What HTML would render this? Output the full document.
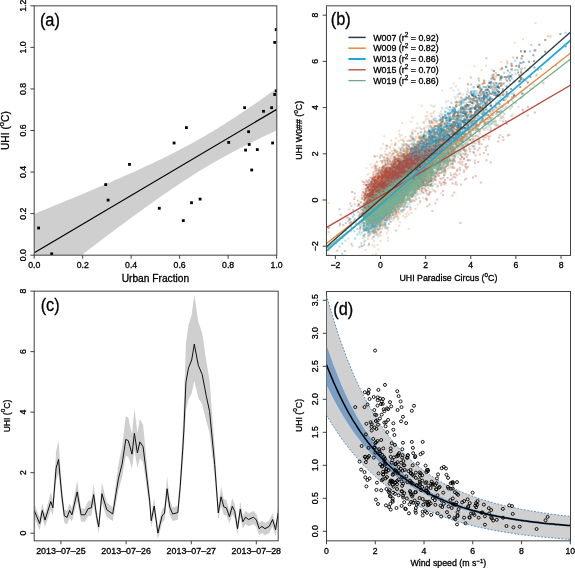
<!DOCTYPE html><html><head><meta charset="utf-8"><style>html,body{margin:0;padding:0;background:#fff;}svg{display:block;will-change:transform;} svg text{stroke:#000;stroke-width:0.3px;}</style></head><body>
<svg width="575" height="568" viewBox="0 0 575 568" font-family='"Liberation Sans", sans-serif' fill="#000">
<rect width="575" height="568" fill="#fff"/>
<defs><clipPath id="ca"><rect x="34.2" y="5.83" width="242.6" height="249.34"/></clipPath><clipPath id="cb"><rect x="326.45" y="5.83" width="244.05" height="249.62"/></clipPath><clipPath id="cc"><rect x="34.2" y="291.17" width="243.97" height="249.66"/></clipPath><clipPath id="cd"><rect x="326.5" y="291.5" width="243.5" height="249.33"/></clipPath></defs>
<g clip-path="url(#ca)"><polygon points="34.3,213.9 38.3,212.2 42.4,210.6 46.4,208.9 50.5,207.3 54.5,205.6 58.5,204.0 62.6,202.3 66.6,200.6 70.7,199.0 74.7,197.3 78.7,195.6 82.8,193.9 86.8,192.2 90.9,190.5 94.9,188.8 98.9,187.1 103.0,185.4 107.0,183.6 111.1,181.9 115.1,180.1 119.1,178.4 123.2,176.6 127.2,174.8 131.3,173.0 135.3,171.2 139.3,169.3 143.4,167.5 147.4,165.6 151.5,163.7 155.5,161.8 159.5,159.9 163.6,157.9 167.6,155.9 171.7,153.9 175.7,151.8 179.7,149.7 183.8,147.6 187.8,145.5 191.9,143.3 195.9,141.0 199.9,138.7 204.0,136.4 208.0,134.1 212.1,131.7 216.1,129.2 220.1,126.7 224.2,124.2 228.2,121.6 232.3,119.0 236.3,116.4 240.3,113.7 244.4,111.0 248.4,108.3 252.5,105.5 256.5,102.7 260.5,99.9 264.6,97.0 268.6,94.1 272.7,91.3 276.7,88.3 276.7,130.4 272.7,132.3 268.6,134.2 264.6,136.1 260.5,138.0 256.5,140.0 252.5,141.9 248.4,144.0 244.4,146.0 240.3,148.1 236.3,150.2 232.3,152.3 228.2,154.5 224.2,156.7 220.1,158.9 216.1,161.2 212.1,163.5 208.0,165.9 204.0,168.3 199.9,170.8 195.9,173.3 191.9,175.8 187.8,178.4 183.8,181.0 179.7,183.7 175.7,186.4 171.7,189.1 167.6,191.9 163.6,194.6 159.5,197.5 155.5,200.3 151.5,203.2 147.4,206.0 143.4,208.9 139.3,211.9 135.3,214.8 131.3,217.8 127.2,220.7 123.2,223.7 119.1,226.7 115.1,229.7 111.1,232.8 107.0,235.8 103.0,238.8 98.9,241.9 94.9,244.9 90.9,248.0 86.8,251.1 82.8,254.2 78.7,257.2 74.7,260.3 70.7,263.4 66.6,266.5 62.6,269.6 58.5,272.8 54.5,275.9 50.5,279.0 46.4,282.1 42.4,285.2 38.3,288.4 34.3,291.5" fill="#cfcfcf"/>
<line x1="34.3" y1="252.7" x2="276.8" y2="109.3" stroke="#000" stroke-width="1.2"/>
<rect x="37.20" y="226.60" width="2.8" height="2.8" fill="#000"/>
<rect x="50.30" y="252.40" width="2.8" height="2.8" fill="#000"/>
<rect x="104.30" y="183.20" width="2.8" height="2.8" fill="#000"/>
<rect x="106.70" y="198.70" width="2.8" height="2.8" fill="#000"/>
<rect x="128.10" y="163.00" width="2.8" height="2.8" fill="#000"/>
<rect x="157.90" y="206.90" width="2.8" height="2.8" fill="#000"/>
<rect x="172.70" y="141.60" width="2.8" height="2.8" fill="#000"/>
<rect x="181.90" y="219.20" width="2.8" height="2.8" fill="#000"/>
<rect x="185.00" y="126.20" width="2.8" height="2.8" fill="#000"/>
<rect x="190.10" y="201.30" width="2.8" height="2.8" fill="#000"/>
<rect x="198.70" y="197.70" width="2.8" height="2.8" fill="#000"/>
<rect x="227.30" y="141.00" width="2.8" height="2.8" fill="#000"/>
<rect x="243.20" y="106.30" width="2.8" height="2.8" fill="#000"/>
<rect x="244.20" y="148.70" width="2.8" height="2.8" fill="#000"/>
<rect x="247.20" y="130.30" width="2.8" height="2.8" fill="#000"/>
<rect x="247.80" y="143.10" width="2.8" height="2.8" fill="#000"/>
<rect x="250.30" y="168.60" width="2.8" height="2.8" fill="#000"/>
<rect x="255.90" y="148.20" width="2.8" height="2.8" fill="#000"/>
<rect x="262.10" y="109.90" width="2.8" height="2.8" fill="#000"/>
<rect x="270.20" y="106.30" width="2.8" height="2.8" fill="#000"/>
<rect x="271.20" y="141.60" width="2.8" height="2.8" fill="#000"/>
<rect x="273.30" y="93.10" width="2.8" height="2.8" fill="#000"/>
<rect x="274.80" y="89.50" width="2.8" height="2.8" fill="#000"/>
<rect x="273.30" y="41.00" width="2.8" height="2.8" fill="#000"/>
<rect x="274.80" y="28.20" width="2.8" height="2.8" fill="#000"/>
</g>
<rect x="34.2" y="5.83" width="242.60" height="249.34" fill="none" stroke="#404040" stroke-width="1.0"/>
<line x1="34.20" y1="255.17" x2="34.20" y2="258.66999999999996" stroke="#404040" stroke-width="1"/>
<text x="34.20" y="268.2" font-size="8.7" text-anchor="middle">0.0</text>
<line x1="82.68" y1="255.17" x2="82.68" y2="258.66999999999996" stroke="#404040" stroke-width="1"/>
<text x="82.68" y="268.2" font-size="8.7" text-anchor="middle">0.2</text>
<line x1="131.16" y1="255.17" x2="131.16" y2="258.66999999999996" stroke="#404040" stroke-width="1"/>
<text x="131.16" y="268.2" font-size="8.7" text-anchor="middle">0.4</text>
<line x1="179.64" y1="255.17" x2="179.64" y2="258.66999999999996" stroke="#404040" stroke-width="1"/>
<text x="179.64" y="268.2" font-size="8.7" text-anchor="middle">0.6</text>
<line x1="228.12" y1="255.17" x2="228.12" y2="258.66999999999996" stroke="#404040" stroke-width="1"/>
<text x="228.12" y="268.2" font-size="8.7" text-anchor="middle">0.8</text>
<line x1="276.60" y1="255.17" x2="276.60" y2="258.66999999999996" stroke="#404040" stroke-width="1"/>
<text x="276.60" y="268.2" font-size="8.7" text-anchor="middle">1.0</text>
<line x1="30.400000000000002" y1="255.17" x2="34.2" y2="255.17" stroke="#404040" stroke-width="1"/>
<text transform="translate(26.2,255.17) rotate(-90)" font-size="8.7" text-anchor="middle">0.0</text>
<line x1="30.400000000000002" y1="213.61" x2="34.2" y2="213.61" stroke="#404040" stroke-width="1"/>
<text transform="translate(26.2,213.61) rotate(-90)" font-size="8.7" text-anchor="middle">0.2</text>
<line x1="30.400000000000002" y1="172.05" x2="34.2" y2="172.05" stroke="#404040" stroke-width="1"/>
<text transform="translate(26.2,172.05) rotate(-90)" font-size="8.7" text-anchor="middle">0.4</text>
<line x1="30.400000000000002" y1="130.49" x2="34.2" y2="130.49" stroke="#404040" stroke-width="1"/>
<text transform="translate(26.2,130.49) rotate(-90)" font-size="8.7" text-anchor="middle">0.6</text>
<line x1="30.400000000000002" y1="88.93" x2="34.2" y2="88.93" stroke="#404040" stroke-width="1"/>
<text transform="translate(26.2,88.93) rotate(-90)" font-size="8.7" text-anchor="middle">0.8</text>
<line x1="30.400000000000002" y1="47.37" x2="34.2" y2="47.37" stroke="#404040" stroke-width="1"/>
<text transform="translate(26.2,47.37) rotate(-90)" font-size="8.7" text-anchor="middle">1.0</text>
<line x1="30.400000000000002" y1="5.81" x2="34.2" y2="5.81" stroke="#404040" stroke-width="1"/>
<text transform="translate(26.2,5.81) rotate(-90)" font-size="8.7" text-anchor="middle">1.2</text>
<text x="155.4" y="282.4" font-size="10.2" text-anchor="middle">Urban Fraction</text>
<text transform="translate(9.3,130.6) rotate(-90)" font-size="10.2" text-anchor="middle">UHI (<tspan font-size="7.65" dy="-5.10">o</tspan><tspan dy="5.10">C)</tspan></text>
<text x="39.9" y="26.2" font-size="18" textLength="20" lengthAdjust="spacingAndGlyphs">(a)</text>
<g clip-path="url(#cb)">
<path d="M398.1 197.0h0M390.8 178.6h0M387.9 205.3h0M370.0 203.1h0M403.4 164.2h0M389.2 178.6h0M380.0 207.0h0M375.1 207.9h0M398.8 187.8h0M394.9 199.3h0M376.8 214.3h0M393.0 184.4h0M380.5 191.3h0M380.7 195.3h0M404.2 181.5h0M391.3 183.3h0M403.9 162.6h0M401.4 183.5h0M395.1 181.0h0M404.8 186.1h0M400.8 150.7h0M385.9 174.9h0M372.6 205.5h0M368.3 219.5h0M376.2 208.2h0M407.3 183.1h0M409.0 145.8h0M376.9 197.0h0M378.7 181.9h0M367.5 213.2h0M377.3 185.7h0M367.1 215.0h0M383.9 167.7h0M381.8 195.7h0M401.6 178.7h0M413.9 172.4h0M401.2 186.9h0M408.2 162.8h0M385.7 200.1h0M399.4 169.2h0M387.2 174.4h0M392.0 177.7h0M389.7 169.8h0M376.2 196.0h0M406.5 159.3h0M403.4 195.3h0M383.0 216.9h0M410.5 190.9h0M393.2 203.0h0M394.0 203.9h0M382.6 184.8h0M402.0 176.9h0M391.1 204.5h0M369.6 201.5h0M386.6 197.6h0M373.0 193.2h0M396.0 197.4h0M387.2 219.3h0M389.3 181.6h0M375.9 215.4h0M410.2 167.3h0M377.1 188.3h0M399.8 166.7h0M411.1 179.3h0M391.9 192.4h0M366.7 196.0h0M381.9 175.3h0M415.6 189.4h0M391.2 180.3h0M419.4 137.4h0M390.0 172.4h0M392.3 186.6h0M408.4 154.6h0M377.7 220.6h0M376.4 229.6h0M411.8 165.7h0M397.4 201.1h0M404.6 185.0h0M406.4 191.2h0M397.2 185.4h0M385.7 183.9h0M385.0 179.5h0M406.9 167.2h0M399.6 182.8h0M400.3 185.2h0M397.4 181.8h0M403.4 182.4h0M406.4 166.4h0M386.9 194.1h0M406.6 178.7h0M386.1 189.4h0M391.3 184.6h0M364.6 217.4h0M393.4 188.3h0M376.1 215.9h0M393.9 168.0h0M374.4 221.0h0M402.8 190.3h0M375.6 193.2h0M366.0 214.0h0M415.0 191.3h0M401.2 168.1h0M387.9 227.7h0M408.0 155.2h0M379.5 219.4h0M402.0 159.5h0M364.3 210.1h0M394.4 186.1h0M382.2 204.7h0M388.8 175.9h0M389.6 181.8h0M394.3 199.8h0M402.7 182.5h0M388.3 180.5h0M386.7 197.4h0M389.9 202.2h0M402.8 184.1h0M412.6 157.5h0M376.3 207.3h0M412.8 176.2h0M413.3 193.1h0M385.9 203.2h0M385.7 205.2h0M403.7 165.3h0M396.1 185.5h0M399.7 159.2h0M387.1 228.4h0M385.9 186.8h0M376.5 232.2h0M435.0 120.5h0M393.2 197.0h0M386.0 189.1h0M387.5 171.6h0M373.5 205.7h0M374.3 194.2h0M393.1 185.5h0M400.3 200.8h0M382.4 188.4h0M377.5 199.7h0M391.8 189.8h0M391.2 187.8h0M402.1 185.7h0M382.0 184.8h0M383.8 175.8h0M385.3 191.7h0M382.6 207.0h0M410.0 186.0h0M411.8 177.7h0M374.4 200.2h0M399.2 178.6h0M379.5 201.0h0M408.7 179.4h0M394.4 177.4h0M397.4 176.6h0M395.3 193.4h0M407.4 159.5h0M387.0 189.4h0M397.3 170.8h0M377.3 181.8h0M389.9 190.6h0M384.0 207.4h0M406.5 170.8h0M381.1 185.0h0M398.4 185.1h0M377.3 189.4h0M404.9 172.2h0M398.1 165.3h0M412.0 159.5h0M382.7 207.7h0M389.8 175.3h0M384.1 188.5h0M386.4 220.0h0M393.9 200.2h0M411.0 186.0h0M380.2 204.9h0M398.5 187.7h0M388.4 203.2h0M368.7 193.4h0M414.3 183.0h0M411.8 170.5h0M399.1 170.1h0M387.9 200.3h0M395.2 185.7h0M411.1 173.6h0M375.6 200.9h0M391.5 180.8h0M390.1 186.9h0M402.5 175.5h0M394.6 191.3h0M395.1 178.4h0M390.2 192.4h0M426.5 181.2h0M374.8 199.6h0M391.7 173.9h0M407.7 161.7h0M374.5 213.7h0M388.6 214.3h0M413.5 175.2h0M412.2 175.5h0M386.7 185.5h0M380.5 209.0h0M397.7 171.1h0M382.7 218.4h0M366.8 217.5h0M392.6 180.6h0M403.7 206.8h0M399.0 184.4h0M413.7 178.1h0M389.9 190.9h0M379.5 207.7h0M390.0 195.7h0M392.1 190.4h0M413.9 189.1h0M369.4 214.8h0M392.1 201.5h0M406.8 170.6h0M372.2 206.3h0M401.3 173.5h0M389.9 184.5h0M380.1 216.7h0M378.5 192.6h0M384.2 205.9h0M394.3 200.7h0M386.9 188.2h0M379.5 222.2h0M389.9 197.3h0M397.2 194.2h0M396.6 165.1h0M403.2 173.8h0M405.9 162.9h0M393.0 192.1h0M377.5 216.5h0M377.0 198.7h0M401.6 204.0h0M396.5 186.4h0M392.2 197.4h0M403.5 172.5h0M400.2 185.4h0M375.6 218.2h0M407.2 150.7h0M386.8 193.6h0M380.2 181.7h0M381.1 197.5h0M405.9 144.0h0M411.2 201.3h0M392.1 189.7h0M389.7 203.0h0M413.4 177.4h0M375.1 207.1h0M405.8 189.2h0M407.9 174.3h0M370.2 186.7h0M412.2 143.4h0M411.7 175.0h0M423.6 182.1h0M382.6 175.5h0M375.2 181.3h0M413.9 157.9h0M372.8 226.3h0M383.1 196.2h0M373.9 197.3h0M392.6 196.0h0M384.5 203.4h0M391.8 185.4h0M395.6 191.1h0M367.9 216.8h0M376.1 198.0h0M402.6 201.2h0M390.6 182.6h0M391.5 182.8h0M395.5 191.4h0M375.2 195.6h0M388.7 197.1h0M383.3 183.6h0M402.4 188.3h0M365.6 229.9h0M392.7 192.1h0M381.3 183.0h0M405.5 178.4h0M382.0 188.2h0M408.7 175.7h0M390.3 182.8h0M372.6 230.9h0M384.3 179.5h0M399.7 190.9h0M385.8 205.5h0M384.2 211.9h0M416.3 187.9h0M382.5 192.2h0M388.6 171.3h0M392.0 175.0h0M396.0 201.7h0M397.3 172.6h0M390.5 187.6h0M411.5 196.3h0M367.5 203.7h0M388.8 178.8h0M367.5 230.1h0M399.5 168.2h0M419.4 186.0h0M393.8 162.6h0M406.0 176.8h0M361.4 243.4h0M402.7 172.2h0M395.5 189.4h0M395.7 184.4h0M375.8 202.4h0M399.2 179.0h0M383.6 202.7h0M398.8 160.5h0M399.9 171.3h0M379.5 194.5h0M403.9 160.4h0M388.6 192.9h0M401.3 172.5h0M379.5 207.1h0M388.5 209.3h0M395.7 162.4h0M389.5 183.8h0M373.8 220.2h0M400.5 174.0h0M382.9 195.6h0M380.2 186.6h0M393.4 206.5h0M405.4 172.8h0M385.8 205.1h0M381.1 200.0h0M371.1 202.1h0M403.9 162.3h0M370.8 206.4h0M397.4 168.6h0M392.0 188.6h0M409.9 181.4h0M386.0 214.2h0M400.1 180.8h0M384.9 165.2h0M386.0 186.5h0M403.4 176.0h0M413.1 168.0h0M363.7 228.1h0M376.7 225.7h0M396.9 204.2h0M394.9 171.0h0M386.9 171.9h0M388.7 194.1h0M404.0 145.1h0M378.4 214.0h0M399.4 197.9h0M414.3 185.7h0M400.0 182.5h0M401.4 160.7h0M406.0 162.2h0M388.3 178.7h0M370.1 213.1h0M410.9 171.3h0M392.0 198.0h0M405.0 187.7h0M382.4 188.1h0M378.5 176.9h0M389.0 181.1h0M395.4 158.5h0M388.9 181.9h0M408.9 189.7h0M399.8 193.0h0M409.6 154.2h0M377.7 195.4h0M375.6 200.4h0M405.8 203.1h0M379.8 225.5h0M394.8 190.2h0M399.8 169.3h0M374.8 185.7h0M383.4 210.3h0M368.1 194.0h0M410.2 173.0h0M374.9 215.4h0M393.9 164.5h0M399.5 159.6h0M369.0 212.1h0M376.5 195.4h0M380.0 195.8h0M385.7 181.8h0M373.2 207.6h0M405.8 176.4h0M375.9 208.7h0M404.5 158.6h0M387.4 200.3h0M399.7 177.3h0M386.0 173.6h0M408.8 157.9h0M403.9 174.9h0M388.7 189.3h0M379.8 212.4h0M381.1 209.0h0M389.0 180.4h0M389.5 178.0h0M387.2 201.7h0M404.4 156.8h0M410.8 165.4h0M391.3 178.5h0M391.0 196.5h0M413.6 164.1h0M401.0 177.3h0M408.6 173.7h0M382.4 162.4h0M461.2 97.6h0M401.9 187.9h0M382.2 193.9h0M409.9 169.3h0M406.5 164.1h0M383.5 186.7h0M385.1 196.4h0M397.3 186.1h0M369.3 212.6h0M385.0 181.9h0M375.3 198.0h0M376.4 188.7h0M367.8 215.5h0M383.2 177.8h0M406.4 160.7h0M399.9 161.2h0M388.5 204.1h0M394.3 196.9h0M399.3 178.1h0M403.6 141.0h0M380.3 210.6h0M395.0 187.8h0M367.5 202.3h0M387.3 203.2h0M380.2 196.5h0M389.6 191.0h0M402.2 161.4h0M381.6 194.1h0M393.7 184.7h0M389.1 176.7h0M392.5 183.9h0M389.2 176.3h0M376.4 198.9h0M397.0 180.2h0M407.1 167.8h0M396.9 187.0h0M382.9 170.2h0M369.4 214.4h0M410.4 207.2h0M391.9 198.2h0M380.4 219.4h0M382.6 204.0h0M387.9 197.6h0M387.6 168.8h0M368.4 209.3h0M395.2 145.0h0M372.2 216.6h0M380.7 155.5h0M401.2 178.8h0M407.7 178.3h0M371.1 211.3h0M391.8 209.8h0M371.4 193.9h0M408.8 180.4h0M392.3 207.9h0M375.2 188.2h0M398.2 179.2h0M379.9 196.7h0M378.0 187.3h0M406.0 165.5h0M399.7 184.4h0M388.8 184.0h0M381.7 214.6h0M403.4 210.3h0M396.9 203.6h0M382.0 212.4h0M383.6 209.1h0M379.9 199.1h0M405.1 166.9h0M385.8 178.9h0M392.0 180.0h0M409.9 184.0h0M390.8 177.4h0M411.5 177.1h0M406.6 171.6h0M395.0 195.0h0M378.0 201.1h0M404.6 175.6h0M403.9 168.0h0M366.9 215.7h0M388.4 204.7h0M402.7 166.6h0M398.0 185.6h0M410.7 177.2h0M394.3 186.0h0M399.2 176.8h0M404.1 188.3h0M395.1 206.3h0M374.4 215.8h0M395.7 195.9h0M382.3 188.5h0M370.7 219.8h0M374.0 217.6h0M379.2 199.8h0M403.7 175.6h0M403.4 197.6h0M381.2 205.6h0M382.7 184.6h0M373.4 206.3h0M393.9 196.4h0M389.4 183.0h0M392.5 175.8h0M376.1 209.4h0M408.5 158.5h0M394.6 187.5h0M379.3 207.9h0M375.4 206.5h0M376.1 189.2h0M378.7 190.3h0M369.4 224.7h0M374.1 216.6h0M366.6 225.9h0M395.8 207.3h0M406.0 156.0h0M401.7 163.5h0M404.2 172.9h0M378.9 185.3h0M429.3 121.0h0M391.4 178.0h0M378.6 193.0h0M393.0 179.5h0M396.4 201.4h0M376.0 190.6h0M383.9 188.2h0M402.6 171.4h0M401.7 197.4h0M372.2 197.2h0M368.4 200.1h0M409.2 171.4h0M379.7 189.1h0M406.5 181.5h0M380.2 207.0h0M386.5 191.1h0M408.8 149.6h0M375.4 208.4h0M388.2 185.7h0M397.6 192.0h0M396.5 186.5h0M384.4 184.4h0M388.2 205.7h0M381.1 193.0h0M387.6 209.6h0M387.7 185.7h0M368.7 205.4h0M399.7 180.8h0M391.6 177.5h0M392.3 162.6h0M392.1 181.1h0M384.3 179.9h0M423.2 185.0h0M365.1 213.3h0M400.1 178.2h0M396.9 181.7h0M382.0 174.9h0M399.3 178.7h0M406.8 179.2h0M378.2 175.6h0M375.4 214.9h0M395.7 187.5h0M402.7 156.9h0M396.0 193.8h0M383.4 193.1h0M389.5 176.2h0M380.3 218.5h0M400.0 167.4h0M380.9 232.1h0M392.9 199.4h0M388.2 190.5h0M386.4 186.8h0M406.9 163.0h0M382.4 201.0h0M392.0 178.3h0M382.0 191.6h0M405.0 178.2h0M393.0 200.6h0M370.9 186.3h0M376.1 219.5h0M411.5 179.9h0M385.6 175.9h0M376.4 211.3h0M390.0 179.9h0M406.0 172.4h0M371.4 211.0h0M387.8 190.7h0M379.1 208.3h0M391.5 167.6h0M407.6 171.7h0M391.1 189.8h0M392.7 181.2h0M366.9 198.8h0M381.3 187.0h0M410.8 149.0h0M384.3 191.3h0M408.8 186.1h0M387.1 170.1h0M377.7 212.4h0M411.9 178.2h0M413.2 167.5h0M388.7 203.1h0M373.1 190.2h0M382.6 200.8h0M375.9 216.0h0M382.5 207.7h0M382.3 202.5h0M395.1 161.7h0M392.5 191.7h0M387.2 175.6h0M399.1 203.2h0M392.9 185.9h0M386.3 206.7h0M382.5 186.1h0M400.7 171.7h0M403.4 165.1h0M409.9 170.6h0M390.9 172.2h0M383.7 194.6h0M398.2 191.6h0M386.9 189.4h0M386.1 197.7h0M393.2 165.3h0M383.3 189.8h0M389.2 188.9h0M411.1 188.2h0M384.7 203.3h0M375.7 208.8h0M396.0 194.7h0M396.3 159.8h0M374.7 231.4h0M393.5 182.2h0M384.7 201.8h0M367.8 199.7h0M413.3 148.7h0M382.3 208.7h0M363.1 212.8h0M395.7 181.0h0M408.3 180.2h0M380.3 202.8h0M397.0 198.8h0M392.3 205.1h0M370.9 223.1h0M394.6 205.5h0M402.0 190.3h0M377.8 193.7h0M389.9 198.7h0M398.4 185.3h0M413.8 161.6h0M408.8 164.9h0M388.6 177.9h0M389.3 200.2h0M396.9 183.8h0M397.0 177.2h0M414.2 157.4h0M381.1 207.7h0M403.9 183.4h0M393.6 201.5h0M390.4 175.6h0M403.0 191.2h0M377.6 196.7h0M391.4 187.5h0M388.6 202.1h0M378.7 193.2h0M369.0 194.5h0M375.0 207.2h0M398.4 166.8h0M409.6 155.5h0M388.3 171.1h0M412.3 156.6h0M380.1 225.2h0M372.3 178.5h0M392.9 179.0h0M383.7 198.0h0M406.8 171.0h0M390.5 185.6h0M395.1 178.1h0M377.9 200.8h0M384.5 188.9h0M397.4 176.1h0M390.2 172.9h0M383.7 204.1h0M394.7 189.8h0M373.5 201.7h0M412.8 154.7h0M385.6 198.3h0M405.2 162.3h0M387.9 187.5h0M365.9 216.6h0M399.7 174.7h0M386.2 200.9h0M397.4 189.5h0M397.7 170.3h0M380.6 171.5h0M398.2 178.9h0M387.9 202.2h0M401.1 170.8h0M380.3 206.3h0M398.0 192.7h0M381.0 217.6h0M412.3 133.0h0M396.0 181.6h0M396.2 172.9h0M379.4 202.1h0M375.8 226.5h0M386.5 190.2h0M378.2 176.6h0M395.4 166.8h0M389.7 197.6h0M384.4 181.4h0M394.8 173.4h0M372.6 199.2h0M406.8 177.0h0M392.4 194.7h0M388.8 167.7h0M389.6 186.3h0M403.8 181.5h0M384.0 210.3h0M372.8 200.1h0M395.2 190.7h0M392.7 177.3h0M382.4 172.2h0M388.1 210.6h0M401.2 167.9h0M371.1 209.1h0M384.0 210.2h0M380.3 185.0h0M387.6 159.0h0M375.5 196.6h0M403.5 162.9h0M388.0 177.0h0M380.0 204.7h0M384.9 193.6h0M371.5 214.5h0M388.5 159.3h0M400.8 184.9h0M367.3 206.6h0M381.5 191.9h0M393.6 168.0h0M402.4 177.3h0M370.9 207.1h0M383.7 171.4h0M385.8 188.9h0M380.8 195.3h0M378.0 173.4h0M395.5 197.6h0M376.1 183.6h0M395.0 186.6h0M377.3 191.9h0M412.6 162.8h0M377.6 196.9h0M392.7 212.4h0M410.4 167.4h0M374.0 200.1h0M385.1 189.6h0M383.3 182.4h0M383.1 197.4h0M414.0 170.8h0M385.4 189.1h0M363.8 236.0h0M377.2 185.3h0M400.6 177.9h0M374.7 206.5h0M392.6 174.0h0M387.6 161.3h0M392.7 188.4h0M411.6 160.9h0M375.5 215.0h0M405.0 178.6h0M399.3 164.6h0M391.2 191.6h0M400.4 173.8h0M380.6 205.9h0M396.4 194.0h0M396.4 199.3h0M399.0 200.9h0M367.8 215.6h0M413.2 188.5h0M394.5 162.8h0M395.0 177.8h0M372.1 186.7h0M382.6 171.7h0M384.8 188.3h0M399.1 168.3h0M412.4 144.9h0M373.4 202.1h0M383.7 192.5h0M371.0 214.8h0M376.1 207.9h0M398.5 177.0h0M363.3 182.1h0M401.4 171.5h0M393.8 183.3h0M402.0 164.6h0M389.3 211.6h0M409.2 177.3h0M392.7 183.9h0M386.0 197.6h0M387.0 187.7h0M389.1 184.7h0M403.7 195.7h0M372.3 220.4h0M371.5 207.5h0M376.9 194.7h0M407.0 167.8h0M385.3 170.1h0M364.8 203.9h0M388.5 179.6h0M411.7 172.3h0M393.9 182.3h0M381.4 171.7h0M374.5 177.5h0M384.2 191.5h0M395.4 199.6h0M390.3 191.2h0M400.4 181.6h0M397.0 185.5h0M399.9 185.0h0M374.3 190.1h0M372.6 210.3h0M375.9 196.8h0M395.1 165.0h0M370.8 221.7h0M397.7 182.8h0M387.1 173.2h0M373.3 200.0h0M365.7 191.3h0M413.8 171.0h0M372.4 202.1h0M374.6 221.4h0M385.6 224.8h0M379.6 211.2h0M407.0 172.5h0M374.1 208.0h0M397.7 190.4h0M393.4 186.2h0M361.7 217.0h0M392.9 194.2h0M385.4 188.5h0M382.7 204.6h0M373.5 211.7h0M389.9 215.0h0M379.8 201.5h0M395.3 188.6h0M374.4 209.7h0M393.6 178.6h0M378.0 194.8h0M390.0 161.3h0M370.6 207.5h0M378.1 219.3h0M400.5 183.1h0M394.0 161.1h0M391.4 174.4h0M378.5 229.2h0M379.5 180.4h0M399.7 195.3h0M395.3 200.3h0M391.7 184.7h0M386.0 187.0h0M381.6 188.0h0M395.9 187.9h0M408.5 159.1h0M369.9 216.0h0M380.2 193.6h0M401.1 192.0h0M375.8 208.7h0M375.1 189.0h0M388.3 205.2h0M401.2 174.6h0M390.2 173.7h0M378.5 199.7h0M388.0 190.8h0M384.1 189.4h0M380.4 199.3h0M388.6 183.4h0M404.8 181.0h0M383.3 185.3h0M413.7 159.2h0M425.1 131.6h0M395.8 172.0h0M384.3 214.4h0M378.2 201.5h0M387.3 173.8h0M366.3 188.2h0M382.5 166.9h0M408.0 166.1h0M405.1 187.1h0M379.7 180.3h0M363.8 225.0h0M369.6 215.0h0M394.6 195.4h0M392.7 202.6h0M408.9 198.3h0M376.4 209.9h0M406.6 167.3h0M412.3 148.4h0M381.5 204.1h0M402.1 187.7h0M395.6 175.2h0M393.7 169.9h0M375.0 207.4h0M385.6 195.8h0M371.4 206.4h0M394.7 195.1h0M411.1 152.0h0M410.1 176.5h0M397.6 189.5h0M399.4 170.9h0M408.0 176.3h0M398.4 196.6h0M378.9 214.6h0M374.2 188.8h0M380.8 194.8h0M375.6 182.5h0M384.7 187.4h0M385.4 195.2h0M389.3 180.0h0M382.7 215.8h0M365.9 209.8h0M406.8 206.4h0M376.7 217.7h0M386.0 196.1h0M374.3 214.1h0M375.3 206.9h0M374.9 210.6h0M375.2 205.7h0M373.8 186.0h0M375.2 217.3h0M395.7 185.6h0M400.5 175.7h0M368.8 213.8h0M395.3 180.3h0M391.5 180.6h0M412.0 161.2h0M404.5 192.3h0M389.8 181.1h0M412.6 184.9h0M375.0 196.7h0M388.3 214.3h0M411.2 180.1h0M411.1 167.2h0M393.2 186.7h0M374.5 194.3h0M400.3 166.8h0M420.3 201.3h0M381.8 155.3h0M408.9 172.4h0M416.2 199.6h0M396.6 182.0h0M405.4 169.0h0M390.8 174.6h0M380.2 177.0h0M388.5 218.3h0M410.9 159.7h0M376.6 189.2h0M392.5 208.1h0M413.6 163.4h0M404.4 167.0h0M390.9 198.1h0M439.6 115.9h0M413.1 153.6h0M392.3 204.6h0M413.8 162.6h0M450.2 160.2h0M393.6 171.0h0M413.9 162.5h0M459.1 150.6h0M397.9 192.1h0M414.1 167.1h0M406.2 194.0h0M391.5 170.5h0M412.4 186.0h0M388.2 173.3h0M430.8 126.7h0M402.5 200.7h0M407.9 164.1h0M415.0 193.1h0M407.1 183.5h0M393.0 171.7h0M406.1 165.6h0M408.5 177.1h0M490.4 130.1h0M405.1 181.6h0M403.7 184.6h0M452.2 163.3h0M411.6 168.3h0M479.0 80.4h0M410.0 173.1h0M406.5 183.6h0M441.5 118.0h0M412.3 172.2h0M406.3 170.6h0M376.1 196.8h0M389.5 180.8h0M386.4 187.5h0M392.3 193.3h0M450.0 107.0h0M388.8 177.3h0M410.1 190.0h0M407.1 173.4h0M412.0 166.0h0M405.9 169.6h0M395.5 183.9h0M391.3 199.7h0M389.3 198.5h0M409.1 169.5h0M398.5 178.2h0M410.1 175.2h0M406.7 199.7h0M400.6 169.3h0M407.7 173.7h0M445.8 166.7h0M470.2 139.9h0M410.5 167.6h0M396.4 168.5h0M402.0 177.6h0M445.3 111.9h0M456.7 101.8h0M427.0 184.5h0M424.4 181.4h0M523.5 93.7h0M445.5 165.9h0M369.1 195.0h0M377.0 216.2h0M401.7 161.1h0M396.4 196.8h0M339.6 209.3h0M363.9 215.7h0M349.2 219.4h0M367.5 207.2h0M400.8 174.5h0M400.3 193.8h0M363.1 228.4h0M396.6 187.2h0M367.5 200.4h0M396.7 183.0h0M392.5 190.2h0M403.1 158.5h0M383.6 192.1h0M339.9 225.2h0M387.1 203.4h0M396.5 191.4h0M386.0 195.3h0M357.4 228.9h0M388.7 178.0h0M371.7 206.8h0M373.4 198.9h0M394.5 182.5h0M381.8 197.0h0M359.5 224.4h0M358.2 212.0h0M361.6 246.0h0M359.5 247.3h0M399.6 177.4h0M392.2 182.9h0M376.3 186.4h0M394.9 169.8h0M389.1 219.5h0M379.5 200.5h0M369.8 219.0h0M391.9 171.6h0M394.2 176.9h0M406.0 191.6h0M352.1 192.0h0M412.0 150.3h0M357.5 229.1h0M378.4 209.0h0M389.3 172.2h0M382.4 199.4h0M369.6 231.1h0M380.6 172.9h0M389.6 204.8h0M374.7 231.7h0M379.5 196.1h0M515.7 102.8h0M411.4 171.9h0M403.9 177.1h0M473.6 87.5h0M510.3 108.6h0M411.5 173.6h0M485.5 128.4h0M521.0 97.9h0M462.6 149.6h0M486.3 58.3h0M470.8 77.6h0M430.8 175.7h0" stroke="#2b3a42" stroke-opacity="0.27" stroke-width="2.0" stroke-linecap="square" fill="none"/>
<path d="M369.2 183.6h0M379.6 202.9h0M402.5 190.2h0M376.9 197.8h0M379.4 190.5h0M393.8 180.9h0M400.8 178.9h0M401.2 194.4h0M395.8 199.8h0M386.1 171.2h0M373.1 180.5h0M387.2 188.4h0M393.5 201.5h0M381.1 204.1h0M390.6 190.9h0M383.6 166.7h0M389.3 198.3h0M387.1 205.7h0M418.1 188.4h0M405.8 174.7h0M370.1 203.6h0M409.1 146.9h0M387.2 180.0h0M389.3 179.9h0M372.9 198.4h0M398.9 185.4h0M388.3 195.8h0M390.5 185.1h0M404.6 191.7h0M380.9 205.1h0M374.0 181.0h0M397.4 194.5h0M395.4 172.4h0M376.9 196.7h0M385.2 199.1h0M382.4 199.1h0M389.8 196.2h0M380.8 172.6h0M392.7 185.8h0M399.4 188.5h0M383.9 183.8h0M407.2 174.9h0M412.3 172.0h0M385.0 190.5h0M389.5 215.1h0M381.8 181.5h0M380.9 194.8h0M376.6 192.3h0M367.0 194.2h0M362.8 215.6h0M386.4 170.9h0M382.9 192.7h0M389.2 200.5h0M399.4 188.1h0M378.4 213.8h0M395.3 176.0h0M380.1 192.8h0M379.2 218.6h0M411.6 175.0h0M387.4 185.5h0M384.7 186.5h0M379.6 195.4h0M382.2 169.4h0M386.4 187.5h0M377.2 185.4h0M413.2 161.0h0M389.2 182.2h0M380.9 191.7h0M400.9 176.3h0M396.5 188.8h0M404.2 169.5h0M387.3 188.3h0M387.3 180.3h0M376.5 183.2h0M385.6 191.1h0M408.6 158.0h0M397.2 183.2h0M393.2 181.9h0M402.1 181.7h0M384.3 157.2h0M386.1 197.1h0M378.2 203.7h0M396.5 172.7h0M386.4 148.6h0M364.2 223.1h0M376.1 191.0h0M405.9 184.4h0M396.9 183.2h0M383.5 196.7h0M375.8 212.5h0M375.1 209.5h0M397.0 203.2h0M401.9 167.4h0M410.0 175.3h0M396.1 193.2h0M366.8 212.5h0M368.8 207.9h0M390.1 205.5h0M374.5 190.8h0M409.6 185.4h0M377.3 196.8h0M374.9 218.9h0M391.7 200.4h0M392.9 169.4h0M400.5 167.1h0M401.3 177.5h0M397.1 181.9h0M377.2 214.6h0M412.6 171.7h0M408.2 169.8h0M412.6 152.8h0M390.4 188.3h0M390.4 197.8h0M376.3 180.3h0M396.7 164.6h0M370.3 197.5h0M374.1 193.2h0M406.2 158.4h0M382.8 188.1h0M377.4 201.1h0M391.3 179.8h0M393.9 180.0h0M369.5 206.7h0M403.5 170.5h0M376.7 216.9h0M383.5 192.0h0M367.1 204.5h0M369.7 205.4h0M385.3 186.9h0M405.9 180.4h0M392.6 183.1h0M382.3 211.7h0M411.9 138.7h0M371.1 221.3h0M402.1 210.5h0M373.2 218.6h0M388.3 198.2h0M406.5 178.1h0M383.2 171.2h0M380.3 212.0h0M391.2 193.0h0M390.0 187.0h0M376.4 188.9h0M379.0 209.1h0M380.5 176.8h0M367.4 217.3h0M390.5 192.0h0M378.8 205.7h0M397.4 166.5h0M408.2 172.0h0M385.7 190.1h0M399.1 186.3h0M369.8 204.6h0M376.7 169.5h0M379.6 167.8h0M400.0 166.1h0M386.1 179.6h0M395.8 213.7h0M389.6 169.4h0M402.4 172.2h0M389.8 168.9h0M384.5 191.9h0M378.5 211.9h0M379.8 187.5h0M392.9 191.9h0M389.5 189.6h0M388.0 185.5h0M395.2 150.4h0M399.0 164.6h0M374.0 204.5h0M403.1 178.4h0M372.8 204.9h0M403.0 157.3h0M382.9 191.2h0M372.5 208.8h0M382.6 218.8h0M408.6 176.4h0M373.5 222.9h0M394.6 181.4h0M377.6 203.7h0M368.1 183.9h0M398.8 183.6h0M393.2 188.2h0M394.5 189.2h0M406.5 156.2h0M378.9 181.9h0M393.9 178.5h0M380.5 184.4h0M370.1 201.9h0M380.8 214.1h0M368.0 187.4h0M381.1 182.1h0M424.1 128.4h0M385.7 182.4h0M397.5 177.4h0M370.0 209.7h0M377.7 209.7h0M375.8 180.9h0M409.1 164.4h0M393.6 168.5h0M380.5 184.3h0M384.0 208.8h0M391.8 198.7h0M373.3 196.2h0M387.6 183.1h0M402.3 170.7h0M397.2 197.6h0M380.3 169.9h0M391.7 181.2h0M392.3 191.5h0M388.5 185.4h0M400.0 187.8h0M411.3 175.9h0M369.8 234.6h0M387.0 218.0h0M397.9 177.1h0M387.6 182.7h0M372.0 212.5h0M401.3 185.0h0M376.1 184.4h0M387.2 192.1h0M385.7 191.6h0M388.8 195.5h0M388.7 208.7h0M405.1 201.5h0M375.4 199.0h0M372.1 195.4h0M405.5 162.1h0M374.9 209.9h0M385.6 222.5h0M411.5 183.1h0M376.7 184.3h0M393.7 197.9h0M376.0 194.2h0M383.9 199.4h0M406.1 172.0h0M374.5 232.7h0M390.7 193.2h0M380.3 206.7h0M398.2 201.8h0M375.9 185.1h0M393.2 171.7h0M398.7 175.9h0M383.9 215.9h0M377.0 212.2h0M376.8 191.1h0M384.5 213.2h0M396.4 182.1h0M394.4 174.8h0M407.0 188.1h0M382.3 191.5h0M370.4 208.4h0M383.0 174.6h0M381.4 189.7h0M387.3 184.9h0M393.1 183.3h0M391.9 178.0h0M395.3 174.0h0M380.6 185.2h0M397.1 175.6h0M396.8 191.1h0M362.7 213.5h0M373.9 203.9h0M380.7 207.5h0M373.0 199.8h0M390.7 200.0h0M377.9 198.2h0M400.4 148.7h0M406.3 178.3h0M376.1 215.7h0M374.9 189.4h0M406.7 180.1h0M376.5 196.5h0M386.1 199.2h0M384.9 211.6h0M398.1 168.1h0M364.2 244.7h0M377.8 189.6h0M376.6 180.8h0M401.1 196.9h0M377.9 202.4h0M413.6 176.6h0M394.7 184.2h0M372.4 231.3h0M395.7 211.0h0M400.0 184.5h0M388.7 190.6h0M380.1 207.9h0M381.5 196.8h0M379.2 211.3h0M395.6 186.8h0M389.3 191.2h0M366.3 214.8h0M399.0 175.0h0M386.3 190.1h0M372.3 209.2h0M379.4 197.2h0M378.4 212.8h0M374.2 194.1h0M380.5 192.3h0M397.0 163.9h0M401.4 187.9h0M378.5 200.0h0M375.9 212.9h0M397.5 165.1h0M380.7 186.0h0M390.2 208.3h0M374.1 194.5h0M405.2 174.0h0M399.3 171.8h0M385.1 172.9h0M395.6 171.1h0M383.4 206.0h0M401.2 174.5h0M379.9 210.0h0M403.1 202.0h0M389.3 187.7h0M371.4 203.4h0M378.0 173.2h0M385.1 171.6h0M391.6 186.7h0M384.0 177.5h0M381.0 209.2h0M382.1 195.1h0M389.4 186.0h0M377.2 216.1h0M379.8 183.7h0M399.7 173.9h0M377.9 215.8h0M413.6 157.0h0M390.5 175.6h0M412.0 158.1h0M400.5 193.4h0M391.0 184.8h0M381.9 193.4h0M388.8 177.2h0M395.3 163.0h0M369.9 200.1h0M379.5 192.8h0M383.6 199.8h0M378.2 222.2h0M390.2 211.3h0M413.9 146.2h0M389.0 185.9h0M404.5 194.5h0M406.0 182.4h0M377.6 196.7h0M381.7 183.4h0M397.5 179.2h0M397.7 169.5h0M413.7 153.3h0M386.2 178.4h0M384.3 175.2h0M408.1 170.2h0M406.2 162.6h0M387.0 196.3h0M397.6 176.8h0M387.7 199.8h0M389.8 179.3h0M401.3 178.6h0M393.1 188.1h0M390.2 188.5h0M374.9 223.7h0M395.1 197.1h0M397.3 188.4h0M381.7 200.1h0M388.4 188.7h0M404.1 184.2h0M399.5 181.8h0M372.7 198.7h0M404.8 186.2h0M380.8 193.7h0M414.1 178.6h0M379.9 226.2h0M403.6 169.5h0M397.2 199.8h0M401.1 195.5h0M390.3 198.4h0M388.4 191.2h0M374.3 200.6h0M402.2 167.6h0M402.2 160.5h0M387.5 182.7h0M392.5 197.7h0M407.5 171.4h0M393.6 178.9h0M394.5 173.3h0M399.8 206.8h0M382.2 180.0h0M390.9 172.7h0M386.5 171.3h0M377.0 210.0h0M389.0 203.0h0M382.1 210.7h0M394.6 198.0h0M389.8 195.7h0M370.9 213.5h0M403.2 189.1h0M395.7 158.4h0M399.7 188.6h0M389.6 181.8h0M401.1 184.1h0M390.6 180.1h0M378.3 187.7h0M374.2 180.8h0M406.4 175.9h0M378.4 197.7h0M374.4 190.8h0M374.7 197.8h0M379.7 204.6h0M390.4 196.5h0M374.9 183.4h0M376.2 205.2h0M403.9 179.3h0M372.4 192.6h0M400.1 172.0h0M387.6 196.0h0M409.3 157.5h0M399.3 195.0h0M400.6 175.9h0M386.4 186.7h0M406.5 159.8h0M368.5 226.8h0M372.3 205.9h0M398.1 188.5h0M388.4 199.8h0M413.8 155.1h0M371.9 195.1h0M376.1 194.1h0M399.3 187.3h0M382.4 183.5h0M407.0 151.7h0M397.8 153.9h0M395.0 177.3h0M406.2 181.3h0M419.8 136.8h0M395.3 159.0h0M378.4 229.4h0M366.5 192.1h0M384.4 205.4h0M413.8 171.5h0M360.2 213.8h0M387.1 171.1h0M392.1 211.8h0M398.3 182.8h0M405.6 158.2h0M383.8 211.9h0M409.4 199.9h0M400.2 194.9h0M409.8 153.4h0M386.4 212.3h0M368.7 212.3h0M388.5 187.5h0M379.1 214.6h0M385.7 178.5h0M407.1 188.9h0M378.8 209.4h0M398.3 186.8h0M389.0 171.9h0M380.8 182.5h0M386.9 145.9h0M386.1 165.1h0M393.9 179.8h0M401.2 179.0h0M404.7 154.4h0M398.1 186.3h0M403.5 161.9h0M379.3 185.3h0M410.4 160.8h0M410.0 164.1h0M365.3 208.3h0M386.4 190.3h0M405.4 163.6h0M399.9 194.3h0M390.5 167.4h0M392.3 187.4h0M395.4 189.4h0M406.6 170.0h0M391.0 171.8h0M373.3 197.3h0M376.0 205.0h0M393.4 188.6h0M402.5 181.1h0M389.3 170.1h0M391.7 208.7h0M394.9 179.5h0M380.1 198.0h0M410.0 161.4h0M401.6 187.9h0M399.0 172.6h0M391.8 193.3h0M388.2 185.5h0M387.1 176.8h0M402.6 176.7h0M394.7 185.9h0M380.0 223.4h0M385.1 186.0h0M401.3 179.1h0M406.1 156.4h0M403.4 177.5h0M389.4 197.3h0M392.9 184.5h0M372.8 225.9h0M393.3 169.9h0M374.2 200.2h0M378.7 170.8h0M397.5 185.9h0M396.4 183.1h0M382.0 177.0h0M388.6 187.1h0M363.7 208.2h0M389.8 194.4h0M386.5 212.7h0M396.0 176.4h0M396.6 187.9h0M381.3 212.5h0M411.8 168.5h0M393.7 191.5h0M370.2 193.5h0M397.3 195.2h0M393.6 183.9h0M388.4 209.4h0M377.6 191.9h0M410.3 163.4h0M395.2 167.8h0M380.1 203.9h0M376.5 181.0h0M400.9 185.4h0M371.3 218.1h0M383.5 177.8h0M401.7 182.6h0M395.6 169.3h0M384.1 205.4h0M373.6 237.1h0M379.0 202.7h0M374.7 185.5h0M395.5 175.6h0M381.0 208.7h0M373.1 203.8h0M381.9 181.6h0M406.4 163.0h0M400.9 165.2h0M360.6 227.2h0M377.7 182.4h0M390.3 197.1h0M410.9 156.6h0M406.0 154.6h0M373.0 222.3h0M383.1 197.4h0M399.2 193.7h0M401.1 168.0h0M392.6 214.9h0M364.0 217.8h0M396.8 203.6h0M386.6 186.8h0M388.3 182.4h0M390.0 212.8h0M408.8 162.4h0M378.7 198.0h0M388.3 196.1h0M401.2 190.6h0M371.8 195.6h0M387.4 186.1h0M392.9 196.3h0M374.2 208.7h0M397.1 201.7h0M381.4 196.8h0M409.2 177.0h0M401.5 190.9h0M405.5 186.7h0M402.2 184.1h0M388.4 178.1h0M375.2 211.2h0M373.2 201.6h0M380.2 196.6h0M369.5 211.6h0M399.9 185.8h0M367.9 182.1h0M388.9 199.2h0M383.4 197.8h0M386.2 206.2h0M378.4 189.9h0M397.6 164.2h0M389.6 198.8h0M395.1 186.4h0M374.9 215.2h0M396.5 197.2h0M404.5 172.0h0M395.1 178.2h0M400.7 203.4h0M384.4 222.4h0M384.8 183.4h0M381.3 196.6h0M379.6 198.3h0M380.0 214.5h0M373.1 202.0h0M371.8 191.5h0M367.6 200.1h0M396.7 188.1h0M386.9 179.4h0M388.7 181.6h0M372.5 214.8h0M377.4 181.2h0M379.8 189.4h0M381.2 225.1h0M407.2 167.5h0M412.6 147.0h0M385.8 172.7h0M387.7 197.6h0M389.4 184.4h0M381.6 207.8h0M388.7 178.5h0M407.8 177.5h0M383.7 206.4h0M400.6 194.1h0M391.1 188.9h0M401.4 175.9h0M376.0 189.3h0M389.7 187.6h0M378.7 200.0h0M386.1 175.6h0M384.0 197.0h0M366.1 184.8h0M374.7 215.5h0M378.1 191.8h0M400.0 167.9h0M370.1 211.5h0M383.2 194.8h0M406.8 155.7h0M385.7 202.4h0M381.4 189.8h0M414.3 154.2h0M390.8 185.4h0M402.4 147.5h0M391.5 202.4h0M402.1 165.0h0M397.2 168.7h0M397.4 189.6h0M407.1 174.0h0M403.0 150.4h0M380.5 201.4h0M395.5 195.2h0M381.1 206.6h0M394.2 171.3h0M402.2 189.3h0M387.8 188.9h0M412.7 154.3h0M395.8 216.4h0M371.9 215.6h0M389.0 204.9h0M375.5 213.5h0M384.6 192.8h0M398.3 186.4h0M387.0 184.9h0M379.5 206.8h0M380.3 191.0h0M412.7 157.0h0M378.0 203.0h0M390.1 191.0h0M379.7 197.0h0M391.1 182.3h0M368.6 213.9h0M363.7 192.4h0M398.7 186.6h0M377.1 199.2h0M404.4 178.7h0M406.9 176.6h0M388.1 183.8h0M385.7 195.4h0M383.2 182.7h0M403.2 165.1h0M379.4 189.1h0M379.9 203.0h0M409.4 157.3h0M386.4 202.4h0M401.1 191.5h0M366.1 216.9h0M379.0 201.9h0M393.8 193.9h0M396.2 212.5h0M377.5 205.1h0M396.7 178.0h0M388.0 209.3h0M391.0 210.0h0M385.2 187.7h0M407.9 168.3h0M390.8 191.4h0M384.3 181.7h0M388.3 215.4h0M410.7 159.7h0M404.8 177.9h0M413.1 183.2h0M394.0 192.0h0M388.0 177.8h0M403.6 185.3h0M398.9 201.2h0M411.1 178.2h0M413.8 171.1h0M380.7 202.8h0M390.9 189.7h0M390.8 168.7h0M369.8 201.9h0M375.5 208.2h0M395.1 184.4h0M378.0 212.1h0M373.4 190.4h0M372.2 217.9h0M385.5 194.0h0M374.3 208.0h0M404.3 175.1h0M384.6 201.9h0M386.9 182.2h0M394.4 184.0h0M369.9 199.4h0M393.5 188.0h0M396.6 182.7h0M406.4 164.6h0M384.6 197.3h0M398.3 180.4h0M394.2 195.0h0M378.5 200.6h0M411.6 159.7h0M404.9 205.4h0M378.0 201.6h0M405.2 188.8h0M384.5 186.5h0M393.6 195.5h0M404.6 165.7h0M384.1 211.7h0M389.9 175.8h0M396.2 230.5h0M381.6 194.7h0M402.8 185.3h0M384.6 171.7h0M379.7 196.7h0M386.3 185.4h0M372.2 210.2h0M415.2 189.1h0M402.6 200.6h0M369.2 220.5h0M383.8 184.8h0M376.2 218.2h0M377.3 210.8h0M383.5 183.9h0M393.8 192.5h0M368.8 214.9h0M395.6 177.6h0M386.3 207.6h0M396.6 181.5h0M393.5 209.3h0M403.4 194.9h0M384.6 184.0h0M390.2 187.9h0M393.7 164.7h0M395.0 183.8h0M389.8 205.9h0M380.2 212.1h0M377.7 209.6h0M390.8 193.8h0M408.7 167.4h0M372.0 213.3h0M421.3 129.2h0M371.7 211.0h0M375.8 195.3h0M368.5 199.4h0M385.8 190.9h0M395.7 190.4h0M400.1 191.9h0M385.5 200.3h0M382.2 192.2h0M388.3 198.1h0M399.8 163.9h0M413.3 176.7h0M384.0 176.2h0M379.4 202.8h0M397.1 195.1h0M390.4 196.3h0M372.1 211.6h0M372.9 221.3h0M395.7 185.0h0M397.5 161.0h0M408.7 185.0h0M392.4 198.0h0M402.0 168.5h0M404.3 171.2h0M369.1 243.8h0M410.8 167.4h0M396.7 198.8h0M382.7 184.8h0M386.6 206.7h0M387.3 200.8h0M410.2 178.0h0M389.8 167.8h0M381.8 194.6h0M385.8 197.9h0M391.9 191.7h0M378.9 177.0h0M401.0 192.6h0M387.8 182.1h0M383.6 186.6h0M401.2 175.9h0M372.3 201.3h0M390.9 206.0h0M372.3 198.6h0M404.5 188.1h0M413.9 144.4h0M388.8 198.7h0M397.9 194.5h0M382.1 181.7h0M381.9 195.9h0M381.5 195.3h0M381.1 198.9h0M397.8 208.7h0M383.3 202.1h0M400.1 165.0h0M387.7 175.0h0M373.2 208.7h0M374.3 184.7h0M405.1 158.0h0M398.9 176.2h0M457.1 102.2h0M377.7 197.2h0M381.1 199.3h0M385.7 169.4h0M406.1 160.2h0M384.0 205.9h0M375.2 182.8h0M382.4 178.9h0M388.8 189.4h0M380.4 185.3h0M393.2 197.9h0M369.3 215.8h0M376.2 202.0h0M398.0 206.6h0M382.3 195.2h0M375.7 194.6h0M380.1 203.7h0M395.5 190.0h0M367.7 202.4h0M376.9 182.0h0M379.4 188.1h0M396.4 174.2h0M401.8 192.4h0M406.5 194.3h0M380.6 199.8h0M380.1 196.6h0M407.1 172.7h0M375.3 207.4h0M393.2 182.4h0M378.0 188.9h0M378.4 205.6h0M392.0 200.0h0M387.8 195.6h0M363.8 226.0h0M394.3 195.5h0M383.1 206.1h0M396.9 182.3h0M407.2 151.4h0M403.9 150.9h0M389.1 174.2h0M398.0 191.3h0M408.8 179.7h0M375.9 201.8h0M388.0 207.0h0M388.5 178.4h0M391.4 200.3h0M400.5 183.5h0M381.7 187.5h0M402.6 172.5h0M398.3 180.1h0M378.1 193.1h0M388.3 203.0h0M402.1 173.9h0M383.8 181.9h0M389.8 188.2h0M382.1 189.3h0M399.0 185.6h0M400.0 182.1h0M384.9 203.6h0M391.7 206.2h0M408.5 169.9h0M372.2 208.1h0M390.9 177.5h0M384.3 209.5h0M373.3 209.4h0M383.5 182.3h0M371.1 203.7h0M381.9 208.7h0M397.1 181.4h0M402.0 183.1h0M376.8 200.3h0M388.5 182.0h0M404.9 174.4h0M387.1 215.9h0M375.8 189.2h0M372.6 178.4h0M384.6 193.6h0M387.9 176.3h0M390.9 183.7h0M404.4 176.0h0M387.7 197.0h0M385.7 190.2h0M373.0 202.7h0M396.0 183.4h0M372.4 207.0h0M384.4 189.4h0M386.3 203.0h0M400.4 188.4h0M397.3 179.1h0M399.1 183.7h0M402.7 177.0h0M383.1 189.5h0M398.6 200.8h0M394.1 179.5h0M389.7 172.3h0M387.7 211.0h0M367.7 221.1h0M379.8 217.1h0M381.9 202.7h0M397.3 194.7h0M403.5 180.7h0M409.7 192.4h0M387.6 171.6h0M384.5 208.8h0M413.6 155.2h0M394.7 180.9h0M394.1 199.6h0M386.0 211.0h0M401.2 174.3h0M401.2 169.7h0M379.5 221.4h0M405.8 175.6h0M374.5 219.3h0M375.7 200.7h0M395.0 185.3h0M373.6 232.2h0M376.5 196.8h0M386.5 182.4h0M376.3 183.0h0M379.2 203.7h0M370.6 208.2h0M390.6 198.2h0M377.1 201.8h0M401.6 162.8h0M411.0 180.5h0M400.8 203.5h0M370.7 216.3h0M376.8 202.9h0M367.6 199.5h0M402.0 171.2h0M377.1 189.5h0M371.3 222.0h0M384.7 185.4h0M382.5 205.4h0M403.2 193.7h0M408.2 165.0h0M413.5 174.5h0M401.4 176.2h0M406.6 178.9h0M411.8 177.0h0M459.4 94.0h0M404.1 196.6h0M406.2 148.5h0M407.5 176.7h0M413.5 179.8h0M429.6 192.6h0M380.0 181.8h0M435.6 176.8h0M380.4 192.4h0M475.2 143.4h0M398.4 191.7h0M388.7 193.1h0M412.0 197.1h0M398.7 169.3h0M403.4 165.6h0M444.6 114.5h0M408.6 164.1h0M387.1 168.4h0M421.1 131.9h0M451.3 102.8h0M412.4 185.9h0M466.9 94.4h0M403.8 149.5h0M403.6 192.5h0M385.2 184.2h0M453.8 159.5h0M419.9 137.4h0M455.5 102.2h0M409.9 162.2h0M412.8 167.7h0M403.6 193.2h0M405.1 165.7h0M468.2 84.6h0M408.8 177.7h0M407.3 173.7h0M410.8 171.2h0M431.5 121.4h0M362.0 213.2h0M402.5 167.0h0M401.6 172.4h0M406.6 156.2h0M407.7 188.1h0M412.3 180.5h0M397.1 192.3h0M389.0 224.0h0M412.2 147.8h0M411.9 180.2h0M425.0 180.2h0M381.0 208.0h0M394.3 208.6h0M397.4 174.0h0M396.7 184.8h0M414.1 182.7h0M437.5 168.7h0M461.1 155.3h0M400.2 192.1h0M400.5 187.7h0M403.0 190.5h0M400.2 187.9h0M447.3 159.5h0M500.9 111.6h0M433.5 119.2h0M491.8 123.7h0M413.0 153.0h0M403.2 184.0h0M378.4 215.1h0M375.4 209.2h0M329.9 262.6h0M412.2 147.8h0M384.0 193.0h0M386.7 210.1h0M409.6 179.5h0M376.4 199.0h0M357.7 206.0h0M354.5 221.4h0M368.2 203.8h0M387.4 203.2h0M385.8 198.7h0M342.4 238.1h0M396.5 189.4h0M388.5 190.1h0M404.0 176.4h0M383.3 202.6h0M378.9 192.2h0M379.4 195.4h0M412.2 139.3h0M397.3 189.2h0M375.0 227.3h0M405.6 184.6h0M376.4 203.9h0M406.2 178.7h0M364.0 205.2h0M377.9 193.7h0M398.3 183.7h0M407.5 161.9h0M394.8 186.1h0M350.7 226.3h0M351.2 221.9h0M373.3 203.2h0M328.6 250.0h0M382.8 209.3h0M404.9 197.9h0M383.4 183.6h0M383.8 210.7h0M344.8 251.0h0M370.0 192.2h0M401.4 183.7h0M386.8 207.5h0M385.5 189.4h0M386.1 206.1h0M389.9 193.3h0M413.4 160.8h0M394.2 203.5h0M361.6 206.1h0M402.8 180.8h0M385.4 210.1h0M483.8 139.6h0M401.5 185.3h0M479.1 143.9h0M471.2 84.5h0M499.8 112.2h0M432.0 185.9h0M412.7 165.0h0M454.6 155.7h0M490.7 119.7h0M512.1 106.6h0M418.0 133.5h0M534.8 112.6h0" stroke="#2b3a42" stroke-opacity="0.27" stroke-width="2.0" stroke-linecap="square" fill="none"/>
<path d="M425.4 172.6h0M418.2 160.8h0M421.5 181.7h0M427.6 156.1h0M418.2 167.1h0M429.5 133.5h0M416.1 153.7h0M434.2 157.2h0M414.9 147.6h0M440.8 128.7h0M468.3 127.6h0M432.2 136.0h0M430.0 155.4h0M425.6 165.8h0M418.5 175.6h0M421.8 164.7h0M414.7 168.1h0M437.9 150.5h0M418.1 152.4h0M446.3 145.3h0M416.5 172.0h0M425.7 172.3h0M427.7 150.0h0M421.3 143.7h0M416.1 174.5h0M423.8 159.7h0M430.9 157.9h0M443.8 139.0h0M439.3 139.0h0M419.7 178.3h0M417.3 171.6h0M432.2 138.4h0M426.2 160.4h0M419.2 150.3h0M423.4 150.5h0M423.6 154.4h0M418.9 179.7h0M435.5 153.4h0M455.9 141.9h0M416.0 171.3h0M444.1 153.3h0M440.1 133.9h0M416.8 155.5h0M417.3 164.7h0M421.5 159.9h0M415.3 168.4h0M414.6 168.7h0M437.4 164.0h0M416.6 166.8h0M416.3 178.3h0M422.0 157.0h0M415.7 171.0h0M419.3 182.4h0M417.2 157.0h0M415.7 182.4h0M425.8 148.3h0M416.3 169.7h0M422.3 148.7h0M420.1 161.7h0M420.0 153.0h0M422.1 155.9h0M440.9 132.9h0M421.2 163.5h0M437.0 161.8h0M425.3 158.1h0M439.6 129.9h0M463.6 109.3h0M453.2 133.9h0M438.7 127.9h0M484.0 115.3h0M460.4 112.2h0M447.7 139.4h0M429.6 163.6h0M457.9 128.6h0M449.3 153.7h0M454.9 124.0h0M430.5 154.0h0M446.2 134.5h0M447.2 146.7h0M474.5 115.2h0M431.4 162.5h0M438.5 143.5h0M438.3 148.9h0M419.8 152.5h0M416.1 151.1h0M424.6 139.2h0M447.4 137.0h0M456.1 106.5h0M439.4 135.3h0M450.3 148.6h0M479.6 92.7h0M486.1 103.4h0M447.8 139.0h0M479.2 98.3h0M455.2 123.3h0M444.4 136.5h0M463.2 121.3h0M443.1 139.2h0M437.8 149.3h0M453.1 138.0h0M490.0 99.0h0M457.1 133.1h0M423.2 143.3h0M423.3 168.8h0M443.0 135.1h0M458.2 115.9h0M429.2 149.8h0M442.7 150.0h0M449.4 136.2h0M416.0 155.2h0M490.4 82.9h0M426.8 139.4h0M476.9 110.3h0M447.9 152.4h0M428.6 138.8h0M429.5 147.0h0M438.9 128.4h0M457.9 119.0h0M439.0 146.9h0M482.6 117.8h0M472.0 102.8h0M449.7 146.5h0M452.3 130.5h0M426.2 156.6h0M447.3 135.2h0M451.9 138.0h0M443.0 135.5h0M460.4 109.8h0M434.9 133.5h0M426.4 168.3h0M453.0 116.0h0M432.8 136.8h0M472.0 95.0h0M473.2 107.7h0M458.6 127.9h0M447.7 126.1h0M463.7 111.7h0M434.8 146.4h0M451.9 124.6h0M418.0 166.7h0M449.8 137.8h0M446.5 139.3h0M470.3 112.3h0M433.7 141.5h0M433.2 140.8h0M414.9 156.0h0M440.7 146.4h0M432.6 136.5h0M473.7 99.2h0M479.5 95.7h0M425.8 158.5h0M438.2 147.7h0M447.6 117.7h0M455.0 124.6h0M434.2 158.0h0M445.0 133.1h0M421.6 170.4h0M459.8 115.7h0M420.8 168.3h0M474.8 108.9h0M429.0 161.4h0M435.3 141.0h0M415.6 149.5h0M499.2 83.6h0M457.5 134.3h0M438.1 143.6h0M440.8 132.4h0M451.8 140.1h0M422.9 170.4h0M439.2 134.7h0M458.5 127.9h0M435.9 141.5h0M428.4 173.7h0M444.4 130.0h0M418.0 185.9h0M429.4 144.2h0M437.7 146.5h0M439.8 145.1h0M461.0 135.5h0M449.0 129.1h0M472.3 116.4h0M458.7 120.8h0M458.0 125.3h0M490.6 102.5h0M436.0 146.1h0M421.1 174.9h0M441.7 162.3h0M476.5 111.2h0M459.5 126.8h0M475.9 120.9h0M488.3 99.8h0M485.1 123.5h0M486.5 102.2h0M482.9 105.6h0M450.1 125.6h0M481.6 90.4h0M479.6 107.4h0M493.9 70.9h0M514.1 94.7h0M500.9 86.0h0M522.4 56.0h0M475.8 106.4h0M470.8 102.2h0M486.4 97.9h0M436.8 144.5h0M483.7 112.0h0M489.8 93.6h0M461.4 129.0h0M415.3 181.0h0M421.7 157.4h0M432.3 143.0h0M419.9 152.4h0M464.4 112.9h0M527.8 82.4h0M464.6 112.7h0M417.6 176.3h0M512.3 97.4h0M454.8 134.3h0M495.4 87.7h0M454.9 132.5h0M498.8 75.0h0M560.4 34.1h0M452.6 150.6h0M497.5 86.7h0M496.8 95.1h0M461.2 123.7h0M422.5 165.5h0M519.1 67.3h0M477.3 118.6h0M527.7 70.3h0M456.1 134.0h0M478.3 106.0h0M517.0 57.8h0M437.5 152.9h0M501.9 106.4h0M487.6 89.8h0M420.2 160.0h0M524.7 51.6h0M450.3 120.2h0M423.6 137.8h0M465.5 127.7h0M465.0 106.4h0M454.3 124.4h0M435.0 137.4h0M479.0 109.6h0M444.2 132.7h0M474.4 107.5h0M439.6 150.4h0M454.9 113.1h0M484.3 95.1h0M539.4 44.7h0M494.3 95.0h0M470.3 112.1h0M477.5 109.8h0M506.9 93.9h0M565.6 46.6h0M506.6 76.9h0M508.1 102.5h0M451.1 153.9h0M442.3 156.9h0M498.9 87.8h0M519.8 80.9h0M501.1 76.5h0M441.3 123.4h0M440.5 138.9h0M506.0 77.5h0M464.4 121.8h0M495.0 94.6h0M505.0 77.0h0" stroke="#2b3a42" stroke-opacity="0.45" stroke-width="2.0" stroke-linecap="square" fill="none"/>
<path d="M443.7 145.6h0M419.7 142.9h0M437.8 140.9h0M422.2 157.2h0M431.0 153.6h0M435.9 144.3h0M421.2 179.5h0M422.0 174.8h0M437.1 126.0h0M428.6 166.1h0M419.0 160.3h0M462.3 136.9h0M420.5 170.1h0M416.5 178.2h0M418.4 165.8h0M419.3 168.4h0M430.8 138.7h0M431.4 139.9h0M419.3 164.7h0M425.4 146.5h0M419.5 167.9h0M415.3 176.5h0M428.7 143.4h0M423.0 158.7h0M440.8 139.1h0M416.4 179.2h0M428.3 161.4h0M447.0 128.8h0M440.1 152.9h0M446.8 131.9h0M464.8 121.6h0M419.5 173.0h0M422.3 162.6h0M443.1 157.5h0M417.6 177.4h0M416.0 151.3h0M422.2 172.0h0M415.8 173.4h0M437.8 134.4h0M416.6 174.5h0M420.6 155.6h0M414.6 166.8h0M422.2 147.7h0M416.9 164.6h0M429.4 160.0h0M415.7 159.0h0M434.5 153.8h0M429.4 131.4h0M435.6 137.2h0M426.8 160.1h0M435.2 141.3h0M447.2 154.1h0M418.8 178.4h0M421.5 159.5h0M416.0 163.2h0M431.2 133.3h0M433.5 149.9h0M454.0 126.0h0M420.4 163.0h0M443.4 145.0h0M436.5 154.3h0M439.8 139.7h0M430.2 154.0h0M437.6 163.3h0M443.8 142.0h0M421.6 150.6h0M433.5 150.6h0M452.1 152.8h0M420.0 142.6h0M465.0 119.8h0M429.6 137.0h0M453.7 127.5h0M432.2 161.1h0M475.8 96.5h0M463.4 112.8h0M442.5 153.5h0M456.8 135.7h0M455.7 136.7h0M460.9 126.1h0M428.4 149.4h0M433.1 153.0h0M456.1 111.9h0M426.6 146.8h0M505.9 66.7h0M422.9 170.3h0M423.0 167.7h0M434.2 136.7h0M424.2 175.9h0M460.2 132.8h0M419.4 173.3h0M445.5 149.3h0M456.8 120.9h0M454.1 132.6h0M433.0 148.6h0M449.0 141.1h0M487.5 94.7h0M430.2 163.6h0M421.8 163.5h0M423.8 146.9h0M450.0 129.8h0M425.7 140.2h0M435.6 157.1h0M500.9 78.0h0M435.9 144.3h0M485.9 92.7h0M431.2 162.2h0M423.0 159.7h0M461.2 127.1h0M448.9 140.9h0M436.5 139.2h0M450.2 120.2h0M439.3 150.2h0M465.0 135.6h0M483.8 96.7h0M426.2 145.1h0M444.8 123.8h0M439.2 141.4h0M456.8 123.0h0M484.9 96.4h0M478.2 106.9h0M459.0 132.1h0M456.5 138.4h0M431.1 139.5h0M422.2 140.9h0M481.4 94.7h0M433.4 137.1h0M438.6 138.1h0M425.9 149.3h0M441.3 125.4h0M417.8 156.1h0M423.6 136.4h0M482.1 107.9h0M421.0 149.1h0M421.5 151.1h0M458.2 126.0h0M507.3 96.6h0M449.3 121.1h0M449.2 139.0h0M436.4 131.9h0M440.8 149.4h0M415.8 147.1h0M416.2 156.6h0M444.9 140.1h0M422.1 146.6h0M439.4 124.3h0M418.7 147.2h0M435.8 149.5h0M467.8 98.1h0M418.0 158.5h0M451.0 144.7h0M457.9 126.7h0M445.9 126.2h0M425.0 164.4h0M439.2 141.6h0M434.8 153.7h0M434.6 164.4h0M426.8 157.9h0M449.9 128.8h0M471.0 91.8h0M419.4 166.6h0M447.0 123.3h0M470.6 116.7h0M422.1 153.8h0M440.8 147.9h0M448.4 139.7h0M414.6 170.7h0M424.8 171.1h0M465.5 123.3h0M434.7 142.3h0M464.0 134.6h0M476.7 110.8h0M458.1 131.3h0M457.9 128.3h0M455.5 133.3h0M446.3 126.0h0M453.4 122.2h0M454.2 115.6h0M447.9 148.7h0M414.5 153.6h0M431.4 131.5h0M520.8 79.4h0M465.5 113.8h0M481.1 100.8h0M466.4 97.4h0M452.3 131.6h0M511.1 89.1h0M427.4 156.6h0M487.2 96.4h0M444.3 160.9h0M462.5 120.8h0M485.0 113.5h0M462.7 108.0h0M498.6 95.5h0M493.1 92.8h0M419.3 167.3h0M482.2 119.3h0M470.8 107.9h0M424.4 151.1h0M465.4 134.0h0M492.7 91.4h0M420.8 166.6h0M480.4 91.4h0M498.0 94.4h0M433.5 161.2h0M490.8 105.2h0M489.1 91.5h0M463.8 137.1h0M477.1 101.9h0M435.0 132.0h0M430.5 159.5h0M422.7 153.0h0M425.3 145.0h0M416.8 155.1h0M496.3 96.0h0M484.1 99.1h0M533.4 55.2h0M457.0 140.0h0M481.8 121.1h0M468.6 106.6h0M435.9 144.7h0M473.4 95.8h0M462.3 128.2h0M421.3 167.9h0M469.3 120.8h0M476.0 97.4h0M489.1 83.0h0M455.8 125.8h0M502.4 77.3h0M461.2 138.6h0M483.5 91.9h0M513.9 96.0h0M455.9 135.6h0M451.4 150.7h0M456.5 119.1h0M494.4 85.3h0M484.5 93.4h0M431.9 136.6h0M498.4 86.9h0M463.9 131.8h0M520.4 77.2h0M485.8 104.6h0M424.1 168.3h0M478.1 86.9h0M519.3 75.3h0M479.9 87.8h0M457.9 145.9h0M475.6 101.0h0M474.1 115.2h0M415.2 169.5h0M479.1 111.7h0M463.3 121.9h0M472.0 114.9h0M475.5 108.4h0M475.7 106.7h0M481.0 107.8h0M475.3 112.5h0M453.1 150.7h0M471.7 99.3h0M455.2 122.3h0M475.4 100.7h0M449.7 135.9h0M466.0 115.3h0M421.8 164.2h0M440.3 132.7h0M498.9 92.0h0M521.9 93.4h0M501.2 78.1h0M460.1 130.4h0M464.1 127.6h0" stroke="#2b3a42" stroke-opacity="0.45" stroke-width="2.0" stroke-linecap="square" fill="none"/>
<path d="M421.9 161.8h0M419.9 167.7h0M417.0 158.3h0M432.7 153.6h0M422.4 164.8h0M431.9 138.8h0M418.7 176.4h0M470.3 117.0h0M414.4 149.9h0M421.5 173.8h0M417.0 160.6h0M419.6 157.4h0M421.6 149.6h0M431.9 141.8h0M421.3 148.8h0M429.2 150.9h0M415.6 152.0h0M429.7 157.5h0M444.7 143.8h0M414.8 172.0h0M429.5 143.7h0M426.0 167.2h0M443.7 148.3h0M439.4 154.3h0M453.1 127.6h0M464.2 125.1h0M429.1 161.1h0M420.2 162.6h0M433.6 155.4h0M431.8 138.0h0M439.9 150.8h0M416.5 146.3h0M437.7 140.6h0M420.5 155.4h0M414.5 151.8h0M430.6 147.6h0M415.3 163.7h0M457.8 129.6h0M424.2 155.4h0M438.6 140.4h0M421.4 149.7h0M427.2 143.7h0M426.3 156.5h0M423.2 156.6h0M419.1 166.2h0M417.1 181.5h0M415.4 165.7h0M455.0 142.8h0M423.5 136.6h0M433.5 166.6h0M430.4 154.9h0M426.7 151.0h0M426.6 155.7h0M421.6 156.4h0M418.7 161.6h0M450.2 144.2h0M424.7 143.7h0M416.2 154.4h0M422.8 158.4h0M429.2 160.9h0M428.9 167.4h0M418.3 163.5h0M440.5 119.9h0M450.0 147.7h0M458.8 124.1h0M442.6 119.2h0M440.0 152.1h0M427.8 149.2h0M441.7 140.2h0M442.5 139.0h0M433.8 130.5h0M429.0 146.4h0M416.6 163.4h0M442.3 147.8h0M472.6 102.9h0M422.6 170.2h0M441.6 144.9h0M450.7 130.0h0M472.4 95.6h0M433.7 165.6h0M431.1 141.0h0M476.2 105.3h0M470.8 109.1h0M414.8 170.7h0M416.4 152.8h0M469.7 129.4h0M429.0 130.6h0M442.4 130.0h0M416.0 170.6h0M467.9 120.7h0M438.9 157.4h0M484.9 103.3h0M434.0 145.4h0M497.5 75.0h0M454.6 122.7h0M470.2 111.4h0M436.9 145.8h0M440.6 147.3h0M448.3 134.6h0M458.6 116.8h0M440.5 149.2h0M430.7 146.7h0M441.0 128.7h0M442.3 140.9h0M469.0 96.2h0M425.4 154.0h0M479.9 107.2h0M456.3 144.1h0M442.6 143.9h0M429.4 143.0h0M474.8 97.1h0M454.3 140.9h0M461.1 132.7h0M465.0 123.3h0M445.0 155.9h0M423.2 146.3h0M479.4 98.9h0M447.5 147.8h0M452.1 130.1h0M447.3 126.6h0M431.4 148.8h0M445.4 154.2h0M434.7 148.3h0M433.8 161.9h0M426.3 165.4h0M431.3 168.7h0M463.4 128.0h0M468.5 126.3h0M431.7 137.4h0M474.9 108.4h0M454.4 141.7h0M415.8 147.4h0M426.1 162.1h0M423.7 146.7h0M415.8 170.8h0M454.2 138.5h0M463.1 141.7h0M424.0 156.1h0M459.0 127.0h0M480.3 122.7h0M415.6 157.5h0M430.8 166.4h0M452.7 131.0h0M446.8 120.6h0M466.0 113.7h0M484.4 83.1h0M460.2 120.2h0M422.5 169.9h0M453.4 117.6h0M455.8 137.5h0M443.3 158.3h0M426.2 151.5h0M468.2 125.3h0M447.6 151.2h0M445.3 115.6h0M418.8 145.2h0M450.8 140.8h0M420.7 140.5h0M443.9 147.7h0M438.9 139.2h0M421.4 168.0h0M439.8 139.4h0M450.2 120.2h0M426.0 151.1h0M490.1 117.5h0M439.3 136.0h0M417.5 163.5h0M448.4 140.0h0M430.7 140.0h0M493.1 77.7h0M442.4 121.6h0M446.6 134.0h0M440.9 123.4h0M438.5 145.9h0M440.5 126.1h0M478.5 125.4h0M473.2 100.4h0M464.4 100.0h0M430.6 158.4h0M459.5 134.8h0M545.3 40.1h0M520.3 87.1h0M496.9 89.4h0M497.6 91.0h0M441.9 147.3h0M470.2 120.2h0M493.5 78.8h0M516.4 66.1h0M497.4 112.0h0M423.8 171.6h0M461.3 141.5h0M471.9 122.1h0M457.7 134.4h0M479.6 100.6h0M454.2 148.5h0M529.1 61.8h0M418.3 144.7h0M513.9 81.7h0M440.6 133.2h0M478.5 110.7h0M442.7 149.9h0M502.7 94.9h0M477.8 86.9h0M451.0 119.0h0M510.6 76.5h0M495.7 107.3h0M482.9 109.6h0M433.7 149.9h0M428.8 157.2h0M435.5 149.6h0M415.5 173.1h0M427.4 155.7h0M464.5 114.0h0M482.0 98.0h0M467.1 104.9h0M511.6 65.7h0M487.9 89.6h0M509.0 78.6h0M459.3 127.8h0M459.5 134.3h0M474.5 123.6h0M457.0 116.0h0M461.4 132.5h0M423.5 178.5h0M507.2 86.8h0M448.6 142.8h0M482.7 107.7h0M521.0 51.3h0M463.4 115.9h0M442.9 117.1h0M471.6 124.6h0M441.8 147.4h0M474.1 96.3h0M483.6 100.1h0M460.9 107.9h0M496.2 83.0h0M503.7 83.6h0M457.7 112.6h0M434.4 149.4h0M521.0 78.4h0M446.0 118.1h0M490.0 100.4h0M470.5 135.0h0M488.9 87.0h0M478.3 95.2h0M464.3 120.1h0M486.3 114.7h0M490.0 111.3h0M459.1 134.7h0M451.3 130.0h0M471.2 93.7h0M430.3 141.5h0M534.4 67.4h0M502.1 68.3h0M472.8 129.8h0M467.1 117.0h0M461.2 141.1h0M521.2 72.5h0M465.2 115.6h0M466.2 106.7h0M473.0 94.2h0M519.1 81.6h0M511.8 69.6h0M471.5 121.3h0M495.4 92.5h0M451.1 125.6h0M491.7 93.9h0M490.4 97.4h0" stroke="#2b3a42" stroke-opacity="0.45" stroke-width="2.0" stroke-linecap="square" fill="none"/>
<path d="M415.7 159.7h0M424.2 155.0h0M420.6 163.0h0M446.3 131.7h0M423.4 148.6h0M421.5 138.0h0M417.7 164.3h0M424.9 162.1h0M426.6 163.3h0M417.0 158.6h0M424.6 158.9h0M415.0 156.2h0M440.6 145.7h0M415.0 165.9h0M423.8 169.7h0M487.2 92.8h0M418.5 171.2h0M417.3 174.9h0M419.3 167.7h0M414.4 174.7h0M417.1 160.3h0M423.1 172.5h0M436.1 140.2h0M425.8 170.8h0M418.5 175.6h0M434.6 133.7h0M426.9 150.3h0M434.9 160.4h0M427.3 158.1h0M435.0 161.9h0M466.4 119.9h0M429.4 131.8h0M419.4 173.4h0M434.3 141.4h0M418.0 142.4h0M445.9 117.9h0M418.2 165.2h0M420.5 161.0h0M419.5 167.6h0M427.4 154.2h0M437.3 148.6h0M441.4 133.8h0M449.0 135.1h0M423.1 164.5h0M423.3 161.4h0M419.3 177.2h0M431.8 156.2h0M440.5 144.4h0M432.0 163.8h0M421.6 178.7h0M421.3 148.4h0M423.7 160.3h0M419.7 166.1h0M416.9 162.1h0M415.5 152.0h0M421.2 163.3h0M426.9 161.7h0M415.4 185.7h0M454.1 137.9h0M425.9 154.5h0M422.2 155.0h0M414.5 163.6h0M444.4 157.5h0M449.0 114.2h0M448.3 113.8h0M435.3 126.1h0M417.8 164.7h0M449.5 119.1h0M416.9 148.2h0M452.8 109.9h0M454.7 124.7h0M422.1 179.8h0M435.0 164.9h0M439.5 162.3h0M425.2 166.8h0M462.6 108.2h0M419.2 153.4h0M430.5 164.4h0M444.7 134.0h0M434.2 155.9h0M434.0 156.2h0M425.1 146.9h0M446.5 144.5h0M420.2 157.4h0M440.4 150.7h0M455.0 110.8h0M438.1 129.5h0M442.1 144.6h0M461.0 101.7h0M435.8 144.9h0M422.7 147.3h0M423.6 144.4h0M439.3 145.9h0M435.3 134.9h0M429.8 160.3h0M420.8 171.2h0M444.2 152.7h0M463.4 121.7h0M454.3 134.2h0M475.1 113.8h0M465.9 99.2h0M445.1 136.1h0M432.8 153.9h0M432.4 131.3h0M427.4 169.4h0M457.7 113.4h0M438.6 147.2h0M427.3 143.8h0M475.1 112.3h0M437.4 152.0h0M433.6 148.2h0M428.4 141.1h0M421.9 152.8h0M419.5 162.9h0M425.0 148.0h0M443.2 138.0h0M444.5 136.8h0M455.3 151.8h0M457.8 114.7h0M430.4 144.8h0M460.8 128.1h0M443.7 140.2h0M424.3 142.2h0M447.5 139.3h0M469.7 109.2h0M444.6 149.3h0M432.6 155.1h0M461.3 112.1h0M446.5 131.0h0M467.0 118.1h0M431.1 144.6h0M425.8 151.6h0M431.8 150.1h0M443.9 138.2h0M490.8 106.1h0M440.4 134.9h0M421.9 153.5h0M442.8 121.6h0M489.1 86.8h0M419.2 167.0h0M436.9 153.8h0M448.3 154.3h0M441.9 130.7h0M431.6 155.5h0M438.3 145.9h0M452.9 126.5h0M436.2 150.2h0M481.2 89.4h0M454.3 134.0h0M422.2 162.4h0M466.5 108.4h0M458.7 125.6h0M447.4 134.5h0M446.8 157.8h0M468.4 105.1h0M442.8 157.0h0M433.2 140.7h0M432.0 172.9h0M471.0 116.0h0M466.6 105.3h0M455.0 109.5h0M443.8 138.1h0M466.0 124.1h0M423.8 135.2h0M420.2 169.0h0M434.4 146.4h0M465.3 128.9h0M467.3 112.2h0M419.8 162.0h0M438.7 145.2h0M424.1 167.8h0M444.0 147.6h0M471.0 111.5h0M433.7 152.3h0M453.3 133.6h0M429.2 136.8h0M447.3 140.7h0M444.1 139.2h0M426.3 158.3h0M502.7 89.3h0M498.4 95.6h0M494.7 79.6h0M508.1 101.7h0M428.9 163.6h0M478.2 104.6h0M524.9 51.5h0M510.7 76.5h0M535.3 50.2h0M484.0 97.9h0M450.5 125.9h0M436.9 132.7h0M487.8 95.3h0M485.3 96.4h0M483.9 96.0h0M435.6 156.0h0M462.5 113.0h0M507.7 70.5h0M443.1 142.9h0M438.5 141.3h0M467.8 129.6h0M468.8 120.3h0M482.6 102.0h0M431.6 151.5h0M482.7 93.2h0M510.1 80.6h0M478.6 86.1h0M520.3 63.0h0M494.7 93.3h0M414.8 159.9h0M418.0 162.4h0M416.4 144.6h0M431.7 153.9h0M465.2 130.2h0M462.6 142.0h0M492.1 99.0h0M534.6 50.5h0M477.8 129.0h0M506.6 92.0h0M534.0 61.3h0M452.3 146.7h0M488.5 115.0h0M480.7 109.4h0M545.1 51.8h0M523.3 79.6h0M466.3 112.2h0M519.1 65.6h0M499.4 104.1h0M482.3 114.2h0M458.2 126.4h0M456.4 130.2h0M438.2 147.0h0M518.2 72.5h0M486.2 109.6h0M468.8 131.8h0M480.2 107.3h0M500.6 83.6h0M467.6 105.5h0M511.5 63.7h0M497.6 86.9h0M530.5 77.1h0M498.9 92.1h0M452.2 127.7h0M459.5 102.4h0M493.4 74.8h0M507.2 80.7h0M458.1 134.2h0M462.7 133.1h0M503.5 100.0h0M500.6 78.6h0M521.5 58.4h0M484.3 121.5h0M523.6 61.9h0M488.3 100.3h0M486.1 90.0h0M417.8 171.9h0M476.2 124.7h0M455.3 116.8h0M438.1 158.3h0M483.8 101.6h0M457.8 130.0h0M431.9 146.0h0M453.9 113.8h0M484.7 105.6h0M479.6 107.9h0M491.2 82.3h0M465.2 128.2h0M468.1 124.8h0M491.4 78.5h0" stroke="#2b3a42" stroke-opacity="0.45" stroke-width="2.0" stroke-linecap="square" fill="none"/>
<path d="M382.5 167.0h0M386.2 216.1h0M384.8 158.7h0M365.6 261.4h0M401.7 152.8h0M418.1 187.4h0M436.2 120.7h0M414.0 140.0h0M397.3 154.7h0M373.0 254.9h0M387.4 164.6h0M373.6 227.7h0M394.0 159.2h0M376.7 176.4h0M410.7 141.1h0M396.7 207.1h0M389.8 164.5h0M387.9 167.3h0M379.6 175.2h0M381.2 148.4h0M394.7 157.8h0M402.3 122.9h0M390.4 163.9h0M388.2 161.6h0M383.1 225.6h0M375.2 174.0h0M427.3 112.1h0M391.6 218.5h0M395.2 144.0h0M385.1 154.2h0M382.3 226.3h0M371.5 180.4h0M382.0 219.7h0M373.2 172.6h0M382.1 228.9h0M393.3 211.8h0M390.9 156.8h0M393.9 150.6h0M393.8 159.2h0M411.1 134.9h0M403.3 147.9h0M478.9 131.8h0M419.9 202.8h0M376.5 174.0h0M375.0 174.8h0M379.3 174.1h0M419.7 127.5h0M400.9 205.1h0M395.2 207.3h0M374.6 246.5h0M375.0 229.8h0M381.7 225.8h0M387.9 214.1h0M397.8 156.0h0M385.1 151.4h0M372.6 178.0h0M390.6 162.4h0M394.1 217.8h0M383.0 224.1h0M391.9 154.3h0M374.8 169.1h0M428.7 176.8h0M383.2 170.8h0M394.1 209.2h0M399.8 222.2h0M394.4 150.7h0M412.1 200.5h0M426.6 190.3h0M398.0 216.7h0M402.1 143.9h0M393.9 162.0h0M385.4 219.8h0M384.0 221.3h0M390.6 162.1h0M398.5 147.5h0M401.7 153.5h0M450.2 165.8h0M385.0 216.8h0M383.8 159.8h0M377.2 156.2h0M367.4 233.7h0M392.1 213.0h0M388.2 230.7h0M371.9 167.3h0M388.9 160.2h0M389.1 160.6h0M384.9 168.1h0M436.9 169.8h0M386.4 164.1h0M379.3 225.5h0M380.8 225.8h0M405.1 217.4h0M398.8 208.4h0M420.3 186.8h0M421.6 187.3h0M397.1 152.1h0M376.5 178.1h0M378.6 230.4h0M398.7 212.6h0M364.9 237.5h0M412.2 201.9h0M385.5 217.6h0M375.1 175.9h0M403.2 151.1h0M417.8 204.6h0M375.4 166.6h0M380.5 240.9h0M399.7 206.8h0M393.6 153.3h0M392.4 220.6h0M390.3 146.6h0M372.4 238.8h0M382.1 219.4h0M369.0 235.8h0M412.2 141.0h0M397.2 215.3h0M387.8 163.6h0M389.0 166.3h0M396.2 214.1h0M381.9 162.7h0M387.1 219.9h0M407.0 144.5h0M400.7 139.9h0M440.1 178.4h0M379.3 175.7h0M400.7 149.7h0M385.7 227.7h0M397.8 156.1h0M401.2 201.8h0M407.2 147.9h0M431.7 180.4h0M427.5 125.8h0M382.0 227.7h0M402.9 204.1h0M386.1 227.2h0M411.9 196.1h0M387.8 240.7h0M389.4 146.8h0M385.0 225.3h0M368.3 245.3h0M375.7 232.2h0M410.0 144.6h0M362.2 181.1h0M375.1 229.5h0M397.3 152.0h0M408.9 214.6h0M388.7 213.3h0M408.0 148.3h0M404.5 200.2h0M412.6 117.5h0M428.3 118.8h0M411.9 131.8h0M383.0 226.3h0M384.9 169.4h0M434.3 111.2h0M400.3 156.0h0M393.4 161.2h0M440.6 168.3h0M399.8 155.9h0M408.5 140.8h0M372.9 238.5h0M399.9 213.7h0M418.4 136.3h0M373.9 241.1h0M413.3 196.6h0M425.8 127.3h0M391.4 158.1h0M375.2 170.7h0M378.2 249.6h0M409.8 197.4h0M383.2 165.5h0M374.5 229.9h0M411.1 137.1h0M373.6 166.5h0M413.5 196.3h0M394.2 214.6h0M391.4 212.9h0M383.2 157.2h0M414.4 141.8h0M399.8 136.6h0M399.0 207.6h0M390.2 215.6h0M381.6 161.0h0M377.4 234.0h0M394.0 148.6h0M413.0 130.5h0M397.8 219.2h0M417.6 192.2h0M385.0 217.1h0M379.2 256.4h0M398.0 211.0h0M442.4 171.6h0M450.7 108.0h0M408.7 228.7h0M447.8 169.1h0M441.0 111.6h0M451.1 88.0h0M395.4 213.2h0M433.5 125.8h0M441.2 193.0h0M453.7 83.5h0M446.2 101.5h0M449.3 158.4h0M416.1 191.4h0M393.2 161.6h0M460.3 159.4h0M433.5 113.0h0M403.3 215.9h0M485.9 65.7h0M466.1 151.4h0M425.5 116.6h0M479.9 142.2h0M427.0 181.2h0M408.0 148.7h0M418.4 186.9h0M450.2 160.9h0M452.7 108.0h0M425.1 181.2h0M437.3 168.6h0M424.7 130.3h0M440.2 114.2h0M431.3 116.1h0M459.5 173.9h0M450.1 163.6h0M405.4 136.9h0M453.1 163.0h0M434.7 105.7h0M448.4 100.7h0M486.0 137.5h0M454.3 160.0h0M414.1 191.4h0M474.5 66.2h0M420.5 133.0h0M459.3 100.4h0M495.8 124.9h0M463.7 154.1h0M445.7 162.4h0M459.5 78.6h0M409.2 196.9h0M456.3 104.7h0M431.2 175.4h0M457.1 151.2h0M384.2 167.4h0M444.7 166.6h0M435.7 123.2h0M415.6 130.6h0M464.8 151.0h0M512.7 114.8h0M490.3 136.1h0M503.9 118.5h0M535.4 23.2h0M473.9 87.0h0M483.6 130.2h0M514.6 42.7h0M481.6 69.9h0M479.1 78.0h0M459.0 153.1h0M454.0 155.7h0M328.6 203.0h0M377.0 227.9h0M394.8 209.4h0M455.1 184.1h0M387.6 156.8h0M335.6 277.5h0M376.4 177.0h0M411.0 201.4h0M405.2 199.9h0M390.4 161.5h0M380.8 236.1h0" stroke="#e8883a" stroke-opacity="0.29" stroke-width="2.0" stroke-linecap="square" fill="none"/>
<path d="M376.5 234.2h0M428.5 127.4h0M404.7 200.1h0M376.7 228.3h0M377.3 245.1h0M416.0 138.3h0M375.9 253.9h0M383.3 168.5h0M378.0 168.9h0M380.3 172.6h0M407.9 203.8h0M415.8 197.5h0M407.3 141.1h0M374.6 165.3h0M430.4 175.9h0M399.3 130.6h0M373.4 231.2h0M384.7 219.9h0M391.5 162.3h0M429.2 176.2h0M415.5 209.0h0M375.5 172.2h0M378.0 224.5h0M413.4 139.1h0M400.8 206.9h0M388.3 163.0h0M406.8 200.5h0M396.7 155.2h0M367.9 235.7h0M382.8 171.9h0M363.4 189.2h0M435.6 178.3h0M385.8 167.7h0M405.6 151.4h0M395.1 156.8h0M395.7 156.6h0M373.9 172.0h0M378.2 224.1h0M385.6 218.2h0M387.3 165.1h0M419.6 136.3h0M398.8 154.4h0M386.9 160.1h0M398.7 141.3h0M394.8 152.5h0M376.6 171.4h0M396.9 216.4h0M377.5 172.7h0M375.2 230.3h0M416.8 128.1h0M385.8 169.3h0M398.9 209.5h0M401.5 203.8h0M419.2 137.5h0M407.7 212.2h0M381.4 169.2h0M387.5 217.8h0M386.0 166.1h0M391.7 151.0h0M407.8 146.2h0M397.2 206.1h0M402.4 139.3h0M408.1 198.3h0M414.9 198.3h0M395.7 143.0h0M429.6 125.9h0M388.3 154.7h0M385.6 166.0h0M377.8 176.3h0M367.6 174.5h0M398.9 152.3h0M404.5 150.2h0M380.6 161.0h0M399.9 152.3h0M394.4 157.1h0M385.9 165.8h0M392.5 155.9h0M393.5 156.5h0M365.5 249.9h0M386.3 145.0h0M374.4 231.6h0M386.7 233.2h0M396.9 209.5h0M366.3 168.2h0M398.6 206.0h0M411.2 121.8h0M374.4 226.5h0M374.8 163.9h0M369.6 233.8h0M398.1 213.0h0M407.6 147.1h0M365.3 241.3h0M389.3 217.4h0M401.3 154.4h0M411.6 213.1h0M398.9 156.0h0M382.9 224.8h0M384.6 225.7h0M404.1 200.5h0M388.6 217.8h0M394.9 151.4h0M379.7 224.7h0M391.6 144.2h0M399.0 152.5h0M405.9 214.0h0M422.8 197.8h0M425.5 120.4h0M406.7 216.2h0M383.0 172.1h0M392.5 161.6h0M446.3 163.4h0M399.2 134.1h0M384.2 136.2h0M393.2 214.6h0M378.7 235.1h0M396.9 211.6h0M392.7 213.2h0M395.0 151.1h0M417.1 190.8h0M396.4 207.2h0M417.4 127.9h0M382.1 170.6h0M388.3 155.3h0M405.0 149.4h0M388.7 217.3h0M432.1 188.8h0M374.2 155.7h0M390.9 163.4h0M396.7 158.5h0M405.7 199.9h0M406.9 202.0h0M375.3 167.2h0M369.0 245.0h0M374.4 175.0h0M408.1 204.7h0M391.1 164.5h0M420.3 190.7h0M421.5 105.8h0M401.6 135.0h0M378.0 227.1h0M367.0 181.7h0M368.3 174.1h0M389.1 217.8h0M411.3 137.3h0M384.3 217.5h0M378.9 171.5h0M396.1 138.5h0M402.3 154.5h0M368.0 239.0h0M377.7 165.6h0M379.2 174.9h0M383.9 219.4h0M396.4 213.5h0M370.6 164.6h0M374.0 177.0h0M433.6 123.5h0M428.6 190.1h0M386.5 217.4h0M384.7 227.2h0M391.8 217.8h0M415.9 136.7h0M382.3 222.2h0M373.3 227.5h0M368.2 232.8h0M420.7 191.4h0M374.0 233.3h0M390.6 155.2h0M381.7 222.5h0M405.6 146.4h0M370.1 183.7h0M410.5 196.0h0M401.9 204.9h0M407.8 146.7h0M370.6 177.7h0M399.3 225.7h0M380.3 168.0h0M384.4 223.7h0M389.4 158.3h0M390.2 148.6h0M383.1 143.9h0M404.3 209.2h0M411.6 193.3h0M397.2 150.8h0M371.5 232.7h0M391.1 140.4h0M405.3 204.2h0M415.5 191.5h0M377.2 226.7h0M398.7 153.5h0M394.2 217.2h0M424.0 187.9h0M398.2 204.8h0M458.1 96.8h0M410.1 198.6h0M388.0 237.8h0M454.7 96.8h0M418.5 137.9h0M420.6 183.9h0M400.6 152.8h0M438.9 167.2h0M402.9 139.7h0M426.0 179.9h0M463.1 145.0h0M394.6 214.0h0M381.6 172.0h0M392.5 212.6h0M456.7 103.6h0M441.0 168.9h0M461.6 156.9h0M429.8 122.5h0M447.4 161.0h0M474.4 146.5h0M441.9 115.5h0M409.9 140.4h0M400.2 210.3h0M438.6 119.8h0M433.0 122.6h0M449.1 167.8h0M431.2 105.6h0M433.8 120.4h0M462.5 94.6h0M462.8 94.4h0M439.0 173.2h0M432.6 123.0h0M458.2 90.0h0M427.0 116.3h0M456.4 102.5h0M441.7 107.5h0M437.6 121.3h0M478.0 142.0h0M431.9 121.8h0M413.0 196.0h0M456.0 86.3h0M467.6 88.6h0M460.9 154.2h0M468.0 90.4h0M441.9 172.3h0M460.0 161.6h0M467.9 90.1h0M467.6 84.0h0M461.0 97.9h0M415.6 190.3h0M442.2 90.5h0M405.8 199.2h0M460.5 148.4h0M387.1 216.5h0M479.2 130.7h0M478.1 78.7h0M431.9 116.4h0M452.0 160.5h0M407.7 145.9h0M501.3 61.9h0M487.3 136.0h0M457.4 96.8h0M430.8 113.5h0M433.0 173.0h0M492.2 119.9h0M423.8 123.1h0M328.6 271.3h0M428.7 128.7h0M426.2 119.3h0M354.8 196.9h0M405.5 151.4h0M402.2 206.1h0M386.7 165.3h0M396.2 209.4h0M394.8 208.7h0M415.2 131.6h0M386.2 216.0h0" stroke="#e8883a" stroke-opacity="0.29" stroke-width="2.0" stroke-linecap="square" fill="none"/>
<path d="M362.1 198.7h0M388.8 192.9h0M390.0 170.7h0M388.5 183.0h0M379.9 210.4h0M388.4 183.5h0M378.6 202.1h0M398.9 185.0h0M365.5 203.1h0M367.5 221.6h0M389.1 183.8h0M405.7 164.9h0M414.2 170.4h0M374.8 185.8h0M373.1 202.1h0M397.1 194.9h0M367.6 210.7h0M377.9 187.9h0M393.1 185.9h0M383.8 181.7h0M387.6 189.2h0M381.8 193.5h0M408.4 168.5h0M403.6 155.1h0M392.0 179.0h0M384.9 212.7h0M385.1 197.6h0M402.1 181.6h0M392.0 174.4h0M381.3 193.1h0M390.3 177.3h0M409.2 174.8h0M415.4 166.6h0M402.6 189.8h0M441.2 141.8h0M409.6 156.2h0M395.1 168.4h0M368.1 210.0h0M410.5 174.0h0M393.6 191.5h0M393.8 169.3h0M371.7 215.5h0M403.9 196.8h0M384.3 185.3h0M379.3 200.1h0M407.5 156.7h0M380.6 186.7h0M389.1 185.8h0M376.4 216.6h0M392.7 196.2h0M413.0 173.7h0M401.2 158.1h0M384.3 184.2h0M380.1 179.2h0M375.8 210.4h0M375.4 221.2h0M398.5 182.0h0M424.2 163.9h0M414.9 159.7h0M403.7 155.4h0M378.6 178.0h0M397.0 168.7h0M404.3 174.8h0M370.9 217.3h0M378.9 184.8h0M421.3 168.2h0M405.6 154.9h0M405.9 176.8h0M406.8 163.1h0M423.0 172.5h0M396.7 181.2h0M388.6 203.6h0M394.1 182.5h0M400.6 182.5h0M394.0 185.4h0M395.1 192.4h0M412.5 179.7h0M406.2 187.5h0M383.5 211.3h0M425.9 142.4h0M367.9 201.5h0M405.9 170.4h0M380.2 193.1h0M391.3 168.4h0M400.3 177.5h0M392.1 191.1h0M378.5 180.6h0M392.5 186.2h0M430.9 140.7h0M402.3 190.4h0M415.6 156.7h0M403.5 175.2h0M379.4 197.4h0M365.3 201.2h0M405.8 159.6h0M424.5 161.3h0M451.6 146.1h0M421.4 152.7h0M412.4 178.5h0M373.3 200.8h0M424.0 143.0h0M375.4 221.9h0M412.7 183.0h0M380.0 199.3h0M385.7 204.6h0M388.1 195.0h0M383.2 185.4h0M379.0 211.6h0M428.7 169.4h0M399.2 190.2h0M380.7 207.6h0M375.3 218.2h0M410.5 176.5h0M383.3 199.5h0M374.4 212.3h0M403.6 176.8h0M370.3 185.3h0M372.1 207.9h0M398.5 183.0h0M404.2 166.8h0M389.3 182.7h0M386.1 206.4h0M434.0 134.6h0M393.9 197.5h0M395.4 174.9h0M381.1 194.2h0M386.4 208.6h0M438.1 124.6h0M387.8 171.3h0M415.5 150.2h0M376.5 218.3h0M396.2 179.1h0M369.8 215.3h0M379.6 179.0h0M426.1 149.1h0M434.7 160.7h0M390.1 178.8h0M385.1 173.6h0M399.3 176.8h0M398.3 182.3h0M419.2 150.2h0M398.7 183.7h0M383.0 199.8h0M379.8 195.1h0M392.9 178.1h0M394.9 170.8h0M392.9 196.6h0M394.0 173.6h0M411.1 183.7h0M396.8 168.9h0M403.1 170.1h0M365.7 203.7h0M389.0 181.3h0M369.6 193.0h0M390.6 176.4h0M379.9 207.9h0M381.2 182.9h0M384.9 175.8h0M415.3 147.5h0M392.3 169.5h0M403.5 161.2h0M395.2 185.6h0M365.7 216.4h0M399.7 176.5h0M424.6 154.1h0M391.3 175.9h0M392.2 179.4h0M378.9 190.3h0M376.9 192.5h0M379.4 181.3h0M394.4 205.1h0M383.0 205.3h0M393.2 193.6h0M368.5 206.3h0M402.3 171.8h0M403.7 171.8h0M407.8 156.1h0M376.3 196.8h0M385.8 209.5h0M382.0 209.1h0M386.9 195.5h0M390.0 193.4h0M425.8 171.3h0M368.2 222.9h0M418.4 171.5h0M370.0 220.2h0M381.5 204.3h0M383.6 190.2h0M380.6 196.9h0M417.3 144.9h0M400.4 188.4h0M378.1 192.6h0M391.4 177.6h0M386.5 214.6h0M396.8 162.8h0M409.1 185.4h0M399.7 160.4h0M387.3 202.6h0M379.4 215.3h0M390.2 207.8h0M376.5 206.2h0M391.6 187.2h0M413.2 188.7h0M386.6 192.2h0M412.4 158.4h0M379.0 190.2h0M401.1 201.4h0M404.9 186.0h0M396.8 171.7h0M386.0 183.7h0M411.4 157.6h0M394.5 182.3h0M381.4 184.4h0M399.3 161.5h0M382.7 217.7h0M399.0 173.1h0M377.3 197.9h0M441.6 149.4h0M396.9 171.4h0M408.5 162.8h0M405.9 162.9h0M401.0 177.7h0M373.4 195.2h0M387.0 214.3h0M385.3 185.2h0M370.8 200.6h0M427.1 132.3h0M410.8 182.6h0M384.2 182.6h0M416.7 177.3h0M395.4 201.2h0M380.3 179.2h0M446.9 133.6h0M401.6 191.5h0M397.0 159.4h0M368.7 195.1h0M396.4 169.1h0M386.4 172.0h0M375.1 181.5h0M401.9 182.8h0M402.7 188.9h0M384.2 207.0h0M403.8 187.1h0M387.1 191.9h0M375.0 189.7h0M422.2 168.6h0M387.4 198.8h0M413.5 177.8h0M406.4 151.2h0M404.5 171.7h0M383.6 208.1h0M376.4 205.9h0M384.7 187.5h0M402.2 165.1h0M380.4 187.9h0M403.2 172.5h0M377.4 191.5h0M387.0 183.5h0M417.8 170.5h0M393.3 184.3h0M383.7 183.9h0M388.9 179.1h0M388.2 186.3h0M413.1 169.1h0M400.7 164.8h0M374.3 185.0h0M368.8 215.2h0M380.5 176.8h0M429.2 141.8h0M421.3 162.1h0M416.0 166.6h0M382.1 179.2h0M368.4 214.8h0M413.0 186.4h0M383.8 181.3h0M406.9 167.5h0M370.9 228.2h0M382.1 204.9h0M409.1 172.2h0M385.4 206.8h0M400.7 159.9h0M389.5 171.4h0M376.4 220.3h0M383.2 190.2h0M372.3 193.6h0M377.3 205.6h0M387.1 184.0h0M383.3 179.6h0M385.0 181.6h0M378.0 196.3h0M420.9 141.3h0M385.6 201.8h0M374.3 217.4h0M374.1 225.2h0M412.4 175.3h0M381.9 207.9h0M413.9 189.9h0M390.9 180.6h0M413.8 173.6h0M455.6 129.6h0M397.6 199.3h0M383.9 175.4h0M392.4 197.3h0M382.6 181.6h0M395.0 183.1h0M380.8 177.9h0M385.1 193.7h0M394.7 169.4h0M405.8 162.0h0M424.2 156.8h0M393.9 184.3h0M393.5 180.1h0M374.5 188.8h0M379.2 200.8h0M400.8 200.2h0M394.7 179.6h0M369.8 207.2h0M405.8 177.5h0M400.8 165.4h0M381.6 189.6h0M381.6 184.2h0M371.4 215.6h0M372.6 201.5h0M398.9 163.9h0M384.8 197.8h0M384.1 196.5h0M387.7 174.8h0M408.2 179.4h0M383.9 211.4h0M379.7 213.9h0M420.9 146.6h0M386.1 211.8h0M390.9 178.8h0M408.8 192.2h0M382.7 180.5h0M441.6 133.5h0M384.3 188.6h0M415.1 165.3h0M414.0 183.5h0M373.7 198.1h0M388.3 185.0h0M389.2 199.2h0M379.2 215.6h0M400.8 168.9h0M383.6 182.7h0M425.4 147.8h0M409.4 167.5h0M366.1 222.2h0M369.0 207.7h0M381.6 190.6h0M371.3 213.8h0M412.4 166.0h0M430.5 140.6h0M382.0 194.5h0M416.6 172.9h0M385.9 175.0h0M387.5 212.1h0M378.9 201.4h0M424.7 156.3h0M414.4 159.1h0M381.4 177.2h0M408.5 179.6h0M397.5 178.1h0M402.8 186.1h0M379.9 184.6h0M430.4 172.8h0M405.5 156.9h0M395.8 163.6h0M389.0 212.9h0M394.5 200.2h0M388.5 211.2h0M434.5 157.5h0M387.2 192.0h0M423.7 154.0h0M382.3 206.3h0M367.6 213.2h0M387.4 168.8h0M383.5 206.2h0M373.1 195.8h0M385.3 197.2h0M423.9 162.3h0M393.4 188.5h0M380.8 205.0h0M375.1 204.4h0M413.3 151.1h0M379.5 178.7h0M372.0 223.6h0M399.2 169.4h0M386.8 199.7h0M419.9 146.5h0M390.3 186.5h0M382.9 214.1h0M379.9 212.8h0M398.6 189.3h0M383.1 186.5h0M397.7 165.5h0M376.3 194.0h0M403.7 180.0h0M398.2 165.4h0M421.4 179.8h0M401.7 172.2h0M377.2 195.3h0M403.7 167.6h0M419.2 148.3h0M403.0 172.1h0M456.9 127.1h0M377.2 185.5h0M409.5 154.9h0M378.8 212.2h0M373.9 206.8h0M380.1 211.9h0M409.1 174.2h0M385.3 188.6h0M394.4 187.9h0M385.8 189.4h0M377.3 205.4h0M417.5 172.8h0M385.8 203.3h0M385.3 174.4h0M402.6 157.5h0M387.3 208.8h0M381.2 178.2h0M365.9 213.6h0M387.0 185.4h0M394.9 161.5h0M399.3 177.6h0M441.3 122.2h0M375.8 196.5h0M397.7 172.7h0M402.0 169.7h0M422.7 161.7h0M397.5 191.4h0M384.8 215.3h0M419.0 178.4h0M366.1 194.6h0M365.9 218.8h0M430.4 142.0h0M377.5 185.9h0M410.2 182.4h0M385.0 203.3h0M385.0 196.5h0M395.6 186.8h0M441.1 123.7h0M398.5 179.6h0M393.6 180.5h0M416.2 164.8h0M454.7 124.8h0M394.3 195.0h0M421.3 172.9h0M453.8 129.3h0M426.6 173.6h0M449.9 129.2h0M377.9 185.0h0M467.4 125.9h0M435.9 142.8h0M405.7 185.6h0M469.7 118.0h0M434.1 127.0h0M440.5 120.5h0M449.1 124.0h0M418.8 182.5h0M426.9 167.1h0M422.2 151.6h0M469.2 133.3h0M469.0 99.2h0M413.2 160.5h0M415.8 175.6h0M413.7 171.0h0M470.4 119.3h0M417.1 141.5h0M443.4 132.7h0M445.8 124.2h0M478.0 115.9h0M442.1 151.0h0M453.0 118.9h0M444.4 130.4h0M482.4 106.7h0M414.2 181.9h0M448.4 148.1h0M457.0 118.4h0M411.7 189.5h0M426.0 141.1h0M441.1 153.9h0M451.3 127.2h0M421.6 137.6h0M482.2 84.2h0M447.0 149.8h0M449.1 117.6h0M441.8 140.7h0M474.0 100.8h0M477.3 101.8h0M400.6 193.8h0M472.1 105.8h0M443.4 143.2h0M440.8 136.5h0M451.0 128.4h0M490.7 84.6h0M407.5 164.1h0M442.9 147.7h0M450.6 134.6h0M436.6 164.8h0M443.0 159.4h0M393.5 187.8h0M438.9 153.3h0M384.7 202.0h0M464.5 121.2h0M453.0 123.7h0M466.0 139.5h0M469.4 109.0h0M447.0 148.9h0M460.3 120.1h0M477.5 103.7h0M458.2 129.2h0M403.5 189.2h0M502.0 85.1h0M472.9 124.5h0M438.3 145.9h0M412.0 181.5h0M391.4 194.5h0M413.8 170.2h0M444.3 127.1h0M487.8 109.5h0M469.2 118.0h0M429.6 158.2h0M434.6 156.9h0M416.2 158.5h0M446.6 148.6h0M441.6 147.1h0M447.2 138.4h0M428.7 143.5h0M461.5 100.3h0M465.0 105.5h0M439.4 160.5h0M441.2 151.2h0M461.9 111.7h0M416.7 187.4h0M460.3 137.6h0M466.4 103.2h0M411.7 171.9h0M391.6 185.0h0M449.7 131.3h0M411.3 165.5h0M430.6 148.8h0M453.2 147.4h0M472.2 120.0h0M394.2 167.1h0M436.5 156.5h0M411.7 160.7h0M400.0 160.7h0M410.0 166.9h0M422.4 140.4h0M439.2 127.1h0M400.6 198.8h0M444.9 124.5h0M453.8 122.3h0M453.2 150.9h0M433.5 146.2h0M424.5 141.8h0M396.3 172.0h0M423.7 151.7h0M415.5 159.6h0M446.1 130.7h0M503.0 91.2h0M429.5 158.7h0M400.3 169.0h0M445.9 146.3h0M394.7 194.7h0M464.5 110.3h0M460.7 121.8h0M495.0 90.0h0M513.3 57.6h0M484.2 120.3h0M442.1 139.8h0M524.7 68.0h0M448.3 148.5h0M442.4 158.9h0M505.0 100.3h0M463.9 112.2h0M435.4 158.3h0M474.0 99.1h0M480.1 93.2h0M507.3 61.6h0M450.3 146.2h0M469.8 122.7h0M521.7 74.1h0M499.6 100.7h0M493.7 87.5h0M471.9 98.9h0M501.5 83.3h0M488.9 95.6h0M512.2 66.1h0M478.7 87.8h0M390.5 171.3h0M387.6 200.1h0M365.2 217.1h0M374.5 184.7h0M367.3 216.4h0M343.2 225.0h0M351.4 223.4h0M410.2 169.9h0M418.0 171.2h0M425.5 171.6h0M411.0 163.8h0M349.4 209.6h0M400.1 173.3h0M361.0 202.8h0M374.7 188.7h0M366.2 221.7h0M402.1 169.5h0M367.0 224.1h0M365.8 216.7h0M405.0 159.1h0M380.5 196.0h0M406.0 176.0h0M363.0 210.0h0M360.3 229.7h0" stroke="#e8883a" stroke-opacity="0.48" stroke-width="2.0" stroke-linecap="square" fill="none"/>
<path d="M389.6 192.4h0M409.0 159.9h0M398.2 197.6h0M394.2 193.5h0M430.0 165.1h0M397.9 183.4h0M394.3 190.4h0M390.5 182.4h0M403.5 196.9h0M403.2 198.9h0M380.6 193.9h0M368.1 218.4h0M389.9 207.1h0M425.7 137.5h0M383.2 197.4h0M380.7 192.9h0M382.9 205.5h0M373.2 212.2h0M383.8 181.2h0M403.8 173.4h0M406.8 161.8h0M382.8 185.7h0M413.1 169.8h0M425.1 147.8h0M389.4 199.2h0M402.0 178.8h0M383.6 203.8h0M375.8 207.2h0M387.3 211.7h0M395.1 168.2h0M370.1 217.0h0M381.2 220.0h0M374.8 189.7h0M375.2 187.3h0M381.2 183.1h0M367.3 227.9h0M384.5 193.8h0M376.6 223.5h0M412.0 156.1h0M373.4 201.2h0M388.6 200.3h0M400.3 174.8h0M375.3 197.3h0M385.0 180.8h0M443.7 131.1h0M373.0 191.7h0M406.9 168.2h0M404.7 170.1h0M384.1 213.6h0M415.1 157.1h0M427.6 159.3h0M379.3 220.4h0M377.7 186.3h0M401.5 178.9h0M403.0 166.9h0M410.3 175.3h0M415.9 158.1h0M393.1 199.5h0M422.1 159.7h0M375.7 197.1h0M392.8 203.0h0M386.2 191.0h0M374.9 194.4h0M409.1 170.3h0M378.0 196.7h0M391.3 178.7h0M423.1 153.9h0M394.1 176.0h0M371.9 200.1h0M449.3 137.4h0M384.4 192.5h0M385.7 188.2h0M396.7 180.7h0M371.0 210.7h0M389.3 172.4h0M371.8 215.2h0M382.6 187.2h0M371.5 228.6h0M394.0 186.6h0M376.9 206.9h0M370.8 214.0h0M408.7 179.7h0M388.0 169.4h0M423.5 138.6h0M388.5 182.6h0M368.1 202.0h0M397.9 170.5h0M402.3 184.9h0M432.1 148.7h0M401.6 194.4h0M376.7 192.2h0M370.9 227.8h0M407.0 183.1h0M377.1 193.1h0M382.2 210.3h0M386.3 203.3h0M381.8 190.0h0M376.2 215.5h0M388.1 201.6h0M384.0 186.1h0M407.6 161.5h0M379.5 181.2h0M379.1 215.5h0M384.2 194.5h0M370.5 209.1h0M384.1 215.9h0M375.8 206.0h0M396.0 164.1h0M380.7 195.5h0M362.6 214.8h0M397.1 194.5h0M409.4 171.9h0M394.6 167.0h0M406.4 171.9h0M378.3 203.2h0M369.4 199.8h0M386.4 193.2h0M419.8 138.5h0M397.0 189.8h0M392.9 188.0h0M403.5 166.8h0M382.5 176.1h0M409.1 166.2h0M416.0 182.5h0M395.0 177.0h0M373.2 216.8h0M396.3 183.8h0M397.7 167.6h0M401.7 184.2h0M382.9 199.5h0M391.6 186.0h0M396.6 195.9h0M389.6 177.1h0M386.2 195.1h0M367.7 205.1h0M422.3 156.7h0M384.7 196.9h0M396.5 185.5h0M379.0 195.4h0M374.4 221.9h0M402.4 172.3h0M400.0 160.1h0M377.3 204.0h0M395.3 189.6h0M380.0 189.7h0M411.6 153.5h0M403.1 177.3h0M378.5 200.3h0M412.2 170.0h0M398.5 184.1h0M410.9 181.6h0M364.0 225.2h0M382.5 176.3h0M395.3 163.9h0M377.1 205.2h0M392.7 184.0h0M403.8 178.0h0M407.4 159.5h0M412.2 181.3h0M382.2 181.1h0M397.3 160.0h0M405.1 172.9h0M381.3 208.4h0M419.3 168.6h0M388.7 189.5h0M385.9 202.4h0M373.8 203.3h0M393.0 206.6h0M386.7 183.1h0M366.1 192.1h0M405.7 175.2h0M427.9 161.8h0M393.1 198.4h0M409.7 186.7h0M386.7 183.8h0M406.6 151.3h0M427.1 153.1h0M424.7 152.8h0M372.0 220.8h0M394.8 175.5h0M399.1 178.5h0M375.6 212.4h0M395.2 188.3h0M390.8 189.6h0M400.2 166.3h0M394.8 201.1h0M384.3 186.9h0M371.2 215.7h0M394.6 172.6h0M413.7 173.7h0M377.1 190.4h0M389.5 194.5h0M374.9 201.0h0M418.9 165.8h0M419.4 151.4h0M372.6 188.0h0M382.0 174.0h0M383.6 199.5h0M376.8 192.0h0M389.4 177.0h0M424.6 176.1h0M376.0 184.7h0M408.5 155.6h0M370.8 212.2h0M394.1 198.6h0M379.4 193.3h0M424.1 148.5h0M398.7 180.3h0M366.3 210.0h0M393.1 189.0h0M404.5 178.2h0M391.1 197.3h0M394.9 193.8h0M402.1 178.7h0M384.7 204.5h0M389.8 180.2h0M395.5 163.1h0M391.8 180.6h0M394.6 189.1h0M372.3 202.9h0M376.1 185.6h0M386.0 198.4h0M411.5 161.1h0M383.6 195.1h0M413.7 153.9h0M386.1 175.8h0M375.7 180.1h0M372.9 192.1h0M409.1 177.9h0M394.5 178.5h0M420.5 155.5h0M376.7 215.1h0M378.9 202.2h0M386.2 172.9h0M390.4 178.2h0M398.1 158.4h0M365.9 205.2h0M399.1 174.0h0M424.8 158.1h0M385.6 195.7h0M409.1 185.4h0M400.2 185.2h0M372.2 201.2h0M379.0 202.8h0M384.3 202.1h0M388.8 207.7h0M406.2 160.4h0M376.4 205.0h0M405.6 178.3h0M433.0 146.5h0M401.6 192.2h0M388.9 185.0h0M423.8 157.0h0M381.8 181.0h0M386.5 191.6h0M368.6 194.4h0M376.1 205.9h0M406.9 181.2h0M390.6 188.6h0M394.2 194.1h0M417.2 148.5h0M371.1 184.1h0M428.4 149.6h0M401.6 176.0h0M397.6 166.5h0M391.3 200.4h0M393.4 176.9h0M401.2 179.3h0M385.8 186.5h0M412.8 169.2h0M432.2 150.9h0M416.1 150.6h0M414.4 182.9h0M432.7 157.9h0M425.0 143.4h0M393.9 203.6h0M399.0 183.7h0M438.4 165.8h0M384.9 174.9h0M396.4 178.7h0M374.6 191.9h0M400.7 183.0h0M415.7 182.4h0M398.6 192.4h0M384.5 181.9h0M394.0 188.3h0M397.0 192.2h0M388.1 191.5h0M396.2 173.9h0M398.8 167.0h0M399.4 189.5h0M378.7 219.3h0M407.3 167.9h0M391.8 190.9h0M400.5 179.4h0M409.6 156.9h0M392.6 169.3h0M404.2 179.9h0M394.7 203.3h0M441.8 146.3h0M374.9 195.6h0M426.2 166.8h0M397.2 175.2h0M398.8 182.2h0M382.0 202.4h0M393.5 183.3h0M414.0 144.8h0M393.0 173.0h0M421.6 164.3h0M404.9 170.3h0M428.1 165.9h0M384.0 192.3h0M376.7 199.8h0M403.3 177.3h0M381.8 209.5h0M366.2 208.0h0M397.5 198.9h0M395.8 172.4h0M401.9 174.0h0M391.6 201.3h0M394.9 199.3h0M383.6 205.9h0M439.2 134.1h0M383.5 196.9h0M394.4 202.1h0M388.7 196.7h0M389.1 168.2h0M387.1 189.6h0M378.2 212.0h0M392.1 187.6h0M376.3 203.7h0M383.5 212.7h0M405.9 169.8h0M381.5 212.6h0M392.7 179.2h0M410.2 185.2h0M381.6 198.6h0M405.5 163.8h0M406.8 167.6h0M414.3 175.7h0M381.3 181.0h0M391.4 168.8h0M368.2 205.3h0M390.4 187.0h0M403.2 196.7h0M393.1 179.3h0M395.6 175.7h0M384.7 207.6h0M406.1 173.1h0M391.0 205.6h0M404.9 168.2h0M384.8 195.7h0M409.6 162.3h0M385.6 191.3h0M404.6 190.0h0M407.7 187.6h0M367.9 201.4h0M425.4 135.3h0M385.3 189.5h0M411.3 180.0h0M378.5 196.3h0M377.7 210.9h0M402.1 182.8h0M384.9 192.9h0M392.4 196.2h0M398.2 176.8h0M420.3 156.0h0M392.7 200.2h0M400.3 172.6h0M388.1 211.0h0M400.0 181.7h0M382.4 173.8h0M390.5 174.2h0M377.2 184.8h0M400.0 165.5h0M433.2 158.8h0M418.7 166.5h0M372.5 205.8h0M380.6 185.5h0M394.7 172.2h0M378.4 190.4h0M389.8 212.2h0M375.1 218.3h0M379.9 193.4h0M449.9 116.3h0M415.4 177.4h0M393.1 183.8h0M364.0 196.1h0M387.2 186.3h0M408.0 179.8h0M418.8 140.8h0M375.8 188.6h0M388.0 187.9h0M389.4 174.1h0M382.2 196.5h0M398.3 168.8h0M383.4 194.1h0M385.0 203.8h0M385.5 209.8h0M393.6 193.0h0M417.2 169.9h0M381.4 210.1h0M390.2 191.1h0M372.7 209.0h0M378.3 182.3h0M374.0 188.9h0M400.4 181.2h0M371.8 203.4h0M391.9 208.5h0M395.0 174.0h0M397.4 177.7h0M418.1 153.6h0M408.2 180.4h0M374.2 222.7h0M385.3 213.6h0M389.8 192.1h0M410.6 153.4h0M367.4 190.5h0M388.4 190.5h0M425.2 141.0h0M406.3 187.2h0M433.5 147.6h0M383.2 194.5h0M370.0 227.7h0M376.7 223.3h0M385.9 189.8h0M379.4 208.4h0M408.1 154.3h0M392.4 172.4h0M400.1 187.4h0M395.5 186.0h0M423.5 175.8h0M384.5 186.9h0M389.9 190.9h0M383.7 215.4h0M380.5 210.7h0M386.8 212.7h0M374.9 192.2h0M398.4 189.2h0M392.4 196.0h0M373.8 201.3h0M376.9 187.1h0M387.8 205.0h0M430.8 161.2h0M405.8 170.6h0M445.7 133.2h0M433.2 132.7h0M459.5 116.2h0M431.4 152.4h0M454.2 132.7h0M446.5 132.2h0M444.6 124.4h0M447.6 142.2h0M457.4 129.8h0M434.7 146.5h0M394.6 169.7h0M403.7 195.8h0M480.5 109.4h0M427.9 141.3h0M500.5 77.7h0M422.9 161.0h0M424.3 146.9h0M435.2 141.2h0M440.5 133.7h0M412.2 186.0h0M435.8 134.1h0M403.3 180.7h0M485.3 116.7h0M509.0 75.4h0M421.1 147.6h0M452.4 126.1h0M477.3 122.2h0M445.6 140.2h0M426.3 142.3h0M473.3 121.1h0M456.8 106.1h0M441.6 130.4h0M475.2 101.8h0M396.2 179.8h0M422.2 144.9h0M401.7 156.0h0M493.6 108.6h0M435.6 128.3h0M481.8 98.0h0M446.2 138.1h0M425.5 160.0h0M482.4 108.7h0M401.8 193.3h0M447.4 132.2h0M477.4 107.2h0M452.5 137.7h0M468.4 115.3h0M425.5 148.9h0M458.8 126.4h0M438.6 146.9h0M456.3 116.5h0M397.4 186.7h0M459.3 130.6h0M464.5 111.5h0M408.0 164.7h0M436.7 132.3h0M453.4 131.5h0M468.7 138.2h0M455.7 143.4h0M453.1 112.5h0M449.6 128.2h0M466.3 125.6h0M391.2 191.0h0M442.7 137.2h0M453.5 122.1h0M458.9 128.9h0M491.9 110.5h0M483.9 80.2h0M450.1 143.4h0M447.8 122.6h0M453.4 121.8h0M440.0 157.4h0M407.4 170.6h0M459.2 125.5h0M478.3 104.3h0M429.2 157.1h0M424.9 137.6h0M431.5 139.3h0M459.1 113.1h0M433.9 151.6h0M456.1 123.0h0M468.9 121.2h0M424.0 151.0h0M388.7 199.2h0M461.0 103.9h0M422.5 162.8h0M469.5 109.4h0M449.0 130.1h0M405.7 176.7h0M444.1 142.7h0M475.6 130.2h0M432.3 150.7h0M478.4 110.6h0M433.1 154.9h0M391.4 204.2h0M432.0 157.9h0M433.0 145.0h0M399.0 159.1h0M420.5 149.8h0M405.0 190.6h0M460.8 110.6h0M404.5 173.1h0M439.7 131.2h0M433.9 142.0h0M406.5 174.0h0M438.3 127.8h0M439.5 153.2h0M453.2 115.3h0M414.9 156.1h0M434.5 152.0h0M467.6 119.6h0M473.9 118.4h0M443.0 151.9h0M483.8 82.5h0M445.1 145.7h0M452.1 148.3h0M449.9 118.5h0M473.1 100.5h0M474.8 113.4h0M451.0 137.3h0M443.4 151.0h0M437.2 139.3h0M474.9 120.7h0M453.4 116.6h0M456.6 105.5h0M470.8 112.6h0M430.7 148.5h0M507.8 76.4h0M467.0 97.7h0M522.0 56.0h0M548.0 36.3h0M480.9 91.5h0M448.4 138.0h0M450.5 155.3h0M452.0 130.2h0M486.6 86.4h0M428.9 147.6h0M431.9 170.3h0M464.5 133.8h0M493.7 76.5h0M482.5 110.5h0M501.7 69.1h0M443.3 153.7h0M477.0 99.9h0M511.3 69.2h0M496.1 102.7h0M367.8 212.5h0M379.4 198.0h0M328.6 231.8h0M370.3 194.3h0M381.3 189.5h0M357.8 200.8h0M373.0 204.9h0M400.3 169.9h0M400.7 174.0h0M396.6 166.2h0M415.1 149.1h0M406.2 164.7h0M426.4 177.0h0M352.9 222.7h0M373.5 187.5h0M366.3 204.0h0M377.3 195.6h0M361.9 232.5h0M410.5 157.2h0M373.6 193.4h0M394.7 175.2h0M433.4 147.7h0M383.0 191.7h0M399.2 199.5h0M387.7 175.6h0" stroke="#e8883a" stroke-opacity="0.48" stroke-width="2.0" stroke-linecap="square" fill="none"/>
<path d="M407.7 181.6h0M380.4 214.3h0M396.7 202.0h0M403.7 197.3h0M408.3 153.8h0M395.5 185.1h0M377.4 185.1h0M375.5 191.0h0M406.8 187.1h0M403.3 164.5h0M395.4 161.4h0M390.8 200.6h0M389.9 198.3h0M388.7 179.3h0M385.0 173.8h0M375.8 188.8h0M407.0 177.0h0M394.9 167.6h0M388.4 207.0h0M383.3 182.3h0M384.7 208.6h0M399.0 162.2h0M400.0 199.6h0M383.6 190.3h0M404.8 178.6h0M364.1 230.6h0M393.2 198.1h0M399.9 175.8h0M413.8 171.6h0M381.5 192.8h0M399.6 172.9h0M375.2 200.1h0M409.8 160.2h0M384.4 182.7h0M370.8 191.0h0M381.6 186.3h0M384.9 182.6h0M409.9 165.5h0M417.0 145.3h0M415.9 182.2h0M424.3 139.4h0M385.1 180.5h0M399.6 173.8h0M408.0 149.7h0M402.6 180.6h0M411.7 167.1h0M411.8 158.7h0M395.5 191.1h0M374.0 186.7h0M415.4 159.3h0M393.3 180.8h0M390.5 196.3h0M414.3 160.5h0M374.4 184.9h0M381.7 174.2h0M387.5 183.0h0M371.0 192.0h0M385.0 177.4h0M385.4 189.6h0M400.2 163.6h0M394.1 184.6h0M378.0 201.2h0M369.7 190.0h0M375.1 211.4h0M393.6 205.2h0M384.9 191.4h0M389.2 186.4h0M412.1 176.7h0M376.4 202.0h0M380.7 197.8h0M397.5 168.7h0M392.6 166.4h0M391.9 187.6h0M368.2 201.7h0M394.6 187.4h0M383.5 182.0h0M385.2 197.2h0M384.9 213.4h0M375.4 225.2h0M381.7 191.1h0M383.8 206.8h0M378.9 197.4h0M380.5 184.0h0M397.1 180.8h0M372.3 226.0h0M384.6 196.5h0M384.9 179.3h0M410.5 156.1h0M388.1 193.9h0M394.9 175.2h0M383.8 195.6h0M428.2 158.9h0M403.6 157.7h0M397.4 182.1h0M388.2 176.4h0M381.6 215.9h0M415.6 182.8h0M419.1 155.3h0M391.2 202.1h0M419.7 174.3h0M402.6 169.2h0M393.6 186.3h0M365.5 188.9h0M364.6 211.5h0M368.6 190.2h0M396.7 194.1h0M391.5 198.6h0M399.9 181.8h0M374.5 206.8h0M436.5 148.2h0M394.3 173.5h0M411.7 171.9h0M399.5 183.0h0M404.5 196.0h0M374.1 183.1h0M389.5 170.8h0M399.1 200.5h0M377.4 219.6h0M423.9 167.1h0M380.4 202.9h0M368.4 215.4h0M391.2 197.5h0M389.9 191.9h0M390.4 172.4h0M407.0 181.9h0M420.8 181.9h0M385.2 171.4h0M428.0 152.5h0M381.8 188.1h0M404.3 163.7h0M406.8 153.4h0M377.3 201.4h0M415.0 150.8h0M378.7 190.9h0M376.0 183.9h0M392.1 166.2h0M401.6 178.2h0M408.6 154.4h0M412.0 169.7h0M409.8 162.3h0M396.4 166.1h0M377.1 179.1h0M386.3 207.3h0M375.8 184.8h0M400.0 164.8h0M366.2 227.4h0M418.7 171.4h0M377.0 189.3h0M396.2 163.0h0M402.7 187.1h0M406.5 152.7h0M409.4 169.9h0M377.3 198.0h0M408.4 187.2h0M367.1 212.1h0M386.6 188.1h0M394.4 190.3h0M444.5 134.7h0M397.0 169.4h0M374.7 183.3h0M383.9 172.8h0M450.9 113.2h0M395.5 162.1h0M375.2 194.6h0M389.8 186.2h0M395.8 187.6h0M426.2 148.9h0M393.9 169.5h0M374.7 190.8h0M386.7 209.4h0M375.4 208.2h0M374.9 200.7h0M379.4 190.9h0M426.7 160.5h0M391.9 169.6h0M383.5 205.6h0M408.5 160.6h0M386.3 196.3h0M388.5 178.2h0M409.9 157.3h0M381.7 195.8h0M395.9 177.1h0M406.1 179.9h0M391.0 185.3h0M404.8 181.1h0M388.3 184.2h0M399.1 182.9h0M402.8 182.2h0M391.3 205.7h0M389.3 191.4h0M411.1 162.4h0M400.0 174.3h0M400.1 187.9h0M392.6 184.3h0M399.2 196.7h0M418.8 156.9h0M390.6 176.4h0M393.3 190.4h0M400.4 159.5h0M374.9 188.7h0M390.7 204.0h0M387.1 206.9h0M389.5 198.9h0M367.7 214.0h0M380.2 202.6h0M408.6 157.6h0M374.9 194.6h0M379.5 202.2h0M372.5 183.4h0M414.6 165.2h0M409.5 167.1h0M368.2 223.9h0M409.2 173.9h0M377.3 223.3h0M376.4 186.0h0M429.0 170.4h0M382.4 188.0h0M374.9 198.8h0M407.2 186.6h0M386.1 184.7h0M375.9 205.5h0M391.7 173.8h0M390.4 202.1h0M399.0 182.7h0M391.5 171.8h0M424.0 169.9h0M402.4 170.5h0M394.3 184.0h0M387.0 182.6h0M387.9 203.3h0M395.9 176.2h0M372.4 198.8h0M386.8 178.8h0M381.0 186.3h0M401.8 168.6h0M413.4 170.8h0M374.4 194.8h0M395.7 169.1h0M375.9 191.4h0M393.7 188.0h0M368.6 215.4h0M379.8 201.4h0M415.9 166.7h0M401.6 170.3h0M385.9 200.1h0M380.6 183.8h0M421.5 171.3h0M387.3 184.9h0M395.5 178.1h0M367.3 207.7h0M380.8 185.1h0M402.5 178.3h0M369.8 206.3h0M408.5 187.2h0M401.3 164.1h0M412.4 177.0h0M382.6 200.6h0M402.9 164.2h0M384.5 188.1h0M387.8 195.9h0M388.5 198.7h0M382.2 210.8h0M377.6 193.7h0M384.5 210.1h0M373.6 222.4h0M375.4 194.9h0M382.4 211.8h0M400.1 196.0h0M388.4 197.8h0M396.2 175.9h0M386.4 177.8h0M398.3 175.3h0M397.9 174.5h0M402.7 188.7h0M378.4 202.1h0M443.8 135.8h0M444.2 117.7h0M367.5 194.3h0M375.7 201.6h0M388.3 184.3h0M368.9 214.0h0M372.3 215.2h0M383.4 188.2h0M401.0 166.0h0M378.3 207.6h0M394.1 175.3h0M380.7 176.0h0M377.0 192.2h0M394.2 201.6h0M404.8 186.2h0M378.1 198.0h0M377.7 179.5h0M386.1 199.0h0M382.5 190.9h0M375.2 198.7h0M398.0 201.4h0M384.3 172.7h0M396.2 183.4h0M405.4 165.7h0M380.3 195.3h0M412.8 167.4h0M402.7 186.7h0M399.8 184.7h0M360.7 201.9h0M369.8 215.7h0M396.3 201.3h0M400.8 163.7h0M384.7 210.3h0M385.0 178.7h0M396.9 168.6h0M385.8 172.0h0M376.3 209.2h0M389.5 183.4h0M384.8 205.9h0M385.3 185.6h0M379.0 180.0h0M369.5 212.9h0M371.1 221.4h0M421.4 151.6h0M375.9 187.6h0M383.2 202.2h0M385.3 210.5h0M386.0 169.6h0M378.5 211.6h0M438.1 141.2h0M401.6 176.7h0M366.7 230.1h0M408.9 190.7h0M398.2 200.8h0M400.0 185.6h0M406.9 194.8h0M388.9 206.2h0M379.2 182.7h0M396.0 186.4h0M369.9 212.4h0M384.8 181.3h0M427.0 165.5h0M382.5 215.5h0M409.8 170.3h0M401.5 188.1h0M413.1 166.5h0M400.1 179.8h0M400.6 179.3h0M374.0 191.9h0M394.6 193.6h0M389.9 171.2h0M414.9 174.5h0M391.7 171.9h0M433.2 143.9h0M400.6 195.4h0M373.7 211.0h0M398.2 189.2h0M401.9 192.7h0M392.4 166.9h0M375.6 205.7h0M388.6 203.8h0M376.7 198.3h0M396.4 183.8h0M429.0 151.6h0M390.4 171.7h0M385.0 203.0h0M376.8 207.4h0M395.0 194.7h0M416.4 179.1h0M383.1 205.4h0M363.8 199.9h0M382.4 203.3h0M390.5 208.5h0M376.2 204.8h0M366.5 207.2h0M395.6 179.5h0M377.3 192.6h0M403.6 172.3h0M386.5 177.3h0M385.5 210.2h0M390.8 198.1h0M378.5 220.9h0M371.2 206.1h0M377.1 180.8h0M377.9 202.4h0M394.5 183.2h0M376.1 187.0h0M387.5 197.5h0M384.3 206.6h0M393.6 191.1h0M401.6 177.6h0M382.7 194.3h0M405.5 190.1h0M398.7 174.8h0M387.7 202.1h0M374.4 199.6h0M392.2 184.9h0M404.4 180.8h0M388.6 197.9h0M383.1 175.7h0M370.4 200.6h0M400.7 170.0h0M387.1 200.6h0M393.0 197.4h0M389.7 178.3h0M411.5 162.5h0M379.7 218.3h0M419.6 157.7h0M384.3 204.3h0M410.2 152.7h0M388.5 200.2h0M382.7 177.6h0M376.1 223.1h0M424.8 178.0h0M391.8 184.4h0M397.4 194.3h0M395.8 185.8h0M367.9 198.4h0M445.7 133.7h0M414.1 185.0h0M408.2 190.5h0M384.9 178.2h0M377.0 195.1h0M379.5 194.5h0M396.8 186.0h0M368.1 208.7h0M382.0 177.2h0M397.0 169.2h0M380.0 176.3h0M379.1 183.3h0M432.8 129.2h0M414.5 182.6h0M407.5 181.1h0M371.1 210.0h0M417.7 149.6h0M384.8 189.9h0M433.6 137.6h0M388.6 173.5h0M383.6 192.9h0M391.1 181.0h0M387.0 191.2h0M434.3 156.9h0M416.2 156.5h0M388.6 196.6h0M392.4 179.6h0M390.7 168.5h0M436.2 151.2h0M374.6 217.5h0M375.6 204.3h0M393.0 189.8h0M454.1 139.5h0M438.5 127.7h0M447.6 131.4h0M391.4 190.3h0M443.9 151.0h0M468.3 116.5h0M403.7 191.2h0M411.6 170.7h0M482.9 83.5h0M435.9 156.3h0M430.4 139.8h0M445.2 157.5h0M454.5 125.5h0M444.9 151.5h0M471.1 115.5h0M411.1 168.2h0M429.2 169.1h0M465.8 117.3h0M428.2 156.3h0M438.8 125.5h0M471.5 135.5h0M444.5 149.5h0M421.7 164.5h0M426.6 157.9h0M479.7 85.6h0M459.2 128.5h0M442.6 125.8h0M436.8 144.0h0M492.8 86.5h0M394.4 207.2h0M422.0 167.4h0M439.6 135.0h0M454.6 135.4h0M462.4 116.3h0M438.2 125.9h0M463.2 138.5h0M418.1 154.0h0M480.4 88.7h0M436.8 141.9h0M475.5 127.2h0M454.0 127.7h0M439.1 147.9h0M408.2 191.6h0M463.1 109.9h0M438.9 144.2h0M465.7 109.6h0M445.1 117.8h0M491.1 113.5h0M488.8 111.7h0M431.4 144.0h0M456.2 132.1h0M413.3 163.7h0M480.4 89.5h0M456.6 117.3h0M465.9 124.9h0M399.8 194.1h0M427.0 154.8h0M446.7 141.6h0M451.6 128.4h0M432.6 144.5h0M439.3 142.2h0M434.3 127.4h0M398.7 164.5h0M495.9 76.7h0M455.2 110.3h0M416.8 159.9h0M404.5 175.4h0M427.5 170.0h0M380.1 217.0h0M455.9 146.8h0M449.9 128.1h0M426.8 164.8h0M373.7 188.2h0M392.3 179.5h0M437.7 132.8h0M476.6 109.9h0M441.9 138.3h0M425.7 154.0h0M430.1 173.4h0M439.3 152.7h0M414.9 161.6h0M440.9 160.7h0M444.8 122.7h0M470.7 125.4h0M404.6 161.1h0M453.3 152.6h0M446.4 138.4h0M412.0 168.9h0M446.0 143.5h0M440.5 123.9h0M432.2 165.6h0M456.9 128.4h0M399.2 201.5h0M416.0 162.0h0M434.2 146.0h0M470.6 113.6h0M459.5 143.8h0M446.0 154.0h0M428.9 135.1h0M413.1 174.7h0M405.5 163.1h0M424.5 149.4h0M461.0 135.3h0M440.6 137.2h0M441.5 140.2h0M461.0 118.1h0M470.7 99.4h0M415.1 178.1h0M443.7 145.6h0M420.3 149.3h0M415.3 181.1h0M466.6 115.2h0M448.9 126.9h0M452.6 112.2h0M430.4 136.7h0M428.1 154.5h0M418.8 151.9h0M472.2 123.9h0M411.1 173.3h0M414.7 147.8h0M423.9 157.3h0M474.8 122.2h0M453.1 111.4h0M501.2 77.6h0M459.3 129.9h0M477.3 126.3h0M422.0 175.2h0M463.0 139.2h0M440.2 148.6h0M444.6 123.4h0M485.8 99.7h0M439.3 138.4h0M503.0 95.2h0M459.0 104.9h0M455.3 122.4h0M439.9 164.6h0M515.3 73.7h0M470.0 120.6h0M503.0 93.0h0M521.0 70.8h0M459.0 142.8h0M431.2 166.3h0M446.1 132.6h0M536.1 75.5h0M486.1 119.3h0M481.4 100.6h0M394.0 193.0h0M417.2 148.6h0M393.2 179.1h0M367.2 214.3h0M382.4 198.8h0M365.5 216.0h0M463.8 123.9h0M376.7 212.7h0M412.6 161.4h0M337.1 250.8h0M377.0 197.4h0M373.2 213.8h0M365.5 193.9h0M411.9 180.8h0M398.5 179.9h0M372.9 225.0h0M385.9 173.2h0M454.4 132.9h0M348.5 217.4h0M422.7 175.2h0M382.3 182.3h0M388.3 199.5h0M368.6 188.7h0M379.8 204.1h0" stroke="#e8883a" stroke-opacity="0.48" stroke-width="2.0" stroke-linecap="square" fill="none"/>
<path d="M407.2 169.9h0M392.6 186.5h0M391.9 177.1h0M387.2 197.4h0M410.5 169.1h0M395.5 182.6h0M377.8 187.6h0M381.6 192.1h0M413.7 159.6h0M372.2 193.7h0M403.4 184.7h0M371.0 191.9h0M371.0 208.0h0M380.9 192.9h0M421.1 174.6h0M387.6 192.2h0M402.1 187.8h0M384.5 186.9h0M386.7 184.1h0M376.0 211.8h0M390.8 186.1h0M382.1 175.5h0M380.8 183.1h0M403.4 172.7h0M384.2 186.1h0M365.9 192.2h0M381.6 211.1h0M371.3 187.7h0M387.9 191.7h0M398.5 176.5h0M411.6 168.0h0M419.3 160.1h0M390.8 195.0h0M383.0 207.2h0M431.2 160.7h0M375.2 203.8h0M374.8 211.4h0M413.2 167.6h0M395.8 198.0h0M377.6 209.8h0M376.3 179.4h0M399.1 193.4h0M382.3 186.9h0M379.8 194.0h0M419.2 163.0h0M397.9 191.5h0M392.1 183.2h0M437.8 153.4h0M399.3 172.1h0M392.7 206.3h0M373.1 221.6h0M377.5 193.0h0M380.6 188.4h0M414.6 163.3h0M404.1 171.7h0M397.2 164.9h0M409.5 162.8h0M371.3 189.7h0M392.4 177.1h0M375.3 186.3h0M391.0 181.7h0M412.3 151.5h0M373.7 189.0h0M405.0 184.8h0M376.7 189.2h0M377.6 199.3h0M400.0 161.0h0M401.1 177.5h0M378.6 186.4h0M394.2 194.1h0M381.3 191.0h0M378.4 192.7h0M387.6 212.1h0M393.4 180.5h0M371.0 202.0h0M451.2 131.2h0M385.7 203.3h0M402.1 155.8h0M387.5 191.3h0M392.3 171.6h0M394.2 198.0h0M377.1 197.0h0M390.7 185.5h0M383.6 197.4h0M381.3 201.4h0M394.5 188.0h0M393.2 176.5h0M390.2 178.4h0M384.9 170.7h0M388.4 211.3h0M383.5 200.0h0M374.9 205.4h0M390.4 196.5h0M383.2 199.3h0M379.0 192.0h0M433.2 145.3h0M387.4 171.7h0M383.7 185.5h0M404.6 162.9h0M388.9 187.1h0M385.3 200.0h0M404.9 153.5h0M371.4 216.0h0M421.6 177.9h0M383.0 207.3h0M403.1 174.2h0M381.1 212.4h0M388.7 194.2h0M386.8 203.4h0M387.9 213.0h0M380.1 193.2h0M390.8 181.5h0M374.5 198.1h0M386.2 175.8h0M379.0 182.4h0M377.2 178.2h0M398.6 201.7h0M388.9 188.2h0M383.7 207.7h0M407.3 176.1h0M394.4 196.5h0M371.7 195.0h0M380.9 190.8h0M379.2 214.2h0M388.5 187.6h0M393.9 182.4h0M434.3 160.1h0M396.3 182.9h0M394.6 166.3h0M394.7 194.2h0M409.4 177.5h0M383.8 212.6h0M408.4 173.3h0M380.5 199.7h0M407.3 152.8h0M381.7 217.6h0M420.7 166.3h0M410.9 160.8h0M387.7 198.6h0M403.6 153.7h0M430.6 133.8h0M389.1 195.0h0M377.4 196.1h0M394.0 193.5h0M399.8 188.2h0M391.9 201.5h0M382.1 198.9h0M389.2 204.8h0M386.1 179.1h0M374.8 193.1h0M418.4 156.7h0M374.1 210.8h0M388.6 195.4h0M376.5 197.8h0M394.0 206.4h0M410.2 161.2h0M385.9 171.0h0M429.8 145.0h0M388.9 210.1h0M394.0 191.0h0M379.4 199.7h0M393.2 200.4h0M436.7 151.6h0M381.5 176.2h0M378.1 188.2h0M392.8 176.0h0M404.6 167.6h0M379.4 208.3h0M419.3 171.5h0M391.9 191.5h0M380.7 183.3h0M375.0 210.5h0M411.1 160.4h0M393.5 195.4h0M426.7 166.8h0M385.5 179.9h0M403.8 192.1h0M369.1 210.6h0M386.6 170.2h0M423.5 148.5h0M381.7 199.7h0M407.7 151.6h0M372.6 218.7h0M437.6 137.7h0M371.1 197.7h0M397.9 170.1h0M397.4 186.5h0M397.9 189.9h0M364.0 204.4h0M388.3 193.4h0M396.4 178.4h0M378.2 199.8h0M414.5 173.2h0M383.5 198.3h0M379.7 218.7h0M396.5 190.8h0M414.9 158.7h0M416.0 156.1h0M414.6 182.8h0M388.8 180.8h0M388.9 200.5h0M400.2 172.2h0M416.8 172.5h0M417.3 148.4h0M387.8 191.3h0M399.6 185.7h0M376.7 199.2h0M375.2 215.5h0M403.5 172.9h0M402.3 194.8h0M365.2 195.5h0M405.7 159.9h0M395.7 189.6h0M412.9 158.1h0M378.4 213.3h0M384.8 182.8h0M389.5 181.4h0M391.7 190.0h0M390.0 206.1h0M415.0 148.3h0M366.9 215.3h0M400.8 177.5h0M382.0 198.6h0M385.4 181.5h0M401.1 177.5h0M372.3 204.7h0M403.9 157.4h0M405.4 175.8h0M375.3 210.1h0M368.4 198.4h0M383.2 176.9h0M372.3 224.2h0M376.2 194.9h0M392.3 187.4h0M418.6 170.2h0M383.8 214.1h0M392.3 184.7h0M387.6 175.3h0M418.7 168.9h0M401.5 177.3h0M397.6 198.7h0M403.0 177.7h0M390.7 168.7h0M377.7 213.1h0M364.6 212.2h0M400.3 166.6h0M371.4 214.6h0M414.5 164.8h0M417.4 168.2h0M418.5 155.3h0M392.7 191.0h0M385.4 172.4h0M390.6 172.4h0M390.9 208.3h0M409.1 174.2h0M401.3 192.6h0M428.9 152.0h0M392.6 203.3h0M387.1 199.7h0M419.7 165.6h0M376.8 186.6h0M373.0 209.5h0M396.5 187.2h0M385.0 191.0h0M386.2 212.6h0M397.0 192.9h0M403.2 179.3h0M395.1 186.8h0M406.5 181.9h0M403.6 177.5h0M388.0 210.0h0M387.0 202.2h0M392.3 186.8h0M400.4 165.0h0M386.5 176.5h0M395.4 193.8h0M426.0 139.7h0M459.7 117.3h0M396.6 180.4h0M366.9 198.4h0M401.5 188.9h0M379.3 176.7h0M399.9 199.9h0M391.3 208.3h0M387.0 179.9h0M368.8 195.6h0M387.6 204.9h0M376.3 210.3h0M404.5 160.3h0M426.4 147.2h0M403.0 183.8h0M401.2 176.8h0M370.5 210.8h0M403.6 167.6h0M406.2 172.2h0M385.7 205.6h0M376.0 207.9h0M389.7 193.1h0M384.8 172.5h0M422.3 165.1h0M398.5 190.6h0M376.8 209.7h0M394.1 204.6h0M403.0 179.8h0M403.2 178.8h0M413.7 174.5h0M396.8 174.6h0M413.6 176.0h0M384.6 180.2h0M385.9 172.5h0M436.3 144.5h0M443.2 148.5h0M387.5 183.9h0M398.2 186.8h0M385.3 188.7h0M400.0 171.3h0M459.9 132.1h0M415.6 175.7h0M374.4 213.8h0M431.7 149.8h0M432.5 139.7h0M393.5 170.2h0M396.1 171.2h0M404.6 162.9h0M379.7 211.1h0M373.7 204.4h0M433.5 134.8h0M400.2 172.7h0M404.7 173.4h0M409.2 173.1h0M373.0 210.6h0M382.8 213.3h0M377.3 221.2h0M379.0 199.8h0M379.3 205.0h0M411.9 156.8h0M413.5 167.4h0M387.9 175.7h0M403.4 185.7h0M406.8 186.6h0M378.3 194.4h0M379.6 186.2h0M372.9 199.2h0M389.3 191.1h0M426.9 156.4h0M386.5 193.2h0M384.2 191.2h0M397.1 204.7h0M376.5 193.0h0M382.3 202.7h0M384.7 173.7h0M365.1 217.8h0M384.2 196.6h0M415.1 153.6h0M389.1 188.9h0M389.3 174.6h0M367.5 202.7h0M377.5 208.1h0M372.9 206.7h0M415.3 164.3h0M382.0 213.0h0M401.2 200.1h0M373.9 200.8h0M399.9 162.5h0M379.6 183.2h0M418.4 182.1h0M392.6 200.3h0M369.1 229.7h0M405.3 160.3h0M392.1 188.7h0M383.2 204.3h0M388.8 205.1h0M393.2 194.7h0M388.0 192.4h0M411.9 159.3h0M411.3 161.0h0M432.0 136.7h0M384.4 192.0h0M406.0 183.3h0M377.1 214.4h0M383.1 199.2h0M389.5 196.7h0M440.4 130.1h0M387.5 194.6h0M396.0 178.7h0M391.5 206.4h0M372.0 209.3h0M416.2 145.8h0M398.4 199.8h0M403.3 165.3h0M395.3 173.1h0M433.0 171.3h0M451.3 148.8h0M401.4 194.2h0M391.4 200.2h0M368.3 195.3h0M423.2 159.9h0M410.4 159.4h0M387.9 191.5h0M419.3 178.7h0M391.0 192.7h0M370.5 210.4h0M391.2 167.9h0M425.5 141.1h0M406.4 151.8h0M380.5 203.6h0M367.3 198.2h0M400.1 199.4h0M400.4 183.3h0M399.4 180.5h0M402.6 179.9h0M398.6 178.3h0M402.7 176.8h0M363.1 213.1h0M413.4 168.6h0M375.9 217.8h0M402.0 195.3h0M384.6 199.7h0M384.7 196.8h0M369.3 217.9h0M379.7 208.5h0M396.2 198.7h0M373.8 193.0h0M437.8 136.5h0M403.6 178.4h0M409.8 189.9h0M389.9 187.4h0M405.1 178.0h0M370.9 194.0h0M397.7 186.6h0M382.8 201.4h0M375.9 192.8h0M367.1 205.2h0M407.8 155.7h0M375.4 204.2h0M390.6 177.7h0M407.7 160.2h0M387.5 184.1h0M380.8 184.9h0M379.5 182.1h0M377.8 216.9h0M390.4 180.1h0M396.5 166.8h0M370.3 213.9h0M376.4 206.6h0M445.9 135.4h0M441.1 133.9h0M423.8 146.8h0M411.3 157.3h0M454.1 149.9h0M428.6 172.3h0M450.8 129.6h0M480.2 104.0h0M412.9 167.3h0M398.6 191.7h0M431.1 136.1h0M461.7 106.7h0M447.3 132.1h0M440.4 133.4h0M432.2 127.5h0M416.5 145.0h0M479.9 112.9h0M439.0 141.7h0M459.2 143.7h0M476.5 112.6h0M440.9 124.1h0M453.3 143.5h0M424.8 149.4h0M464.1 138.3h0M400.5 157.0h0M460.5 140.7h0M427.7 152.7h0M403.3 192.2h0M474.8 118.8h0M479.1 97.7h0M434.8 157.2h0M427.9 149.3h0M445.9 119.6h0M443.6 154.2h0M443.6 145.9h0M442.5 142.5h0M444.0 144.2h0M400.4 157.9h0M411.8 187.0h0M423.1 164.7h0M430.7 165.6h0M479.8 112.9h0M429.2 134.5h0M450.3 148.8h0M407.4 156.1h0M431.3 167.0h0M453.1 151.2h0M439.9 148.0h0M434.9 133.4h0M501.4 84.3h0M410.2 167.8h0M428.0 138.9h0M479.8 106.5h0M445.2 134.2h0M444.0 133.8h0M441.9 125.2h0M427.1 151.2h0M411.4 179.8h0M430.9 156.5h0M423.0 165.1h0M410.1 158.9h0M446.0 141.2h0M441.4 135.5h0M460.7 120.6h0M473.4 128.9h0M420.7 138.9h0M435.2 142.0h0M399.4 190.4h0M479.6 112.2h0M446.6 128.4h0M446.7 131.4h0M454.4 123.4h0M494.1 82.9h0M462.3 132.8h0M419.2 164.2h0M441.0 150.4h0M456.7 123.1h0M396.6 172.7h0M412.0 168.1h0M446.5 137.0h0M456.3 105.6h0M411.1 179.1h0M386.2 194.2h0M444.5 130.0h0M456.0 144.8h0M408.6 181.9h0M461.8 140.0h0M424.1 168.7h0M466.9 120.6h0M488.5 119.3h0M405.0 174.9h0M421.2 139.0h0M411.4 174.4h0M492.2 88.8h0M428.9 139.5h0M449.2 132.0h0M500.5 69.5h0M415.6 161.3h0M386.1 191.6h0M443.2 155.2h0M429.1 159.9h0M492.0 75.5h0M463.8 106.8h0M453.6 131.4h0M424.9 163.5h0M451.1 134.1h0M402.9 182.3h0M418.1 142.4h0M440.2 155.6h0M423.8 178.9h0M417.6 148.6h0M466.4 135.6h0M460.7 137.8h0M485.9 105.2h0M486.1 105.3h0M446.3 135.2h0M410.0 185.5h0M391.7 172.7h0M453.4 116.6h0M409.6 179.0h0M424.8 150.7h0M469.0 132.3h0M474.7 125.5h0M492.8 76.7h0M468.6 113.9h0M458.4 113.4h0M454.4 124.1h0M550.5 36.6h0M469.4 119.9h0M487.0 95.2h0M495.8 73.1h0M436.0 149.0h0M462.1 107.0h0M488.0 85.5h0M487.6 101.2h0M464.4 106.3h0M498.2 108.9h0M458.1 137.7h0M456.9 121.8h0M509.7 84.3h0M457.9 112.6h0M538.3 70.1h0M522.2 78.0h0M507.3 63.5h0M438.0 147.6h0M470.6 132.3h0M370.4 221.0h0M420.0 147.8h0M328.6 227.9h0M387.1 212.6h0M368.2 223.5h0M378.5 209.1h0M393.4 166.2h0M402.8 187.9h0M376.6 201.3h0M351.5 244.0h0M385.9 179.4h0M365.4 198.0h0M388.5 180.7h0M346.7 217.5h0M429.8 158.7h0M410.0 162.2h0M408.4 177.4h0M375.4 202.6h0M376.6 200.3h0M330.5 247.6h0M399.4 170.1h0M376.2 196.6h0M359.8 221.4h0M384.5 186.0h0" stroke="#e8883a" stroke-opacity="0.48" stroke-width="2.0" stroke-linecap="square" fill="none"/>
<path d="M386.8 173.6h0M385.4 171.9h0M386.9 173.7h0M396.0 162.5h0M434.8 117.6h0M412.8 134.1h0M390.3 219.2h0M376.4 173.7h0M399.5 200.5h0M380.6 183.7h0M393.8 208.8h0M387.9 168.7h0M390.7 159.4h0M417.6 185.6h0M398.1 201.8h0M375.8 184.8h0M388.4 212.2h0M406.1 195.4h0M387.0 221.0h0M374.5 186.5h0M402.9 205.3h0M398.7 203.5h0M407.4 193.8h0M386.3 221.5h0M373.8 228.7h0M379.9 227.2h0M376.7 186.0h0M395.2 150.3h0M391.6 208.7h0M399.3 156.4h0M402.7 212.3h0M394.9 164.8h0M430.6 125.2h0M411.9 192.0h0M407.9 144.9h0M385.9 177.5h0M414.1 143.2h0M403.9 142.9h0M389.2 216.8h0M405.9 207.3h0M392.3 212.0h0M409.8 136.3h0M378.6 178.7h0M382.3 178.9h0M395.4 156.2h0M398.7 162.8h0M404.7 198.9h0M386.4 174.3h0M376.1 185.0h0M373.2 190.0h0M411.9 144.0h0M371.4 186.0h0M376.2 235.0h0M393.9 215.5h0M401.6 198.7h0M388.0 169.2h0M388.6 173.6h0M387.0 171.2h0M401.8 156.1h0M410.5 148.3h0M395.0 157.0h0M412.3 188.4h0M364.7 240.6h0M385.4 215.8h0M369.2 180.0h0M401.5 199.4h0M383.6 174.5h0M410.3 201.8h0M402.7 197.1h0M409.7 151.4h0M370.7 233.5h0M422.8 174.9h0M370.0 193.3h0M413.7 144.7h0M391.1 164.7h0M378.2 236.4h0M401.2 211.0h0M374.9 231.8h0M368.1 195.0h0M377.1 226.5h0M386.6 216.8h0M369.3 191.7h0M394.2 210.3h0M386.7 217.0h0M435.3 161.3h0M454.2 151.0h0M391.8 167.8h0M418.6 178.9h0M412.6 194.7h0M384.4 219.5h0M390.0 221.7h0M398.7 211.5h0M408.2 193.8h0M401.4 159.7h0M396.2 204.1h0M374.9 227.8h0M378.5 223.5h0M368.9 193.9h0M385.5 228.3h0M391.5 166.5h0M404.1 153.8h0M381.6 223.7h0M406.4 198.6h0M401.1 161.0h0M393.3 167.7h0M390.9 210.1h0M391.9 208.3h0M422.9 179.4h0M385.1 173.3h0M362.6 246.3h0M401.9 205.7h0M383.9 218.1h0M371.9 232.5h0M372.8 233.1h0M374.3 182.7h0M385.1 223.2h0M404.2 155.4h0M373.5 189.8h0M370.9 182.0h0M407.0 147.6h0M453.4 90.6h0M477.3 84.7h0M473.6 129.0h0M431.4 178.7h0M458.8 139.3h0M414.5 140.7h0M456.7 146.1h0M367.8 191.7h0M455.5 98.7h0M447.2 107.4h0M391.1 216.3h0M425.6 132.7h0M424.7 172.2h0M449.6 107.0h0M444.9 111.3h0M442.5 108.8h0M378.5 182.5h0M450.8 148.2h0M395.0 208.8h0M438.0 160.4h0M409.8 204.2h0M413.1 187.0h0M469.1 92.8h0M433.3 106.5h0M500.9 110.7h0M480.0 123.6h0M423.5 122.1h0M467.3 92.1h0M428.9 179.8h0M492.0 69.4h0M364.2 241.8h0M390.0 168.8h0M386.4 174.8h0M376.2 183.7h0M386.9 220.0h0" stroke="#1fa8de" stroke-opacity="0.25" stroke-width="2.0" stroke-linecap="square" fill="none"/>
<path d="M377.5 181.4h0M385.4 226.1h0M374.6 228.0h0M397.4 161.7h0M414.7 139.5h0M381.2 182.2h0M394.2 212.0h0M381.0 178.6h0M390.5 171.8h0M390.4 167.1h0M383.4 217.9h0M379.4 184.6h0M406.1 193.3h0M404.4 194.5h0M380.3 228.9h0M386.6 169.4h0M368.2 236.3h0M380.4 183.0h0M413.3 194.5h0M401.5 155.7h0M406.7 152.9h0M403.4 154.1h0M385.1 163.3h0M380.9 222.5h0M395.7 205.6h0M421.2 176.0h0M383.3 225.6h0M408.2 199.9h0M435.5 162.2h0M369.7 192.5h0M422.5 178.8h0M400.9 148.9h0M374.8 186.0h0M399.0 159.1h0M435.8 164.7h0M394.9 208.5h0M400.7 200.7h0M404.3 156.6h0M436.6 160.0h0M412.8 188.5h0M407.4 194.9h0M391.4 170.7h0M381.4 178.9h0M374.1 235.7h0M396.1 164.0h0M385.3 224.8h0M393.0 206.9h0M389.2 214.0h0M386.0 215.3h0M417.4 123.5h0M398.5 218.5h0M424.6 131.8h0M387.2 215.2h0M378.4 224.2h0M436.1 118.7h0M401.2 200.3h0M404.3 151.2h0M413.8 138.8h0M382.0 174.9h0M421.2 135.9h0M413.4 186.1h0M427.0 171.7h0M398.3 162.6h0M387.0 213.7h0M403.5 207.5h0M377.5 186.6h0M420.1 194.1h0M409.6 140.2h0M400.2 161.8h0M430.6 120.6h0M372.6 245.3h0M370.4 189.4h0M376.9 182.2h0M377.5 225.9h0M381.8 221.8h0M389.3 214.1h0M371.0 182.2h0M402.6 202.4h0M417.5 186.8h0M386.5 167.5h0M399.1 159.3h0M391.0 171.5h0M369.5 184.7h0M398.6 201.6h0M411.1 148.9h0M391.2 171.7h0M390.3 162.1h0M381.4 220.6h0M394.4 205.8h0M384.5 224.9h0M393.9 165.4h0M412.5 136.4h0M385.7 176.5h0M392.5 154.6h0M393.7 166.9h0M373.2 230.5h0M391.3 212.3h0M381.6 221.5h0M385.8 176.8h0M382.6 225.3h0M376.9 185.0h0M415.7 144.0h0M437.6 164.0h0M407.8 207.0h0M389.6 214.1h0M398.4 156.6h0M395.7 162.6h0M398.9 203.7h0M363.8 199.5h0M383.3 180.3h0M397.5 204.0h0M390.8 170.3h0M407.0 196.5h0M394.0 167.8h0M374.2 229.4h0M390.9 170.3h0M385.4 220.1h0M363.0 238.2h0M416.6 182.5h0M430.3 125.7h0M446.6 150.3h0M443.4 153.1h0M441.9 114.1h0M460.8 139.6h0M450.3 149.6h0M457.5 94.8h0M428.0 131.2h0M410.4 147.7h0M411.8 187.3h0M442.6 156.0h0M453.9 144.2h0M413.4 139.8h0M445.7 156.5h0M453.9 145.8h0M448.5 157.1h0M421.2 135.6h0M448.1 109.1h0M458.4 148.8h0M469.2 134.2h0M463.4 137.6h0M396.7 205.2h0M377.6 175.8h0M503.2 108.4h0M460.1 93.0h0M452.9 147.2h0M441.3 168.4h0M465.5 135.2h0M523.1 39.2h0M445.5 108.2h0M373.9 188.0h0M405.3 194.3h0M367.2 195.6h0M378.3 186.2h0M382.8 173.7h0" stroke="#1fa8de" stroke-opacity="0.25" stroke-width="2.0" stroke-linecap="square" fill="none"/>
<path d="M378.2 203.9h0M383.6 194.1h0M399.6 174.5h0M396.3 183.8h0M402.6 177.8h0M399.4 191.4h0M402.2 176.6h0M378.0 196.1h0M392.3 189.4h0M393.3 183.9h0M394.0 178.7h0M378.9 195.3h0M375.7 225.6h0M401.8 185.6h0M407.7 165.0h0M406.3 174.5h0M402.1 173.5h0M369.4 196.7h0M367.0 209.7h0M400.4 183.8h0M375.3 219.6h0M409.4 173.8h0M387.0 202.4h0M378.7 203.7h0M413.0 160.9h0M423.2 138.8h0M372.0 209.6h0M379.2 196.4h0M423.5 164.4h0M407.6 166.5h0M381.2 203.1h0M424.0 146.9h0M436.9 139.7h0M378.2 196.7h0M378.2 206.8h0M375.0 220.6h0M384.3 190.4h0M381.8 192.7h0M436.3 142.7h0M369.3 201.4h0M392.8 197.3h0M395.3 190.5h0M376.6 200.4h0M465.0 109.2h0M419.0 172.4h0M373.9 212.3h0M375.8 206.0h0M387.3 180.1h0M437.7 141.4h0M387.8 202.6h0M375.4 204.9h0M391.5 192.6h0M397.8 186.4h0M393.8 176.3h0M369.5 225.8h0M418.8 150.6h0M370.3 223.3h0M381.3 203.2h0M401.6 190.1h0M392.6 197.7h0M378.1 216.9h0M410.3 169.2h0M388.8 198.4h0M400.1 166.9h0M415.4 166.2h0M401.2 171.6h0M370.4 202.8h0M393.0 188.8h0M395.6 187.0h0M384.4 187.1h0M409.9 187.0h0M420.9 153.1h0M413.2 164.6h0M380.0 200.2h0M401.0 171.9h0M399.7 164.4h0M399.6 187.3h0M383.7 180.8h0M381.6 211.5h0M420.7 151.0h0M420.8 168.7h0M421.8 143.3h0M387.8 203.8h0M416.2 153.2h0M403.7 191.5h0M398.6 184.6h0M377.5 208.4h0M371.6 200.1h0M379.3 193.9h0M388.8 187.4h0M392.6 204.9h0M369.6 231.7h0M375.7 214.6h0M391.7 185.8h0M398.9 182.0h0M414.8 167.5h0M391.2 194.2h0M380.6 218.2h0M393.5 171.9h0M426.7 144.9h0M392.9 176.6h0M405.5 185.5h0M393.5 199.3h0M402.1 172.1h0M379.4 208.9h0M388.0 192.4h0M412.8 181.8h0M408.4 161.1h0M375.8 219.4h0M374.9 216.3h0M419.2 164.8h0M412.1 162.9h0M364.4 214.0h0M409.6 179.1h0M379.7 206.4h0M424.3 155.1h0M377.3 223.8h0M402.0 173.1h0M371.1 218.4h0M370.8 226.0h0M395.1 193.8h0M386.5 188.8h0M409.5 164.3h0M383.1 201.1h0M375.1 211.0h0M390.2 182.0h0M388.4 194.2h0M404.7 163.4h0M391.0 185.5h0M391.4 182.5h0M377.3 208.4h0M398.0 183.7h0M372.2 207.7h0M428.4 150.6h0M414.2 154.7h0M407.1 182.9h0M411.2 175.1h0M396.3 172.9h0M407.6 187.9h0M406.6 159.7h0M407.7 161.2h0M412.3 150.7h0M401.9 183.9h0M392.1 176.2h0M386.4 181.9h0M391.1 175.9h0M396.1 175.4h0M392.7 183.7h0M401.5 172.9h0M376.5 190.3h0M394.2 178.5h0M422.0 171.4h0M415.5 160.6h0M398.4 194.8h0M364.2 225.8h0M365.9 220.4h0M378.9 209.0h0M418.2 171.5h0M403.3 169.7h0M412.5 156.3h0M418.1 160.3h0M389.0 193.4h0M401.0 195.6h0M413.8 166.2h0M391.2 192.6h0M396.4 178.2h0M406.5 181.0h0M396.9 185.6h0M402.4 179.9h0M372.3 200.7h0M377.6 206.4h0M401.9 183.6h0M392.8 179.5h0M394.1 181.8h0M417.2 159.3h0M386.3 187.7h0M373.6 214.9h0M421.2 160.8h0M400.9 177.7h0M411.2 164.1h0M380.3 207.7h0M372.2 218.5h0M392.8 191.7h0M374.4 214.1h0M401.8 176.2h0M382.1 208.6h0M389.4 195.0h0M455.4 126.2h0M397.1 191.1h0M370.3 208.9h0M377.6 201.2h0M433.5 143.2h0M385.5 204.0h0M378.4 190.5h0M396.9 187.4h0M377.8 200.1h0M381.2 204.1h0M380.1 203.2h0M390.1 192.2h0M405.8 182.3h0M397.0 173.7h0M392.0 183.9h0M403.0 176.9h0M385.4 191.8h0M436.8 121.7h0M387.1 208.8h0M426.3 149.5h0M403.9 175.0h0M366.0 206.6h0M416.1 156.0h0M370.0 215.8h0M382.7 208.6h0M384.6 209.9h0M388.6 199.8h0M399.3 164.3h0M403.5 190.6h0M416.8 156.8h0M384.0 214.3h0M438.3 140.7h0M369.5 215.2h0M376.4 218.4h0M374.4 206.0h0M405.8 181.6h0M408.5 177.7h0M456.4 123.0h0M380.3 197.1h0M380.2 201.2h0M419.4 157.8h0M389.2 210.5h0M402.1 178.3h0M399.0 177.4h0M388.0 185.8h0M388.5 197.2h0M397.2 171.8h0M398.1 194.9h0M425.8 148.1h0M383.2 205.7h0M405.1 166.3h0M381.3 206.5h0M398.2 179.3h0M407.5 189.9h0M416.7 156.1h0M406.9 170.9h0M380.1 205.0h0M365.2 215.0h0M381.5 216.0h0M421.9 140.7h0M389.6 200.7h0M390.9 203.9h0M374.6 204.2h0M404.5 178.1h0M389.6 186.2h0M405.6 180.2h0M410.0 157.6h0M382.8 213.7h0M387.2 208.7h0M395.9 194.6h0M378.8 186.6h0M391.1 196.8h0M410.3 184.9h0M385.6 190.5h0M401.1 177.2h0M372.4 220.9h0M375.6 201.9h0M399.8 183.2h0M382.9 197.6h0M363.8 230.8h0M391.6 201.0h0M400.4 191.4h0M377.3 199.8h0M372.0 208.5h0M372.0 219.4h0M398.6 176.5h0M364.9 234.3h0M412.3 171.4h0M388.3 179.7h0M396.6 182.4h0M413.6 155.1h0M368.3 202.9h0M411.1 171.4h0M384.9 208.0h0M367.4 207.4h0M401.9 189.5h0M394.4 180.5h0M382.8 187.8h0M384.3 203.7h0M400.6 173.0h0M403.2 166.5h0M388.6 187.4h0M393.9 178.7h0M389.8 183.0h0M429.7 158.5h0M427.6 149.9h0M384.7 201.8h0M397.1 186.9h0M379.8 208.3h0M410.0 176.0h0M389.6 181.5h0M382.4 185.2h0M380.2 213.0h0M381.6 207.0h0M365.2 224.1h0M405.4 178.0h0M385.9 214.5h0M397.8 166.6h0M381.1 209.1h0M376.6 214.8h0M390.6 196.6h0M395.8 190.6h0M404.5 192.9h0M402.6 177.8h0M400.1 172.5h0M401.6 176.0h0M368.5 199.2h0M418.2 150.6h0M395.2 191.1h0M412.0 160.4h0M419.9 172.9h0M394.1 181.1h0M391.5 189.4h0M363.6 212.5h0M406.0 171.3h0M394.6 188.1h0M401.4 174.8h0M426.1 146.7h0M395.5 184.5h0M408.2 162.1h0M397.1 180.0h0M388.8 187.7h0M417.8 167.7h0M391.5 193.0h0M397.8 167.5h0M396.7 177.8h0M417.7 170.0h0M385.7 208.5h0M378.5 207.2h0M389.6 207.7h0M391.5 175.1h0M387.1 205.5h0M398.2 195.2h0M430.3 143.5h0M400.0 185.0h0M379.9 208.7h0M394.1 183.1h0M388.0 197.3h0M419.5 162.4h0M389.4 200.2h0M396.6 174.0h0M378.4 195.8h0M384.0 197.3h0M391.1 185.1h0M384.2 194.7h0M400.0 168.3h0M375.9 208.2h0M404.8 181.6h0M369.9 220.5h0M411.7 175.6h0M398.1 174.0h0M415.7 152.9h0M380.4 204.8h0M373.2 217.6h0M383.8 190.8h0M393.2 184.5h0M377.6 211.8h0M421.6 147.1h0M386.9 203.1h0M381.0 205.0h0M383.6 193.1h0M396.7 201.1h0M380.3 219.2h0M413.5 182.4h0M402.5 185.5h0M401.5 175.0h0M387.9 211.5h0M409.6 179.1h0M393.5 202.3h0M380.7 191.6h0M424.5 150.3h0M397.4 175.5h0M383.6 186.4h0M394.4 181.5h0M408.7 169.1h0M393.0 176.1h0M369.1 214.2h0M377.9 212.4h0M372.5 200.0h0M412.9 159.8h0M407.9 169.0h0M411.9 173.5h0M411.5 169.4h0M369.2 219.1h0M381.0 193.7h0M375.6 195.0h0M428.0 158.6h0M387.4 192.4h0M431.0 162.1h0M384.7 185.8h0M385.3 194.3h0M408.6 163.0h0M383.2 199.9h0M411.0 150.9h0M406.4 189.2h0M377.5 219.7h0M374.4 206.1h0M386.9 192.9h0M377.8 215.9h0M373.6 197.7h0M399.5 171.9h0M384.0 190.4h0M373.8 205.8h0M386.2 194.3h0M389.1 184.9h0M409.7 175.4h0M372.7 209.1h0M393.9 200.0h0M390.8 206.2h0M414.5 164.9h0M407.8 185.0h0M376.7 204.7h0M401.0 161.3h0M416.5 147.3h0M397.5 175.3h0M408.3 169.1h0M380.7 189.1h0M381.4 218.1h0M377.9 207.5h0M388.6 197.0h0M430.0 135.2h0M372.4 202.4h0M378.6 210.9h0M402.1 175.9h0M389.8 189.1h0M387.8 196.2h0M374.8 197.2h0M398.9 194.8h0M397.5 185.9h0M404.4 171.8h0M402.1 186.1h0M386.8 207.2h0M382.0 187.0h0M377.3 201.0h0M373.8 200.5h0M373.3 203.0h0M370.4 202.3h0M366.2 216.9h0M429.3 149.8h0M394.4 168.6h0M390.2 194.0h0M411.8 155.7h0M385.2 189.7h0M391.8 174.7h0M385.2 192.6h0M397.6 170.8h0M398.6 177.8h0M376.3 218.4h0M386.6 190.0h0M422.8 168.9h0M379.2 196.3h0M392.2 199.4h0M431.9 154.7h0M391.1 182.7h0M384.6 202.8h0M372.4 213.1h0M393.9 192.6h0M397.1 186.9h0M394.3 184.3h0M396.1 184.7h0M414.1 163.8h0M387.2 194.8h0M398.7 165.0h0M414.8 166.9h0M410.9 180.8h0M385.9 201.5h0M424.8 147.5h0M406.5 164.6h0M395.2 176.7h0M364.3 217.0h0M394.8 183.4h0M385.6 194.8h0M386.7 209.7h0M390.5 174.6h0M436.5 139.5h0M403.0 169.4h0M452.9 135.7h0M474.7 91.0h0M450.5 140.4h0M398.7 177.2h0M419.5 151.9h0M446.9 136.5h0M451.9 124.5h0M395.8 191.8h0M427.6 140.0h0M416.1 149.9h0M464.3 108.0h0M470.3 97.9h0M458.6 137.9h0M469.0 97.2h0M433.3 132.6h0M395.1 199.7h0M443.1 138.2h0M446.6 125.0h0M467.6 114.8h0M454.0 138.4h0M446.4 117.5h0M500.3 76.6h0M444.7 139.1h0M436.9 148.8h0M365.7 230.8h0M447.7 128.2h0M439.9 126.2h0M436.7 133.1h0M435.9 156.9h0M449.1 141.4h0M452.4 141.7h0M454.4 107.9h0M431.4 135.7h0M426.0 141.6h0M429.9 155.5h0M414.0 171.2h0M460.8 120.5h0M426.0 149.0h0M542.1 56.7h0M448.8 136.8h0M473.5 98.3h0M452.6 130.7h0M363.4 226.5h0M486.0 97.1h0M484.7 102.3h0M447.2 114.4h0M428.8 166.3h0M423.5 138.6h0M478.0 111.8h0M452.1 137.2h0M464.7 118.1h0M450.1 117.8h0M461.5 122.3h0M439.2 141.0h0M411.2 172.6h0M424.6 158.9h0M476.7 92.9h0M465.4 113.2h0M467.2 122.8h0M435.6 156.6h0M441.0 128.4h0M446.7 125.4h0M457.1 118.4h0M480.9 111.5h0M446.8 125.1h0M418.3 158.1h0M436.7 129.9h0M454.0 122.7h0M440.3 131.5h0M427.9 144.4h0M419.6 165.5h0M421.3 171.7h0M423.6 156.4h0M440.4 136.0h0M458.4 123.2h0M448.6 134.5h0M461.0 128.6h0M454.8 114.0h0M409.1 170.4h0M432.8 148.1h0M435.9 141.5h0M419.9 142.2h0M450.1 120.3h0M440.2 138.9h0M440.1 126.6h0M478.0 103.8h0M441.5 136.0h0M416.9 172.8h0M457.8 134.7h0M399.8 182.1h0M454.4 119.4h0M398.8 179.5h0M457.0 119.1h0M441.8 135.3h0M460.7 124.4h0M449.7 123.0h0M440.6 118.6h0M429.5 149.0h0M442.9 147.5h0M490.0 87.7h0M440.4 138.1h0M480.5 97.6h0M450.6 128.9h0M434.7 138.3h0M413.0 154.2h0M467.8 123.6h0M444.1 136.7h0M444.9 139.0h0M432.2 139.0h0M397.5 193.6h0M486.4 112.8h0M451.8 134.0h0M409.7 171.4h0M470.2 110.3h0M428.5 138.3h0M429.3 164.2h0M392.9 176.6h0M457.7 115.5h0M390.5 206.7h0M462.5 107.0h0M406.5 162.5h0M483.7 86.7h0M453.2 124.8h0M424.3 144.1h0M398.5 192.6h0M454.3 115.2h0M432.4 153.8h0M455.7 124.3h0M450.1 127.1h0M409.6 164.8h0M440.1 132.2h0M449.9 113.9h0M431.0 132.3h0M441.0 131.9h0M412.3 167.5h0M480.1 104.1h0M497.5 93.2h0M465.4 120.5h0M470.2 97.9h0M497.2 86.1h0M461.6 113.6h0M493.4 89.5h0M484.4 94.4h0M449.4 129.1h0M422.4 149.3h0M444.1 129.4h0M512.0 78.4h0M471.9 108.8h0M493.6 91.8h0M441.5 128.1h0M531.3 45.1h0M490.0 88.0h0M484.4 102.0h0M477.0 111.8h0M500.4 95.5h0M477.8 115.0h0M478.1 115.2h0M489.9 97.4h0M472.4 93.5h0M424.4 151.9h0M485.5 86.9h0M446.1 121.6h0M465.2 98.8h0M416.8 160.1h0M377.3 214.0h0M405.0 188.9h0M386.3 209.8h0M375.3 208.1h0M358.7 215.7h0M418.7 172.1h0M434.3 158.9h0M408.3 187.6h0M360.2 215.9h0M419.2 149.3h0M354.3 231.2h0M397.4 174.4h0M418.0 172.6h0M385.5 179.7h0M375.2 219.7h0M380.2 207.8h0M407.9 167.1h0M373.2 215.8h0M425.2 155.8h0M398.6 184.4h0M399.2 176.6h0M446.5 142.2h0M373.1 198.0h0M369.2 219.0h0M404.3 169.5h0M386.8 200.6h0" stroke="#1fa8de" stroke-opacity="0.42" stroke-width="2.0" stroke-linecap="square" fill="none"/>
<path d="M381.4 199.3h0M396.7 185.0h0M379.8 187.2h0M370.0 207.8h0M383.6 189.8h0M389.7 189.4h0M396.1 201.6h0M403.1 188.7h0M393.8 183.1h0M378.3 201.8h0M383.4 216.2h0M396.7 178.7h0M382.6 187.7h0M366.8 218.8h0M378.2 210.7h0M367.6 200.1h0M386.8 205.8h0M385.7 188.0h0M385.2 210.0h0M388.7 191.7h0M378.6 205.2h0M394.3 187.1h0M392.4 179.1h0M376.8 212.6h0M381.6 184.2h0M391.8 182.4h0M433.3 157.3h0M383.5 186.2h0M376.0 207.3h0M412.9 163.9h0M390.9 192.6h0M389.2 199.5h0M435.2 149.9h0M424.9 170.0h0M407.6 164.8h0M387.1 183.9h0M387.8 179.8h0M391.2 204.3h0M424.2 154.3h0M370.7 210.2h0M396.1 183.3h0M407.8 189.3h0M385.4 192.3h0M394.1 189.3h0M414.6 174.5h0M379.5 194.4h0M366.2 229.7h0M396.0 183.5h0M416.9 174.9h0M374.8 220.8h0M369.5 228.6h0M404.0 186.8h0M392.8 176.6h0M398.3 172.7h0M390.7 180.8h0M385.0 200.9h0M405.6 188.2h0M447.6 131.7h0M383.6 197.9h0M434.5 156.0h0M376.6 217.4h0M365.5 219.8h0M409.3 164.9h0M390.2 188.7h0M387.6 212.0h0M400.6 177.7h0M401.0 188.9h0M394.7 182.2h0M383.9 193.7h0M382.9 189.8h0M375.3 207.5h0M380.3 203.7h0M401.4 192.8h0M368.1 208.7h0M369.5 209.4h0M380.6 209.5h0M412.4 148.8h0M401.1 172.1h0M375.4 215.4h0M415.5 160.8h0M407.7 178.5h0M379.0 196.8h0M386.9 206.4h0M398.2 194.3h0M393.2 188.3h0M438.2 143.1h0M369.4 207.4h0M367.0 208.9h0M390.0 208.9h0M417.8 157.1h0M444.3 127.6h0M363.4 203.8h0M388.5 202.7h0M395.2 199.7h0M419.6 161.2h0M383.8 201.7h0M375.3 211.7h0M403.9 176.0h0M409.3 167.9h0M426.9 163.2h0M395.7 175.7h0M376.7 217.6h0M410.9 156.5h0M390.8 184.6h0M395.4 196.3h0M410.3 174.7h0M396.3 176.9h0M373.1 213.4h0M411.0 170.3h0M392.2 189.6h0M370.2 214.3h0M400.3 164.7h0M382.9 211.1h0M382.0 205.1h0M391.5 191.7h0M421.2 163.8h0M382.1 195.5h0M398.7 191.9h0M394.8 181.6h0M386.3 212.2h0M396.3 179.5h0M385.8 188.9h0M398.8 172.1h0M415.5 173.6h0M387.8 202.5h0M390.3 195.7h0M387.1 198.6h0M398.2 191.8h0M384.6 208.1h0M385.8 207.5h0M429.7 153.7h0M395.8 193.7h0M395.1 196.3h0M382.3 187.4h0M425.1 168.0h0M397.4 183.8h0M404.1 189.3h0M380.7 200.0h0M376.9 201.0h0M378.4 189.4h0M380.6 203.4h0M379.2 198.8h0M372.8 197.4h0M372.1 220.8h0M395.2 182.8h0M389.2 177.3h0M381.9 193.5h0M396.9 187.0h0M385.8 188.6h0M414.6 169.2h0M372.2 202.6h0M399.0 189.7h0M413.0 167.5h0M386.3 179.7h0M415.6 171.9h0M383.9 195.4h0M415.2 152.6h0M393.5 202.8h0M371.9 224.6h0M383.9 200.5h0M380.5 206.3h0M407.2 172.3h0M379.9 189.1h0M439.0 135.0h0M385.8 192.2h0M383.4 187.5h0M384.2 194.5h0M380.4 188.4h0M383.9 195.5h0M396.7 183.9h0M405.2 182.5h0M400.9 171.9h0M417.6 173.2h0M395.9 169.1h0M376.0 207.5h0M373.8 223.2h0M382.9 193.3h0M381.1 202.9h0M371.3 218.2h0M418.5 156.3h0M405.9 177.3h0M378.6 219.4h0M399.3 173.4h0M386.0 194.1h0M452.4 109.7h0M381.6 194.6h0M376.1 201.3h0M392.0 183.0h0M406.3 165.4h0M396.1 179.6h0M375.2 226.2h0M421.3 141.8h0M411.9 179.2h0M433.3 157.0h0M381.8 196.5h0M383.8 204.8h0M375.7 215.1h0M404.1 174.8h0M375.9 201.7h0M399.4 180.6h0M405.4 163.1h0M373.9 191.8h0M385.5 192.4h0M398.6 177.8h0M395.4 172.1h0M384.8 197.0h0M423.1 153.5h0M378.6 210.7h0M387.2 205.2h0M399.2 187.3h0M391.0 194.2h0M378.1 211.9h0M398.4 170.1h0M392.8 197.0h0M379.1 206.5h0M416.2 159.4h0M384.9 201.5h0M385.9 189.3h0M376.5 218.6h0M398.4 184.1h0M373.0 200.6h0M384.8 182.6h0M390.3 203.0h0M413.0 154.4h0M371.7 214.0h0M374.3 207.5h0M376.5 206.7h0M419.4 161.0h0M384.5 186.3h0M381.8 207.7h0M404.1 188.6h0M374.5 198.7h0M411.5 179.3h0M394.4 186.6h0M378.7 212.2h0M387.4 207.0h0M390.8 187.2h0M391.9 203.2h0M418.5 172.4h0M374.8 213.9h0M384.0 187.6h0M382.1 192.6h0M387.3 187.4h0M400.6 195.6h0M394.0 180.4h0M388.1 184.0h0M421.4 167.4h0M368.5 220.9h0M408.3 161.4h0M416.4 153.4h0M383.2 184.6h0M397.6 185.1h0M393.8 188.4h0M370.4 211.1h0M380.6 205.5h0M378.1 219.6h0M398.2 170.3h0M407.5 176.7h0M380.6 203.6h0M386.6 213.3h0M405.2 170.3h0M381.4 191.6h0M397.6 183.3h0M450.3 112.6h0M408.4 169.0h0M398.0 182.2h0M373.4 214.4h0M415.1 169.0h0M385.5 194.4h0M381.4 203.1h0M375.8 213.7h0M392.6 174.6h0M379.5 194.8h0M415.3 159.9h0M374.4 214.1h0M379.4 209.1h0M376.0 203.4h0M419.1 144.8h0M418.0 149.6h0M381.2 205.3h0M366.7 224.1h0M386.3 197.3h0M395.6 183.6h0M404.3 172.1h0M383.3 197.2h0M422.2 148.1h0M387.9 188.2h0M379.9 203.6h0M387.4 198.0h0M402.9 175.5h0M400.0 180.7h0M390.7 187.3h0M418.4 166.9h0M384.8 211.3h0M387.5 204.1h0M383.8 198.5h0M383.8 192.6h0M401.0 187.8h0M385.0 195.3h0M404.5 164.4h0M388.7 194.4h0M406.7 173.7h0M405.6 170.9h0M385.9 213.0h0M381.2 207.0h0M401.0 180.1h0M422.9 161.7h0M386.8 205.4h0M372.9 213.0h0M413.3 165.7h0M398.9 190.9h0M384.8 198.0h0M430.6 142.0h0M383.5 198.1h0M422.9 142.5h0M423.7 162.9h0M394.0 179.8h0M386.3 211.1h0M374.1 211.8h0M401.2 176.4h0M371.9 221.7h0M375.7 206.5h0M370.6 211.5h0M404.6 189.8h0M377.4 212.7h0M389.1 201.0h0M382.5 208.8h0M400.7 170.2h0M385.1 190.0h0M380.2 204.4h0M372.6 209.9h0M396.3 185.7h0M361.7 208.9h0M407.8 171.9h0M382.3 182.8h0M375.0 216.0h0M381.4 203.5h0M401.7 171.8h0M365.7 203.0h0M388.6 196.6h0M388.1 191.0h0M374.8 203.5h0M399.3 198.8h0M388.9 182.3h0M404.6 173.9h0M399.4 176.2h0M387.6 186.6h0M427.6 150.6h0M416.6 160.6h0M378.0 203.1h0M407.9 168.9h0M374.2 219.2h0M386.4 191.7h0M401.8 180.6h0M401.2 194.1h0M404.6 170.3h0M380.5 207.3h0M387.4 204.7h0M387.9 199.0h0M378.5 210.8h0M378.7 199.5h0M388.8 177.4h0M395.5 195.1h0M388.7 203.0h0M377.2 218.3h0M386.3 195.6h0M386.2 198.5h0M402.6 189.3h0M384.7 194.9h0M382.6 211.7h0M443.1 117.5h0M416.1 170.0h0M390.6 204.0h0M391.4 176.1h0M398.1 186.4h0M425.5 151.1h0M408.9 170.6h0M377.5 200.8h0M409.7 164.0h0M391.6 199.2h0M382.6 196.7h0M385.1 195.9h0M393.1 199.3h0M384.7 187.2h0M409.5 172.4h0M395.0 191.9h0M444.2 135.8h0M380.1 196.7h0M387.9 200.2h0M396.7 186.5h0M386.1 201.1h0M374.9 208.2h0M413.5 157.5h0M376.0 221.9h0M399.1 179.8h0M381.8 199.3h0M385.5 206.5h0M366.2 228.2h0M380.0 200.1h0M385.1 204.9h0M376.3 208.0h0M385.2 204.1h0M378.5 210.4h0M412.1 178.3h0M387.6 197.3h0M382.1 193.3h0M397.0 191.7h0M371.5 195.4h0M367.9 214.4h0M381.5 219.1h0M418.3 161.7h0M410.4 167.5h0M404.5 161.1h0M418.9 158.0h0M389.1 196.7h0M380.6 218.5h0M403.5 161.9h0M423.2 149.9h0M404.8 171.9h0M414.5 168.5h0M387.0 188.2h0M414.4 150.3h0M395.8 181.3h0M389.5 187.9h0M393.1 179.8h0M381.1 204.7h0M375.6 198.3h0M372.4 223.7h0M382.0 200.6h0M378.2 199.7h0M387.0 197.5h0M376.4 218.6h0M414.0 161.4h0M405.1 161.5h0M386.5 199.3h0M396.8 194.4h0M393.1 173.3h0M411.6 161.9h0M376.8 210.9h0M391.3 204.1h0M411.0 154.3h0M394.9 181.1h0M429.9 133.9h0M381.0 201.4h0M409.7 159.4h0M397.2 167.9h0M407.2 183.2h0M417.3 171.5h0M376.9 205.0h0M384.5 191.1h0M400.7 170.2h0M367.1 224.7h0M410.4 158.9h0M368.4 217.5h0M378.8 206.0h0M378.3 189.6h0M373.2 209.6h0M399.7 170.5h0M392.6 182.0h0M384.4 203.2h0M373.6 201.6h0M388.8 207.7h0M400.5 165.1h0M406.9 168.9h0M384.8 204.0h0M375.5 205.1h0M403.0 168.7h0M380.0 197.7h0M389.0 194.8h0M404.1 187.7h0M395.3 175.7h0M359.2 216.5h0M381.3 205.2h0M378.0 210.5h0M424.9 147.6h0M372.4 213.6h0M395.5 187.3h0M391.1 189.4h0M369.9 214.1h0M398.7 192.7h0M420.7 142.6h0M483.9 92.1h0M437.3 142.4h0M410.1 176.9h0M393.1 176.5h0M455.5 140.7h0M416.2 163.5h0M401.4 177.1h0M420.9 158.7h0M422.2 141.7h0M472.8 103.7h0M415.1 165.6h0M411.2 162.3h0M434.5 141.3h0M431.8 135.2h0M455.8 125.3h0M432.9 141.0h0M459.1 133.8h0M411.6 167.0h0M436.9 141.6h0M450.7 124.7h0M411.7 173.3h0M429.9 154.8h0M450.4 135.8h0M481.7 88.7h0M454.3 111.9h0M446.0 127.0h0M410.1 175.6h0M411.9 160.3h0M469.4 114.7h0M400.7 188.0h0M463.8 133.7h0M418.2 167.8h0M473.4 103.6h0M465.9 128.5h0M437.5 144.4h0M451.0 124.2h0M443.4 145.8h0M444.7 130.5h0M438.0 130.9h0M419.3 154.4h0M440.1 133.4h0M454.6 109.1h0M411.7 170.8h0M451.9 125.5h0M412.2 158.7h0M416.3 176.2h0M449.8 110.0h0M428.4 159.4h0M442.7 143.8h0M412.7 164.5h0M410.7 180.4h0M452.8 110.5h0M438.8 138.0h0M433.0 129.7h0M432.3 137.5h0M444.2 144.4h0M431.0 136.1h0M430.7 161.1h0M462.5 103.2h0M448.6 138.1h0M439.5 149.8h0M429.4 153.1h0M459.5 131.8h0M425.8 161.3h0M458.1 117.9h0M425.3 135.9h0M396.8 176.7h0M466.9 116.2h0M435.0 152.7h0M454.6 135.0h0M409.6 178.4h0M437.6 143.3h0M445.7 138.3h0M491.7 87.2h0M439.7 136.2h0M430.8 161.2h0M428.4 144.7h0M426.7 152.0h0M423.2 155.0h0M472.6 90.9h0M481.6 99.7h0M453.2 138.4h0M434.1 154.9h0M459.6 126.5h0M435.3 147.6h0M426.4 169.9h0M432.0 155.9h0M413.8 167.5h0M421.5 164.8h0M448.4 123.3h0M461.9 133.6h0M379.1 188.3h0M438.4 152.6h0M438.3 126.8h0M420.7 156.9h0M433.5 142.1h0M454.9 125.8h0M462.1 116.0h0M478.8 105.8h0M424.2 156.0h0M471.4 123.1h0M446.1 140.2h0M386.1 208.1h0M450.0 138.2h0M410.3 168.6h0M438.6 144.5h0M442.9 128.7h0M452.9 136.5h0M432.9 137.5h0M435.3 128.8h0M491.0 85.7h0M433.4 150.2h0M423.1 157.3h0M455.4 111.8h0M432.8 144.8h0M425.4 155.0h0M454.9 119.6h0M460.8 133.3h0M432.4 142.5h0M429.6 140.8h0M470.3 117.4h0M448.4 125.6h0M486.6 96.3h0M433.1 140.4h0M431.6 128.2h0M448.2 123.9h0M416.5 151.4h0M436.4 141.2h0M410.8 174.6h0M487.3 103.1h0M445.0 140.0h0M413.3 168.0h0M401.5 168.9h0M443.9 137.9h0M403.8 177.3h0M462.8 101.4h0M393.2 200.8h0M454.4 124.8h0M521.2 69.1h0M530.0 67.3h0M492.9 83.6h0M459.9 123.2h0M441.2 129.6h0M521.9 68.4h0M530.0 51.2h0M486.9 101.8h0M508.1 76.7h0M500.8 79.9h0M483.8 87.2h0M500.0 80.1h0M462.6 130.9h0M490.4 98.9h0M515.2 69.9h0M466.5 105.3h0M464.0 118.9h0M450.6 130.8h0M504.3 72.8h0M505.8 79.4h0M446.5 143.8h0M482.7 104.0h0M453.7 132.8h0M484.2 97.8h0M491.3 81.4h0M412.7 157.0h0M389.7 191.7h0M342.3 243.6h0M390.6 194.7h0M377.2 213.3h0M396.0 182.6h0M354.0 214.5h0M396.5 185.2h0M407.4 168.7h0M372.5 213.5h0M378.2 199.8h0M390.0 199.0h0M375.3 196.3h0M393.2 199.7h0M388.3 200.1h0M411.1 160.5h0M395.8 175.1h0M420.4 166.5h0M392.5 191.8h0M368.7 225.8h0M402.7 191.1h0M408.5 172.5h0M372.8 218.0h0M339.5 246.5h0M380.8 208.0h0M350.8 230.8h0M400.1 184.1h0M358.6 204.1h0M379.5 191.7h0" stroke="#1fa8de" stroke-opacity="0.42" stroke-width="2.0" stroke-linecap="square" fill="none"/>
<path d="M404.0 179.5h0M373.0 221.2h0M389.6 183.2h0M401.3 187.7h0M398.0 184.2h0M396.6 173.5h0M382.2 200.8h0M370.7 215.8h0M400.5 163.1h0M394.3 201.6h0M410.6 159.1h0M378.6 197.0h0M400.2 172.7h0M384.6 199.4h0M393.2 189.9h0M372.5 196.9h0M389.0 180.4h0M391.9 188.5h0M406.3 185.5h0M431.2 149.6h0M384.7 210.6h0M398.9 177.1h0M380.9 199.7h0M400.0 189.9h0M410.1 186.0h0M406.0 190.1h0M388.8 187.5h0M388.6 178.4h0M386.3 196.3h0M431.1 145.0h0M404.3 177.0h0M386.2 190.0h0M394.0 199.2h0M377.9 207.5h0M391.8 190.0h0M371.0 215.8h0M412.3 176.6h0M413.9 165.4h0M450.4 119.6h0M382.9 201.7h0M448.0 132.2h0M406.7 169.3h0M383.9 195.6h0M373.2 212.0h0M387.0 197.5h0M390.2 189.2h0M392.5 199.2h0M375.1 210.0h0M380.5 196.6h0M404.5 179.1h0M377.8 187.3h0M377.9 197.1h0M412.9 152.8h0M410.9 170.8h0M377.7 196.0h0M389.8 189.5h0M401.6 162.6h0M405.2 182.0h0M373.1 199.4h0M394.6 169.8h0M371.5 226.7h0M389.7 175.7h0M386.3 187.0h0M364.6 229.6h0M391.7 177.4h0M426.5 143.1h0M387.4 199.2h0M377.0 220.4h0M382.5 184.2h0M423.8 166.1h0M376.9 198.5h0M393.3 183.6h0M370.9 201.4h0M398.2 176.5h0M373.4 206.9h0M406.5 180.6h0M423.4 144.9h0M382.7 202.3h0M367.2 205.0h0M375.3 218.3h0M396.2 177.1h0M398.3 180.8h0M399.8 171.6h0M371.2 212.3h0M374.3 220.4h0M415.7 157.2h0M403.8 169.5h0M389.1 190.1h0M401.9 179.6h0M389.5 194.5h0M385.7 189.5h0M424.8 159.0h0M380.1 197.9h0M397.2 174.4h0M389.5 196.3h0M390.7 193.1h0M384.0 193.2h0M392.0 177.0h0M382.4 202.1h0M379.2 204.9h0M384.4 202.2h0M365.9 211.4h0M403.1 191.5h0M392.7 198.8h0M373.7 198.7h0M393.7 178.1h0M390.4 191.7h0M410.1 178.3h0M396.1 184.3h0M387.7 193.1h0M390.9 198.3h0M390.2 194.0h0M418.5 161.8h0M385.6 184.1h0M379.3 217.7h0M382.9 186.0h0M403.1 168.3h0M372.7 225.7h0M410.5 172.0h0M392.5 179.8h0M377.6 221.2h0M411.3 179.6h0M422.6 145.1h0M384.0 192.7h0M396.5 186.3h0M412.0 164.4h0M399.7 165.5h0M406.4 167.9h0M367.6 204.5h0M409.1 182.0h0M376.6 220.0h0M384.6 203.9h0M385.2 202.0h0M391.6 200.4h0M390.4 190.1h0M375.8 214.9h0M459.3 122.9h0M406.1 167.6h0M416.0 164.5h0M390.0 176.3h0M379.5 211.7h0M434.1 144.5h0M388.8 196.7h0M384.1 188.5h0M414.6 153.7h0M412.6 157.6h0M398.7 198.7h0M387.6 209.2h0M397.5 200.1h0M389.5 190.8h0M379.5 205.3h0M447.2 125.5h0M372.8 196.4h0M393.2 203.3h0M372.8 199.5h0M419.0 149.7h0M394.0 177.4h0M402.9 184.4h0M363.6 215.4h0M381.4 187.5h0M378.2 187.3h0M372.1 221.9h0M408.9 163.3h0M386.3 195.6h0M398.9 174.7h0M384.2 207.6h0M374.2 226.3h0M390.4 194.0h0M379.7 193.6h0M401.2 191.3h0M399.9 186.2h0M408.0 157.5h0M418.1 147.0h0M393.8 174.3h0M371.0 213.1h0M401.4 194.2h0M415.8 158.5h0M377.4 210.2h0M383.8 213.5h0M401.4 183.7h0M405.1 182.2h0M410.1 165.3h0M384.9 191.6h0M374.0 216.9h0M381.4 191.1h0M375.5 196.0h0M389.6 207.3h0M378.7 203.3h0M432.1 157.1h0M368.9 221.3h0M401.7 177.2h0M410.7 157.3h0M419.0 159.8h0M374.8 191.0h0M379.2 213.6h0M400.8 172.2h0M400.8 186.6h0M416.7 165.3h0M438.1 138.8h0M412.6 175.5h0M371.4 204.1h0M363.6 235.3h0M394.5 192.9h0M400.9 191.4h0M432.5 152.5h0M367.5 212.5h0M402.5 172.3h0M396.9 180.4h0M414.8 178.6h0M409.3 157.6h0M395.8 177.3h0M431.5 135.4h0M370.2 216.6h0M390.4 204.5h0M390.5 182.2h0M377.0 193.4h0M404.7 166.5h0M389.4 189.6h0M369.8 208.5h0M373.9 216.6h0M369.6 223.1h0M392.5 194.2h0M391.7 207.9h0M399.5 187.6h0M380.2 190.7h0M396.9 173.1h0M408.7 168.4h0M403.8 181.0h0M363.9 212.8h0M392.6 184.1h0M404.8 181.1h0M408.2 177.4h0M374.4 220.4h0M409.5 178.2h0M413.7 155.9h0M387.0 188.3h0M395.2 179.8h0M417.8 158.8h0M372.6 216.4h0M383.5 198.9h0M396.5 168.2h0M374.9 209.9h0M403.8 170.9h0M373.3 213.6h0M385.5 186.9h0M398.5 172.3h0M420.2 149.7h0M412.2 179.2h0M374.6 212.8h0M372.5 216.5h0M378.0 217.1h0M379.0 202.2h0M369.8 211.7h0M382.9 213.5h0M395.8 180.1h0M370.4 228.8h0M398.1 184.1h0M381.0 185.8h0M395.6 191.6h0M371.0 209.2h0M398.1 172.8h0M375.2 220.9h0M387.3 208.3h0M389.3 187.5h0M379.5 205.5h0M431.3 154.1h0M378.2 213.0h0M411.2 173.7h0M411.7 150.0h0M362.7 220.1h0M416.0 168.4h0M405.8 172.8h0M387.9 206.6h0M397.6 195.4h0M392.0 190.0h0M380.2 197.8h0M398.4 188.6h0M419.4 168.6h0M392.2 177.1h0M375.5 209.2h0M404.1 187.4h0M387.7 184.0h0M389.4 196.8h0M393.3 188.7h0M397.6 187.3h0M393.3 197.4h0M397.0 182.6h0M397.8 184.5h0M368.2 231.7h0M406.0 182.9h0M399.8 173.3h0M384.7 190.1h0M374.1 201.2h0M376.1 217.0h0M429.8 151.1h0M414.0 180.3h0M378.7 201.7h0M405.8 159.5h0M403.7 187.6h0M403.0 181.3h0M388.2 196.6h0M385.7 187.9h0M401.1 182.2h0M418.7 176.7h0M400.0 173.1h0M381.4 208.1h0M374.2 207.8h0M395.3 181.8h0M431.1 150.8h0M387.3 201.5h0M382.0 199.1h0M380.3 216.8h0M370.9 214.6h0M391.5 184.7h0M377.2 196.9h0M406.9 163.0h0M380.5 197.5h0M406.1 177.7h0M398.3 190.0h0M406.1 177.4h0M394.1 197.3h0M383.4 184.8h0M421.7 162.9h0M415.7 163.1h0M375.7 198.7h0M380.5 193.2h0M438.9 139.0h0M405.4 171.5h0M420.3 174.7h0M373.5 208.3h0M389.2 210.0h0M391.9 190.0h0M426.6 166.3h0M407.5 158.8h0M396.4 176.7h0M389.8 206.3h0M398.6 172.2h0M382.6 193.2h0M419.5 156.3h0M371.2 210.4h0M392.3 189.3h0M402.1 178.3h0M392.5 188.7h0M403.2 185.7h0M393.3 171.4h0M393.6 203.5h0M386.9 196.2h0M390.9 206.4h0M398.8 184.8h0M388.2 191.5h0M371.8 215.5h0M380.6 211.0h0M397.2 178.9h0M376.6 210.5h0M381.2 186.1h0M396.6 197.7h0M388.8 188.4h0M399.9 186.4h0M378.0 196.2h0M413.8 176.0h0M402.7 170.6h0M398.1 199.8h0M386.0 204.9h0M393.0 182.4h0M445.4 136.3h0M396.1 182.7h0M399.1 192.0h0M397.1 181.0h0M406.5 182.5h0M398.5 188.4h0M392.5 178.2h0M374.0 220.2h0M389.4 187.9h0M399.8 172.8h0M402.6 169.3h0M383.3 192.2h0M380.6 217.8h0M452.5 110.5h0M367.9 227.9h0M405.0 179.4h0M413.6 162.3h0M414.1 177.1h0M397.9 179.0h0M374.7 191.5h0M394.8 186.1h0M434.1 130.0h0M395.3 195.2h0M382.7 204.4h0M400.0 185.7h0M394.7 184.2h0M388.3 188.3h0M393.8 173.3h0M436.3 150.0h0M387.2 200.7h0M377.6 212.0h0M391.6 196.1h0M392.5 188.2h0M396.9 198.2h0M382.4 187.3h0M407.0 170.8h0M398.1 181.5h0M399.3 174.9h0M375.8 211.2h0M391.4 191.4h0M383.2 184.9h0M371.2 209.4h0M379.2 206.5h0M406.8 165.6h0M415.3 169.6h0M390.3 199.5h0M385.9 184.7h0M422.0 150.1h0M380.0 193.9h0M423.1 162.3h0M440.2 145.8h0M413.7 164.8h0M377.9 218.9h0M386.5 204.8h0M379.7 199.6h0M401.8 162.5h0M384.3 208.5h0M384.6 183.4h0M381.3 210.8h0M391.4 205.1h0M373.8 214.2h0M389.6 188.1h0M381.2 215.2h0M386.1 190.8h0M409.0 174.2h0M366.3 227.5h0M390.3 197.6h0M410.1 168.8h0M368.8 206.6h0M412.0 174.6h0M404.3 185.4h0M392.3 185.8h0M378.9 202.7h0M393.0 194.5h0M379.1 201.3h0M376.5 203.2h0M394.6 181.2h0M417.5 153.8h0M412.2 154.0h0M400.9 165.2h0M419.0 145.6h0M393.9 184.3h0M385.7 187.7h0M412.9 179.4h0M377.8 213.6h0M374.3 217.1h0M383.9 181.8h0M391.8 189.7h0M381.4 203.9h0M392.4 192.2h0M390.4 207.9h0M397.5 181.5h0M450.0 143.6h0M442.8 143.9h0M380.8 197.7h0M402.8 170.8h0M408.3 155.6h0M405.7 179.5h0M410.4 163.0h0M397.6 197.1h0M395.3 181.1h0M403.6 169.9h0M418.3 159.6h0M394.2 199.5h0M373.2 222.5h0M407.9 172.8h0M414.9 173.0h0M377.2 220.1h0M386.3 180.3h0M394.3 171.6h0M364.1 217.4h0M396.7 169.5h0M403.5 188.8h0M397.6 191.8h0M363.3 214.0h0M401.3 172.3h0M475.5 115.2h0M480.1 116.8h0M448.7 119.5h0M408.1 160.1h0M406.9 163.0h0M422.7 169.1h0M441.4 146.8h0M458.2 110.4h0M445.6 117.2h0M459.1 117.7h0M441.3 134.8h0M470.4 101.3h0M422.7 151.9h0M422.2 161.9h0M446.5 141.5h0M395.5 172.8h0M435.9 142.5h0M451.1 117.2h0M405.5 179.9h0M439.3 128.3h0M438.6 130.0h0M443.2 150.1h0M461.2 115.2h0M489.4 81.6h0M467.9 120.5h0M499.4 88.5h0M431.9 143.3h0M461.5 109.4h0M440.1 136.9h0M419.4 149.8h0M438.4 154.6h0M455.8 135.5h0M393.9 190.6h0M419.5 172.6h0M397.1 166.1h0M446.7 145.8h0M417.9 155.5h0M454.7 111.6h0M473.8 93.4h0M459.8 126.2h0M410.5 157.4h0M466.0 111.8h0M428.4 147.9h0M465.6 124.0h0M443.2 132.1h0M458.7 127.3h0M454.7 128.9h0M453.9 122.0h0M369.7 212.6h0M460.8 114.9h0M442.8 132.7h0M444.4 127.0h0M456.3 122.4h0M438.5 139.0h0M453.0 118.7h0M431.7 149.6h0M446.3 137.6h0M427.4 160.3h0M438.7 133.2h0M461.1 121.8h0M479.4 85.1h0M479.2 107.8h0M469.4 120.1h0M400.4 170.7h0M440.6 125.4h0M477.6 100.4h0M457.3 137.4h0M442.3 147.2h0M476.6 98.1h0M440.1 133.1h0M424.0 149.3h0M440.2 138.1h0M442.0 122.0h0M397.2 185.5h0M440.2 120.6h0M416.5 178.2h0M414.8 164.5h0M427.5 149.0h0M419.7 143.6h0M487.0 103.6h0M399.9 191.4h0M439.5 152.8h0M443.5 134.8h0M417.1 148.2h0M437.1 150.1h0M441.2 132.7h0M462.6 120.9h0M459.9 124.7h0M444.9 116.6h0M429.4 155.2h0M471.5 112.1h0M363.6 229.2h0M454.3 137.4h0M477.3 107.2h0M429.8 142.7h0M449.3 130.7h0M462.4 109.3h0M462.1 117.4h0M423.8 146.4h0M438.5 126.7h0M427.1 153.0h0M491.7 108.5h0M434.7 141.2h0M436.7 156.1h0M460.4 105.4h0M421.3 166.6h0M445.3 132.2h0M476.8 101.0h0M484.7 109.5h0M459.0 136.0h0M429.6 132.5h0M428.5 137.0h0M443.2 117.4h0M438.4 131.3h0M395.1 187.4h0M427.3 140.1h0M427.5 133.7h0M419.7 168.1h0M469.8 99.3h0M442.7 128.9h0M473.2 121.0h0M447.7 112.7h0M467.6 128.1h0M495.4 85.6h0M448.6 126.7h0M468.4 102.0h0M429.6 140.7h0M397.1 197.1h0M485.0 90.2h0M407.5 169.5h0M442.3 136.5h0M417.7 171.3h0M446.5 138.0h0M452.3 123.2h0M484.6 95.7h0M434.9 140.3h0M463.1 113.0h0M426.9 167.3h0M448.8 127.2h0M448.2 140.5h0M512.1 75.1h0M497.9 84.9h0M452.3 143.0h0M446.5 135.2h0M481.5 98.7h0M483.3 97.7h0M452.6 112.4h0M488.2 97.9h0M443.6 131.1h0M541.1 69.0h0M489.9 93.4h0M463.9 128.6h0M461.6 107.7h0M496.9 84.3h0M437.6 138.5h0M450.2 118.0h0M464.2 102.4h0M467.3 126.3h0M515.2 60.8h0M517.5 69.9h0M441.5 133.6h0M485.7 107.3h0M505.8 86.2h0M464.2 110.1h0M522.4 62.9h0M392.0 189.2h0M391.3 184.2h0M350.3 219.0h0M434.9 147.7h0M401.5 176.3h0M365.0 229.7h0M410.1 157.0h0M416.6 176.1h0M430.8 135.6h0M376.3 215.9h0M402.0 170.1h0M378.6 215.9h0M397.7 192.3h0M404.9 176.9h0M424.2 152.2h0M366.5 211.9h0M400.9 172.7h0M402.4 177.6h0M377.6 203.3h0M364.6 218.3h0M398.1 194.4h0M385.2 205.2h0M354.3 219.7h0M376.3 196.8h0M370.3 212.4h0M384.9 195.6h0M353.1 209.9h0M362.1 215.2h0" stroke="#1fa8de" stroke-opacity="0.42" stroke-width="2.0" stroke-linecap="square" fill="none"/>
<path d="M407.5 168.6h0M392.7 171.7h0M389.0 200.6h0M374.4 206.8h0M461.0 103.4h0M402.1 180.7h0M388.5 180.2h0M395.3 181.7h0M381.2 197.5h0M395.1 185.7h0M412.7 169.7h0M375.2 212.9h0M378.2 219.2h0M420.9 170.2h0M378.8 197.2h0M398.0 176.5h0M367.6 228.6h0M393.3 178.9h0M365.4 215.7h0M385.0 213.0h0M382.9 216.5h0M386.1 184.4h0M386.7 201.7h0M402.6 170.4h0M384.4 208.9h0M398.4 184.8h0M425.2 136.7h0M399.0 181.5h0M366.0 212.6h0M424.9 166.9h0M368.1 230.1h0M411.9 176.1h0M382.1 192.0h0M405.6 174.5h0M379.2 215.1h0M383.7 202.2h0M371.9 220.4h0M366.4 215.0h0M407.4 187.3h0M394.5 177.3h0M405.9 165.8h0M394.8 189.3h0M390.6 185.9h0M409.8 160.2h0M371.3 221.2h0M404.1 168.4h0M408.3 182.0h0M402.2 176.6h0M370.8 207.6h0M379.3 189.1h0M390.1 183.8h0M398.1 185.2h0M399.7 176.0h0M372.5 194.6h0M422.5 137.5h0M397.1 189.9h0M395.5 197.7h0M409.5 170.3h0M378.0 214.2h0M364.8 219.6h0M386.3 207.6h0M397.4 171.8h0M379.1 212.8h0M415.8 172.1h0M378.7 196.8h0M379.3 217.4h0M391.1 193.6h0M387.6 188.3h0M383.1 190.5h0M383.7 216.9h0M402.5 180.2h0M405.6 176.8h0M395.5 196.1h0M372.5 210.8h0M371.4 220.3h0M400.2 179.8h0M412.2 168.2h0M380.8 202.4h0M381.2 202.4h0M387.5 204.8h0M406.0 188.7h0M436.9 128.7h0M386.1 201.0h0M400.1 183.8h0M397.3 178.5h0M403.5 194.7h0M416.8 174.1h0M396.2 172.7h0M385.2 205.6h0M398.8 183.4h0M440.3 136.2h0M426.0 138.4h0M386.0 202.8h0M423.0 165.0h0M391.5 195.3h0M431.2 157.3h0M391.4 206.9h0M377.1 209.2h0M396.1 183.8h0M393.9 185.1h0M412.4 160.7h0M377.2 215.7h0M369.4 213.3h0M391.5 183.3h0M396.6 187.0h0M391.4 192.9h0M392.4 194.4h0M401.8 171.1h0M399.9 177.7h0M390.9 190.1h0M381.3 200.0h0M368.9 232.5h0M426.7 156.7h0M395.8 194.2h0M403.3 182.2h0M391.4 190.9h0M368.4 215.9h0M389.4 188.5h0M406.2 160.5h0M394.7 191.9h0M416.7 169.7h0M406.7 181.1h0M372.9 202.4h0M393.4 195.6h0M369.5 196.3h0M417.1 167.1h0M364.3 206.4h0M405.1 162.2h0M413.1 151.4h0M410.0 187.5h0M399.8 177.0h0M368.0 224.4h0M398.3 176.2h0M397.1 175.3h0M395.7 169.7h0M381.9 214.0h0M382.5 205.5h0M380.7 184.5h0M398.7 178.9h0M383.6 192.2h0M377.6 217.2h0M370.1 214.8h0M394.8 191.7h0M425.5 158.1h0M427.7 151.5h0M416.4 165.3h0M373.9 212.8h0M365.1 205.0h0M392.8 178.9h0M407.4 168.5h0M433.1 142.6h0M440.2 142.1h0M389.3 207.3h0M392.5 204.7h0M409.3 155.3h0M409.2 168.6h0M394.3 188.7h0M405.8 181.1h0M380.6 192.7h0M381.2 209.9h0M415.9 155.3h0M375.4 217.0h0M371.7 206.1h0M381.9 185.6h0M404.5 169.8h0M429.7 161.7h0M385.3 210.6h0M389.4 201.2h0M377.5 198.6h0M413.9 162.4h0M376.8 207.4h0M385.0 198.1h0M381.1 200.9h0M406.7 162.0h0M394.0 194.9h0M378.4 211.4h0M398.2 176.0h0M372.3 212.7h0M386.4 188.9h0M386.7 193.9h0M411.4 160.9h0M412.4 171.5h0M382.0 191.3h0M390.9 175.1h0M374.0 205.4h0M378.9 198.9h0M412.0 171.7h0M373.6 202.1h0M378.1 189.2h0M384.7 191.8h0M394.2 185.0h0M392.6 206.1h0M372.8 214.7h0M396.9 200.7h0M377.5 213.3h0M406.8 171.1h0M385.0 200.4h0M406.3 177.5h0M392.9 181.7h0M395.2 186.4h0M388.6 197.7h0M391.2 180.5h0M370.7 207.3h0M385.1 191.1h0M386.2 180.7h0M411.3 157.7h0M392.4 175.6h0M402.0 166.1h0M386.4 203.8h0M409.7 164.2h0M391.6 192.4h0M371.6 224.1h0M406.3 168.4h0M417.7 161.8h0M397.4 167.3h0M376.4 221.1h0M376.8 196.3h0M379.3 197.4h0M379.0 201.0h0M382.2 218.6h0M430.9 129.7h0M380.7 194.3h0M388.6 182.2h0M382.8 202.0h0M404.0 183.6h0M377.1 200.6h0M378.5 206.3h0M387.7 206.7h0M387.2 190.4h0M416.4 147.9h0M387.5 193.7h0M397.8 185.6h0M379.7 199.1h0M379.5 199.3h0M386.6 208.0h0M400.0 189.3h0M413.7 174.9h0M392.2 188.0h0M380.2 203.3h0M392.9 188.7h0M438.4 131.5h0M378.4 205.5h0M397.0 170.0h0M398.8 196.2h0M417.9 164.2h0M429.7 143.3h0M395.2 198.8h0M394.9 178.5h0M380.2 201.7h0M383.5 192.8h0M381.6 205.5h0M398.1 178.0h0M390.1 197.4h0M391.8 176.0h0M379.7 211.1h0M379.2 205.0h0M420.1 158.4h0M384.6 195.7h0M381.5 193.7h0M403.8 168.2h0M411.4 160.4h0M376.9 214.7h0M401.7 197.1h0M377.3 203.5h0M381.9 193.4h0M404.7 174.5h0M375.5 205.5h0M393.9 169.5h0M399.9 179.8h0M383.9 211.0h0M377.2 212.4h0M393.6 193.2h0M406.6 160.5h0M394.1 204.1h0M390.7 196.2h0M386.9 195.6h0M378.0 195.0h0M402.3 169.4h0M393.6 180.5h0M394.5 174.4h0M433.6 134.9h0M401.3 186.7h0M393.1 175.0h0M377.2 208.2h0M390.9 179.5h0M382.4 185.6h0M383.6 186.3h0M384.7 212.5h0M391.1 189.1h0M435.7 149.0h0M375.6 215.0h0M382.0 193.0h0M365.2 229.5h0M442.4 118.9h0M406.0 184.9h0M382.3 182.3h0M422.9 156.4h0M379.6 199.8h0M398.4 180.4h0M380.5 190.4h0M410.2 157.4h0M395.4 179.7h0M398.5 182.9h0M425.8 148.0h0M409.0 166.2h0M414.4 146.8h0M389.0 186.6h0M402.6 167.9h0M391.2 194.5h0M425.2 145.1h0M370.8 209.6h0M385.5 194.1h0M372.4 215.2h0M371.4 210.5h0M395.6 196.3h0M396.5 191.1h0M382.7 194.7h0M383.7 213.0h0M388.2 205.9h0M408.7 172.8h0M392.0 182.1h0M375.5 202.5h0M409.1 156.3h0M379.7 187.5h0M393.4 185.1h0M412.9 148.9h0M394.7 200.6h0M403.1 194.5h0M378.4 186.5h0M367.3 202.3h0M381.2 195.3h0M395.2 190.5h0M409.2 169.1h0M367.8 209.1h0M396.3 174.4h0M375.6 197.5h0M395.8 198.7h0M377.5 199.4h0M393.0 181.0h0M373.0 222.2h0M390.9 201.2h0M409.2 164.4h0M400.0 163.3h0M373.5 215.8h0M376.7 203.9h0M397.5 198.0h0M428.4 154.3h0M373.9 209.3h0M369.6 202.5h0M372.9 205.0h0M405.4 181.4h0M396.6 170.3h0M380.9 218.5h0M376.3 209.2h0M403.1 170.9h0M381.6 201.0h0M371.5 224.5h0M370.0 209.8h0M392.3 187.7h0M396.0 180.1h0M415.8 154.5h0M388.1 194.8h0M444.5 139.3h0M386.8 185.5h0M377.9 195.2h0M434.8 140.2h0M381.4 188.1h0M426.4 168.4h0M395.7 197.0h0M404.8 169.2h0M382.7 196.2h0M375.9 218.3h0M386.0 188.9h0M387.0 192.1h0M387.7 187.8h0M408.9 173.4h0M373.3 225.7h0M370.2 219.0h0M412.9 155.0h0M394.7 172.6h0M409.1 177.6h0M402.8 166.8h0M376.1 224.0h0M401.3 174.0h0M412.7 149.0h0M381.4 204.8h0M401.2 163.7h0M385.8 189.3h0M387.6 197.5h0M384.7 209.1h0M394.1 196.1h0M385.5 186.4h0M382.1 183.3h0M407.0 159.8h0M379.2 193.5h0M401.9 174.9h0M382.4 195.2h0M389.0 185.5h0M379.6 209.0h0M416.8 155.9h0M433.3 128.4h0M391.1 188.3h0M394.4 196.7h0M392.2 181.3h0M416.3 171.3h0M386.3 177.8h0M389.8 193.7h0M400.1 168.9h0M378.3 199.7h0M374.9 203.0h0M383.6 195.6h0M391.9 195.9h0M400.4 170.4h0M373.5 209.0h0M373.1 226.9h0M381.6 217.7h0M387.2 198.5h0M367.2 227.9h0M424.8 145.7h0M391.4 183.5h0M385.9 198.1h0M415.9 163.1h0M360.1 228.1h0M390.7 194.0h0M390.9 178.3h0M385.2 196.6h0M386.8 205.1h0M393.0 179.7h0M404.6 189.5h0M379.0 213.9h0M378.2 207.2h0M396.2 172.2h0M394.1 187.2h0M389.9 174.4h0M386.6 198.7h0M400.2 168.6h0M381.2 192.6h0M380.2 206.5h0M398.1 183.0h0M375.5 199.1h0M401.4 162.3h0M382.1 207.0h0M417.3 146.8h0M371.3 215.5h0M410.6 151.2h0M379.3 216.8h0M374.3 221.7h0M418.4 167.2h0M385.9 188.2h0M402.0 175.4h0M379.9 212.5h0M368.1 204.7h0M400.8 168.5h0M392.8 173.1h0M404.7 157.3h0M384.5 204.4h0M398.8 185.8h0M401.0 179.3h0M406.5 191.4h0M376.8 216.3h0M397.1 190.4h0M421.5 171.9h0M376.3 202.4h0M407.1 181.1h0M394.2 187.9h0M405.3 176.1h0M386.5 203.6h0M380.9 208.9h0M391.8 188.7h0M403.9 172.2h0M387.6 191.9h0M383.3 212.5h0M389.7 196.0h0M379.3 205.6h0M384.3 198.0h0M412.2 172.7h0M384.5 206.4h0M410.9 167.7h0M422.0 155.4h0M411.5 168.2h0M448.2 113.2h0M444.2 117.8h0M415.7 171.2h0M449.6 130.0h0M396.9 192.4h0M411.5 154.4h0M430.1 159.2h0M413.9 166.3h0M406.6 161.2h0M432.2 152.4h0M442.9 132.3h0M476.7 113.4h0M414.7 156.3h0M415.5 152.4h0M452.0 125.1h0M489.8 99.1h0M367.8 230.7h0M453.9 111.0h0M482.4 113.3h0M436.0 142.6h0M436.6 151.6h0M457.1 130.8h0M443.3 128.6h0M445.8 126.9h0M425.3 163.0h0M436.9 144.5h0M410.6 151.1h0M432.0 163.2h0M425.7 135.8h0M461.3 101.4h0M394.6 190.8h0M459.7 130.7h0M466.2 119.3h0M438.9 149.9h0M454.6 111.6h0M420.4 143.6h0M433.3 160.8h0M402.8 186.0h0M430.9 140.4h0M458.0 124.7h0M491.7 93.2h0M400.2 179.9h0M462.9 99.3h0M426.6 140.7h0M432.5 161.3h0M407.6 169.7h0M469.5 121.3h0M430.8 155.0h0M456.3 120.3h0M397.1 174.6h0M486.3 87.8h0M453.4 107.4h0M415.1 148.8h0M418.1 147.5h0M433.7 132.7h0M445.0 130.6h0M441.8 127.7h0M436.0 133.9h0M467.7 128.1h0M458.6 112.0h0M440.6 130.8h0M419.8 165.4h0M430.0 146.7h0M435.1 148.0h0M473.4 115.5h0M468.0 109.6h0M431.5 137.1h0M476.5 91.0h0M452.8 133.2h0M452.0 111.2h0M459.7 124.7h0M437.0 137.6h0M474.0 92.3h0M467.0 121.4h0M466.2 119.1h0M432.8 139.3h0M431.2 147.5h0M417.8 157.2h0M441.4 132.0h0M440.4 145.3h0M404.4 177.7h0M463.6 122.9h0M460.9 109.6h0M469.7 105.1h0M386.4 186.9h0M404.4 157.9h0M392.4 199.3h0M446.8 119.8h0M438.1 130.2h0M455.8 106.4h0M435.7 153.0h0M422.0 147.9h0M415.4 179.8h0M418.8 151.8h0M434.0 146.2h0M471.1 115.8h0M438.4 153.6h0M440.1 152.4h0M478.6 115.6h0M447.8 137.2h0M444.6 124.2h0M433.5 136.4h0M451.3 129.0h0M474.0 114.4h0M465.3 123.3h0M450.8 137.1h0M432.8 129.8h0M427.3 156.0h0M437.0 134.1h0M475.0 93.9h0M435.2 137.6h0M396.7 186.4h0M449.2 116.3h0M463.9 109.1h0M451.7 138.0h0M456.0 120.3h0M450.1 112.4h0M486.0 107.1h0M458.8 127.4h0M477.8 98.1h0M461.9 135.4h0M433.7 132.4h0M441.8 126.8h0M407.5 179.8h0M427.4 150.2h0M458.3 118.4h0M463.7 111.8h0M431.3 160.2h0M418.0 159.8h0M425.0 149.7h0M448.0 120.8h0M431.2 150.2h0M477.0 100.5h0M470.5 122.8h0M459.2 133.2h0M458.9 127.1h0M447.3 135.5h0M474.2 119.1h0M474.3 121.0h0M509.3 76.3h0M496.0 92.6h0M565.6 32.8h0M457.3 125.9h0M491.0 87.3h0M466.8 115.8h0M481.0 103.3h0M475.5 95.0h0M500.7 98.0h0M476.1 109.5h0M454.0 140.4h0M440.7 126.4h0M473.5 125.6h0M418.6 162.0h0M498.6 91.4h0M475.7 107.7h0M417.5 166.9h0M481.5 102.5h0M502.7 90.8h0M510.1 72.6h0M453.6 140.9h0M506.4 67.0h0M487.0 92.4h0M445.2 133.5h0M480.4 106.3h0M434.1 140.0h0M365.1 229.0h0M387.1 196.4h0M378.5 212.6h0M352.8 216.8h0M416.9 152.5h0M377.5 199.0h0M377.4 204.9h0M357.4 234.6h0M414.3 171.4h0M406.5 175.0h0M355.2 238.5h0M371.5 228.0h0M337.1 235.7h0M378.8 207.0h0M394.4 181.6h0M354.1 222.0h0M365.5 229.7h0M368.3 206.5h0M380.9 196.7h0M379.5 210.1h0M382.8 206.3h0M344.1 235.2h0M342.2 253.7h0M359.3 232.3h0M349.7 223.0h0M396.3 177.9h0M420.9 145.2h0" stroke="#1fa8de" stroke-opacity="0.42" stroke-width="2.0" stroke-linecap="square" fill="none"/>
<path d="M391.9 202.1h0M390.6 206.6h0M391.4 208.4h0M383.9 208.6h0M402.7 145.5h0M395.9 211.9h0M421.5 150.3h0M375.5 167.9h0M396.5 160.7h0M374.0 216.3h0M385.4 220.1h0M411.5 148.0h0M373.2 220.8h0M411.1 190.1h0M363.9 203.5h0M434.0 175.4h0M434.7 161.1h0M433.7 190.6h0M396.6 199.0h0M389.6 153.0h0M380.1 233.4h0M445.0 179.9h0M444.3 182.6h0M406.7 145.6h0M440.5 159.6h0M432.6 169.3h0M403.6 200.4h0M437.6 168.0h0M414.6 147.7h0M444.5 184.6h0M403.7 154.4h0M386.5 154.7h0M394.2 157.0h0M439.7 152.7h0M395.2 210.7h0M372.1 178.9h0M453.0 135.5h0M429.0 194.3h0M426.0 191.6h0M394.8 161.1h0M369.4 220.1h0M383.2 168.5h0M383.9 208.6h0M442.5 157.7h0M383.0 213.5h0M429.6 204.4h0M360.7 210.5h0M378.8 171.5h0M376.0 175.8h0M403.7 154.2h0M370.7 221.9h0M444.1 172.3h0M418.4 144.9h0M395.0 159.6h0M386.4 169.0h0M424.5 189.3h0M433.4 158.0h0M389.6 206.2h0M386.9 168.2h0M391.7 206.0h0M370.6 177.6h0M434.9 154.9h0M387.7 167.8h0M385.4 161.5h0M400.8 206.3h0M389.3 216.7h0M376.4 167.6h0M401.7 196.2h0M408.1 195.0h0M413.1 138.2h0M435.8 176.3h0M432.0 122.7h0M387.4 207.3h0M392.8 162.0h0M383.6 216.7h0M371.4 222.4h0M379.8 173.3h0M398.7 197.0h0M389.8 164.1h0M373.4 223.4h0M361.9 213.2h0M412.1 194.5h0M364.2 197.3h0M381.6 172.5h0M388.6 164.7h0M385.5 163.8h0M405.5 192.1h0M436.0 140.4h0M435.3 164.1h0M385.1 169.7h0M434.7 180.1h0M397.8 159.4h0M384.1 207.7h0M398.3 155.5h0M381.7 171.0h0M399.2 158.8h0M413.6 191.6h0M475.4 155.2h0M395.5 199.4h0M393.2 153.6h0M441.4 130.8h0M427.3 206.3h0M393.1 163.8h0M396.4 203.8h0M441.3 183.6h0M383.8 216.1h0M398.5 202.2h0M415.3 150.6h0M463.9 158.4h0M411.0 149.0h0M373.9 177.5h0M424.4 189.2h0M438.1 169.4h0M391.6 164.6h0M383.6 209.0h0M429.7 123.1h0M423.5 192.7h0M423.9 133.8h0M433.1 181.6h0M467.3 155.0h0M443.0 191.1h0M450.1 179.8h0M497.7 125.0h0M446.8 163.9h0M443.9 169.4h0M475.0 163.1h0M440.5 169.6h0M451.2 144.3h0M417.8 194.4h0M423.7 142.5h0M473.9 146.4h0M463.7 149.4h0M434.9 148.8h0M407.1 148.9h0M436.2 172.2h0M434.8 157.6h0M470.9 127.5h0M452.0 179.2h0M422.1 188.6h0M468.2 160.3h0M465.1 150.6h0M426.8 148.6h0M448.7 149.4h0M469.9 151.4h0M473.1 127.5h0M440.0 165.2h0M435.2 162.0h0M467.4 155.0h0M439.7 182.8h0M453.1 166.9h0M454.3 168.0h0M434.7 162.1h0M435.0 165.5h0M452.4 195.6h0M486.0 105.5h0M447.9 162.4h0M475.4 138.4h0M434.7 155.3h0M437.8 154.6h0M385.8 167.6h0M435.5 160.7h0M475.6 176.1h0M421.9 191.2h0M460.0 167.7h0M403.2 155.6h0M441.9 170.6h0M439.7 159.2h0M478.3 162.1h0M453.3 159.2h0M444.5 170.5h0M440.0 161.7h0M441.1 167.6h0M450.2 132.4h0M418.3 149.9h0M458.2 137.3h0M447.6 162.8h0M437.6 186.4h0M444.7 171.8h0M480.8 182.5h0M426.6 198.7h0M445.6 170.5h0M470.0 139.9h0M465.3 165.7h0M432.4 210.9h0M483.1 136.4h0M473.9 152.7h0M449.2 157.0h0M401.7 200.3h0M427.0 146.1h0M477.5 113.2h0M363.5 193.0h0M435.4 191.5h0M438.5 142.4h0M460.3 140.6h0M444.8 143.4h0M443.2 164.0h0M450.0 151.7h0M476.0 117.2h0M447.4 161.3h0M450.7 140.5h0M461.7 140.0h0M455.3 177.5h0M435.6 160.4h0M435.7 160.7h0M446.1 144.1h0M460.7 144.1h0M443.4 159.9h0M470.1 102.1h0M457.6 146.3h0M476.1 123.1h0M439.7 182.0h0M432.9 176.1h0M448.1 152.1h0M444.1 170.4h0M461.0 184.5h0M464.1 170.4h0M442.4 154.9h0M439.9 150.6h0M465.0 154.4h0M460.6 163.4h0M450.8 141.6h0M456.7 184.4h0M466.6 157.0h0M441.1 140.7h0M445.3 167.4h0M458.2 142.1h0M435.6 160.3h0M437.5 185.7h0M432.9 151.6h0M468.1 143.9h0M456.6 175.2h0M443.3 178.1h0M433.0 137.1h0M436.5 173.9h0M439.2 173.4h0M436.0 143.3h0M418.4 189.0h0M472.9 139.3h0M444.1 136.7h0M556.0 65.2h0M488.3 121.7h0M434.7 160.3h0M452.5 183.4h0M463.9 171.7h0M462.4 164.8h0M473.6 146.5h0M485.6 147.2h0M509.3 134.8h0M466.6 168.5h0M487.5 145.8h0M503.4 140.0h0M482.6 128.1h0M496.6 125.8h0M479.9 154.4h0M460.3 223.1h0M467.7 166.9h0M443.5 167.5h0M473.0 177.4h0M485.7 134.8h0M502.8 137.0h0M472.8 123.7h0M444.4 175.1h0M527.8 115.5h0M490.7 162.5h0M493.5 110.8h0M498.3 141.5h0M528.0 106.9h0M476.6 125.0h0M505.6 121.1h0M466.4 137.3h0M499.1 137.6h0M468.3 123.6h0M469.5 139.8h0M361.6 223.5h0M358.8 204.3h0M340.0 223.5h0M340.8 214.7h0M354.3 199.1h0M365.1 182.6h0M434.2 153.0h0M383.2 167.1h0M362.3 221.6h0M354.7 204.3h0M345.7 222.9h0M360.4 214.5h0M328.6 228.2h0M350.3 203.6h0M362.9 191.9h0" stroke="#b5473b" stroke-opacity="0.33" stroke-width="2.0" stroke-linecap="square" fill="none"/>
<path d="M385.5 168.7h0M373.4 178.4h0M435.9 172.4h0M444.4 171.1h0M384.3 168.4h0M368.1 220.8h0M391.9 164.0h0M368.3 220.7h0M374.8 217.2h0M409.5 152.4h0M395.2 159.4h0M475.0 135.9h0M384.9 160.4h0M403.3 198.6h0M403.3 193.9h0M438.1 156.3h0M413.8 190.7h0M396.1 159.0h0M394.9 209.3h0M376.9 162.1h0M363.9 184.5h0M390.3 209.3h0M405.1 193.6h0M425.8 146.5h0M378.3 214.5h0M387.9 163.2h0M393.9 158.3h0M413.2 152.1h0M380.6 172.9h0M392.3 163.9h0M380.4 221.4h0M402.5 196.3h0M401.6 154.6h0M410.8 150.0h0M377.3 174.0h0M385.9 214.1h0M438.1 163.8h0M438.3 170.0h0M394.7 159.8h0M404.8 194.7h0M412.7 152.2h0M382.0 168.1h0M434.1 145.9h0M379.2 170.1h0M388.0 206.5h0M394.2 159.9h0M373.6 216.0h0M432.5 158.9h0M375.8 220.0h0M451.5 143.0h0M392.7 204.6h0M382.7 168.5h0M427.0 193.7h0M407.5 194.3h0M373.1 174.5h0M401.2 153.3h0M427.0 143.1h0M383.7 165.8h0M435.3 203.2h0M381.6 171.3h0M375.7 165.9h0M425.9 198.7h0M373.4 176.7h0M377.6 175.2h0M375.0 156.5h0M404.5 155.8h0M420.1 146.5h0M395.3 161.9h0M403.1 194.9h0M415.4 189.1h0M400.2 153.1h0M379.3 212.6h0M413.2 195.2h0M416.6 148.4h0M382.3 170.1h0M393.3 204.9h0M363.7 215.8h0M427.4 145.9h0M440.2 162.9h0M393.6 201.5h0M386.8 158.0h0M396.6 152.2h0M414.5 189.7h0M407.5 194.1h0M375.2 177.0h0M393.3 160.1h0M364.6 193.5h0M435.3 176.2h0M403.2 198.9h0M384.8 208.4h0M377.7 214.4h0M364.4 195.3h0M410.1 149.0h0M373.3 178.3h0M400.5 155.5h0M451.9 126.2h0M391.8 205.2h0M435.0 150.7h0M397.9 206.8h0M369.1 180.6h0M392.3 164.0h0M387.4 160.5h0M376.1 170.6h0M379.4 212.8h0M430.5 191.9h0M362.5 195.4h0M380.0 157.5h0M393.2 202.1h0M364.0 207.8h0M445.1 171.2h0M366.5 180.3h0M440.4 164.8h0M390.4 212.6h0M440.1 158.7h0M454.7 149.3h0M453.6 122.3h0M483.5 114.1h0M450.6 143.1h0M442.9 161.0h0M437.2 199.7h0M456.7 147.2h0M462.1 157.0h0M440.5 143.4h0M462.3 161.8h0M452.3 149.4h0M443.5 181.9h0M460.1 169.9h0M452.9 164.4h0M437.1 172.1h0M457.0 133.9h0M439.6 156.4h0M429.9 138.0h0M486.5 160.2h0M456.9 170.3h0M499.3 111.7h0M449.6 137.0h0M458.0 123.6h0M425.6 190.3h0M470.2 160.2h0M454.3 192.6h0M457.0 139.6h0M462.8 145.6h0M507.9 135.6h0M455.4 173.5h0M466.3 163.9h0M440.2 143.3h0M438.7 175.6h0M506.2 106.6h0M439.3 166.7h0M455.0 156.8h0M466.0 139.5h0M453.9 174.4h0M453.3 115.1h0M453.9 138.7h0M480.0 129.5h0M456.7 127.0h0M410.5 209.6h0M426.9 200.2h0M448.4 153.1h0M445.0 168.8h0M446.5 154.6h0M440.5 172.9h0M447.0 165.2h0M438.0 175.6h0M448.3 165.1h0M439.0 164.4h0M457.4 144.9h0M476.6 103.6h0M443.7 160.0h0M435.5 165.9h0M474.8 160.6h0M422.0 189.0h0M485.9 149.8h0M450.5 155.5h0M440.3 156.8h0M444.5 164.1h0M459.0 139.7h0M484.6 123.7h0M435.1 179.3h0M449.8 155.4h0M451.8 127.5h0M471.6 126.8h0M452.5 149.9h0M443.2 195.1h0M440.9 149.9h0M457.8 169.4h0M430.2 138.7h0M474.8 117.1h0M457.8 145.7h0M459.3 138.9h0M445.6 183.1h0M473.6 141.4h0M441.2 178.8h0M451.4 167.6h0M457.2 144.7h0M478.9 140.5h0M441.3 185.2h0M443.3 140.3h0M466.4 178.4h0M452.5 147.8h0M436.6 136.8h0M453.0 160.9h0M435.5 151.8h0M428.4 194.7h0M351.6 228.1h0M415.7 192.8h0M446.2 156.1h0M453.4 176.9h0M436.2 146.9h0M450.0 160.3h0M454.0 132.9h0M458.4 162.6h0M444.9 154.9h0M414.4 201.1h0M455.8 182.2h0M429.4 147.1h0M447.7 178.0h0M452.1 133.2h0M434.7 129.6h0M465.7 164.0h0M435.9 180.3h0M455.1 161.4h0M475.7 127.5h0M460.6 159.0h0M446.6 156.9h0M442.9 130.5h0M436.2 173.1h0M465.8 153.6h0M440.6 164.9h0M457.0 170.9h0M467.7 160.2h0M465.1 179.6h0M503.0 121.4h0M422.7 146.8h0M433.8 179.6h0M447.9 157.5h0M451.2 175.1h0M435.7 164.5h0M447.5 142.1h0M433.0 163.9h0M466.0 167.3h0M487.2 122.4h0M473.5 152.1h0M443.9 149.9h0M526.1 80.7h0M449.6 139.2h0M504.8 94.6h0M467.1 129.0h0M464.5 149.6h0M543.4 83.3h0M486.9 118.8h0M488.8 136.8h0M483.7 152.9h0M463.9 158.8h0M496.4 114.1h0M506.9 124.1h0M494.5 118.8h0M481.5 144.3h0M492.2 114.7h0M461.9 139.2h0M501.4 118.0h0M488.0 154.5h0M502.8 116.4h0M488.8 139.2h0M522.7 109.7h0M477.7 150.3h0M484.4 81.0h0M463.2 137.6h0M469.5 148.7h0M479.6 148.1h0M469.7 132.3h0M478.9 142.1h0M442.1 154.1h0M351.5 206.3h0M363.1 213.4h0M349.9 219.6h0M363.1 207.1h0M354.6 193.2h0M359.0 205.1h0M413.6 149.0h0M398.1 158.6h0M351.5 213.5h0M382.6 160.9h0M387.0 167.4h0M348.3 221.1h0M434.7 173.6h0M362.0 195.5h0M362.4 198.0h0" stroke="#b5473b" stroke-opacity="0.33" stroke-width="2.0" stroke-linecap="square" fill="none"/>
<path d="M419.6 151.3h0M387.0 187.0h0M377.8 177.2h0M370.0 194.9h0M368.3 187.6h0M386.1 182.8h0M384.8 207.0h0M385.2 196.7h0M419.0 157.5h0M381.5 185.2h0M381.4 184.7h0M411.6 177.8h0M393.5 195.7h0M391.9 178.7h0M385.1 181.0h0M388.9 190.6h0M380.1 195.3h0M378.3 178.6h0M399.8 189.7h0M411.5 176.4h0M400.2 192.6h0M406.6 164.2h0M403.2 180.6h0M370.5 195.5h0M389.6 185.6h0M394.2 163.6h0M373.8 200.9h0M396.0 172.1h0M377.5 199.6h0M387.9 190.6h0M402.5 184.0h0M390.3 185.3h0M377.9 194.4h0M395.7 174.1h0M409.0 176.3h0M384.0 183.2h0M394.1 177.5h0M399.6 185.2h0M413.4 173.0h0M392.9 176.3h0M398.1 173.3h0M389.8 187.1h0M389.0 178.0h0M401.7 173.2h0M384.5 189.2h0M407.9 179.1h0M392.7 172.5h0M416.6 174.4h0M391.4 195.2h0M413.7 176.7h0M382.2 180.8h0M389.2 181.8h0M369.3 193.7h0M403.3 165.6h0M409.1 158.9h0M366.3 213.1h0M385.5 202.5h0M394.0 172.4h0M400.5 178.3h0M383.1 180.3h0M419.3 186.7h0M400.7 186.4h0M372.8 186.4h0M366.7 218.5h0M405.4 161.7h0M385.4 198.2h0M417.8 152.1h0M394.0 188.5h0M371.4 199.5h0M392.4 182.8h0M416.4 174.1h0M407.4 160.2h0M391.3 187.6h0M396.5 178.0h0M397.2 188.8h0M383.8 192.8h0M399.0 173.2h0M381.6 207.4h0M401.7 185.2h0M376.2 196.1h0M391.2 178.9h0M393.0 185.2h0M377.5 188.0h0M378.0 200.9h0M392.5 179.7h0M381.5 181.5h0M417.0 185.1h0M394.0 196.4h0M386.6 175.3h0M411.8 174.6h0M385.5 193.0h0M407.0 182.4h0M411.0 172.4h0M368.9 198.5h0M396.0 179.6h0M375.9 198.0h0M413.7 169.7h0M408.9 180.4h0M391.5 195.7h0M425.2 151.4h0M400.5 186.0h0M399.6 168.8h0M423.7 165.0h0M383.9 177.1h0M378.9 185.2h0M382.6 184.9h0M383.1 176.0h0M374.7 181.2h0M391.9 175.2h0M415.2 163.1h0M393.0 175.9h0M376.1 187.6h0M410.1 176.1h0M385.8 191.6h0M416.8 179.0h0M419.7 152.0h0M386.7 195.7h0M408.2 183.7h0M420.5 167.9h0M370.5 194.4h0M413.4 153.1h0M379.0 201.0h0M371.3 214.8h0M381.1 190.3h0M377.9 205.6h0M396.0 186.1h0M423.7 164.0h0M397.7 169.6h0M423.8 185.3h0M408.6 156.1h0M371.0 186.9h0M405.0 178.2h0M372.0 190.7h0M412.3 166.8h0M383.0 196.7h0M398.3 185.0h0M422.7 184.9h0M387.4 199.1h0M376.3 200.0h0M431.1 184.4h0M412.8 180.0h0M392.9 187.0h0M379.9 196.9h0M398.3 189.8h0M390.7 195.7h0M387.7 185.2h0M385.1 187.5h0M423.6 168.8h0M377.6 183.5h0M378.7 193.0h0M406.4 163.1h0M402.5 177.5h0M384.1 189.3h0M377.5 197.6h0M408.7 174.6h0M390.1 174.7h0M377.6 199.6h0M380.6 196.9h0M374.8 203.2h0M403.1 165.5h0M383.9 195.7h0M404.5 190.4h0M381.2 189.5h0M409.0 167.7h0M392.0 180.4h0M408.8 179.8h0M373.4 200.2h0M401.7 169.0h0M404.5 170.6h0M368.9 200.8h0M365.7 195.2h0M414.8 172.4h0M397.3 177.1h0M377.2 203.2h0M375.8 195.9h0M402.1 182.3h0M383.3 204.2h0M422.8 181.8h0M417.7 159.5h0M381.2 203.7h0M394.0 194.4h0M404.8 178.2h0M390.6 174.1h0M397.1 183.1h0M385.3 186.2h0M371.0 196.3h0M400.4 174.7h0M380.8 203.1h0M395.5 190.0h0M382.1 174.7h0M403.6 165.7h0M404.8 172.5h0M408.3 170.3h0M391.8 188.3h0M379.1 193.0h0M384.2 177.3h0M381.9 185.0h0M399.0 196.3h0M384.7 189.7h0M368.1 187.1h0M404.7 174.4h0M390.8 192.4h0M371.5 212.1h0M395.7 167.2h0M397.9 166.8h0M380.6 207.3h0M378.9 187.7h0M381.7 185.6h0M398.3 175.9h0M384.2 194.2h0M409.2 178.9h0M388.1 183.3h0M406.5 164.8h0M420.3 168.9h0M387.3 188.0h0M427.1 165.6h0M400.1 181.4h0M420.5 167.3h0M403.3 161.0h0M370.3 200.1h0M387.6 170.7h0M395.5 175.2h0M385.6 176.6h0M402.8 165.7h0M407.2 176.3h0M403.1 161.6h0M386.2 205.6h0M405.8 168.6h0M413.3 166.9h0M399.9 167.3h0M381.6 195.5h0M383.8 192.7h0M411.0 174.7h0M376.1 199.8h0M379.4 198.3h0M422.5 171.3h0M379.0 199.3h0M389.9 189.5h0M372.4 182.2h0M390.3 169.7h0M372.5 199.7h0M378.2 201.1h0M392.4 188.1h0M396.4 182.8h0M383.2 193.9h0M397.0 185.1h0M388.1 180.5h0M414.1 175.0h0M377.5 195.7h0M385.4 170.4h0M372.9 194.8h0M372.1 192.7h0M378.7 201.1h0M413.5 164.2h0M397.3 185.3h0M393.0 186.5h0M408.5 160.7h0M399.2 173.3h0M372.1 192.4h0M374.9 213.2h0M393.1 168.5h0M416.2 174.4h0M365.6 203.7h0M393.7 182.6h0M407.4 174.8h0M405.5 173.7h0M415.3 180.6h0M428.4 155.4h0M384.9 189.4h0M374.4 211.3h0M385.0 179.4h0M398.3 172.8h0M404.3 156.2h0M405.5 187.9h0M370.7 208.0h0M399.3 183.0h0M369.5 189.5h0M415.8 164.3h0M381.7 192.8h0M404.9 188.2h0M390.9 176.3h0M396.8 193.2h0M381.8 188.2h0M398.7 169.1h0M378.1 178.9h0M394.4 196.1h0M394.6 179.7h0M390.3 174.0h0M391.5 182.4h0M409.2 167.4h0M391.1 177.7h0M384.6 177.6h0M367.0 203.6h0M394.5 171.3h0M392.0 169.4h0M367.7 196.3h0M372.5 191.5h0M412.0 168.1h0M381.5 201.0h0M404.7 184.2h0M376.2 212.2h0M399.1 170.6h0M423.3 182.3h0M412.7 180.1h0M399.4 180.5h0M400.4 193.0h0M388.7 198.2h0M391.4 182.0h0M421.3 184.6h0M366.5 202.5h0M391.1 188.0h0M384.5 173.5h0M390.2 190.7h0M398.8 181.7h0M388.0 196.4h0M387.3 172.3h0M410.5 167.7h0M366.2 185.0h0M418.2 168.0h0M383.8 195.9h0M415.8 163.5h0M383.9 190.0h0M412.3 170.2h0M386.3 177.9h0M411.1 159.7h0M375.3 190.3h0M398.5 162.6h0M374.7 211.1h0M402.4 183.6h0M382.5 179.7h0M426.8 176.1h0M378.8 194.4h0M381.5 194.7h0M378.9 203.8h0M375.3 190.6h0M399.4 169.6h0M391.9 165.6h0M374.0 191.7h0M398.8 164.3h0M373.6 180.1h0M385.1 191.9h0M371.9 189.4h0M403.9 177.9h0M373.7 192.3h0M384.6 176.1h0M400.8 175.4h0M388.6 185.0h0M396.2 184.1h0M373.9 191.2h0M389.2 179.8h0M368.4 210.4h0M398.1 182.0h0M400.8 171.8h0M378.5 199.4h0M401.5 186.2h0M404.0 168.3h0M414.8 154.5h0M388.6 173.0h0M366.4 196.7h0M369.7 201.5h0M364.9 198.7h0M392.1 185.7h0M383.8 186.7h0M385.1 188.0h0M417.6 172.6h0M392.9 193.6h0M411.1 179.8h0M390.3 188.3h0M411.7 169.3h0M387.4 178.7h0M418.9 157.6h0M408.7 179.3h0M375.4 202.5h0M427.9 153.2h0M408.4 162.9h0M378.6 202.0h0M413.4 183.1h0M430.1 169.6h0M405.8 169.2h0M382.2 188.5h0M421.4 163.1h0M374.6 199.8h0M410.5 185.0h0M373.7 191.3h0M431.3 153.4h0M379.1 195.4h0M377.0 205.6h0M385.9 170.5h0M388.2 191.1h0M419.1 162.2h0M406.2 179.5h0M398.0 178.5h0M383.3 185.0h0M402.0 168.5h0M373.3 184.0h0M388.1 197.1h0M419.7 174.9h0M374.0 196.5h0M399.4 185.7h0M370.3 207.7h0M383.4 187.4h0M373.5 186.7h0M378.3 202.8h0M372.8 185.3h0M425.4 152.0h0M400.2 175.0h0M409.4 167.7h0M401.7 166.6h0M399.1 182.8h0M392.4 184.8h0M397.0 189.3h0M382.4 200.3h0M392.9 189.5h0M379.7 183.2h0M388.2 179.0h0M388.3 173.3h0M415.2 178.6h0M400.8 182.6h0M409.6 167.6h0M380.8 195.3h0M380.4 189.0h0M415.8 167.8h0M372.3 210.2h0M421.0 168.8h0M385.0 170.9h0M389.8 172.5h0M397.9 187.0h0M412.6 171.8h0M373.2 209.6h0M392.3 187.8h0M406.5 159.5h0M394.8 193.9h0M395.1 176.7h0M412.7 178.7h0M394.3 166.9h0M429.2 151.3h0M428.2 169.3h0M423.9 159.0h0M413.4 180.0h0M393.7 193.3h0M409.0 160.3h0M419.0 168.2h0M426.3 155.3h0M409.9 178.9h0M427.6 165.1h0M406.0 160.3h0M429.0 181.5h0M419.2 173.1h0M421.4 170.2h0M408.3 162.6h0M412.9 170.2h0M411.3 174.4h0M414.5 180.4h0M410.7 156.5h0M420.5 178.9h0M395.7 192.3h0M429.3 160.5h0M418.3 182.2h0M413.4 159.8h0M424.7 180.0h0M399.0 169.8h0M423.9 164.9h0M418.2 184.1h0M422.6 173.3h0M404.5 180.0h0M432.4 162.8h0M403.5 181.4h0M406.7 182.4h0M427.0 164.8h0M424.4 162.1h0M376.7 188.6h0M430.4 168.0h0M419.8 176.8h0M422.9 176.7h0M415.6 168.0h0M423.3 156.0h0M418.7 166.9h0M408.2 170.9h0M427.7 176.3h0M411.8 180.3h0M407.6 176.0h0M381.6 183.0h0M382.3 189.1h0M388.8 174.3h0M381.4 178.4h0M382.0 192.8h0M379.9 183.9h0M405.7 167.2h0M379.5 182.5h0M391.7 171.3h0M369.5 196.2h0M402.2 168.1h0M399.1 195.1h0M393.4 189.8h0M401.0 181.1h0M391.6 189.8h0M392.1 194.9h0M391.1 191.6h0M365.4 203.8h0M394.9 196.5h0" stroke="#b5473b" stroke-opacity="0.55" stroke-width="2.0" stroke-linecap="square" fill="none"/>
<path d="M381.4 209.5h0M429.8 158.1h0M407.8 173.0h0M372.7 210.3h0M422.3 161.8h0M394.8 197.7h0M378.6 190.8h0M392.8 185.3h0M403.0 164.3h0M367.5 211.5h0M403.6 171.5h0M409.2 166.6h0M398.1 171.5h0M380.9 203.7h0M391.0 195.6h0M410.6 159.2h0M392.9 188.6h0M420.1 160.4h0M405.9 179.1h0M389.8 171.5h0M364.8 207.6h0M392.8 179.3h0M391.0 194.0h0M372.5 183.4h0M396.3 185.5h0M394.4 185.5h0M381.7 186.5h0M393.0 184.2h0M389.5 181.6h0M386.7 182.4h0M411.2 166.1h0M419.3 169.4h0M384.5 201.8h0M378.6 187.5h0M384.4 195.6h0M378.5 191.7h0M383.2 194.5h0M404.3 179.1h0M409.3 158.2h0M389.7 193.0h0M393.0 180.1h0M375.4 180.8h0M375.6 195.0h0M396.6 180.7h0M390.0 185.6h0M402.5 176.3h0M372.1 210.0h0M420.5 163.8h0M382.2 208.3h0M381.7 191.2h0M389.7 202.5h0M370.7 189.5h0M386.3 181.9h0M375.8 190.5h0M421.9 172.7h0M390.8 198.7h0M387.2 181.4h0M389.6 174.5h0M393.4 190.5h0M370.3 193.1h0M379.2 186.9h0M425.9 163.3h0M390.6 172.5h0M425.1 154.0h0M396.7 176.5h0M417.5 160.9h0M398.6 177.2h0M379.2 204.9h0M387.2 189.1h0M407.3 159.9h0M403.1 179.9h0M407.1 179.5h0M391.4 188.0h0M411.7 176.3h0M395.8 182.7h0M370.3 186.2h0M390.3 201.6h0M384.0 202.7h0M412.4 175.9h0M406.5 164.1h0M385.2 195.2h0M400.6 187.4h0M398.7 161.1h0M379.9 188.0h0M399.5 189.0h0M384.6 191.0h0M420.6 161.1h0M372.4 213.5h0M386.1 202.3h0M412.4 161.7h0M399.3 180.3h0M398.2 179.8h0M410.8 162.3h0M381.9 180.6h0M380.0 198.6h0M387.4 196.6h0M415.5 174.4h0M386.0 179.1h0M404.4 165.4h0M394.1 179.8h0M391.2 172.0h0M378.9 192.2h0M388.7 194.6h0M381.5 188.5h0M421.5 161.0h0M389.2 183.0h0M418.1 170.1h0M390.2 193.2h0M401.8 168.3h0M388.2 185.0h0M384.2 199.3h0M415.4 152.4h0M396.8 179.6h0M386.5 194.1h0M388.5 180.7h0M402.6 174.9h0M400.4 163.3h0M380.2 187.2h0M397.4 171.8h0M396.9 172.4h0M403.0 177.9h0M387.0 177.9h0M390.0 185.0h0M367.5 187.7h0M386.4 170.9h0M405.4 171.8h0M390.0 182.9h0M403.8 166.7h0M397.8 177.5h0M370.6 198.7h0M430.8 166.7h0M367.7 202.1h0M418.6 158.5h0M388.1 197.0h0M380.8 197.7h0M430.2 151.8h0M406.9 179.4h0M371.5 197.7h0M369.1 207.8h0M396.9 180.5h0M421.1 162.7h0M406.9 157.9h0M382.2 205.2h0M409.8 153.7h0M385.1 192.7h0M389.8 188.5h0M391.9 195.8h0M394.8 179.5h0M386.6 176.5h0M405.5 172.7h0M383.9 187.2h0M386.6 191.3h0M382.0 191.0h0M377.8 199.0h0M375.0 202.7h0M407.8 154.6h0M372.9 209.2h0M392.9 178.8h0M402.5 171.5h0M379.3 207.3h0M394.8 191.4h0M416.3 156.6h0M412.6 185.7h0M409.6 165.9h0M372.8 195.0h0M421.1 167.3h0M399.3 189.4h0M381.3 191.5h0M369.0 186.2h0M387.4 171.7h0M404.0 192.4h0M372.4 204.4h0M384.4 172.7h0M424.9 175.7h0M423.6 167.5h0M406.9 181.6h0M394.4 196.6h0M388.7 176.5h0M395.2 190.1h0M400.0 175.3h0M396.7 177.6h0M396.0 190.9h0M405.2 178.6h0M409.7 179.5h0M400.3 180.2h0M375.1 196.6h0M366.0 208.1h0M375.4 192.1h0M383.7 196.6h0M406.8 181.1h0M389.6 175.0h0M392.2 182.5h0M415.7 158.9h0M397.6 166.0h0M418.6 156.7h0M370.1 195.9h0M374.8 180.1h0M388.6 180.9h0M372.3 203.9h0M379.1 177.4h0M383.2 175.7h0M404.2 175.3h0M410.0 164.6h0M372.5 199.5h0M411.6 171.2h0M387.8 190.0h0M372.3 193.7h0M390.1 178.0h0M398.7 180.3h0M384.1 200.7h0M374.4 199.8h0M380.7 192.3h0M400.9 185.3h0M379.7 198.3h0M400.7 168.9h0M379.7 206.3h0M379.3 185.6h0M377.1 196.6h0M387.8 195.6h0M400.7 186.8h0M392.4 189.9h0M379.2 189.8h0M380.4 186.0h0M406.3 175.3h0M391.5 181.1h0M415.9 178.1h0M388.5 180.1h0M381.8 186.9h0M397.1 174.1h0M370.0 199.6h0M395.5 172.8h0M385.0 175.5h0M378.4 211.7h0M368.7 201.0h0M403.7 178.9h0M374.0 195.2h0M399.3 174.1h0M377.1 185.8h0M399.0 164.6h0M377.2 187.1h0M392.3 194.8h0M400.1 193.1h0M381.7 201.4h0M371.5 183.7h0M396.0 165.8h0M393.8 185.4h0M385.2 204.8h0M376.6 188.5h0M386.2 172.9h0M371.7 190.3h0M383.1 186.8h0M371.4 199.2h0M386.7 185.2h0M400.0 187.9h0M411.0 153.8h0M370.6 205.8h0M424.7 175.1h0M371.2 194.2h0M401.5 191.5h0M408.1 171.5h0M394.1 174.8h0M391.1 198.2h0M399.7 179.4h0M403.6 170.2h0M386.9 182.6h0M379.7 205.0h0M415.7 169.0h0M380.0 189.4h0M369.7 206.0h0M386.7 196.9h0M388.7 184.5h0M387.0 195.4h0M373.5 207.2h0M403.8 176.1h0M385.1 189.3h0M384.0 197.6h0M395.3 174.8h0M397.6 165.5h0M396.0 179.1h0M412.7 169.0h0M387.4 183.4h0M406.9 171.8h0M397.8 180.9h0M376.6 200.9h0M396.8 184.9h0M379.9 180.0h0M398.0 187.0h0M370.0 198.7h0M388.0 193.3h0M372.5 198.2h0M425.1 184.9h0M383.3 201.3h0M391.9 191.0h0M407.3 178.6h0M403.1 164.8h0M385.2 192.6h0M374.8 189.7h0M374.1 195.6h0M413.2 172.5h0M422.2 164.3h0M418.7 169.1h0M400.2 161.9h0M367.8 214.5h0M403.2 192.0h0M379.7 192.9h0M410.8 163.9h0M367.3 202.7h0M413.0 182.1h0M382.9 192.1h0M377.0 195.4h0M382.3 193.2h0M379.8 189.4h0M386.0 171.7h0M404.5 160.8h0M395.4 197.2h0M411.9 178.6h0M373.8 186.3h0M393.1 172.2h0M378.8 184.3h0M396.6 179.3h0M373.9 202.2h0M381.0 196.7h0M378.2 193.7h0M387.9 171.4h0M427.9 163.2h0M399.9 168.4h0M372.4 202.2h0M368.3 211.0h0M385.6 198.9h0M388.4 174.9h0M387.4 184.6h0M382.7 203.9h0M373.1 186.6h0M403.1 193.4h0M391.7 187.2h0M398.6 176.5h0M392.5 196.6h0M408.1 166.2h0M383.9 192.1h0M369.2 212.2h0M403.0 179.2h0M397.2 191.8h0M369.0 205.7h0M374.0 199.6h0M384.4 181.9h0M375.4 189.9h0M389.8 193.2h0M384.6 180.8h0M395.5 181.4h0M404.6 171.9h0M378.7 199.9h0M414.6 167.1h0M378.4 208.1h0M380.7 193.3h0M378.9 197.6h0M387.8 178.7h0M402.5 173.3h0M373.9 206.8h0M375.9 199.8h0M387.9 199.7h0M384.3 184.1h0M398.2 175.9h0M398.7 175.1h0M385.5 190.5h0M366.8 185.5h0M388.9 187.4h0M381.6 184.2h0M377.7 186.5h0M378.0 181.5h0M405.9 175.4h0M404.7 166.3h0M367.7 211.7h0M378.6 185.5h0M402.6 181.3h0M393.4 188.4h0M423.8 168.3h0M379.8 193.0h0M388.6 187.1h0M388.4 187.8h0M421.8 175.1h0M430.8 172.2h0M418.6 170.5h0M376.2 186.6h0M402.0 171.7h0M426.1 160.4h0M400.7 174.6h0M412.0 153.9h0M379.5 207.5h0M375.9 189.2h0M390.0 184.8h0M392.1 187.7h0M378.1 192.5h0M405.2 160.3h0M377.4 198.5h0M380.3 183.7h0M388.3 176.5h0M392.7 192.0h0M377.6 203.0h0M393.6 182.1h0M406.0 159.4h0M388.8 192.1h0M408.2 185.1h0M384.0 200.1h0M375.4 201.3h0M395.3 178.1h0M391.1 190.9h0M408.8 178.7h0M406.6 172.3h0M381.8 178.5h0M372.0 191.3h0M376.0 182.0h0M378.4 196.9h0M413.5 187.5h0M392.1 191.5h0M374.6 194.9h0M397.9 168.3h0M392.3 173.0h0M378.8 193.1h0M375.7 212.2h0M420.0 167.9h0M392.2 178.8h0M373.1 204.2h0M380.9 184.4h0M392.5 173.5h0M404.8 159.3h0M383.3 183.3h0M399.0 174.7h0M375.7 186.7h0M419.4 166.6h0M388.9 190.3h0M397.6 170.8h0M406.2 158.4h0M415.5 167.1h0M383.2 196.3h0M410.1 157.4h0M404.1 159.6h0M411.7 170.7h0M407.8 169.7h0M431.9 161.3h0M418.9 165.6h0M410.6 175.6h0M425.7 186.0h0M406.0 157.0h0M406.3 166.6h0M418.2 171.3h0M407.4 189.4h0M431.9 158.7h0M389.8 193.4h0M417.8 176.5h0M401.3 172.1h0M414.4 170.2h0M420.2 173.4h0M425.4 158.6h0M402.2 186.3h0M417.6 161.5h0M406.5 160.4h0M390.9 197.3h0M425.1 167.1h0M430.8 180.9h0M411.3 180.1h0M398.6 182.4h0M420.0 166.6h0M410.8 160.6h0M428.2 168.9h0M409.2 168.2h0M414.9 166.9h0M414.9 166.6h0M413.1 169.7h0M419.6 170.7h0M388.6 187.7h0M419.4 158.9h0M422.4 174.9h0M432.0 173.1h0M423.8 163.8h0M419.1 173.8h0M389.0 182.9h0M424.4 164.7h0M388.5 188.5h0M395.3 174.4h0M394.6 189.0h0M402.9 170.9h0M414.4 156.4h0M371.5 208.6h0M418.6 186.6h0M385.6 197.7h0M394.7 180.4h0M408.7 165.1h0M413.1 162.4h0M428.1 184.7h0M386.1 184.3h0M370.2 215.7h0M370.8 206.1h0M377.2 203.1h0M372.2 180.8h0M424.6 167.4h0M368.9 184.8h0M381.5 197.8h0M373.2 215.1h0M366.0 213.4h0M412.5 165.0h0" stroke="#b5473b" stroke-opacity="0.55" stroke-width="2.0" stroke-linecap="square" fill="none"/>
<path d="M402.0 172.5h0M388.5 195.6h0M402.8 166.8h0M381.1 188.4h0M383.6 183.0h0M415.9 163.1h0M381.9 184.2h0M395.4 184.3h0M397.0 188.4h0M377.8 184.3h0M380.6 194.1h0M396.1 168.5h0M370.6 191.5h0M390.2 191.1h0M388.1 177.6h0M399.5 171.1h0M381.4 185.2h0M379.5 207.1h0M425.0 174.2h0M384.6 195.2h0M423.5 169.8h0M375.1 201.7h0M408.5 173.5h0M419.2 178.1h0M372.4 210.5h0M379.6 183.3h0M394.9 169.7h0M379.4 205.7h0M393.3 173.8h0M398.2 160.5h0M382.9 199.6h0M385.1 188.7h0M403.6 169.6h0M384.2 198.7h0M384.1 175.9h0M376.7 187.7h0M404.4 162.0h0M400.0 169.5h0M375.4 195.5h0M379.2 196.6h0M383.6 188.7h0M375.0 183.3h0M403.9 169.0h0M407.8 176.8h0M414.7 174.0h0M374.0 190.5h0M373.2 205.8h0M406.6 180.3h0M400.4 172.7h0M400.9 175.3h0M405.9 167.9h0M378.3 196.3h0M412.2 180.3h0M373.5 209.7h0M393.1 182.9h0M411.6 172.1h0M388.2 183.1h0M386.3 173.3h0M403.3 171.8h0M381.9 177.5h0M416.2 156.1h0M399.3 195.6h0M393.2 183.4h0M389.3 173.1h0M389.3 168.0h0M368.9 190.5h0M410.9 187.6h0M402.5 183.5h0M415.0 160.0h0M389.4 189.8h0M381.8 197.1h0M381.2 181.0h0M383.5 201.0h0M385.8 194.2h0M379.2 200.7h0M392.7 189.2h0M398.4 189.9h0M388.6 171.8h0M379.2 196.0h0M387.7 202.2h0M371.4 194.7h0M387.6 186.9h0M372.0 216.0h0M384.6 198.7h0M369.1 210.2h0M398.7 189.6h0M397.0 180.5h0M404.8 184.0h0M381.6 190.0h0M406.0 171.3h0M395.3 174.8h0M404.0 179.9h0M404.8 173.9h0M380.0 187.4h0M374.7 206.8h0M387.1 191.2h0M415.0 172.6h0M390.9 181.9h0M380.5 193.1h0M400.4 189.1h0M394.0 190.1h0M390.4 188.7h0M369.1 196.9h0M398.4 170.0h0M414.9 178.9h0M411.3 163.8h0M392.0 191.0h0M396.3 174.3h0M385.7 177.7h0M383.1 177.5h0M382.9 201.6h0M407.5 168.0h0M368.0 187.5h0M397.5 187.6h0M387.8 190.2h0M405.7 175.1h0M408.8 186.4h0M387.4 189.4h0M365.5 213.5h0M394.8 185.9h0M380.6 205.4h0M416.0 173.5h0M405.6 188.8h0M390.0 201.6h0M421.6 183.5h0M389.4 202.9h0M388.4 177.0h0M400.5 165.6h0M389.4 202.6h0M394.0 170.0h0M386.7 173.2h0M398.7 192.2h0M379.6 190.6h0M380.5 205.0h0M393.5 170.5h0M408.1 188.6h0M407.4 162.9h0M386.2 189.6h0M394.4 168.2h0M374.6 196.0h0M392.5 174.5h0M406.9 165.9h0M419.1 185.9h0M399.6 192.2h0M399.3 176.6h0M367.2 211.4h0M413.6 162.4h0M397.4 185.3h0M380.8 176.9h0M371.9 188.8h0M373.8 206.7h0M390.8 197.9h0M390.7 185.4h0M372.1 192.2h0M391.1 181.6h0M378.7 205.9h0M384.7 195.3h0M373.0 186.0h0M411.3 177.4h0M401.9 165.4h0M391.8 185.5h0M389.2 188.0h0M390.8 178.9h0M391.0 195.5h0M391.5 193.5h0M397.3 180.2h0M408.4 168.1h0M394.9 191.4h0M386.2 184.4h0M405.6 188.5h0M425.5 176.6h0M398.6 178.4h0M374.1 184.0h0M422.7 171.2h0M380.2 201.1h0M390.1 169.8h0M418.2 164.6h0M380.4 187.2h0M377.1 209.4h0M388.9 196.3h0M378.1 210.8h0M418.4 162.9h0M382.7 184.2h0M408.5 184.4h0M400.5 191.8h0M375.9 198.7h0M407.2 176.0h0M400.8 180.0h0M383.2 207.9h0M364.9 206.5h0M402.2 189.4h0M421.7 175.7h0M384.2 188.1h0M407.5 162.0h0M383.7 195.9h0M394.3 195.0h0M418.1 179.9h0M379.3 195.6h0M397.7 187.9h0M393.8 190.7h0M397.1 169.7h0M407.9 175.8h0M424.6 156.8h0M396.9 170.5h0M402.4 186.2h0M418.7 160.3h0M391.5 196.8h0M417.2 171.8h0M384.5 189.3h0M401.2 186.1h0M386.7 180.2h0M377.0 204.0h0M374.2 184.5h0M396.0 173.9h0M382.7 190.1h0M406.1 164.7h0M418.9 176.5h0M392.4 194.0h0M381.1 181.5h0M397.2 180.6h0M378.4 190.3h0M373.0 186.4h0M388.7 196.9h0M385.9 196.3h0M414.7 173.4h0M372.9 191.7h0M429.5 181.5h0M392.2 187.4h0M403.8 187.5h0M396.4 182.2h0M386.0 184.2h0M393.5 178.4h0M403.8 163.4h0M387.4 177.9h0M397.8 192.7h0M407.8 159.1h0M374.4 212.5h0M399.0 163.4h0M380.6 197.2h0M384.9 195.7h0M383.9 186.3h0M390.9 191.6h0M379.7 197.7h0M388.6 191.9h0M379.7 175.5h0M375.3 212.1h0M430.4 162.8h0M407.1 189.9h0M405.8 160.8h0M394.1 176.3h0M391.2 195.1h0M420.1 179.6h0M383.0 203.3h0M393.9 164.5h0M372.5 186.7h0M418.5 170.2h0M388.1 193.9h0M388.1 193.5h0M399.5 165.5h0M399.4 172.5h0M380.7 208.7h0M399.5 168.9h0M386.6 190.1h0M412.9 163.3h0M373.2 197.8h0M381.3 181.6h0M373.0 207.8h0M401.5 187.1h0M372.3 189.2h0M378.0 197.7h0M373.8 202.4h0M412.4 186.7h0M382.1 187.3h0M382.4 197.5h0M413.9 159.8h0M416.5 176.5h0M409.9 176.6h0M410.4 162.9h0M382.6 182.1h0M380.8 185.3h0M396.8 166.2h0M429.5 178.6h0M399.5 165.5h0M404.2 179.3h0M379.7 202.5h0M378.8 198.2h0M388.2 187.0h0M415.9 185.3h0M367.0 201.6h0M393.9 179.0h0M430.4 159.7h0M410.7 183.9h0M394.1 185.3h0M413.3 176.4h0M391.3 194.6h0M406.4 177.8h0M374.5 185.5h0M369.9 189.6h0M382.7 187.6h0M396.7 173.5h0M411.7 154.3h0M394.0 188.8h0M388.2 185.1h0M385.8 204.9h0M375.7 201.0h0M412.1 169.4h0M381.2 194.6h0M388.5 190.3h0M375.3 188.6h0M386.9 197.9h0M389.9 190.1h0M376.8 206.1h0M371.6 205.9h0M371.8 201.8h0M422.1 167.3h0M382.1 181.7h0M391.8 185.5h0M399.4 168.0h0M403.6 183.0h0M393.3 198.0h0M384.9 185.2h0M398.2 174.5h0M396.6 184.9h0M399.1 196.2h0M382.7 175.6h0M384.5 189.6h0M388.5 188.9h0M381.9 198.6h0M380.8 193.6h0M374.9 201.1h0M391.6 176.0h0M387.2 186.2h0M395.0 163.5h0M371.1 203.4h0M378.5 196.1h0M392.8 181.0h0M391.0 174.4h0M386.1 173.8h0M395.8 191.8h0M401.4 180.7h0M414.1 179.9h0M384.7 185.6h0M373.3 191.1h0M384.9 193.4h0M424.9 154.7h0M405.3 175.6h0M392.9 181.5h0M367.0 197.3h0M399.5 181.2h0M386.1 169.4h0M379.2 200.1h0M367.1 212.4h0M389.4 187.3h0M389.8 169.1h0M421.9 176.8h0M400.3 162.5h0M385.5 191.6h0M398.3 169.8h0M377.7 195.6h0M417.2 168.9h0M388.8 172.8h0M411.6 184.8h0M378.9 176.7h0M406.1 189.8h0M379.7 197.4h0M394.5 167.5h0M392.4 177.3h0M423.7 171.2h0M374.1 214.7h0M373.6 189.4h0M397.0 197.8h0M393.8 196.0h0M420.0 178.9h0M376.8 191.7h0M398.2 178.5h0M382.1 199.1h0M392.9 167.2h0M380.9 185.7h0M392.3 190.6h0M373.3 212.5h0M400.4 187.9h0M389.8 199.5h0M381.9 185.3h0M400.7 164.8h0M388.6 192.2h0M390.1 203.2h0M397.5 180.8h0M411.7 169.4h0M380.6 196.1h0M401.4 187.3h0M429.0 163.4h0M366.9 212.5h0M409.8 174.0h0M379.8 197.9h0M371.9 202.8h0M390.9 201.8h0M428.6 181.9h0M388.0 176.5h0M406.8 168.5h0M407.4 155.6h0M408.3 186.1h0M374.8 193.5h0M376.0 179.7h0M400.3 182.0h0M393.3 199.8h0M407.6 163.3h0M411.0 162.6h0M385.7 171.5h0M416.9 162.6h0M380.1 195.6h0M390.3 200.8h0M390.7 175.6h0M405.8 162.7h0M393.2 199.3h0M408.5 179.8h0M381.5 195.4h0M384.1 178.6h0M375.5 203.7h0M381.2 191.1h0M426.7 180.6h0M402.4 172.0h0M386.7 196.4h0M382.6 178.6h0M409.3 179.1h0M389.8 183.3h0M414.3 161.2h0M373.3 192.5h0M391.8 176.7h0M377.9 178.2h0M421.7 165.1h0M388.3 195.3h0M403.6 186.9h0M380.4 189.1h0M385.4 196.5h0M379.3 202.2h0M428.9 169.6h0M431.3 149.0h0M431.5 161.8h0M430.3 185.3h0M395.2 170.2h0M424.0 184.2h0M424.4 157.2h0M381.6 190.4h0M411.9 158.5h0M413.4 169.6h0M410.2 174.4h0M421.0 157.0h0M429.5 172.2h0M417.2 158.2h0M405.7 157.4h0M427.9 179.4h0M426.5 183.3h0M425.7 168.4h0M423.2 170.1h0M411.0 164.2h0M393.1 197.6h0M412.5 167.6h0M431.5 150.4h0M425.2 179.0h0M426.9 160.8h0M422.6 166.9h0M431.6 163.7h0M422.0 165.4h0M423.7 172.1h0M372.6 198.2h0M426.8 169.1h0M415.9 170.0h0M413.0 169.8h0M402.0 176.5h0M411.8 161.6h0M421.1 176.2h0M429.7 172.3h0M403.9 183.9h0M405.4 180.7h0M396.5 173.8h0M422.1 175.9h0M428.1 159.5h0M426.4 161.0h0M396.5 192.3h0M404.5 191.6h0M431.3 177.5h0M383.0 178.1h0M395.6 194.0h0M414.9 175.7h0M414.9 159.2h0M402.5 163.7h0M392.3 182.1h0M427.4 160.5h0M407.8 174.7h0M385.7 197.8h0M405.9 165.4h0M374.5 178.5h0M381.9 185.6h0M379.7 175.9h0M398.3 187.2h0M369.5 200.9h0M398.0 188.3h0M416.5 159.6h0M387.9 172.9h0M367.6 194.9h0" stroke="#b5473b" stroke-opacity="0.55" stroke-width="2.0" stroke-linecap="square" fill="none"/>
<path d="M374.4 180.5h0M419.2 154.7h0M416.0 183.1h0M381.4 177.7h0M417.3 163.6h0M424.5 169.5h0M376.7 210.7h0M379.3 193.7h0M382.0 176.2h0M384.2 198.6h0M378.8 177.4h0M399.5 160.9h0M377.4 200.0h0M385.7 193.8h0M368.0 194.4h0M390.3 195.9h0M406.2 177.1h0M403.4 173.3h0M424.4 170.7h0M419.4 185.8h0M393.7 174.0h0M393.2 172.0h0M382.1 178.1h0M375.4 209.4h0M379.4 200.1h0M383.3 195.2h0M390.2 193.8h0M397.8 179.3h0M393.5 181.1h0M391.1 193.7h0M393.2 170.7h0M370.7 205.9h0M400.6 189.1h0M393.5 166.3h0M387.8 199.3h0M371.5 210.5h0M411.4 182.0h0M390.1 196.3h0M407.2 165.1h0M416.1 162.5h0M421.6 182.3h0M391.7 186.9h0M383.0 182.9h0M411.4 171.7h0M395.9 170.8h0M383.6 183.8h0M401.3 162.3h0M387.9 190.0h0M394.6 177.8h0M387.2 189.5h0M402.5 177.3h0M375.6 210.4h0M424.4 164.5h0M414.4 157.7h0M381.7 174.5h0M375.9 183.7h0M372.5 212.4h0M376.3 182.6h0M402.0 177.4h0M425.7 162.4h0M386.8 203.7h0M388.2 194.9h0M372.4 197.8h0M380.4 189.5h0M407.9 179.7h0M399.1 184.3h0M373.0 202.2h0M393.4 197.4h0M377.0 202.8h0M415.3 165.8h0M387.6 176.8h0M409.4 166.3h0M414.9 180.0h0M417.3 175.6h0M413.7 167.3h0M375.4 198.2h0M385.1 198.8h0M398.1 160.9h0M414.8 165.8h0M381.7 192.9h0M377.4 188.2h0M420.6 167.2h0M414.7 175.6h0M406.3 173.8h0M372.2 198.6h0M381.9 191.3h0M368.2 204.8h0M386.7 181.3h0M389.0 197.9h0M395.6 189.1h0M398.3 185.2h0M398.0 182.9h0M386.8 183.3h0M378.3 204.4h0M422.2 162.7h0M430.0 154.5h0M387.1 199.1h0M385.0 178.8h0M380.9 205.2h0M413.5 163.5h0M369.0 196.7h0M399.7 167.0h0M402.4 173.4h0M395.1 181.6h0M387.4 189.9h0M407.7 165.1h0M406.0 182.9h0M427.9 161.5h0M391.9 199.2h0M409.8 167.4h0M371.3 182.1h0M401.1 174.8h0M402.4 183.0h0M400.0 172.3h0M416.7 164.5h0M396.7 169.1h0M400.2 179.5h0M378.2 189.0h0M385.8 203.7h0M400.3 189.2h0M365.1 197.7h0M388.8 176.3h0M379.7 193.3h0M413.8 161.4h0M400.2 192.2h0M394.6 191.3h0M379.7 187.1h0M399.0 181.3h0M365.5 194.1h0M373.5 195.2h0M410.9 172.5h0M373.9 185.5h0M421.8 173.0h0M412.6 160.4h0M396.7 182.9h0M395.3 172.3h0M374.2 189.9h0M428.8 169.2h0M376.1 200.0h0M393.5 188.2h0M405.0 175.9h0M387.4 197.5h0M374.0 199.8h0M400.1 192.0h0M379.0 196.5h0M370.1 204.1h0M392.6 173.6h0M386.8 180.7h0M382.6 193.5h0M377.9 210.5h0M394.5 188.9h0M382.5 184.7h0M381.5 197.8h0M423.3 169.9h0M399.8 186.7h0M380.3 185.7h0M373.0 202.8h0M391.5 197.5h0M415.1 155.5h0M432.0 171.5h0M386.7 192.7h0M383.6 172.3h0M428.7 154.3h0M386.5 178.2h0M396.8 190.5h0M379.1 190.9h0M411.3 184.3h0M405.6 172.5h0M427.8 159.3h0M396.2 187.8h0M404.2 180.5h0M408.3 172.0h0M431.0 180.6h0M399.1 186.7h0M402.3 177.9h0M387.4 185.9h0M373.3 204.7h0M395.0 176.0h0M386.0 198.4h0M392.4 179.9h0M395.0 194.4h0M379.2 198.0h0M405.8 185.6h0M403.4 161.2h0M422.0 172.1h0M392.8 193.3h0M394.4 170.9h0M420.7 155.1h0M409.7 174.9h0M396.7 186.1h0M393.3 180.6h0M376.5 198.4h0M383.6 190.2h0M392.4 190.9h0M389.9 172.9h0M388.6 192.7h0M370.3 184.6h0M428.8 149.9h0M382.8 188.8h0M380.0 204.5h0M418.6 177.9h0M389.7 190.8h0M411.8 162.8h0M374.8 208.9h0M395.9 196.9h0M385.3 196.3h0M410.9 184.3h0M404.4 176.7h0M389.6 191.5h0M386.8 190.1h0M379.3 186.5h0M384.9 201.4h0M392.0 183.5h0M400.5 173.5h0M380.9 185.2h0M377.0 197.6h0M397.4 169.0h0M395.2 189.7h0M366.8 214.2h0M369.9 193.7h0M376.4 199.9h0M388.6 198.3h0M371.7 207.4h0M382.3 182.3h0M378.0 192.3h0M405.9 166.1h0M403.4 171.9h0M393.8 192.0h0M410.3 170.1h0M374.1 195.7h0M387.0 187.4h0M397.1 179.6h0M377.4 181.2h0M397.0 167.0h0M390.3 183.8h0M403.7 170.7h0M388.6 181.2h0M369.3 204.8h0M397.2 174.8h0M395.3 183.3h0M377.3 192.1h0M376.6 195.0h0M398.5 169.9h0M391.9 183.4h0M377.8 191.9h0M392.2 199.4h0M423.0 183.5h0M400.0 185.4h0M418.2 173.0h0M382.6 195.4h0M400.3 180.5h0M389.3 180.5h0M367.8 201.6h0M392.9 183.5h0M432.0 163.1h0M423.2 165.3h0M373.2 202.4h0M387.2 178.5h0M419.5 176.7h0M388.6 180.9h0M392.9 187.0h0M379.8 200.4h0M372.1 193.2h0M380.0 187.5h0M388.4 177.9h0M377.1 201.5h0M370.2 202.0h0M402.3 184.9h0M390.1 178.4h0M426.2 154.9h0M401.5 177.1h0M400.8 174.6h0M384.3 188.1h0M381.4 190.5h0M403.6 181.7h0M388.9 176.8h0M379.0 194.1h0M386.9 183.5h0M391.9 172.0h0M389.3 190.8h0M407.2 177.6h0M403.9 175.2h0M402.3 181.6h0M390.9 190.9h0M378.3 189.0h0M376.3 201.4h0M391.4 169.1h0M389.6 192.0h0M372.2 199.1h0M390.1 184.0h0M374.9 187.9h0M385.2 185.5h0M428.5 150.3h0M407.8 165.7h0M408.3 163.7h0M376.6 190.6h0M395.8 177.8h0M426.1 154.9h0M374.3 184.5h0M387.9 195.6h0M380.3 195.0h0M366.4 189.5h0M419.7 167.9h0M367.8 201.3h0M386.4 172.8h0M395.1 168.8h0M385.0 174.8h0M388.4 185.2h0M389.4 179.2h0M394.5 168.2h0M386.5 198.0h0M403.8 170.9h0M386.7 197.7h0M418.4 173.8h0M375.6 177.3h0M404.5 177.0h0M393.6 189.8h0M379.5 195.2h0M381.4 203.0h0M391.4 189.3h0M390.4 189.9h0M389.0 177.2h0M374.8 190.0h0M376.3 199.2h0M374.0 205.4h0M431.4 175.0h0M387.5 185.6h0M367.7 202.4h0M394.3 197.8h0M380.0 183.3h0M398.8 186.7h0M369.5 197.7h0M384.9 185.4h0M390.9 169.0h0M392.0 177.7h0M389.1 177.1h0M380.0 197.5h0M388.2 180.1h0M395.5 185.4h0M406.0 163.7h0M381.3 186.5h0M376.0 186.8h0M397.6 188.5h0M405.5 171.8h0M372.3 190.3h0M397.0 179.7h0M374.7 183.7h0M383.9 181.9h0M406.4 173.0h0M388.5 186.7h0M392.1 200.0h0M393.6 194.3h0M368.6 203.7h0M380.9 194.5h0M383.3 181.5h0M375.3 198.3h0M402.6 183.5h0M419.4 152.5h0M408.3 171.4h0M377.1 199.8h0M413.3 163.5h0M413.7 175.7h0M390.4 181.9h0M410.6 160.0h0M418.8 156.1h0M378.4 191.9h0M402.5 168.9h0M395.8 183.5h0M371.1 195.1h0M384.3 189.5h0M383.3 195.2h0M376.3 192.0h0M370.9 197.0h0M369.7 190.4h0M380.7 206.6h0M410.7 185.4h0M386.0 203.0h0M378.6 185.5h0M402.5 178.0h0M384.4 189.7h0M386.9 201.4h0M411.5 160.4h0M408.6 178.7h0M386.8 175.0h0M392.6 172.5h0M398.4 165.2h0M392.9 175.5h0M374.1 208.2h0M402.1 163.3h0M417.8 164.2h0M370.8 182.3h0M371.7 184.4h0M372.9 205.4h0M418.8 165.3h0M377.3 197.0h0M380.3 194.2h0M414.1 165.5h0M390.4 180.6h0M390.6 183.0h0M408.1 167.6h0M374.4 194.9h0M390.9 196.3h0M410.5 179.1h0M400.7 176.7h0M384.7 189.6h0M391.8 185.3h0M381.7 206.7h0M374.6 203.0h0M382.1 189.1h0M394.8 172.5h0M389.8 182.9h0M399.8 179.3h0M382.2 207.4h0M404.7 161.3h0M375.0 200.4h0M389.7 172.9h0M380.8 203.8h0M373.8 191.0h0M401.3 176.4h0M396.3 182.0h0M421.8 169.5h0M402.8 170.5h0M394.2 188.5h0M409.0 172.0h0M400.9 185.9h0M381.7 198.6h0M372.0 204.9h0M387.6 193.8h0M364.7 200.3h0M386.4 179.1h0M387.7 197.5h0M383.3 202.7h0M414.9 171.9h0M401.6 170.4h0M417.9 178.0h0M425.9 174.7h0M413.8 165.9h0M421.7 162.0h0M424.8 172.7h0M425.8 172.1h0M404.2 170.2h0M427.9 166.0h0M420.6 160.6h0M412.3 156.4h0M422.4 161.3h0M422.6 164.2h0M414.1 167.8h0M424.7 161.1h0M392.1 184.2h0M414.2 160.0h0M408.7 160.0h0M419.9 161.9h0M423.9 180.2h0M419.4 168.7h0M419.6 175.4h0M424.8 151.2h0M428.9 150.8h0M396.4 174.0h0M422.1 161.7h0M391.6 167.7h0M374.1 202.6h0M425.9 153.7h0M419.4 175.4h0M366.3 190.2h0M424.5 158.4h0M424.1 158.5h0M384.6 184.1h0M418.0 173.9h0M418.6 171.2h0M414.2 167.3h0M429.8 155.0h0M397.4 180.9h0M422.4 174.2h0M401.6 164.3h0M419.5 184.8h0M409.3 174.9h0M410.4 183.7h0M385.6 197.3h0M404.9 174.9h0M431.0 158.5h0M421.3 170.8h0M412.8 163.3h0M409.1 173.5h0M381.1 190.6h0M413.7 179.7h0M386.0 202.5h0M378.5 198.4h0M404.9 178.4h0M399.9 185.6h0M402.6 166.5h0M376.5 198.2h0M387.4 187.2h0M404.1 167.1h0M393.0 174.6h0M386.9 192.3h0M393.8 191.2h0M418.5 173.0h0M383.6 190.1h0M414.9 167.0h0M400.6 168.7h0" stroke="#b5473b" stroke-opacity="0.55" stroke-width="2.0" stroke-linecap="square" fill="none"/>
<path d="M388.6 185.0h0M393.0 211.0h0M396.2 179.9h0M396.7 180.7h0M444.5 175.7h0M465.9 145.7h0M425.5 187.8h0M388.0 187.7h0M375.4 192.9h0M360.0 227.6h0M372.8 228.5h0M395.7 210.2h0M382.8 218.7h0M373.8 231.1h0M378.6 188.5h0M381.5 219.7h0M461.7 145.9h0M393.1 214.2h0M462.4 141.6h0M415.2 153.8h0M392.4 183.6h0M391.9 180.3h0M384.6 179.8h0M378.4 194.1h0M406.5 168.7h0M371.8 199.2h0M367.9 230.0h0M406.1 200.7h0M381.6 190.0h0M381.4 218.0h0M388.6 217.8h0M389.8 179.5h0M392.3 212.6h0M416.0 165.7h0M498.0 115.3h0M460.8 146.9h0M403.2 205.6h0M468.4 126.0h0M414.1 165.8h0M409.6 171.1h0M384.8 224.4h0M376.7 222.2h0M440.2 143.0h0M406.4 173.1h0M384.3 190.0h0M393.5 181.6h0M396.7 210.4h0M394.3 169.3h0M378.3 192.8h0M384.4 218.8h0M427.3 184.0h0M391.1 183.9h0M376.5 232.0h0M362.2 216.3h0M403.2 175.8h0M382.6 217.0h0M384.0 217.0h0M408.9 198.6h0M400.1 178.2h0M433.4 152.1h0M394.9 210.7h0M398.1 208.6h0M392.8 182.6h0M375.7 194.1h0M391.5 212.9h0M380.5 222.5h0M378.7 192.8h0M383.5 180.5h0M414.0 195.6h0M390.3 211.5h0M413.3 159.5h0M395.5 181.9h0M372.8 228.1h0M379.3 220.9h0M457.9 141.9h0M421.5 162.6h0M391.3 183.5h0M393.1 182.7h0M398.0 207.4h0M385.8 217.1h0M412.8 169.1h0M435.4 183.7h0M378.6 220.3h0M404.1 204.2h0M460.8 135.5h0M395.6 208.4h0M377.5 194.2h0M468.2 138.4h0M390.2 182.1h0M414.6 168.1h0M384.8 189.8h0M390.3 212.2h0M380.0 228.5h0M469.8 130.3h0M399.1 208.9h0M361.5 198.6h0M405.5 169.1h0M404.9 202.2h0M385.6 179.0h0M396.1 181.5h0M393.8 218.4h0M380.6 223.5h0M455.8 148.7h0M361.2 221.7h0M414.3 166.6h0M360.2 206.5h0M379.9 219.8h0M409.7 202.1h0M391.0 222.0h0M387.4 215.0h0M387.5 182.6h0M377.3 189.1h0M370.8 227.3h0M373.8 196.2h0M449.7 159.1h0M451.1 153.0h0M456.2 137.6h0M453.2 152.5h0M462.5 129.9h0M428.4 183.4h0M490.1 123.2h0M450.6 160.8h0M460.3 140.1h0M497.6 100.5h0M471.6 143.6h0M456.9 154.0h0M451.6 164.6h0M449.8 142.3h0M473.8 140.3h0M451.7 153.4h0M464.7 151.6h0M486.8 114.8h0M448.9 150.4h0M465.5 137.0h0M463.0 131.5h0M469.8 148.9h0M410.1 199.8h0M466.6 140.4h0M462.0 139.3h0M430.8 146.9h0M467.3 135.2h0M467.3 138.5h0M472.6 130.5h0M467.9 143.9h0M457.5 121.2h0M444.8 143.5h0M502.8 106.1h0M465.6 144.3h0M464.5 150.3h0M448.3 153.9h0M460.1 145.3h0M492.7 121.6h0M462.6 146.6h0M460.2 142.7h0M460.4 139.1h0M483.2 119.3h0M465.3 143.3h0M460.4 151.5h0M467.6 136.9h0M449.5 144.9h0M466.4 128.5h0M480.1 118.6h0M453.2 146.9h0M471.7 138.8h0M454.4 161.0h0M449.7 150.2h0M472.3 146.6h0M431.6 183.9h0M456.5 144.2h0M433.0 185.6h0M434.9 184.0h0M448.9 161.5h0M433.4 148.1h0M456.6 143.9h0M482.7 112.7h0M450.0 146.4h0M496.8 107.9h0M394.0 210.6h0M454.7 144.0h0M451.6 151.6h0M438.4 149.3h0M473.4 129.5h0M453.9 147.1h0M473.0 136.7h0M458.2 149.5h0M427.7 158.1h0M460.9 132.9h0M478.7 138.1h0M465.2 150.7h0M430.5 155.9h0M469.5 129.8h0M460.3 139.4h0M495.7 123.2h0M428.7 185.1h0M456.0 131.8h0M427.4 184.8h0M458.4 138.1h0M401.3 211.4h0M496.0 121.7h0M454.5 138.0h0M468.6 130.8h0M466.5 141.8h0M459.5 151.5h0M450.6 172.9h0M461.8 156.7h0M486.5 127.0h0M457.4 140.3h0M465.9 144.9h0M450.0 160.3h0M451.2 155.8h0M470.2 132.9h0M448.3 157.5h0M453.6 155.6h0M437.1 144.7h0M474.4 123.6h0M494.2 124.0h0M444.0 144.1h0M452.3 147.4h0M459.1 145.5h0M400.2 178.9h0M456.9 147.5h0M451.8 152.0h0M449.0 150.4h0M460.0 146.5h0M415.7 195.4h0M474.7 149.1h0M463.9 149.4h0M497.3 109.6h0M448.8 154.9h0M450.3 154.8h0M488.5 124.0h0M467.3 135.8h0M459.2 134.8h0M472.3 125.3h0M479.5 117.6h0M462.4 140.1h0M467.6 142.5h0M474.4 133.0h0M449.1 151.3h0M469.4 127.6h0M451.9 152.2h0M500.1 135.1h0M499.9 106.1h0M453.0 155.9h0M452.0 156.1h0M488.6 121.4h0M476.0 128.1h0M513.5 93.2h0M499.4 126.3h0M512.0 94.1h0M453.3 157.2h0M492.8 115.3h0M494.3 121.2h0M465.1 124.3h0M449.3 154.1h0M522.7 96.7h0M494.7 124.5h0M504.3 104.3h0M500.5 120.2h0M463.9 148.1h0M508.4 95.8h0M471.5 141.1h0M466.0 132.1h0M477.4 126.9h0M479.5 131.6h0M506.1 98.5h0M471.8 129.1h0M479.3 139.6h0M497.9 111.9h0M492.7 112.5h0M477.8 136.6h0M482.8 136.2h0M478.5 136.7h0M513.0 101.7h0M511.8 100.1h0M476.2 129.4h0M493.2 112.7h0M470.6 131.4h0M483.0 118.8h0M472.7 143.5h0M480.2 121.2h0M530.2 88.6h0M457.6 146.3h0M504.9 108.4h0M453.9 154.3h0M460.3 150.7h0M518.4 106.7h0M490.8 118.3h0M452.3 146.8h0M463.6 131.2h0M494.9 122.0h0M449.0 149.3h0M493.1 113.2h0M457.9 151.8h0M483.4 129.3h0M483.1 111.5h0M384.4 180.2h0M361.4 220.6h0M361.7 219.9h0M328.6 254.7h0M370.6 197.8h0M356.3 222.4h0M359.4 224.0h0M346.0 230.7h0M328.6 247.3h0M417.0 163.1h0M374.6 197.6h0M380.9 224.0h0M355.1 218.7h0M360.4 217.0h0" stroke="#78b094" stroke-opacity="0.37" stroke-width="2.0" stroke-linecap="square" fill="none"/>
<path d="M441.3 173.1h0M382.0 189.2h0M374.9 190.8h0M399.8 178.7h0M405.6 173.0h0M397.0 180.8h0M400.1 174.4h0M393.6 180.0h0M381.2 218.2h0M431.7 183.1h0M419.5 160.9h0M396.7 180.5h0M384.3 189.7h0M387.5 216.3h0M422.7 192.8h0M389.7 183.5h0M371.5 198.8h0M377.2 222.7h0M375.0 193.4h0M385.9 215.7h0M380.6 192.4h0M377.4 221.5h0M381.6 219.8h0M371.1 229.3h0M381.9 189.1h0M392.6 184.0h0M378.2 223.7h0M409.7 169.5h0M406.1 173.4h0M449.4 154.0h0M386.7 182.4h0M398.8 208.5h0M381.3 191.3h0M398.8 179.5h0M361.4 225.4h0M368.0 199.9h0M393.7 168.7h0M371.1 226.4h0M475.3 126.4h0M414.0 167.3h0M379.2 223.9h0M376.4 193.8h0M474.6 120.3h0M459.2 132.4h0M401.6 177.9h0M395.7 210.4h0M374.7 226.0h0M395.0 182.2h0M375.2 195.9h0M388.2 186.5h0M419.0 198.1h0M428.3 188.0h0M413.1 200.2h0M391.0 214.9h0M377.2 192.9h0M398.7 208.8h0M429.9 186.0h0M454.7 158.3h0M395.2 177.7h0M466.2 144.6h0M467.6 134.2h0M382.3 221.1h0M363.3 205.7h0M393.0 181.6h0M401.4 174.8h0M376.8 195.6h0M438.7 175.9h0M404.8 203.8h0M390.7 213.2h0M457.8 136.5h0M445.6 173.2h0M369.3 197.9h0M382.7 190.0h0M403.4 202.1h0M390.2 212.7h0M393.2 209.8h0M416.2 193.5h0M399.8 177.9h0M378.2 221.2h0M371.5 225.6h0M380.2 187.9h0M380.1 191.0h0M395.2 209.7h0M413.5 166.2h0M455.7 154.3h0M373.9 224.1h0M453.0 161.2h0M366.5 203.7h0M399.0 206.1h0M400.4 178.7h0M423.2 187.3h0M427.2 185.2h0M391.1 210.9h0M397.7 179.4h0M392.3 184.1h0M386.5 217.0h0M386.0 188.2h0M390.9 216.8h0M375.3 229.7h0M368.6 228.4h0M410.5 199.1h0M449.3 146.2h0M381.0 190.2h0M385.1 217.4h0M408.5 172.9h0M422.3 192.1h0M392.2 215.3h0M408.6 198.7h0M385.9 187.5h0M425.5 154.3h0M374.6 195.7h0M391.8 211.5h0M420.7 155.8h0M390.6 183.8h0M455.1 146.9h0M453.3 151.0h0M459.0 145.6h0M461.6 147.3h0M454.1 159.6h0M455.9 134.4h0M453.1 152.1h0M452.3 155.6h0M452.6 135.9h0M463.7 140.1h0M455.6 146.5h0M462.7 128.9h0M443.6 174.7h0M464.9 140.0h0M475.0 115.2h0M454.9 157.5h0M466.8 149.8h0M421.0 163.4h0M478.2 119.1h0M404.1 209.7h0M462.9 144.6h0M465.6 146.7h0M422.1 191.2h0M458.9 154.4h0M462.8 153.4h0M454.9 151.0h0M452.4 155.3h0M449.3 161.1h0M442.7 172.0h0M490.9 128.2h0M472.7 146.1h0M460.1 150.7h0M456.6 144.4h0M476.7 135.6h0M458.5 153.4h0M450.8 163.5h0M516.0 96.3h0M448.5 146.7h0M448.5 151.2h0M456.0 149.8h0M422.4 162.2h0M449.8 155.5h0M458.8 154.5h0M460.2 145.9h0M449.1 155.7h0M461.5 145.0h0M465.8 143.5h0M459.9 153.5h0M446.3 141.6h0M463.8 132.5h0M427.5 157.4h0M429.4 154.3h0M423.0 161.2h0M452.8 168.3h0M451.2 141.2h0M468.9 136.9h0M487.6 129.6h0M468.0 140.4h0M494.7 109.8h0M462.5 140.1h0M454.0 158.9h0M464.1 132.4h0M523.0 110.6h0M447.3 140.0h0M458.1 157.3h0M455.1 156.4h0M453.6 140.9h0M479.9 133.7h0M460.5 151.0h0M460.0 154.9h0M457.0 151.3h0M476.0 127.6h0M486.8 113.2h0M486.2 110.4h0M421.8 162.8h0M469.5 146.2h0M474.1 149.0h0M470.2 129.6h0M495.2 121.0h0M449.5 150.8h0M455.6 141.3h0M491.3 122.0h0M407.9 171.3h0M406.8 170.3h0M452.4 152.7h0M452.0 158.4h0M471.2 133.8h0M448.8 152.9h0M484.5 137.0h0M481.4 120.3h0M448.3 137.7h0M449.2 159.0h0M464.1 143.0h0M452.9 146.8h0M458.4 147.0h0M477.7 136.1h0M450.8 161.0h0M397.1 171.2h0M448.5 152.1h0M426.6 157.5h0M463.1 147.4h0M477.6 129.5h0M475.8 131.3h0M473.9 126.7h0M459.8 150.0h0M455.6 156.1h0M452.0 146.1h0M453.9 159.5h0M460.0 154.7h0M477.6 130.0h0M397.5 170.5h0M452.1 142.1h0M460.0 141.0h0M464.6 146.3h0M477.3 127.5h0M448.7 156.0h0M463.5 144.9h0M465.4 144.1h0M412.9 167.7h0M461.0 140.8h0M457.6 142.8h0M448.4 150.2h0M489.3 124.4h0M428.4 186.1h0M477.4 130.7h0M459.9 143.9h0M403.6 174.7h0M474.2 127.8h0M468.7 138.3h0M445.2 143.5h0M471.0 133.3h0M467.1 130.2h0M494.5 129.1h0M482.9 121.0h0M453.8 158.2h0M491.9 118.1h0M463.5 145.4h0M479.6 125.3h0M479.9 131.4h0M468.7 123.6h0M462.4 146.9h0M475.9 128.6h0M454.3 154.4h0M451.8 145.0h0M498.8 107.0h0M484.3 124.6h0M488.7 126.6h0M490.3 125.1h0M504.3 113.9h0M498.4 115.9h0M452.1 139.9h0M482.6 125.8h0M454.6 152.3h0M468.4 129.3h0M511.4 115.8h0M487.9 124.6h0M501.4 110.2h0M489.7 126.3h0M490.6 127.6h0M472.7 122.4h0M500.5 116.4h0M503.7 105.0h0M507.9 102.5h0M433.3 153.1h0M485.6 124.1h0M500.6 115.2h0M477.7 124.2h0M487.8 123.8h0M533.8 84.6h0M482.6 119.6h0M484.4 110.6h0M488.5 117.3h0M503.5 112.8h0M537.2 74.8h0M532.7 88.6h0M493.2 122.1h0M461.3 144.3h0M485.5 121.9h0M497.0 112.3h0M472.8 135.8h0M466.5 136.6h0M360.5 225.9h0M348.5 238.5h0M408.7 200.0h0M392.1 210.5h0M370.9 190.6h0M405.1 174.4h0M335.1 239.4h0M356.0 224.0h0M419.0 161.9h0M352.4 245.9h0M336.1 238.9h0M336.2 243.8h0M345.2 240.6h0M362.2 220.3h0M360.3 234.2h0" stroke="#78b094" stroke-opacity="0.37" stroke-width="2.0" stroke-linecap="square" fill="none"/>
<path d="M410.6 188.8h0M371.4 210.5h0M377.5 199.6h0M376.3 201.9h0M394.2 196.7h0M408.8 183.9h0M377.7 208.2h0M389.3 208.3h0M406.5 193.7h0M381.7 212.4h0M372.0 204.8h0M377.3 209.9h0M410.3 188.2h0M394.1 195.6h0M377.2 220.0h0M386.4 195.1h0M397.6 206.0h0M371.6 212.0h0M372.5 209.8h0M380.0 204.3h0M404.5 182.0h0M394.7 192.0h0M389.2 206.5h0M367.7 217.8h0M411.0 178.2h0M385.8 203.9h0M419.6 171.3h0M417.5 181.4h0M397.4 203.9h0M389.5 206.0h0M378.2 200.5h0M376.6 206.5h0M384.4 198.7h0M390.1 208.0h0M421.3 186.4h0M387.2 199.4h0M385.4 199.1h0M390.8 194.3h0M391.8 190.0h0M388.1 204.8h0M404.6 187.5h0M411.1 190.3h0M394.1 199.5h0M410.4 181.7h0M400.9 202.5h0M377.4 213.8h0M376.7 208.0h0M383.0 204.9h0M378.6 207.4h0M377.9 197.8h0M371.9 221.5h0M394.0 192.7h0M387.7 204.5h0M391.9 194.0h0M370.6 222.8h0M390.5 203.3h0M385.8 203.2h0M386.7 205.3h0M397.9 190.2h0M390.1 200.0h0M372.6 206.7h0M401.7 200.6h0M372.3 212.5h0M403.1 182.8h0M389.7 206.8h0M374.8 210.5h0M386.3 202.0h0M380.7 215.5h0M406.4 176.7h0M380.5 198.8h0M401.1 179.6h0M379.0 194.3h0M387.6 210.0h0M383.1 203.1h0M409.9 184.8h0M409.5 180.7h0M376.0 200.3h0M364.6 226.2h0M415.3 176.1h0M370.8 217.4h0M421.6 169.1h0M379.7 218.8h0M407.5 180.8h0M376.1 211.1h0M400.3 197.5h0M397.5 198.5h0M382.6 201.3h0M388.9 206.6h0M382.3 199.7h0M372.1 212.0h0M401.3 189.8h0M397.6 194.6h0M394.3 197.6h0M373.4 213.7h0M374.4 211.0h0M407.4 191.1h0M411.2 184.2h0M395.5 198.5h0M369.9 217.1h0M404.3 182.8h0M384.5 198.2h0M386.5 199.5h0M414.0 180.5h0M383.6 207.1h0M388.3 203.9h0M367.8 213.0h0M371.1 221.2h0M400.1 197.4h0M391.5 199.8h0M379.9 210.0h0M389.5 188.4h0M393.0 185.4h0M365.1 206.0h0M400.1 197.7h0M428.5 163.9h0M379.0 205.3h0M389.8 198.8h0M446.6 150.3h0M422.0 167.0h0M394.3 192.7h0M407.0 181.4h0M371.0 224.2h0M374.8 205.1h0M393.1 194.8h0M378.5 197.2h0M381.8 201.6h0M423.8 172.5h0M385.9 203.1h0M381.7 210.2h0M421.2 177.9h0M426.5 183.2h0M375.9 216.0h0M442.4 168.3h0M394.6 199.7h0M397.9 200.3h0M389.9 203.6h0M406.7 175.8h0M363.6 223.4h0M406.5 188.7h0M369.7 210.8h0M430.5 171.4h0M397.9 189.6h0M391.2 201.4h0M373.7 207.0h0M413.3 185.8h0M388.5 191.9h0M372.7 202.6h0M371.4 210.1h0M406.8 186.2h0M379.9 216.8h0M386.6 208.7h0M390.9 190.2h0M387.9 210.6h0M389.8 196.8h0M398.0 203.8h0M379.6 218.1h0M378.2 211.0h0M387.9 200.3h0M376.7 211.1h0M397.1 196.5h0M384.8 194.8h0M388.2 197.9h0M392.7 186.1h0M366.5 217.3h0M386.7 194.0h0M377.6 210.9h0M408.2 178.2h0M389.2 203.7h0M409.1 191.0h0M430.7 159.6h0M392.9 190.8h0M369.7 216.6h0M411.1 188.4h0M387.9 191.9h0M430.3 181.3h0M415.0 185.9h0M412.4 179.2h0M389.0 194.6h0M383.5 199.5h0M369.8 212.6h0M387.3 193.4h0M384.5 208.3h0M374.8 204.3h0M407.5 188.0h0M397.5 201.2h0M368.5 208.2h0M372.5 216.9h0M398.2 198.6h0M417.1 180.7h0M407.7 190.4h0M390.7 199.6h0M423.1 163.9h0M386.2 199.0h0M376.0 209.4h0M379.5 214.0h0M382.2 207.3h0M443.8 168.2h0M392.3 201.4h0M411.6 175.5h0M379.1 211.8h0M393.3 189.9h0M403.5 201.0h0M425.1 174.8h0M444.6 159.0h0M386.9 199.8h0M390.3 201.8h0M419.4 173.9h0M395.5 195.0h0M382.6 209.9h0M385.4 202.7h0M387.7 196.5h0M393.8 189.6h0M380.3 208.7h0M365.6 218.9h0M395.5 203.2h0M387.9 198.6h0M384.2 213.6h0M400.4 187.6h0M407.3 186.4h0M391.5 201.8h0M407.8 184.7h0M369.9 211.6h0M373.9 206.5h0M391.2 203.0h0M394.2 184.3h0M377.8 205.0h0M395.2 195.4h0M391.5 193.2h0M411.8 193.8h0M394.6 197.2h0M383.2 202.7h0M409.4 186.7h0M402.8 179.2h0M391.8 189.4h0M390.7 201.0h0M371.5 214.7h0M397.4 185.9h0M384.2 209.5h0M403.2 188.2h0M414.0 185.0h0M388.9 202.2h0M371.2 206.4h0M411.3 186.8h0M398.5 205.5h0M367.6 222.8h0M420.2 182.1h0M397.7 198.4h0M363.1 209.9h0M395.0 199.3h0M377.9 211.9h0M378.4 212.1h0M385.5 204.2h0M379.7 205.6h0M376.6 212.5h0M417.5 179.7h0M420.1 185.3h0M397.0 187.5h0M385.5 195.4h0M443.1 167.7h0M415.6 190.1h0M407.6 191.8h0M390.3 196.1h0M407.0 199.4h0M395.6 189.8h0M381.4 211.7h0M386.1 195.8h0M404.6 193.0h0M403.6 196.4h0M378.2 197.6h0M406.4 181.1h0M398.2 190.7h0M386.7 201.3h0M381.8 205.4h0M392.2 198.4h0M431.4 162.9h0M402.2 183.3h0M382.3 210.6h0M398.4 203.4h0M392.5 185.8h0M406.7 186.4h0M388.7 201.1h0M411.5 191.0h0M373.7 200.8h0M411.8 176.1h0M383.5 208.4h0M390.0 198.3h0M420.0 176.5h0M386.2 190.8h0M422.2 169.1h0M392.9 189.0h0M430.0 177.5h0M392.3 195.5h0M378.1 210.2h0M394.4 199.3h0M442.1 166.0h0M397.8 196.3h0M425.3 183.7h0M404.7 192.0h0M377.5 218.5h0M375.8 199.6h0M394.0 192.3h0M384.1 206.9h0M414.2 181.9h0M382.5 198.6h0M396.3 182.4h0M424.6 177.5h0M382.5 214.9h0M378.9 204.4h0M373.0 199.1h0M408.8 190.0h0M441.8 152.0h0M375.6 211.1h0M410.2 182.1h0M380.1 199.4h0M401.1 193.6h0M370.6 208.3h0M403.5 197.4h0M389.9 197.6h0M402.9 201.9h0M370.4 210.9h0M377.1 220.7h0M397.3 188.8h0M391.0 197.6h0M383.4 201.4h0M374.3 211.6h0M390.3 209.0h0M392.2 194.8h0M398.5 191.4h0M385.5 192.3h0M379.6 208.5h0M387.2 200.3h0M403.1 183.6h0M379.2 215.6h0M409.8 185.4h0M400.5 201.7h0M386.1 199.7h0M420.9 169.1h0M406.3 192.2h0M412.9 195.3h0M395.5 203.0h0M364.4 220.3h0M403.9 185.0h0M379.3 196.9h0M403.3 201.5h0M402.6 190.8h0M365.4 217.1h0M387.5 198.2h0M380.6 207.8h0M383.6 211.6h0M374.0 214.4h0M377.2 208.6h0M374.1 222.4h0M400.1 186.9h0M380.3 213.0h0M394.9 198.3h0M380.2 203.9h0M386.7 202.3h0M406.4 191.1h0M376.4 205.1h0M390.9 199.8h0M417.1 172.5h0M377.1 213.0h0M408.8 187.4h0M396.0 187.3h0M405.5 183.8h0M368.8 215.5h0M372.8 214.2h0M391.6 190.8h0M378.4 204.3h0M397.7 204.5h0M410.3 190.7h0M399.6 202.8h0M397.5 196.1h0M384.4 193.9h0M390.5 201.1h0M394.3 186.9h0M380.3 212.4h0M385.0 214.1h0M399.5 185.1h0M389.4 196.6h0M382.2 196.9h0M382.0 195.1h0M411.4 180.7h0M375.3 215.4h0M391.7 195.3h0M382.0 197.4h0M414.9 182.7h0M378.8 201.3h0M396.1 198.5h0M375.0 208.0h0M387.7 205.7h0M426.6 166.5h0M376.5 210.5h0M367.0 221.8h0M381.3 202.5h0M374.2 216.9h0M407.5 185.7h0M414.3 176.4h0M379.1 204.3h0M402.7 186.4h0M380.4 196.6h0M403.2 195.3h0M401.2 196.8h0M390.0 199.4h0M398.8 192.8h0M370.1 214.0h0M379.8 208.3h0M369.7 219.8h0M395.2 188.5h0M376.6 215.3h0M375.0 211.3h0M380.4 203.4h0M392.8 203.1h0M401.3 180.9h0M392.1 199.6h0M420.3 179.0h0M379.9 206.3h0M369.5 212.6h0M402.7 185.7h0M399.5 192.1h0M388.6 201.0h0M376.5 212.6h0M399.3 192.8h0M388.7 206.2h0M378.1 201.5h0M432.0 172.9h0M387.6 201.7h0M382.8 215.7h0M377.8 198.0h0M402.8 194.2h0M384.1 203.9h0M392.3 193.7h0M372.8 213.7h0M383.3 200.5h0M389.4 204.2h0M393.7 201.3h0M405.7 191.6h0M432.5 162.5h0M417.3 178.3h0M379.6 208.6h0M382.3 202.5h0M385.6 199.4h0M381.3 204.6h0M402.7 199.1h0M388.0 194.0h0M385.1 193.3h0M397.6 203.0h0M403.0 191.3h0M416.9 184.8h0M390.1 194.0h0M386.6 191.3h0M400.0 188.2h0M398.6 186.1h0M414.2 187.6h0M442.1 153.7h0M370.1 222.3h0M381.0 204.8h0M380.2 209.9h0M378.2 212.6h0M380.9 201.2h0M388.6 196.2h0M398.1 194.2h0M413.9 187.6h0M383.1 199.9h0M399.7 189.2h0M385.6 205.2h0M397.6 189.7h0M380.5 206.9h0M419.5 189.2h0M377.8 203.8h0M391.7 204.4h0M399.0 190.5h0M403.1 177.7h0M393.2 199.7h0M382.2 202.2h0M430.1 160.6h0M382.9 199.5h0M391.9 194.1h0M403.3 194.1h0M387.0 191.5h0M398.9 195.2h0M386.7 197.9h0M391.3 198.1h0M427.4 170.1h0M391.1 187.5h0M434.4 161.5h0M426.7 161.7h0M399.5 190.8h0M431.3 170.9h0M395.3 195.4h0M427.6 164.4h0M409.3 181.8h0M405.7 179.7h0M383.4 208.1h0M428.5 179.0h0M383.8 204.2h0M382.1 193.2h0M411.8 181.9h0M383.7 210.0h0M431.7 179.4h0M426.6 172.9h0M428.5 177.6h0M415.7 175.3h0M413.6 192.2h0M401.6 187.8h0M437.0 159.6h0M428.0 179.1h0M437.5 172.4h0M434.2 173.6h0M444.0 154.8h0M405.0 189.1h0M443.7 153.4h0M422.2 166.3h0M399.4 191.0h0M401.0 187.3h0M433.1 172.4h0M437.9 163.4h0M396.9 199.3h0M437.4 163.9h0M424.3 163.8h0M414.4 171.9h0M425.8 177.5h0M415.8 178.8h0M440.1 154.6h0M424.0 173.6h0M447.7 160.8h0M432.7 170.3h0M437.0 173.3h0M423.3 184.1h0M425.6 178.6h0M444.9 162.2h0M432.0 165.7h0M407.0 188.9h0M448.0 161.5h0M396.7 182.4h0M425.1 184.2h0M442.9 159.9h0M378.4 202.9h0M422.6 172.7h0M442.1 153.5h0M408.1 182.0h0M386.5 207.3h0M424.9 180.4h0M398.3 191.0h0M392.0 198.8h0M440.5 160.5h0M414.6 169.5h0M393.4 199.5h0M412.3 186.0h0M412.1 174.3h0M431.2 160.5h0M428.4 171.5h0M435.7 167.4h0M420.4 171.1h0M439.0 163.6h0M420.5 178.1h0M444.9 151.8h0M429.2 170.3h0M429.2 169.3h0M427.8 161.6h0M435.0 156.2h0M416.1 176.3h0M420.7 170.3h0M441.1 160.0h0M428.2 168.4h0M440.9 156.3h0M442.0 152.8h0M418.9 178.5h0M444.8 169.9h0M447.7 151.0h0M439.7 163.1h0M432.0 165.7h0M440.4 161.4h0M378.1 210.0h0M382.1 206.2h0M406.3 183.1h0M414.4 183.6h0M390.1 190.1h0M420.5 175.7h0M377.5 197.4h0M396.6 195.1h0M365.9 214.1h0M384.2 211.5h0M410.2 177.8h0M393.8 192.7h0M441.3 160.7h0M407.4 199.0h0M411.5 193.6h0M392.7 203.9h0M388.9 204.1h0M390.6 189.0h0M401.0 196.1h0M394.3 199.5h0M362.8 222.4h0M403.0 196.7h0" stroke="#78b094" stroke-opacity="0.62" stroke-width="2.0" stroke-linecap="square" fill="none"/>
<path d="M371.6 216.1h0M375.5 214.0h0M382.4 197.5h0M375.8 196.7h0M401.6 189.8h0M383.6 195.6h0M391.9 198.2h0M377.3 219.2h0M397.2 188.6h0M398.2 185.2h0M399.5 196.6h0M379.7 204.0h0M388.4 193.4h0M386.6 193.0h0M390.1 210.3h0M394.2 189.4h0M423.2 175.2h0M377.0 211.8h0M388.0 209.3h0M395.1 200.0h0M390.3 200.2h0M402.9 188.0h0M421.8 169.5h0M388.7 189.0h0M407.2 189.4h0M402.2 187.2h0M383.1 199.1h0M383.4 201.0h0M385.5 207.3h0M391.4 191.2h0M387.6 204.4h0M382.5 199.9h0M409.1 190.4h0M368.3 208.5h0M377.6 206.8h0M378.0 205.1h0M392.1 193.1h0M381.2 208.9h0M390.4 198.0h0M398.8 195.2h0M413.0 184.1h0M387.0 205.1h0M405.5 187.4h0M379.4 211.2h0M390.4 205.9h0M398.3 198.8h0M395.7 200.0h0M387.3 192.0h0M388.8 195.1h0M434.5 167.7h0M412.2 170.9h0M410.8 183.5h0M376.4 209.2h0M427.7 172.9h0M391.3 190.2h0M393.4 188.3h0M426.9 182.8h0M425.6 170.1h0M414.4 183.0h0M410.4 180.1h0M379.5 209.1h0M389.6 196.1h0M406.3 190.3h0M393.3 189.5h0M367.1 213.6h0M385.8 191.2h0M389.5 186.7h0M372.9 220.5h0M371.8 217.8h0M385.6 195.3h0M388.5 204.7h0M373.6 208.2h0M388.0 197.5h0M400.5 186.2h0M391.2 192.1h0M412.8 186.4h0M393.3 196.4h0M417.6 182.6h0M389.1 201.8h0M378.2 207.3h0M385.4 199.6h0M394.6 192.0h0M394.3 198.1h0M410.1 174.6h0M378.3 210.5h0M400.1 194.1h0M420.5 175.9h0M386.3 205.3h0M410.6 187.7h0M402.2 189.1h0M374.3 201.0h0M392.0 206.3h0M377.6 215.4h0M379.9 207.4h0M383.9 210.2h0M390.9 200.4h0M392.9 198.9h0M370.6 208.7h0M375.3 211.8h0M386.8 205.2h0M403.3 195.2h0M384.7 206.3h0M371.9 213.3h0M381.8 197.8h0M395.8 195.1h0M397.5 182.8h0M424.0 176.8h0M425.7 174.0h0M400.1 185.7h0M410.6 175.4h0M371.3 212.4h0M392.6 186.0h0M398.2 198.0h0M400.8 194.1h0M398.1 185.5h0M434.0 165.0h0M397.8 188.0h0M398.8 195.2h0M440.5 155.5h0M410.0 178.1h0M396.4 197.6h0M392.5 203.1h0M373.2 209.8h0M366.7 228.1h0M384.3 204.6h0M388.9 188.3h0M398.9 183.1h0M386.6 195.3h0M372.3 201.2h0M402.1 186.8h0M432.1 171.7h0M397.2 197.2h0M391.6 200.4h0M387.5 195.9h0M395.5 193.4h0M391.2 196.6h0M381.3 210.3h0M441.4 156.2h0M409.8 190.4h0M381.1 199.1h0M388.1 206.2h0M369.6 202.1h0M395.8 197.1h0M389.1 209.0h0M378.4 214.4h0M372.8 223.5h0M377.5 215.3h0M398.3 197.9h0M398.0 197.2h0M367.1 219.0h0M372.2 209.2h0M396.1 197.9h0M364.2 214.0h0M392.6 197.5h0M411.5 178.2h0M379.4 199.8h0M397.7 191.0h0M375.2 204.5h0M382.0 198.9h0M377.7 212.1h0M391.9 205.2h0M379.0 210.3h0M407.7 190.0h0M406.5 189.5h0M436.5 158.9h0M396.4 199.5h0M424.6 176.3h0M413.5 181.3h0M388.8 191.5h0M397.5 187.0h0M406.5 185.9h0M401.2 182.2h0M390.3 192.2h0M419.0 182.9h0M371.3 211.0h0M382.6 204.5h0M371.2 218.7h0M386.2 202.5h0M391.9 204.4h0M364.9 210.6h0M382.4 196.5h0M416.4 182.1h0M416.5 178.8h0M409.6 181.0h0M427.8 165.1h0M391.4 208.7h0M384.6 209.4h0M383.3 214.8h0M389.5 197.1h0M398.2 200.9h0M377.2 204.9h0M405.6 183.7h0M419.3 174.8h0M416.1 188.3h0M396.2 198.3h0M411.2 193.9h0M385.9 198.4h0M405.4 187.0h0M420.3 183.7h0M422.0 178.4h0M403.3 187.3h0M374.0 220.5h0M389.3 196.0h0M384.4 196.5h0M367.5 221.4h0M381.2 204.9h0M379.6 202.6h0M398.4 203.3h0M376.8 203.0h0M383.1 210.9h0M371.9 213.7h0M377.3 206.5h0M384.3 204.6h0M378.4 213.0h0M411.3 187.5h0M376.7 205.5h0M396.1 195.4h0M380.9 202.4h0M393.0 189.3h0M378.0 202.8h0M396.4 191.6h0M371.1 203.7h0M390.9 199.5h0M386.2 207.4h0M370.4 214.2h0M445.0 154.6h0M404.1 177.2h0M375.7 209.0h0M395.1 184.1h0M370.5 212.8h0M392.9 192.8h0M424.4 169.3h0M368.4 221.6h0M387.5 199.8h0M414.9 179.3h0M419.4 171.6h0M390.3 211.3h0M392.2 201.7h0M371.0 208.0h0M439.7 161.8h0M392.6 207.8h0M380.0 216.9h0M372.2 208.8h0M414.4 190.9h0M390.3 194.2h0M384.5 202.8h0M368.9 210.4h0M380.2 213.6h0M386.1 204.0h0M419.3 186.0h0M389.0 200.0h0M398.5 184.8h0M395.2 189.0h0M404.0 194.0h0M397.2 187.5h0M381.9 197.0h0M388.3 197.9h0M397.5 202.7h0M395.6 202.0h0M390.1 190.6h0M374.4 215.0h0M374.0 209.4h0M412.5 184.0h0M365.6 216.1h0M392.5 198.4h0M393.1 199.4h0M366.8 224.8h0M396.8 190.8h0M402.4 196.8h0M389.1 193.1h0M383.8 201.1h0M369.9 209.9h0M395.9 190.2h0M372.8 211.8h0M398.1 189.0h0M387.3 195.8h0M424.7 172.8h0M372.7 215.0h0M423.2 166.9h0M389.1 200.9h0M381.1 196.2h0M380.1 211.3h0M390.6 201.5h0M414.5 181.2h0M419.0 176.0h0M385.7 199.6h0M376.5 202.6h0M391.4 189.3h0M402.8 190.1h0M425.2 178.1h0M380.3 198.2h0M418.2 180.6h0M420.7 172.7h0M404.7 179.8h0M425.6 166.3h0M373.2 222.0h0M373.7 220.1h0M375.4 212.5h0M385.1 207.0h0M388.7 198.4h0M389.5 203.0h0M382.6 196.4h0M385.5 193.3h0M416.2 183.7h0M383.4 206.2h0M378.4 204.2h0M381.8 200.7h0M411.0 179.5h0M391.9 199.7h0M376.9 206.1h0M370.0 208.5h0M413.2 186.1h0M392.6 195.6h0M389.8 200.8h0M438.3 164.2h0M387.2 198.0h0M398.9 187.9h0M401.7 179.8h0M401.8 181.5h0M404.0 190.1h0M391.9 194.2h0M388.0 196.8h0M394.9 200.5h0M373.7 218.1h0M375.9 201.6h0M393.5 189.7h0M382.1 197.9h0M375.9 207.4h0M387.6 211.1h0M379.1 209.4h0M413.0 184.4h0M394.9 198.2h0M377.5 213.1h0M408.0 196.9h0M379.1 195.5h0M378.8 200.9h0M409.0 175.8h0M370.5 220.7h0M384.3 214.4h0M401.5 187.4h0M393.8 199.9h0M377.6 211.6h0M399.8 196.4h0M379.9 211.0h0M390.0 200.1h0M386.7 199.0h0M374.9 211.3h0M371.0 222.6h0M386.3 201.1h0M382.1 195.3h0M394.4 188.3h0M404.7 191.7h0M395.6 188.7h0M396.9 191.9h0M404.4 192.4h0M402.6 186.5h0M392.9 186.7h0M389.2 211.2h0M383.6 196.8h0M384.2 199.8h0M376.0 207.6h0M367.7 211.3h0M376.2 201.6h0M404.8 187.3h0M393.3 199.1h0M380.8 204.7h0M409.6 184.0h0M386.0 212.5h0M419.3 180.5h0M406.0 183.1h0M389.4 206.4h0M397.6 199.1h0M382.7 216.3h0M389.0 200.8h0M383.7 198.3h0M393.7 200.9h0M401.5 185.4h0M434.5 161.9h0M390.2 192.7h0M384.8 202.2h0M380.2 209.0h0M362.8 215.1h0M375.2 222.4h0M380.2 203.9h0M388.2 201.2h0M374.7 215.7h0M377.7 213.6h0M398.4 192.5h0M393.9 187.9h0M401.8 185.9h0M363.4 212.5h0M392.2 205.3h0M410.6 191.1h0M384.8 204.0h0M415.7 189.1h0M392.7 196.1h0M376.5 218.0h0M392.7 190.4h0M378.5 206.4h0M394.0 195.4h0M421.2 183.5h0M390.7 210.9h0M408.2 194.8h0M400.5 194.1h0M386.8 199.5h0M385.6 199.2h0M411.1 180.0h0M403.3 192.1h0M383.9 207.3h0M411.4 176.9h0M383.3 210.0h0M392.4 203.2h0M375.7 213.6h0M368.6 203.3h0M404.5 181.9h0M424.1 173.0h0M391.0 196.5h0M374.7 208.8h0M382.0 207.6h0M370.6 204.2h0M385.2 191.7h0M383.4 202.6h0M417.4 182.9h0M403.1 192.8h0M408.8 191.7h0M381.3 202.5h0M388.5 195.4h0M437.6 156.9h0M420.0 169.0h0M378.3 195.2h0M404.8 191.3h0M402.5 187.9h0M407.4 184.1h0M372.5 215.9h0M376.4 218.7h0M373.5 204.3h0M396.7 194.3h0M406.3 182.5h0M374.0 200.4h0M422.6 179.7h0M368.2 216.5h0M371.7 216.1h0M391.0 186.6h0M395.3 187.5h0M415.9 178.0h0M399.1 189.9h0M378.9 202.5h0M391.0 197.1h0M386.8 200.8h0M379.9 211.7h0M402.2 186.6h0M380.2 209.2h0M413.1 189.3h0M375.4 217.3h0M445.2 144.9h0M367.7 215.4h0M411.7 180.8h0M401.7 199.9h0M405.7 192.4h0M383.5 199.8h0M369.8 205.0h0M378.0 203.2h0M381.9 211.2h0M381.3 202.4h0M408.9 184.6h0M408.9 180.2h0M385.0 202.4h0M426.6 160.7h0M403.9 190.9h0M392.1 185.9h0M388.2 197.1h0M366.5 214.2h0M386.7 206.0h0M392.9 202.0h0M380.1 204.3h0M424.3 169.1h0M386.1 199.1h0M408.9 192.4h0M415.5 190.4h0M394.5 200.8h0M393.7 200.7h0M375.8 204.1h0M389.9 195.5h0M417.5 178.3h0M445.4 149.8h0M429.9 173.6h0M416.0 178.1h0M422.1 179.4h0M434.2 178.1h0M445.7 160.4h0M430.6 170.6h0M434.3 163.3h0M429.6 171.7h0M418.4 185.5h0M434.8 157.2h0M414.9 184.5h0M389.5 196.2h0M437.3 161.1h0M442.9 158.8h0M414.6 172.3h0M436.3 157.9h0M447.3 161.9h0M440.0 163.0h0M409.2 188.0h0M407.9 191.9h0M399.7 191.9h0M412.6 190.1h0M403.7 190.6h0M429.1 180.3h0M433.6 164.8h0M405.6 181.1h0M439.7 163.8h0M428.1 172.7h0M435.2 161.9h0M421.7 174.7h0M441.0 158.5h0M444.4 153.7h0M438.2 164.1h0M411.6 178.1h0M434.4 172.7h0M426.2 177.6h0M434.4 168.3h0M444.4 161.8h0M419.9 171.6h0M434.7 167.9h0M430.0 158.9h0M426.2 178.0h0M428.9 174.0h0M426.8 174.9h0M401.9 198.6h0M404.4 179.5h0M447.9 162.7h0M432.9 174.7h0M409.0 178.5h0M437.6 169.0h0M399.6 192.3h0M443.6 161.0h0M423.4 178.5h0M436.5 165.3h0M438.2 152.6h0M427.5 168.5h0M428.8 182.4h0M415.0 168.9h0M442.0 155.7h0M406.5 183.1h0M424.2 173.1h0M434.6 161.9h0M430.6 177.6h0M407.5 184.8h0M440.6 161.7h0M425.7 168.3h0M422.5 172.4h0M381.9 198.5h0M405.2 182.6h0M382.2 201.7h0M428.2 162.2h0M394.7 193.3h0M435.6 160.3h0M428.3 175.4h0M364.8 217.4h0M436.3 169.0h0M437.4 154.1h0M426.2 169.4h0M434.2 158.4h0M390.6 186.9h0M433.4 168.3h0M429.2 167.2h0M443.9 155.8h0M440.8 168.8h0M425.1 176.2h0M439.5 159.1h0M432.4 175.1h0M381.6 217.3h0M434.0 161.5h0M382.6 194.5h0M410.5 191.5h0M415.3 181.1h0M371.2 219.3h0M383.3 194.4h0M394.0 188.8h0M443.4 164.9h0M377.3 209.7h0M427.7 177.9h0M383.9 200.4h0M407.2 184.0h0M379.7 205.4h0M385.4 202.8h0M370.7 220.8h0M412.9 177.0h0M390.5 205.0h0M368.2 222.0h0M411.8 172.4h0M362.8 219.5h0M367.1 204.8h0M395.9 187.5h0" stroke="#78b094" stroke-opacity="0.62" stroke-width="2.0" stroke-linecap="square" fill="none"/>
<path d="M390.0 205.2h0M386.9 201.9h0M379.5 205.4h0M408.2 195.4h0M401.8 200.9h0M378.9 207.4h0M387.2 207.7h0M398.7 191.4h0M371.1 206.2h0M415.9 178.2h0M373.5 207.0h0M411.5 174.3h0M386.0 204.6h0M383.1 205.8h0M378.1 203.6h0M406.3 191.4h0M384.7 209.6h0M405.2 186.8h0M371.7 220.5h0M405.3 177.3h0M386.0 196.3h0M380.5 216.2h0M376.7 212.8h0M368.4 212.3h0M392.9 200.0h0M428.7 172.9h0M388.7 196.4h0M406.7 193.8h0M410.6 178.7h0M385.3 198.5h0M394.8 200.1h0M386.4 202.8h0M425.6 172.6h0M383.7 193.3h0M376.8 211.7h0M393.4 193.9h0M403.0 201.9h0M389.1 189.9h0M378.1 206.4h0M388.1 203.8h0M374.3 210.1h0M381.9 196.5h0M367.2 216.5h0M376.5 207.1h0M391.5 198.1h0M389.5 208.2h0M370.5 218.4h0M416.1 181.6h0M407.3 195.0h0M383.5 198.0h0M402.7 181.5h0M392.4 192.2h0M402.0 192.3h0M407.7 182.4h0M429.3 160.7h0M417.2 176.6h0M399.3 191.1h0M417.2 178.3h0M388.1 212.1h0M440.6 148.1h0M381.0 197.2h0M385.1 195.0h0M369.9 208.2h0M403.0 183.2h0M430.4 169.0h0M371.6 213.5h0M391.7 191.9h0M396.9 190.3h0M390.3 190.2h0M380.8 209.3h0M382.3 215.4h0M383.6 194.9h0M391.7 208.0h0M382.5 201.2h0M407.6 184.4h0M382.3 209.7h0M417.8 179.9h0M389.9 196.9h0M380.9 204.2h0M375.1 209.4h0M404.5 191.6h0M366.8 204.1h0M379.7 209.5h0M378.4 209.0h0M394.2 199.2h0M397.9 200.5h0M381.6 201.0h0M385.2 206.6h0M395.8 199.2h0M396.5 201.2h0M420.6 176.8h0M422.1 169.1h0M414.4 189.4h0M397.2 190.2h0M389.8 188.8h0M389.4 194.5h0M395.0 183.5h0M368.8 204.2h0M410.4 182.6h0M393.2 203.3h0M394.5 197.5h0M404.5 192.9h0M389.6 199.4h0M386.6 201.9h0M387.9 201.6h0M384.4 196.3h0M381.2 204.9h0M394.3 195.0h0M380.9 198.5h0M388.7 196.5h0M413.8 170.5h0M391.3 196.1h0M396.4 196.4h0M411.3 187.0h0M394.4 203.1h0M392.4 205.2h0M381.7 212.4h0M446.0 153.1h0M388.4 188.4h0M407.7 192.3h0M409.5 195.3h0M382.3 214.1h0M375.4 213.2h0M428.8 168.4h0M385.9 191.4h0M376.8 212.6h0M381.0 207.7h0M444.2 156.1h0M381.1 212.9h0M382.3 209.1h0M394.2 187.7h0M379.2 200.5h0M410.7 195.6h0M380.4 211.4h0M412.3 185.7h0M440.7 164.3h0M392.7 198.4h0M377.5 210.5h0M413.8 192.8h0M377.9 210.4h0M385.5 210.4h0M377.6 206.3h0M389.0 200.2h0M375.5 221.4h0M400.3 192.7h0M407.0 180.3h0M378.5 201.0h0M419.1 175.6h0M440.9 155.3h0M399.1 193.4h0M382.9 211.2h0M383.6 209.3h0M368.2 217.5h0M399.0 202.7h0M386.5 199.9h0M387.7 205.9h0M404.6 189.7h0M409.2 182.1h0M386.0 195.6h0M391.1 202.4h0M382.4 197.0h0M369.5 212.9h0M383.4 198.8h0M380.2 204.6h0M409.9 175.1h0M412.5 176.1h0M390.9 205.1h0M403.5 190.8h0M400.8 198.0h0M411.1 180.2h0M403.9 183.9h0M431.1 174.8h0M371.0 214.3h0M380.4 207.8h0M386.1 202.8h0M388.7 195.3h0M393.6 206.1h0M386.4 201.9h0M401.7 195.5h0M379.1 199.1h0M397.5 185.2h0M369.5 222.6h0M422.1 167.6h0M445.2 161.0h0M406.2 192.8h0M374.5 215.3h0M376.7 216.2h0M398.9 180.0h0M423.0 174.6h0M421.3 176.0h0M398.9 185.3h0M371.8 210.8h0M393.5 198.7h0M389.6 197.2h0M415.4 171.7h0M380.1 198.2h0M378.3 209.2h0M392.2 189.5h0M377.8 201.9h0M383.9 204.4h0M420.4 176.1h0M396.9 192.4h0M399.9 193.7h0M388.7 209.5h0M430.7 166.6h0M420.1 175.3h0M381.3 209.1h0M384.9 206.9h0M377.0 207.9h0M413.0 172.5h0M373.1 206.3h0M390.6 195.0h0M394.3 196.4h0M380.3 213.4h0M383.6 195.3h0M403.8 191.3h0M379.0 203.3h0M390.6 201.1h0M395.0 189.2h0M385.8 202.0h0M406.8 183.6h0M402.8 190.3h0M390.6 188.1h0M366.9 208.8h0M399.9 198.2h0M377.3 208.5h0M393.9 208.8h0M412.8 182.1h0M383.3 205.5h0M400.9 194.2h0M379.0 211.6h0M398.7 194.9h0M368.1 210.4h0M426.8 162.3h0M384.8 198.7h0M364.7 218.3h0M387.2 192.5h0M410.8 183.3h0M393.6 200.8h0M397.3 190.7h0M417.4 176.2h0M389.7 196.7h0M380.7 200.9h0M423.3 178.1h0M394.5 193.1h0M409.8 178.8h0M378.2 219.7h0M393.7 202.2h0M386.4 190.5h0M402.4 193.4h0M392.5 200.5h0M391.1 193.1h0M418.6 174.4h0M384.9 202.7h0M421.1 164.4h0M397.1 184.9h0M394.7 187.6h0M403.8 192.8h0M391.0 189.8h0M394.3 190.8h0M417.4 180.9h0M411.1 176.7h0M372.2 213.4h0M442.5 167.5h0M366.7 205.5h0M374.9 213.6h0M385.9 198.8h0M368.7 224.0h0M368.5 209.0h0M368.4 216.6h0M387.8 197.0h0M434.8 166.1h0M394.2 200.7h0M382.6 203.5h0M378.8 209.6h0M417.4 183.0h0M373.5 209.4h0M401.2 202.5h0M383.8 200.0h0M371.3 214.9h0M402.5 179.9h0M381.2 197.3h0M398.5 199.2h0M387.5 202.8h0M378.3 207.4h0M374.8 205.4h0M374.7 210.3h0M386.7 188.9h0M395.6 188.2h0M389.7 202.6h0M394.0 200.7h0M364.2 217.3h0M401.1 186.9h0M434.3 161.9h0M411.4 179.7h0M380.3 197.0h0M429.8 168.3h0M421.1 173.8h0M385.1 208.1h0M391.1 206.1h0M369.5 209.9h0M372.5 208.1h0M398.9 197.3h0M422.4 181.8h0M394.6 190.2h0M392.8 205.3h0M434.3 161.7h0M388.1 203.3h0M439.7 162.6h0M394.0 201.1h0M376.8 199.5h0M405.3 180.3h0M383.7 201.1h0M380.5 196.2h0M391.3 203.1h0M395.6 203.5h0M374.6 203.4h0M441.3 169.0h0M408.2 194.9h0M391.5 201.6h0M439.4 166.3h0M401.2 198.2h0M405.8 191.5h0M381.8 209.9h0M390.0 194.5h0M378.8 212.2h0M388.1 200.8h0M390.8 193.1h0M375.1 205.3h0M379.7 209.8h0M407.9 186.0h0M383.8 209.2h0M387.6 202.9h0M388.4 211.4h0M425.6 174.4h0M385.8 201.9h0M418.2 188.3h0M405.7 183.9h0M373.9 208.4h0M385.9 202.0h0M380.5 194.9h0M392.7 194.1h0M386.7 194.6h0M381.2 216.3h0M402.3 195.2h0M386.1 212.6h0M402.3 192.4h0M370.3 219.4h0M422.8 177.9h0M384.7 207.9h0M380.4 212.8h0M377.6 201.7h0M399.8 200.1h0M379.7 201.1h0M382.3 193.9h0M400.6 185.4h0M390.9 208.5h0M412.9 187.9h0M383.9 203.3h0M432.9 165.3h0M383.3 204.0h0M413.5 186.1h0M416.9 179.5h0M405.7 186.3h0M368.5 212.9h0M397.1 205.9h0M390.8 191.5h0M392.0 202.1h0M393.4 194.9h0M384.8 208.2h0M416.4 180.0h0M392.9 197.5h0M398.5 193.1h0M400.5 190.8h0M402.0 191.8h0M418.8 174.9h0M390.6 201.1h0M385.7 204.5h0M400.7 188.5h0M374.1 220.7h0M389.4 202.8h0M381.4 194.3h0M392.3 204.5h0M421.7 176.0h0M394.4 185.1h0M391.6 198.7h0M411.7 173.0h0M368.5 222.2h0M389.7 191.6h0M406.6 177.9h0M409.7 183.7h0M392.4 190.7h0M425.9 160.1h0M379.6 210.0h0M400.4 182.7h0M407.8 191.5h0M386.0 196.5h0M403.5 189.0h0M385.4 203.8h0M424.2 173.1h0M382.3 206.1h0M386.1 197.0h0M443.1 162.3h0M394.5 197.1h0M384.7 207.8h0M378.3 206.7h0M374.7 208.8h0M380.5 208.5h0M397.2 191.0h0M402.0 197.8h0M396.2 185.7h0M389.3 191.8h0M379.6 212.4h0M370.8 218.2h0M399.4 191.0h0M390.2 193.6h0M380.5 215.2h0M412.3 184.6h0M379.7 201.1h0M375.0 212.0h0M395.5 186.9h0M399.8 187.0h0M384.9 194.6h0M388.5 194.0h0M421.3 175.6h0M375.4 219.1h0M387.7 195.2h0M415.2 175.1h0M413.0 188.7h0M400.1 195.2h0M426.3 171.3h0M374.1 213.4h0M402.8 186.0h0M384.4 198.3h0M376.0 212.0h0M394.4 203.9h0M402.7 190.3h0M394.1 205.3h0M431.2 161.6h0M400.0 191.9h0M383.6 202.8h0M391.2 198.9h0M370.4 214.4h0M374.7 208.2h0M416.5 182.1h0M367.8 216.8h0M390.3 204.9h0M399.8 182.5h0M394.0 195.2h0M381.6 209.1h0M423.9 180.1h0M398.6 198.6h0M423.1 175.4h0M385.4 195.3h0M375.2 208.0h0M391.2 201.9h0M395.0 193.2h0M391.7 201.3h0M418.4 174.8h0M375.7 207.5h0M380.3 203.5h0M384.3 212.8h0M378.6 204.5h0M386.4 205.5h0M367.3 219.1h0M386.8 202.0h0M380.4 204.3h0M412.2 193.7h0M412.2 180.1h0M390.5 192.8h0M436.4 162.6h0M384.2 205.9h0M386.0 203.9h0M373.7 206.9h0M371.6 217.6h0M397.3 181.1h0M382.0 212.3h0M392.3 197.6h0M389.7 191.8h0M390.7 196.6h0M377.2 213.0h0M393.0 196.5h0M383.4 198.6h0M446.0 146.8h0M447.8 157.6h0M432.7 166.7h0M441.4 167.6h0M419.1 180.2h0M442.6 158.1h0M417.7 179.2h0M439.1 168.0h0M435.2 158.9h0M379.8 212.1h0M422.6 176.4h0M433.9 165.6h0M431.9 178.5h0M448.0 143.9h0M418.0 180.8h0M437.5 158.5h0M431.3 178.0h0M397.4 194.3h0M423.7 170.1h0M443.9 155.6h0M440.1 155.1h0M439.3 170.2h0M429.7 175.0h0M444.9 148.2h0M445.4 161.6h0M434.8 175.7h0M425.8 177.9h0M438.6 169.3h0M416.5 189.6h0M410.0 183.9h0M443.2 152.0h0M380.5 203.8h0M419.6 175.8h0M421.8 186.0h0M391.0 202.5h0M425.5 180.7h0M447.1 152.4h0M421.8 185.6h0M423.3 176.8h0M416.4 188.9h0M437.4 164.0h0M438.2 168.2h0M432.0 169.3h0M437.3 155.7h0M415.8 176.9h0M404.9 188.9h0M430.1 160.4h0M409.2 182.5h0M424.4 184.6h0M400.4 189.4h0M418.7 182.8h0M424.2 166.5h0M416.6 171.6h0M443.0 151.6h0M425.7 160.7h0M416.9 185.7h0M407.5 181.6h0M399.4 190.3h0M447.6 160.8h0M440.7 152.8h0M444.8 150.2h0M427.9 173.4h0M444.1 161.6h0M438.9 149.5h0M443.4 156.7h0M428.7 159.3h0M432.5 174.9h0M438.1 161.2h0M442.5 161.2h0M433.5 157.3h0M428.3 166.9h0M410.1 181.0h0M432.3 165.5h0M437.2 166.9h0M445.1 155.5h0M440.6 159.4h0M428.7 168.0h0M399.9 187.8h0M445.6 153.6h0M430.8 165.7h0M431.6 158.2h0M413.2 174.7h0M426.7 167.4h0M433.7 164.0h0M427.1 164.3h0M440.6 159.7h0M443.5 149.3h0M437.0 159.8h0M445.4 163.1h0M401.5 184.6h0M434.1 173.8h0M390.6 199.8h0M377.9 201.6h0M389.0 209.1h0M370.9 209.4h0M390.9 199.1h0M363.7 215.2h0M392.2 194.1h0M379.8 211.0h0M404.1 181.7h0M384.2 211.0h0M418.9 181.7h0M362.7 220.8h0M381.0 196.9h0M417.9 178.9h0M422.0 169.0h0M387.8 199.7h0M372.2 212.4h0M367.1 215.8h0M410.7 187.2h0M376.7 211.9h0M389.9 195.4h0" stroke="#78b094" stroke-opacity="0.62" stroke-width="2.0" stroke-linecap="square" fill="none"/>
<path d="M400.5 189.0h0M409.8 195.5h0M379.9 205.6h0M382.6 195.7h0M389.6 203.8h0M377.9 198.8h0M385.9 211.3h0M376.8 205.3h0M383.3 200.9h0M373.8 212.5h0M384.5 195.9h0M389.9 198.9h0M413.9 181.5h0M394.1 195.2h0M376.5 215.5h0M407.2 183.3h0M400.6 186.0h0M389.1 203.0h0M383.7 203.5h0M370.4 212.5h0M384.5 201.8h0M390.2 204.4h0M393.4 199.2h0M423.9 172.7h0M399.9 190.6h0M390.9 189.4h0M395.0 195.0h0M391.6 194.2h0M383.1 207.6h0M415.0 184.8h0M426.4 162.1h0M415.8 180.1h0M412.6 189.9h0M408.8 187.8h0M376.6 202.6h0M372.4 209.6h0M405.3 175.3h0M384.4 203.0h0M393.1 195.2h0M389.8 192.3h0M379.0 211.9h0M447.6 145.1h0M382.4 212.8h0M425.2 174.4h0M385.2 212.5h0M411.0 184.2h0M409.6 196.0h0M413.9 180.4h0M396.3 195.6h0M389.7 187.2h0M400.7 182.1h0M371.4 205.8h0M393.8 201.8h0M378.0 204.8h0M379.9 207.3h0M440.6 168.4h0M388.1 199.9h0M389.5 201.8h0M404.1 190.9h0M378.7 201.8h0M386.6 213.1h0M396.1 188.0h0M432.4 171.2h0M414.9 180.7h0M370.0 213.7h0M400.5 185.2h0M373.5 211.2h0M401.6 191.8h0M386.9 200.5h0M370.9 205.2h0M378.6 218.7h0M381.3 201.5h0M401.3 187.3h0M391.8 200.4h0M384.7 196.0h0M400.4 200.6h0M376.5 215.7h0M409.8 193.7h0M411.0 187.7h0M376.7 212.5h0M402.6 189.3h0M401.8 198.2h0M375.0 200.2h0M381.7 210.8h0M380.0 203.3h0M372.6 214.4h0M379.9 202.5h0M385.1 206.1h0M386.1 207.3h0M390.0 202.2h0M382.6 201.2h0M386.3 192.6h0M381.6 214.7h0M387.7 205.1h0M371.0 208.6h0M391.1 196.9h0M374.5 210.2h0M419.8 169.1h0M376.4 216.0h0M393.3 186.4h0M411.1 184.6h0M392.4 197.4h0M398.7 194.3h0M398.7 180.9h0M370.2 212.7h0M383.9 202.7h0M381.7 205.8h0M404.2 180.5h0M373.5 201.7h0M377.0 211.7h0M406.9 189.2h0M378.0 195.9h0M410.2 196.2h0M396.0 197.9h0M433.8 167.7h0M381.0 198.6h0M394.4 202.9h0M374.6 219.6h0M417.4 186.5h0M408.1 186.8h0M439.4 168.3h0M382.9 214.8h0M425.6 165.0h0M395.9 197.7h0M379.6 212.4h0M396.3 198.1h0M406.3 196.2h0M400.8 187.3h0M418.3 183.0h0M387.7 191.4h0M404.1 177.6h0M381.6 202.6h0M390.4 195.8h0M382.2 197.6h0M401.0 188.3h0M403.8 185.8h0M417.1 186.4h0M374.7 211.8h0M388.3 196.0h0M382.1 204.2h0M371.6 203.0h0M388.0 202.9h0M381.4 195.9h0M390.6 199.4h0M380.1 205.9h0M383.5 194.2h0M429.7 169.6h0M395.4 194.6h0M388.1 195.3h0M384.3 205.9h0M413.7 188.6h0M393.2 189.7h0M375.0 213.4h0M425.7 162.5h0M387.1 199.0h0M409.7 175.3h0M388.0 200.7h0M377.0 208.6h0M400.4 204.2h0M447.2 159.8h0M413.0 194.6h0M385.3 199.0h0M402.3 199.7h0M395.8 196.9h0M389.3 211.4h0M376.9 208.7h0M396.3 201.3h0M387.7 207.1h0M390.8 199.5h0M398.0 197.5h0M385.5 190.4h0M405.1 187.3h0M372.0 210.3h0M427.8 173.9h0M383.3 205.2h0M378.0 197.9h0M398.9 203.1h0M405.1 191.2h0M387.2 203.6h0M446.4 155.2h0M389.3 192.2h0M440.6 161.4h0M393.7 201.8h0M390.7 210.6h0M372.1 205.6h0M371.9 216.3h0M377.3 214.2h0M410.6 172.5h0M409.5 182.8h0M387.4 199.2h0M403.0 197.5h0M413.2 190.3h0M371.2 204.5h0M388.5 191.9h0M380.8 201.4h0M402.1 183.1h0M416.8 172.7h0M389.6 204.0h0M391.3 187.7h0M417.5 172.7h0M394.5 202.5h0M382.6 212.9h0M379.6 201.7h0M441.5 156.3h0M382.0 193.1h0M385.1 196.8h0M387.0 195.3h0M392.6 207.8h0M368.3 204.8h0M404.7 179.0h0M387.5 198.9h0M399.8 193.2h0M389.9 203.4h0M381.4 207.6h0M407.8 193.3h0M404.7 186.3h0M383.4 203.7h0M374.8 216.5h0M414.5 184.6h0M407.9 178.2h0M367.6 213.5h0M445.0 160.7h0M383.6 202.0h0M380.2 203.8h0M392.1 208.0h0M401.4 193.3h0M393.9 193.2h0M381.0 197.9h0M406.1 186.2h0M393.3 193.7h0M381.7 202.6h0M391.2 188.4h0M386.5 205.3h0M377.5 200.6h0M413.8 189.6h0M377.9 206.4h0M401.6 178.8h0M400.6 197.2h0M394.9 202.9h0M400.0 195.0h0M394.3 194.7h0M397.7 186.0h0M387.1 190.6h0M401.9 181.6h0M370.0 215.4h0M382.9 193.5h0M407.4 179.8h0M440.2 168.2h0M392.2 205.9h0M365.9 215.4h0M378.9 207.3h0M386.9 203.7h0M371.1 217.1h0M376.9 212.9h0M392.9 196.3h0M375.5 213.0h0M397.7 192.0h0M404.4 184.4h0M382.4 192.5h0M376.8 208.7h0M389.7 210.7h0M380.8 216.4h0M408.0 178.6h0M431.2 170.3h0M427.4 166.7h0M367.3 222.7h0M403.1 186.8h0M386.1 208.3h0M395.8 184.3h0M413.6 174.0h0M405.8 176.5h0M394.1 197.8h0M379.9 207.9h0M372.8 211.4h0M387.2 200.4h0M381.9 210.1h0M394.2 201.6h0M443.7 156.5h0M364.4 229.1h0M371.9 213.0h0M406.1 175.3h0M376.4 208.7h0M425.5 174.2h0M383.3 216.3h0M415.4 177.1h0M381.1 203.5h0M393.9 195.2h0M389.7 198.0h0M404.8 184.8h0M368.4 219.2h0M396.6 185.9h0M390.6 193.2h0M406.6 186.2h0M403.8 186.7h0M392.5 194.4h0M384.4 207.9h0M417.9 178.4h0M416.7 176.4h0M418.9 169.1h0M408.6 174.2h0M393.2 192.8h0M390.8 199.5h0M376.9 208.3h0M409.4 186.8h0M371.5 203.4h0M423.9 166.0h0M409.9 191.3h0M410.5 176.6h0M387.0 212.9h0M374.5 212.1h0M400.4 181.8h0M379.1 199.3h0M374.5 210.3h0M393.8 201.0h0M371.9 210.4h0M372.2 203.1h0M391.3 198.6h0M369.4 217.9h0M368.3 211.9h0M399.3 191.7h0M391.0 194.5h0M367.4 219.9h0M385.1 200.9h0M402.9 190.7h0M373.0 207.5h0M389.7 206.0h0M421.8 175.7h0M406.7 180.9h0M373.2 215.3h0M396.8 203.2h0M400.7 195.0h0M380.8 208.4h0M372.1 210.0h0M383.3 196.6h0M402.2 186.8h0M417.7 183.9h0M388.9 200.3h0M389.8 192.6h0M447.4 165.9h0M387.7 194.1h0M370.2 208.9h0M403.1 196.1h0M379.3 209.4h0M381.1 203.0h0M386.5 201.4h0M378.8 202.9h0M376.7 198.5h0M384.7 194.1h0M428.8 165.8h0M377.3 207.9h0M371.5 216.5h0M427.2 170.5h0M420.9 171.2h0M392.1 206.9h0M372.9 206.1h0M405.0 179.6h0M403.1 198.2h0M386.2 203.3h0M419.6 186.6h0M392.4 196.9h0M381.0 209.8h0M410.9 179.6h0M389.7 202.2h0M408.8 187.0h0M387.3 204.1h0M374.5 199.8h0M376.8 220.2h0M394.3 204.0h0M372.5 206.1h0M385.6 196.4h0M392.4 189.4h0M388.7 204.4h0M382.4 204.0h0M388.4 206.8h0M376.3 203.0h0M419.8 171.0h0M392.3 196.6h0M411.6 194.2h0M390.9 198.8h0M406.0 177.8h0M392.1 188.8h0M393.9 193.0h0M381.2 209.4h0M392.7 195.0h0M397.3 192.3h0M384.8 208.4h0M415.1 182.7h0M374.4 211.8h0M402.5 183.5h0M377.5 213.7h0M403.4 183.0h0M408.7 182.4h0M391.4 190.6h0M380.9 208.7h0M437.9 166.6h0M387.9 199.0h0M383.3 206.0h0M391.0 200.5h0M390.4 197.4h0M414.5 191.7h0M382.6 205.3h0M403.1 179.8h0M403.3 188.7h0M373.2 222.4h0M398.4 196.9h0M381.9 195.6h0M375.3 202.9h0M416.5 181.5h0M389.4 202.8h0M381.2 205.1h0M383.4 215.0h0M384.5 197.1h0M399.1 200.3h0M379.4 213.9h0M384.4 213.3h0M384.4 195.8h0M398.1 192.1h0M366.8 215.4h0M399.0 200.1h0M366.8 221.8h0M409.7 176.2h0M393.5 192.5h0M380.1 198.7h0M374.2 201.7h0M396.2 202.5h0M381.2 217.2h0M370.0 221.7h0M367.3 224.4h0M387.1 204.8h0M400.9 193.8h0M437.2 170.2h0M398.5 182.2h0M388.8 192.9h0M368.2 220.6h0M374.8 217.2h0M402.9 187.7h0M419.6 180.1h0M399.9 191.7h0M415.8 180.3h0M412.5 186.6h0M384.9 193.3h0M387.0 207.3h0M372.4 206.3h0M401.4 201.3h0M379.4 210.2h0M398.1 201.2h0M396.8 198.6h0M372.6 203.4h0M423.2 167.7h0M388.9 207.2h0M377.2 216.2h0M392.2 202.4h0M395.3 187.9h0M368.1 217.8h0M390.9 204.3h0M395.0 193.5h0M387.2 205.1h0M390.3 201.2h0M407.6 191.4h0M382.1 209.5h0M375.4 204.3h0M394.7 195.5h0M382.9 210.9h0M415.5 174.1h0M370.4 215.8h0M389.9 209.2h0M370.9 214.2h0M398.2 190.4h0M414.4 193.4h0M394.0 196.6h0M369.7 202.0h0M397.9 193.9h0M402.6 187.2h0M382.6 206.0h0M377.4 198.4h0M399.9 202.8h0M393.7 188.4h0M390.4 187.4h0M413.6 184.2h0M410.2 186.3h0M372.5 212.0h0M417.2 189.0h0M388.2 201.8h0M413.8 172.6h0M412.2 186.1h0M400.9 183.3h0M421.1 178.3h0M426.3 175.3h0M423.3 174.0h0M431.4 169.1h0M408.8 182.0h0M424.4 165.0h0M415.6 185.4h0M436.1 159.6h0M389.0 198.9h0M422.2 178.3h0M424.9 176.4h0M406.7 193.9h0M399.8 195.6h0M380.3 211.9h0M431.4 166.1h0M437.8 164.5h0M424.0 177.4h0M392.8 204.7h0M433.2 171.2h0M414.2 176.8h0M433.1 171.4h0M435.2 162.3h0M446.9 160.9h0M434.7 171.3h0M443.9 157.9h0M427.4 168.1h0M415.0 187.7h0M394.4 205.0h0M421.9 185.0h0M414.7 172.0h0M431.3 163.6h0M433.5 157.2h0M414.2 185.3h0M442.9 151.6h0M412.3 185.0h0M418.6 183.1h0M427.9 163.5h0M443.9 154.0h0M435.4 165.8h0M398.9 197.4h0M430.1 169.8h0M426.9 172.1h0M419.4 188.3h0M418.2 167.6h0M407.2 185.8h0M440.1 150.3h0M446.0 152.7h0M434.8 171.5h0M442.6 157.9h0M418.7 187.9h0M426.5 165.9h0M428.0 173.6h0M421.2 183.5h0M431.7 179.3h0M404.8 192.5h0M444.1 152.2h0M441.8 153.6h0M436.3 163.3h0M426.6 175.1h0M414.2 187.5h0M421.6 182.8h0M439.3 167.7h0M426.7 169.8h0M427.0 162.2h0M410.0 190.5h0M440.1 165.3h0M408.6 185.9h0M445.6 159.2h0M447.7 164.2h0M438.6 156.3h0M445.5 147.2h0M439.7 149.0h0M439.9 158.7h0M377.8 199.4h0M429.6 178.8h0M428.5 173.5h0M388.1 196.0h0M418.1 176.5h0M420.1 179.4h0M427.1 162.7h0M414.4 171.5h0M433.4 166.4h0M446.7 153.4h0M435.5 155.1h0M433.0 171.4h0M440.8 161.0h0M406.5 191.8h0M415.3 175.2h0M379.8 210.4h0M398.4 199.9h0M429.0 161.9h0M382.0 203.5h0M424.8 178.7h0M404.2 197.1h0M369.8 204.9h0M372.1 207.5h0M363.5 211.5h0M368.3 210.2h0M381.4 193.0h0M391.1 194.1h0M423.2 173.2h0M414.2 171.1h0M443.0 162.4h0M393.0 205.3h0M396.9 198.6h0M395.1 207.9h0M395.1 203.0h0M364.4 222.9h0M370.3 206.2h0" stroke="#78b094" stroke-opacity="0.62" stroke-width="2.0" stroke-linecap="square" fill="none"/>
<line x1="326.2" y1="227.7" x2="570.3" y2="85.3" stroke="#b8433a" stroke-width="1.3"/>
<line x1="326.2" y1="248.5" x2="570.3" y2="59.3" stroke="#6fa88a" stroke-width="1.2"/>
<line x1="326.2" y1="243.7" x2="570.3" y2="53.2" stroke="#e8883a" stroke-width="1.3"/>
<line x1="326.2" y1="251.2" x2="570.3" y2="40.5" stroke="#1fa8de" stroke-width="1.7"/>
<line x1="326.2" y1="247.0" x2="570.3" y2="32.3" stroke="#2b3a42" stroke-width="1.3"/>
</g>
<line x1="348.4" y1="37.4" x2="365.7" y2="37.4" stroke="#2b3a42" stroke-width="1.5"/>
<text x="373.2" y="40.6" font-size="8.9">W007 (r<tspan font-size="6.4" dy="-3.6">2</tspan><tspan dy="3.6"> = 0.92)</tspan></text>
<line x1="348.4" y1="48.2" x2="365.7" y2="48.2" stroke="#e8883a" stroke-width="1.5"/>
<text x="373.2" y="51.4" font-size="8.9">W009 (r<tspan font-size="6.4" dy="-3.6">2</tspan><tspan dy="3.6"> = 0.82)</tspan></text>
<line x1="348.4" y1="59.0" x2="365.7" y2="59.0" stroke="#1fa8de" stroke-width="2.0"/>
<text x="373.2" y="62.2" font-size="8.9">W013 (r<tspan font-size="6.4" dy="-3.6">2</tspan><tspan dy="3.6"> = 0.86)</tspan></text>
<line x1="348.4" y1="69.8" x2="365.7" y2="69.8" stroke="#b8433a" stroke-width="1.3"/>
<text x="373.2" y="73.0" font-size="8.9">W015 (r<tspan font-size="6.4" dy="-3.6">2</tspan><tspan dy="3.6"> = 0.70)</tspan></text>
<line x1="348.4" y1="80.6" x2="365.7" y2="80.6" stroke="#6fa88a" stroke-width="1.3"/>
<text x="373.2" y="83.8" font-size="8.9">W019 (r<tspan font-size="6.4" dy="-3.6">2</tspan><tspan dy="3.6"> = 0.86)</tspan></text>
<rect x="326.45" y="5.83" width="244.05" height="249.62" fill="none" stroke="#404040" stroke-width="1.0"/>
<line x1="335.36" y1="255.45" x2="335.36" y2="258.95" stroke="#404040" stroke-width="1"/>
<text x="335.36" y="268.2" font-size="8.7" text-anchor="middle">−2</text>
<line x1="380.50" y1="255.45" x2="380.50" y2="258.95" stroke="#404040" stroke-width="1"/>
<text x="380.50" y="268.2" font-size="8.7" text-anchor="middle">0</text>
<line x1="425.64" y1="255.45" x2="425.64" y2="258.95" stroke="#404040" stroke-width="1"/>
<text x="425.64" y="268.2" font-size="8.7" text-anchor="middle">2</text>
<line x1="470.78" y1="255.45" x2="470.78" y2="258.95" stroke="#404040" stroke-width="1"/>
<text x="470.78" y="268.2" font-size="8.7" text-anchor="middle">4</text>
<line x1="515.92" y1="255.45" x2="515.92" y2="258.95" stroke="#404040" stroke-width="1"/>
<text x="515.92" y="268.2" font-size="8.7" text-anchor="middle">6</text>
<line x1="561.06" y1="255.45" x2="561.06" y2="258.95" stroke="#404040" stroke-width="1"/>
<text x="561.06" y="268.2" font-size="8.7" text-anchor="middle">8</text>
<line x1="322.65" y1="246.20" x2="326.45" y2="246.20" stroke="#404040" stroke-width="1"/>
<text transform="translate(317.8,246.20) rotate(-90)" font-size="8.7" text-anchor="middle">−2</text>
<line x1="322.65" y1="200.00" x2="326.45" y2="200.00" stroke="#404040" stroke-width="1"/>
<text transform="translate(317.8,200.00) rotate(-90)" font-size="8.7" text-anchor="middle">0</text>
<line x1="322.65" y1="153.80" x2="326.45" y2="153.80" stroke="#404040" stroke-width="1"/>
<text transform="translate(317.8,153.80) rotate(-90)" font-size="8.7" text-anchor="middle">2</text>
<line x1="322.65" y1="107.60" x2="326.45" y2="107.60" stroke="#404040" stroke-width="1"/>
<text transform="translate(317.8,107.60) rotate(-90)" font-size="8.7" text-anchor="middle">4</text>
<line x1="322.65" y1="61.40" x2="326.45" y2="61.40" stroke="#404040" stroke-width="1"/>
<text transform="translate(317.8,61.40) rotate(-90)" font-size="8.7" text-anchor="middle">6</text>
<line x1="322.65" y1="15.20" x2="326.45" y2="15.20" stroke="#404040" stroke-width="1"/>
<text transform="translate(317.8,15.20) rotate(-90)" font-size="8.7" text-anchor="middle">8</text>
<text x="448.4" y="281.1" font-size="8.8" text-anchor="middle">UHI Paradise Circus (<tspan font-size="6.4" dy="-3.8">o</tspan><tspan dy="3.8">C)</tspan></text>
<text transform="translate(302.3,130.3) rotate(-90)" font-size="8.8" text-anchor="middle">UHI W0## (<tspan font-size="6.60" dy="-4.40">o</tspan><tspan dy="4.40">C)</tspan></text>
<text x="330.7" y="25.1" font-size="18" textLength="20" lengthAdjust="spacingAndGlyphs">(b)</text>
<g clip-path="url(#cc)"><polygon points="34.2,503.3 39.7,517.6 42.3,503.3 45.0,513.9 50.8,492.5 52.9,500.1 56.1,451.5 58.5,440.7 61.7,483.9 64.3,509.3 67.0,511.2 69.6,503.3 71.9,508.4 77.2,480.6 81.1,508.4 84.9,508.4 88.1,501.2 91.3,500.1 93.7,483.9 96.5,509.3 98.7,521.1 101.9,482.8 106.8,502.4 112.7,507.4 118.4,464.6 122.1,446.4 125.8,415.9 128.3,417.5 132.0,434.2 134.4,408.3 137.4,432.8 139.9,419.0 143.1,425.1 149.7,491.9 151.2,514.7 154.2,497.9 157.9,527.6 162.0,509.6 164.5,506.5 167.1,476.6 169.7,499.0 172.6,507.5 177.8,506.0 180.2,474.2 182.7,429.3 183.9,404.1 185.9,343.3 188.5,324.8 191.7,314.7 194.3,294.4 198.3,321.4 202.2,333.2 206.2,360.2 209.6,380.5 212.3,416.6 214.7,446.8 218.3,506.5 221.1,486.6 223.8,499.0 226.4,500.2 229.4,510.4 232.3,498.2 234.8,504.6 237.5,523.0 240.3,501.8 242.8,515.7 245.5,510.9 248.6,513.3 253.5,510.9 256.4,513.9 259.2,523.0 261.9,520.6 265.0,523.0 269.2,520.6 272.6,513.3 275.6,524.1 278.1,506.7 278.1,520.2 275.6,536.4 272.6,526.3 269.2,533.1 265.0,535.3 261.9,533.1 259.2,535.3 256.4,526.9 253.5,524.1 248.6,526.3 245.5,524.1 242.8,528.6 240.3,516.7 237.5,535.3 234.8,518.7 232.3,514.2 229.4,523.6 226.4,515.6 223.8,514.7 221.1,505.9 218.3,520.0 214.7,477.6 212.3,456.2 209.6,433.3 206.2,421.0 202.2,404.5 198.3,397.4 194.3,380.9 191.7,393.3 188.5,399.4 185.9,410.7 183.9,447.7 182.7,465.2 180.2,497.1 177.8,519.7 172.6,521.0 169.7,514.7 167.1,498.8 164.5,520.0 162.0,522.9 157.9,539.6 154.2,513.9 151.2,527.6 149.7,509.6 143.1,462.2 139.9,457.9 137.4,467.6 134.4,450.3 132.0,468.7 128.3,456.8 125.8,455.7 122.1,477.3 118.4,490.3 112.7,520.9 106.8,517.1 101.9,503.2 98.7,533.6 96.5,522.6 93.7,504.0 91.3,515.5 88.1,516.3 84.9,521.8 81.1,521.8 77.2,501.6 71.9,521.8 69.6,517.8 67.0,524.4 64.3,522.6 61.7,504.0 58.5,473.2 56.1,480.9 52.9,515.5 50.8,510.1 45.0,526.9 42.3,517.8 39.7,530.3 34.2,517.8" fill="#cfcfcf"/>
<polyline points="34.2,510.4 39.7,523.6 42.3,510.4 45.0,520.1 50.8,501.6 52.9,507.8 56.1,468.2 58.5,459.4 61.7,494.6 64.3,515.7 67.0,517.5 69.6,510.4 71.9,514.8 77.2,491.9 81.1,514.8 84.9,514.8 88.1,508.7 91.3,507.8 93.7,494.6 96.5,515.7 98.7,526.9 101.9,493.7 106.8,509.7 112.7,513.9 118.4,478.9 122.1,464.1 125.8,439.4 128.3,440.7 132.0,454.2 134.4,433.3 137.4,453.0 139.9,441.9 143.1,446.8 149.7,501.1 151.2,520.8 154.2,506.0 157.9,533.1 162.0,516.0 164.5,513.0 167.1,488.7 169.7,506.9 172.6,514.0 177.8,512.6 180.2,486.7 182.7,450.2 183.9,430.0 185.9,382.4 188.5,367.9 191.7,360.0 194.3,344.1 198.3,365.3 202.2,374.5 206.2,395.6 209.6,411.5 212.3,440.0 214.7,464.4 218.3,513.0 221.1,496.8 223.8,506.9 226.4,507.9 229.4,516.7 232.3,506.3 234.8,511.5 237.5,528.7 240.3,509.2 242.8,521.8 245.5,517.2 248.6,519.5 253.5,517.2 256.4,520.1 259.2,528.7 261.9,526.4 265.0,528.7 269.2,526.4 272.6,519.5 275.6,529.8 278.1,513.2" fill="none" stroke="#111" stroke-width="1.0" stroke-linejoin="round"/></g>
<rect x="34.2" y="291.17" width="243.97" height="249.66" fill="none" stroke="#404040" stroke-width="1.0"/>
<line x1="60.90" y1="540.83" x2="60.90" y2="544.33" stroke="#404040" stroke-width="1"/>
<text x="60.90" y="553.8" font-size="8.7" text-anchor="middle" textLength="49.5" lengthAdjust="spacingAndGlyphs">2013–07–25</text>
<line x1="126.10" y1="540.83" x2="126.10" y2="544.33" stroke="#404040" stroke-width="1"/>
<text x="126.10" y="553.8" font-size="8.7" text-anchor="middle" textLength="49.5" lengthAdjust="spacingAndGlyphs">2013–07–26</text>
<line x1="191.30" y1="540.83" x2="191.30" y2="544.33" stroke="#404040" stroke-width="1"/>
<text x="191.30" y="553.8" font-size="8.7" text-anchor="middle" textLength="49.5" lengthAdjust="spacingAndGlyphs">2013–07–27</text>
<line x1="256.30" y1="540.83" x2="256.30" y2="544.33" stroke="#404040" stroke-width="1"/>
<text x="256.30" y="553.8" font-size="8.7" text-anchor="middle" textLength="49.5" lengthAdjust="spacingAndGlyphs">2013–07–28</text>
<line x1="30.400000000000002" y1="533.20" x2="34.2" y2="533.20" stroke="#404040" stroke-width="1"/>
<text transform="translate(25.8,533.20) rotate(-90)" font-size="8.7" text-anchor="middle">0</text>
<line x1="30.400000000000002" y1="472.68" x2="34.2" y2="472.68" stroke="#404040" stroke-width="1"/>
<text transform="translate(25.8,472.68) rotate(-90)" font-size="8.7" text-anchor="middle">2</text>
<line x1="30.400000000000002" y1="412.16" x2="34.2" y2="412.16" stroke="#404040" stroke-width="1"/>
<text transform="translate(25.8,412.16) rotate(-90)" font-size="8.7" text-anchor="middle">4</text>
<line x1="30.400000000000002" y1="351.64" x2="34.2" y2="351.64" stroke="#404040" stroke-width="1"/>
<text transform="translate(25.8,351.64) rotate(-90)" font-size="8.7" text-anchor="middle">6</text>
<line x1="30.400000000000002" y1="291.12" x2="34.2" y2="291.12" stroke="#404040" stroke-width="1"/>
<text transform="translate(25.8,291.12) rotate(-90)" font-size="8.7" text-anchor="middle">8</text>
<text transform="translate(9.6,416.0) rotate(-90)" font-size="8.6" text-anchor="middle">UHI (<tspan font-size="6.45" dy="-4.30">o</tspan><tspan dy="4.30">C)</tspan></text>
<text x="40.7" y="310.7" font-size="18" textLength="19" lengthAdjust="spacingAndGlyphs">(c)</text>
<rect x="326.5" y="291.5" width="244.00" height="249.33" fill="none" stroke="#404040" stroke-width="1.0"/>
<g clip-path="url(#cd)">
<polygon points="326.5,295.2 328.9,303.9 331.4,312.3 333.8,320.3 336.3,328.0 338.7,335.4 341.1,342.5 343.6,349.3 346.0,355.8 348.4,362.1 350.9,368.1 353.3,373.9 355.8,379.4 358.2,384.7 360.6,389.8 363.1,394.7 365.5,399.5 367.9,404.0 370.4,408.3 372.8,412.5 375.3,416.5 377.7,420.3 380.1,424.0 382.6,427.6 385.0,431.0 387.4,434.3 389.9,437.4 392.3,440.5 394.8,443.4 397.2,446.2 399.6,448.9 402.1,451.5 404.5,454.0 407.0,456.3 409.4,458.7 411.8,460.9 414.3,463.0 416.7,465.1 419.1,467.0 421.6,469.0 424.0,470.8 426.5,472.6 428.9,474.3 431.3,475.9 433.8,477.5 436.2,479.0 438.6,480.5 441.1,481.9 443.5,483.3 446.0,484.6 448.4,485.8 450.8,487.1 453.3,488.3 455.7,489.4 458.2,490.5 460.6,491.6 463.0,492.6 465.5,493.6 467.9,494.5 470.3,495.5 472.8,496.4 475.2,497.2 477.7,498.1 480.1,498.9 482.5,499.6 485.0,500.4 487.4,501.1 489.8,501.8 492.3,502.5 494.7,503.2 497.2,503.8 499.6,504.5 502.0,505.1 504.5,505.6 506.9,506.2 509.4,506.8 511.8,507.3 514.2,507.8 516.7,508.3 519.1,508.8 521.5,509.3 524.0,509.7 526.4,510.2 528.9,510.6 531.3,511.0 533.7,511.4 536.2,511.8 538.6,512.2 541.0,512.6 543.5,513.0 545.9,513.3 548.4,513.7 550.8,514.0 553.2,514.3 555.7,514.6 558.1,515.0 560.5,515.3 563.0,515.6 565.4,515.8 567.9,516.1 570.3,516.4 570.3,539.3 567.9,539.2 565.4,539.0 563.0,538.8 560.5,538.6 558.1,538.4 555.7,538.2 553.2,538.0 550.8,537.8 548.4,537.6 545.9,537.4 543.5,537.1 541.0,536.9 538.6,536.6 536.2,536.4 533.7,536.1 531.3,535.8 528.9,535.5 526.4,535.3 524.0,534.9 521.5,534.6 519.1,534.3 516.7,534.0 514.2,533.6 511.8,533.3 509.4,532.9 506.9,532.5 504.5,532.1 502.0,531.7 499.6,531.3 497.2,530.9 494.7,530.4 492.3,530.0 489.8,529.5 487.4,529.0 485.0,528.5 482.5,528.0 480.1,527.4 477.7,526.9 475.2,526.3 472.8,525.7 470.3,525.1 467.9,524.5 465.5,523.8 463.0,523.1 460.6,522.4 458.2,521.7 455.7,521.0 453.3,520.2 450.8,519.4 448.4,518.6 446.0,517.7 443.5,516.9 441.1,516.0 438.6,515.0 436.2,514.1 433.8,513.1 431.3,512.0 428.9,511.0 426.5,509.9 424.0,508.7 421.6,507.6 419.1,506.4 416.7,505.1 414.3,503.8 411.8,502.5 409.4,501.1 407.0,499.7 404.5,498.3 402.1,496.8 399.6,495.2 397.2,493.6 394.8,491.9 392.3,490.2 389.9,488.4 387.4,486.6 385.0,484.7 382.6,482.8 380.1,480.7 377.7,478.7 375.3,476.5 372.8,474.3 370.4,472.0 367.9,469.6 365.5,467.2 363.1,464.7 360.6,462.1 358.2,459.4 355.8,456.6 353.3,453.7 350.9,450.7 348.4,447.7 346.0,444.5 343.6,441.3 341.1,437.9 338.7,434.4 336.3,430.8 333.8,427.1 331.4,423.3 328.9,419.3 326.5,415.2" fill="#d0d0d0"/>
<polygon points="326.5,344.9 328.9,352.2 331.4,359.2 333.8,365.9 336.3,372.3 338.7,378.5 341.1,384.3 343.6,389.9 346.0,395.3 348.4,400.4 350.9,405.4 353.3,410.1 355.8,414.6 358.2,418.9 360.6,423.0 363.1,427.0 365.5,430.8 367.9,434.5 370.4,438.0 372.8,441.3 375.3,444.6 377.7,447.6 380.1,450.6 382.6,453.5 385.0,456.2 387.4,458.9 389.9,461.4 392.3,463.8 394.8,466.2 397.2,468.4 399.6,470.6 402.1,472.7 404.5,474.7 407.0,476.6 409.4,478.5 411.8,480.3 414.3,482.0 416.7,483.6 419.1,485.2 421.6,486.8 424.0,488.3 426.5,489.7 428.9,491.1 431.3,492.4 433.8,493.7 436.2,494.9 438.6,496.1 441.1,497.2 443.5,498.3 446.0,499.4 448.4,500.4 450.8,501.4 453.3,502.4 455.7,503.3 458.2,504.2 460.6,505.1 463.0,505.9 465.5,506.7 467.9,507.5 470.3,508.2 472.8,509.0 475.2,509.7 477.7,510.3 480.1,511.0 482.5,511.6 485.0,512.2 487.4,512.8 489.8,513.4 492.3,513.9 494.7,514.5 497.2,515.0 499.6,515.5 502.0,516.0 504.5,516.4 506.9,516.9 509.4,517.3 511.8,517.7 514.2,518.1 516.7,518.5 519.1,518.9 521.5,519.3 524.0,519.6 526.4,520.0 528.9,520.3 531.3,520.6 533.7,520.9 536.2,521.2 538.6,521.5 541.0,521.8 543.5,522.1 545.9,522.3 548.4,522.6 550.8,522.8 553.2,523.1 555.7,523.3 558.1,523.5 560.5,523.8 563.0,524.0 565.4,524.2 567.9,524.4 570.3,524.6 570.3,526.6 567.9,526.4 565.4,526.3 563.0,526.1 560.5,525.9 558.1,525.6 555.7,525.4 553.2,525.2 550.8,525.0 548.4,524.7 545.9,524.5 543.5,524.2 541.0,524.0 538.6,523.7 536.2,523.4 533.7,523.2 531.3,522.9 528.9,522.5 526.4,522.2 524.0,521.9 521.5,521.6 519.1,521.2 516.7,520.9 514.2,520.5 511.8,520.1 509.4,519.7 506.9,519.3 504.5,518.9 502.0,518.5 499.6,518.0 497.2,517.5 494.7,517.1 492.3,516.6 489.8,516.1 487.4,515.5 485.0,515.0 482.5,514.4 480.1,513.8 477.7,513.2 475.2,512.6 472.8,512.0 470.3,511.3 467.9,510.6 465.5,509.9 463.0,509.2 460.6,508.5 458.2,507.7 455.7,506.9 453.3,506.0 450.8,505.2 448.4,504.3 446.0,503.4 443.5,502.4 441.1,501.5 438.6,500.5 436.2,499.4 433.8,498.3 431.3,497.2 428.9,496.1 426.5,494.9 424.0,493.6 421.6,492.4 419.1,491.1 416.7,489.7 414.3,488.3 411.8,486.8 409.4,485.3 407.0,483.8 404.5,482.2 402.1,480.5 399.6,478.8 397.2,477.0 394.8,475.2 392.3,473.3 389.9,471.3 387.4,469.2 385.0,467.1 382.6,464.9 380.1,462.7 377.7,460.3 375.3,457.9 372.8,455.3 370.4,452.7 367.9,450.0 365.5,447.2 363.1,444.3 360.6,441.3 358.2,438.1 355.8,434.9 353.3,431.5 350.9,428.0 348.4,424.3 346.0,420.6 343.6,416.6 341.1,412.6 338.7,408.3 336.3,403.9 333.8,399.3 331.4,394.6 328.9,389.6 326.5,384.5" fill="#7a9fc4"/>
<polyline points="326.5,295.2 328.9,303.9 331.4,312.3 333.8,320.3 336.3,328.0 338.7,335.4 341.1,342.5 343.6,349.3 346.0,355.8 348.4,362.1 350.9,368.1 353.3,373.9 355.8,379.4 358.2,384.7 360.6,389.8 363.1,394.7 365.5,399.5 367.9,404.0 370.4,408.3 372.8,412.5 375.3,416.5 377.7,420.3 380.1,424.0 382.6,427.6 385.0,431.0 387.4,434.3 389.9,437.4 392.3,440.5 394.8,443.4 397.2,446.2 399.6,448.9 402.1,451.5 404.5,454.0 407.0,456.3 409.4,458.7 411.8,460.9 414.3,463.0 416.7,465.1 419.1,467.0 421.6,469.0 424.0,470.8 426.5,472.6 428.9,474.3 431.3,475.9 433.8,477.5 436.2,479.0 438.6,480.5 441.1,481.9 443.5,483.3 446.0,484.6 448.4,485.8 450.8,487.1 453.3,488.3 455.7,489.4 458.2,490.5 460.6,491.6 463.0,492.6 465.5,493.6 467.9,494.5 470.3,495.5 472.8,496.4 475.2,497.2 477.7,498.1 480.1,498.9 482.5,499.6 485.0,500.4 487.4,501.1 489.8,501.8 492.3,502.5 494.7,503.2 497.2,503.8 499.6,504.5 502.0,505.1 504.5,505.6 506.9,506.2 509.4,506.8 511.8,507.3 514.2,507.8 516.7,508.3 519.1,508.8 521.5,509.3 524.0,509.7 526.4,510.2 528.9,510.6 531.3,511.0 533.7,511.4 536.2,511.8 538.6,512.2 541.0,512.6 543.5,513.0 545.9,513.3 548.4,513.7 550.8,514.0 553.2,514.3 555.7,514.6 558.1,515.0 560.5,515.3 563.0,515.6 565.4,515.8 567.9,516.1 570.3,516.4" fill="none" stroke="#3f86c6" stroke-width="0.9" stroke-dasharray="1.8,1.6"/>
<polyline points="326.5,415.2 328.9,419.3 331.4,423.3 333.8,427.1 336.3,430.8 338.7,434.4 341.1,437.9 343.6,441.3 346.0,444.5 348.4,447.7 350.9,450.7 353.3,453.7 355.8,456.6 358.2,459.4 360.6,462.1 363.1,464.7 365.5,467.2 367.9,469.6 370.4,472.0 372.8,474.3 375.3,476.5 377.7,478.7 380.1,480.7 382.6,482.8 385.0,484.7 387.4,486.6 389.9,488.4 392.3,490.2 394.8,491.9 397.2,493.6 399.6,495.2 402.1,496.8 404.5,498.3 407.0,499.7 409.4,501.1 411.8,502.5 414.3,503.8 416.7,505.1 419.1,506.4 421.6,507.6 424.0,508.7 426.5,509.9 428.9,511.0 431.3,512.0 433.8,513.1 436.2,514.1 438.6,515.0 441.1,516.0 443.5,516.9 446.0,517.7 448.4,518.6 450.8,519.4 453.3,520.2 455.7,521.0 458.2,521.7 460.6,522.4 463.0,523.1 465.5,523.8 467.9,524.5 470.3,525.1 472.8,525.7 475.2,526.3 477.7,526.9 480.1,527.4 482.5,528.0 485.0,528.5 487.4,529.0 489.8,529.5 492.3,530.0 494.7,530.4 497.2,530.9 499.6,531.3 502.0,531.7 504.5,532.1 506.9,532.5 509.4,532.9 511.8,533.3 514.2,533.6 516.7,534.0 519.1,534.3 521.5,534.6 524.0,534.9 526.4,535.3 528.9,535.5 531.3,535.8 533.7,536.1 536.2,536.4 538.6,536.6 541.0,536.9 543.5,537.1 545.9,537.4 548.4,537.6 550.8,537.8 553.2,538.0 555.7,538.2 558.1,538.4 560.5,538.6 563.0,538.8 565.4,539.0 567.9,539.2 570.3,539.3" fill="none" stroke="#3f86c6" stroke-width="0.9" stroke-dasharray="1.8,1.6"/>
<polyline points="326.5,364.7 328.9,370.9 331.4,376.9 333.8,382.6 336.3,388.1 338.7,393.4 341.1,398.4 343.6,403.3 346.0,407.9 348.4,412.4 350.9,416.7 353.3,420.8 355.8,424.7 358.2,428.5 360.6,432.1 363.1,435.6 365.5,439.0 367.9,442.2 370.4,445.3 372.8,448.3 375.3,451.2 377.7,454.0 380.1,456.6 382.6,459.2 385.0,461.7 387.4,464.0 389.9,466.3 392.3,468.5 394.8,470.7 397.2,472.7 399.6,474.7 402.1,476.6 404.5,478.4 407.0,480.2 409.4,481.9 411.8,483.5 414.3,485.1 416.7,486.7 419.1,488.1 421.6,489.6 424.0,491.0 426.5,492.3 428.9,493.6 431.3,494.8 433.8,496.0 436.2,497.2 438.6,498.3 441.1,499.4 443.5,500.4 446.0,501.4 448.4,502.4 450.8,503.3 453.3,504.2 455.7,505.1 458.2,505.9 460.6,506.8 463.0,507.6 465.5,508.3 467.9,509.1 470.3,509.8 472.8,510.5 475.2,511.1 477.7,511.8 480.1,512.4 482.5,513.0 485.0,513.6 487.4,514.2 489.8,514.7 492.3,515.3 494.7,515.8 497.2,516.3 499.6,516.7 502.0,517.2 504.5,517.7 506.9,518.1 509.4,518.5 511.8,518.9 514.2,519.3 516.7,519.7 519.1,520.1 521.5,520.4 524.0,520.8 526.4,521.1 528.9,521.4 531.3,521.7 533.7,522.0 536.2,522.3 538.6,522.6 541.0,522.9 543.5,523.2 545.9,523.4 548.4,523.7 550.8,523.9 553.2,524.1 555.7,524.4 558.1,524.6 560.5,524.8 563.0,525.0 565.4,525.2 567.9,525.4 570.3,525.6" fill="none" stroke="#000" stroke-width="1.5"/>
<path d="M376.59,350.6a1.5,1.5 0 1,0 -3,0a1.5,1.5 0 1,0 3,0M386.49,384.9a1.5,1.5 0 1,0 -3,0a1.5,1.5 0 1,0 3,0M370.38,389.8a1.5,1.5 0 1,0 -3,0a1.5,1.5 0 1,0 3,0M366.29,392.2a1.5,1.5 0 1,0 -3,0a1.5,1.5 0 1,0 3,0M369.59,393.5a1.5,1.5 0 1,0 -3,0a1.5,1.5 0 1,0 3,0M379.89,389.9a1.5,1.5 0 1,0 -3,0a1.5,1.5 0 1,0 3,0M398.77,391.2a1.5,1.5 0 1,0 -3,0a1.5,1.5 0 1,0 3,0M400.09,396.1a1.5,1.5 0 1,0 -3,0a1.5,1.5 0 1,0 3,0M375.27,397.0a1.5,1.5 0 1,0 -3,0a1.5,1.5 0 1,0 3,0M379.23,397.4a1.5,1.5 0 1,0 -3,0a1.5,1.5 0 1,0 3,0M371.04,399.0a1.5,1.5 0 1,0 -3,0a1.5,1.5 0 1,0 3,0M381.61,398.5a1.5,1.5 0 1,0 -3,0a1.5,1.5 0 1,0 3,0M384.51,399.0a1.5,1.5 0 1,0 -3,0a1.5,1.5 0 1,0 3,0M391.51,402.1a1.5,1.5 0 1,0 -3,0a1.5,1.5 0 1,0 3,0M402.07,401.4a1.5,1.5 0 1,0 -3,0a1.5,1.5 0 1,0 3,0M369.06,404.4a1.5,1.5 0 1,0 -3,0a1.5,1.5 0 1,0 3,0M382.53,404.0a1.5,1.5 0 1,0 -3,0a1.5,1.5 0 1,0 3,0M378.97,405.6a1.5,1.5 0 1,0 -3,0a1.5,1.5 0 1,0 3,0M356.78,407.1a1.5,1.5 0 1,0 -3,0a1.5,1.5 0 1,0 3,0M366.03,407.1a1.5,1.5 0 1,0 -3,0a1.5,1.5 0 1,0 3,0M375.80,410.0a1.5,1.5 0 1,0 -3,0a1.5,1.5 0 1,0 3,0M385.17,409.3a1.5,1.5 0 1,0 -3,0a1.5,1.5 0 1,0 3,0M388.47,408.3a1.5,1.5 0 1,0 -3,0a1.5,1.5 0 1,0 3,0M392.70,406.4a1.5,1.5 0 1,0 -3,0a1.5,1.5 0 1,0 3,0M399.04,410.0a1.5,1.5 0 1,0 -3,0a1.5,1.5 0 1,0 3,0M403.00,407.1a1.5,1.5 0 1,0 -3,0a1.5,1.5 0 1,0 3,0M415.54,405.8a1.5,1.5 0 1,0 -3,0a1.5,1.5 0 1,0 3,0M413.30,410.8a1.5,1.5 0 1,0 -3,0a1.5,1.5 0 1,0 3,0M383.19,414.6a1.5,1.5 0 1,0 -3,0a1.5,1.5 0 1,0 3,0M376.59,414.6a1.5,1.5 0 1,0 -3,0a1.5,1.5 0 1,0 3,0M381.42,418.5a1.5,1.5 0 1,0 -3,0a1.5,1.5 0 1,0 3,0M389.55,419.9a1.5,1.5 0 1,0 -3,0a1.5,1.5 0 1,0 3,0M367.90,423.8a1.5,1.5 0 1,0 -3,0a1.5,1.5 0 1,0 3,0M372.12,422.2a1.5,1.5 0 1,0 -3,0a1.5,1.5 0 1,0 3,0M377.40,421.0a1.5,1.5 0 1,0 -3,0a1.5,1.5 0 1,0 3,0M379.51,424.7a1.5,1.5 0 1,0 -3,0a1.5,1.5 0 1,0 3,0M385.85,422.6a1.5,1.5 0 1,0 -3,0a1.5,1.5 0 1,0 3,0M387.12,426.3a1.5,1.5 0 1,0 -3,0a1.5,1.5 0 1,0 3,0M394.83,423.3a1.5,1.5 0 1,0 -3,0a1.5,1.5 0 1,0 3,0M372.97,426.8a1.5,1.5 0 1,0 -3,0a1.5,1.5 0 1,0 3,0M373.18,430.5a1.5,1.5 0 1,0 -3,0a1.5,1.5 0 1,0 3,0M377.93,428.9a1.5,1.5 0 1,0 -3,0a1.5,1.5 0 1,0 3,0M388.81,432.1a1.5,1.5 0 1,0 -3,0a1.5,1.5 0 1,0 3,0M394.83,429.7a1.5,1.5 0 1,0 -3,0a1.5,1.5 0 1,0 3,0M395.88,435.0a1.5,1.5 0 1,0 -3,0a1.5,1.5 0 1,0 3,0M367.37,434.4a1.5,1.5 0 1,0 -3,0a1.5,1.5 0 1,0 3,0M374.76,438.9a1.5,1.5 0 1,0 -3,0a1.5,1.5 0 1,0 3,0M378.99,441.0a1.5,1.5 0 1,0 -3,0a1.5,1.5 0 1,0 3,0M382.68,440.0a1.5,1.5 0 1,0 -3,0a1.5,1.5 0 1,0 3,0M376.87,443.2a1.5,1.5 0 1,0 -3,0a1.5,1.5 0 1,0 3,0M363.15,446.0a1.5,1.5 0 1,0 -3,0a1.5,1.5 0 1,0 3,0M370.01,447.9a1.5,1.5 0 1,0 -3,0a1.5,1.5 0 1,0 3,0M376.35,447.9a1.5,1.5 0 1,0 -3,0a1.5,1.5 0 1,0 3,0M380.57,449.2a1.5,1.5 0 1,0 -3,0a1.5,1.5 0 1,0 3,0M384.79,448.4a1.5,1.5 0 1,0 -3,0a1.5,1.5 0 1,0 3,0M392.19,448.4a1.5,1.5 0 1,0 -3,0a1.5,1.5 0 1,0 3,0M392.19,451.3a1.5,1.5 0 1,0 -3,0a1.5,1.5 0 1,0 3,0M393.24,443.2a1.5,1.5 0 1,0 -3,0a1.5,1.5 0 1,0 3,0M396.41,444.9a1.5,1.5 0 1,0 -3,0a1.5,1.5 0 1,0 3,0M376.87,452.7a1.5,1.5 0 1,0 -3,0a1.5,1.5 0 1,0 3,0M381.63,453.2a1.5,1.5 0 1,0 -3,0a1.5,1.5 0 1,0 3,0M383.74,454.8a1.5,1.5 0 1,0 -3,0a1.5,1.5 0 1,0 3,0M366.32,456.9a1.5,1.5 0 1,0 -3,0a1.5,1.5 0 1,0 3,0M369.48,457.4a1.5,1.5 0 1,0 -3,0a1.5,1.5 0 1,0 3,0M375.29,457.6a1.5,1.5 0 1,0 -3,0a1.5,1.5 0 1,0 3,0M367.90,459.0a1.5,1.5 0 1,0 -3,0a1.5,1.5 0 1,0 3,0M392.19,456.9a1.5,1.5 0 1,0 -3,0a1.5,1.5 0 1,0 3,0M395.35,457.4a1.5,1.5 0 1,0 -3,0a1.5,1.5 0 1,0 3,0M397.99,456.4a1.5,1.5 0 1,0 -3,0a1.5,1.5 0 1,0 3,0M400.63,453.2a1.5,1.5 0 1,0 -3,0a1.5,1.5 0 1,0 3,0M367.37,462.2a1.5,1.5 0 1,0 -3,0a1.5,1.5 0 1,0 3,0M361.04,461.6a1.5,1.5 0 1,0 -3,0a1.5,1.5 0 1,0 3,0M385.85,461.1a1.5,1.5 0 1,0 -3,0a1.5,1.5 0 1,0 3,0M386.91,463.7a1.5,1.5 0 1,0 -3,0a1.5,1.5 0 1,0 3,0M381.63,464.3a1.5,1.5 0 1,0 -3,0a1.5,1.5 0 1,0 3,0M383.74,465.9a1.5,1.5 0 1,0 -3,0a1.5,1.5 0 1,0 3,0M393.24,462.7a1.5,1.5 0 1,0 -3,0a1.5,1.5 0 1,0 3,0M397.47,463.7a1.5,1.5 0 1,0 -3,0a1.5,1.5 0 1,0 3,0M399.05,462.2a1.5,1.5 0 1,0 -3,0a1.5,1.5 0 1,0 3,0M400.11,466.9a1.5,1.5 0 1,0 -3,0a1.5,1.5 0 1,0 3,0M362.62,469.6a1.5,1.5 0 1,0 -3,0a1.5,1.5 0 1,0 3,0M387.96,469.0a1.5,1.5 0 1,0 -3,0a1.5,1.5 0 1,0 3,0M390.07,470.1a1.5,1.5 0 1,0 -3,0a1.5,1.5 0 1,0 3,0M396.41,470.1a1.5,1.5 0 1,0 -3,0a1.5,1.5 0 1,0 3,0M404.46,416.8a1.5,1.5 0 1,0 -3,0a1.5,1.5 0 1,0 3,0M402.56,421.3a1.5,1.5 0 1,0 -3,0a1.5,1.5 0 1,0 3,0M407.62,423.1a1.5,1.5 0 1,0 -3,0a1.5,1.5 0 1,0 3,0M404.46,442.8a1.5,1.5 0 1,0 -3,0a1.5,1.5 0 1,0 3,0M413.33,441.9a1.5,1.5 0 1,0 -3,0a1.5,1.5 0 1,0 3,0M424.20,441.9a1.5,1.5 0 1,0 -3,0a1.5,1.5 0 1,0 3,0M414.38,447.9a1.5,1.5 0 1,0 -3,0a1.5,1.5 0 1,0 3,0M403.82,449.2a1.5,1.5 0 1,0 -3,0a1.5,1.5 0 1,0 3,0M414.70,453.2a1.5,1.5 0 1,0 -3,0a1.5,1.5 0 1,0 3,0M416.81,456.1a1.5,1.5 0 1,0 -3,0a1.5,1.5 0 1,0 3,0M409.42,455.3a1.5,1.5 0 1,0 -3,0a1.5,1.5 0 1,0 3,0M409.10,457.6a1.5,1.5 0 1,0 -3,0a1.5,1.5 0 1,0 3,0M422.09,454.2a1.5,1.5 0 1,0 -3,0a1.5,1.5 0 1,0 3,0M424.20,452.7a1.5,1.5 0 1,0 -3,0a1.5,1.5 0 1,0 3,0M403.61,457.6a1.5,1.5 0 1,0 -3,0a1.5,1.5 0 1,0 3,0M404.88,461.1a1.5,1.5 0 1,0 -3,0a1.5,1.5 0 1,0 3,0M402.56,462.7a1.5,1.5 0 1,0 -3,0a1.5,1.5 0 1,0 3,0M405.20,465.3a1.5,1.5 0 1,0 -3,0a1.5,1.5 0 1,0 3,0M414.17,465.3a1.5,1.5 0 1,0 -3,0a1.5,1.5 0 1,0 3,0M419.24,463.5a1.5,1.5 0 1,0 -3,0a1.5,1.5 0 1,0 3,0M427.05,465.6a1.5,1.5 0 1,0 -3,0a1.5,1.5 0 1,0 3,0M428.43,469.9a1.5,1.5 0 1,0 -3,0a1.5,1.5 0 1,0 3,0M443.21,468.2a1.5,1.5 0 1,0 -3,0a1.5,1.5 0 1,0 3,0M445.32,466.9a1.5,1.5 0 1,0 -3,0a1.5,1.5 0 1,0 3,0M447.43,468.5a1.5,1.5 0 1,0 -3,0a1.5,1.5 0 1,0 3,0M406.25,469.9a1.5,1.5 0 1,0 -3,0a1.5,1.5 0 1,0 3,0M412.06,469.9a1.5,1.5 0 1,0 -3,0a1.5,1.5 0 1,0 3,0M366.00,472.1a1.5,1.5 0 1,0 -3,0a1.5,1.5 0 1,0 3,0M380.04,473.4a1.5,1.5 0 1,0 -3,0a1.5,1.5 0 1,0 3,0M384.79,474.2a1.5,1.5 0 1,0 -3,0a1.5,1.5 0 1,0 3,0M387.96,472.1a1.5,1.5 0 1,0 -3,0a1.5,1.5 0 1,0 3,0M394.30,474.8a1.5,1.5 0 1,0 -3,0a1.5,1.5 0 1,0 3,0M399.05,473.2a1.5,1.5 0 1,0 -3,0a1.5,1.5 0 1,0 3,0M366.84,477.4a1.5,1.5 0 1,0 -3,0a1.5,1.5 0 1,0 3,0M368.96,480.0a1.5,1.5 0 1,0 -3,0a1.5,1.5 0 1,0 3,0M371.07,478.4a1.5,1.5 0 1,0 -3,0a1.5,1.5 0 1,0 3,0M383.21,480.3a1.5,1.5 0 1,0 -3,0a1.5,1.5 0 1,0 3,0M386.91,478.4a1.5,1.5 0 1,0 -3,0a1.5,1.5 0 1,0 3,0M392.19,480.6a1.5,1.5 0 1,0 -3,0a1.5,1.5 0 1,0 3,0M394.30,481.6a1.5,1.5 0 1,0 -3,0a1.5,1.5 0 1,0 3,0M396.41,482.7a1.5,1.5 0 1,0 -3,0a1.5,1.5 0 1,0 3,0M391.13,483.7a1.5,1.5 0 1,0 -3,0a1.5,1.5 0 1,0 3,0M394.30,484.8a1.5,1.5 0 1,0 -3,0a1.5,1.5 0 1,0 3,0M398.52,484.3a1.5,1.5 0 1,0 -3,0a1.5,1.5 0 1,0 3,0M400.11,479.5a1.5,1.5 0 1,0 -3,0a1.5,1.5 0 1,0 3,0M378.46,482.7a1.5,1.5 0 1,0 -3,0a1.5,1.5 0 1,0 3,0M367.90,486.4a1.5,1.5 0 1,0 -3,0a1.5,1.5 0 1,0 3,0M377.93,489.9a1.5,1.5 0 1,0 -3,0a1.5,1.5 0 1,0 3,0M382.68,490.3a1.5,1.5 0 1,0 -3,0a1.5,1.5 0 1,0 3,0M387.96,489.0a1.5,1.5 0 1,0 -3,0a1.5,1.5 0 1,0 3,0M391.13,490.1a1.5,1.5 0 1,0 -3,0a1.5,1.5 0 1,0 3,0M390.60,492.7a1.5,1.5 0 1,0 -3,0a1.5,1.5 0 1,0 3,0M398.52,489.0a1.5,1.5 0 1,0 -3,0a1.5,1.5 0 1,0 3,0M396.41,493.8a1.5,1.5 0 1,0 -3,0a1.5,1.5 0 1,0 3,0M400.11,495.3a1.5,1.5 0 1,0 -3,0a1.5,1.5 0 1,0 3,0M392.19,496.4a1.5,1.5 0 1,0 -3,0a1.5,1.5 0 1,0 3,0M394.30,498.5a1.5,1.5 0 1,0 -3,0a1.5,1.5 0 1,0 3,0M394.30,501.7a1.5,1.5 0 1,0 -3,0a1.5,1.5 0 1,0 3,0M377.40,499.6a1.5,1.5 0 1,0 -3,0a1.5,1.5 0 1,0 3,0M379.51,504.0a1.5,1.5 0 1,0 -3,0a1.5,1.5 0 1,0 3,0M387.43,505.4a1.5,1.5 0 1,0 -3,0a1.5,1.5 0 1,0 3,0M390.60,507.0a1.5,1.5 0 1,0 -3,0a1.5,1.5 0 1,0 3,0M392.19,509.6a1.5,1.5 0 1,0 -3,0a1.5,1.5 0 1,0 3,0M397.99,508.0a1.5,1.5 0 1,0 -3,0a1.5,1.5 0 1,0 3,0M409.95,471.1a1.5,1.5 0 1,0 -3,0a1.5,1.5 0 1,0 3,0M412.59,473.2a1.5,1.5 0 1,0 -3,0a1.5,1.5 0 1,0 3,0M417.34,472.6a1.5,1.5 0 1,0 -3,0a1.5,1.5 0 1,0 3,0M422.09,473.2a1.5,1.5 0 1,0 -3,0a1.5,1.5 0 1,0 3,0M423.68,475.3a1.5,1.5 0 1,0 -3,0a1.5,1.5 0 1,0 3,0M427.90,472.1a1.5,1.5 0 1,0 -3,0a1.5,1.5 0 1,0 3,0M439.51,474.4a1.5,1.5 0 1,0 -3,0a1.5,1.5 0 1,0 3,0M447.96,474.8a1.5,1.5 0 1,0 -3,0a1.5,1.5 0 1,0 3,0M449.55,477.9a1.5,1.5 0 1,0 -3,0a1.5,1.5 0 1,0 3,0M403.61,477.4a1.5,1.5 0 1,0 -3,0a1.5,1.5 0 1,0 3,0M407.84,476.3a1.5,1.5 0 1,0 -3,0a1.5,1.5 0 1,0 3,0M415.23,475.8a1.5,1.5 0 1,0 -3,0a1.5,1.5 0 1,0 3,0M417.34,477.9a1.5,1.5 0 1,0 -3,0a1.5,1.5 0 1,0 3,0M421.04,479.5a1.5,1.5 0 1,0 -3,0a1.5,1.5 0 1,0 3,0M423.68,480.6a1.5,1.5 0 1,0 -3,0a1.5,1.5 0 1,0 3,0M427.90,482.1a1.5,1.5 0 1,0 -3,0a1.5,1.5 0 1,0 3,0M433.18,481.6a1.5,1.5 0 1,0 -3,0a1.5,1.5 0 1,0 3,0M438.46,478.4a1.5,1.5 0 1,0 -3,0a1.5,1.5 0 1,0 3,0M437.93,483.2a1.5,1.5 0 1,0 -3,0a1.5,1.5 0 1,0 3,0M452.19,483.2a1.5,1.5 0 1,0 -3,0a1.5,1.5 0 1,0 3,0M454.30,482.1a1.5,1.5 0 1,0 -3,0a1.5,1.5 0 1,0 3,0M458.52,482.1a1.5,1.5 0 1,0 -3,0a1.5,1.5 0 1,0 3,0M403.08,481.6a1.5,1.5 0 1,0 -3,0a1.5,1.5 0 1,0 3,0M403.61,485.8a1.5,1.5 0 1,0 -3,0a1.5,1.5 0 1,0 3,0M408.89,482.1a1.5,1.5 0 1,0 -3,0a1.5,1.5 0 1,0 3,0M411.53,480.6a1.5,1.5 0 1,0 -3,0a1.5,1.5 0 1,0 3,0M414.17,483.7a1.5,1.5 0 1,0 -3,0a1.5,1.5 0 1,0 3,0M418.40,485.3a1.5,1.5 0 1,0 -3,0a1.5,1.5 0 1,0 3,0M421.56,483.7a1.5,1.5 0 1,0 -3,0a1.5,1.5 0 1,0 3,0M423.68,486.9a1.5,1.5 0 1,0 -3,0a1.5,1.5 0 1,0 3,0M430.01,485.8a1.5,1.5 0 1,0 -3,0a1.5,1.5 0 1,0 3,0M432.12,488.0a1.5,1.5 0 1,0 -3,0a1.5,1.5 0 1,0 3,0M434.23,484.8a1.5,1.5 0 1,0 -3,0a1.5,1.5 0 1,0 3,0M441.10,486.9a1.5,1.5 0 1,0 -3,0a1.5,1.5 0 1,0 3,0M450.07,488.5a1.5,1.5 0 1,0 -3,0a1.5,1.5 0 1,0 3,0M454.30,488.5a1.5,1.5 0 1,0 -3,0a1.5,1.5 0 1,0 3,0M403.08,491.1a1.5,1.5 0 1,0 -3,0a1.5,1.5 0 1,0 3,0M405.72,493.2a1.5,1.5 0 1,0 -3,0a1.5,1.5 0 1,0 3,0M411.53,491.1a1.5,1.5 0 1,0 -3,0a1.5,1.5 0 1,0 3,0M412.59,494.3a1.5,1.5 0 1,0 -3,0a1.5,1.5 0 1,0 3,0M417.34,492.2a1.5,1.5 0 1,0 -3,0a1.5,1.5 0 1,0 3,0M422.62,490.1a1.5,1.5 0 1,0 -3,0a1.5,1.5 0 1,0 3,0M427.37,490.6a1.5,1.5 0 1,0 -3,0a1.5,1.5 0 1,0 3,0M429.48,492.2a1.5,1.5 0 1,0 -3,0a1.5,1.5 0 1,0 3,0M437.93,489.5a1.5,1.5 0 1,0 -3,0a1.5,1.5 0 1,0 3,0M444.79,492.7a1.5,1.5 0 1,0 -3,0a1.5,1.5 0 1,0 3,0M438.99,495.3a1.5,1.5 0 1,0 -3,0a1.5,1.5 0 1,0 3,0M456.41,492.2a1.5,1.5 0 1,0 -3,0a1.5,1.5 0 1,0 3,0M459.58,494.8a1.5,1.5 0 1,0 -3,0a1.5,1.5 0 1,0 3,0M404.67,497.5a1.5,1.5 0 1,0 -3,0a1.5,1.5 0 1,0 3,0M408.36,498.5a1.5,1.5 0 1,0 -3,0a1.5,1.5 0 1,0 3,0M413.64,496.4a1.5,1.5 0 1,0 -3,0a1.5,1.5 0 1,0 3,0M416.28,500.6a1.5,1.5 0 1,0 -3,0a1.5,1.5 0 1,0 3,0M421.04,498.0a1.5,1.5 0 1,0 -3,0a1.5,1.5 0 1,0 3,0M424.20,499.0a1.5,1.5 0 1,0 -3,0a1.5,1.5 0 1,0 3,0M426.84,501.7a1.5,1.5 0 1,0 -3,0a1.5,1.5 0 1,0 3,0M430.54,501.7a1.5,1.5 0 1,0 -3,0a1.5,1.5 0 1,0 3,0M432.12,503.3a1.5,1.5 0 1,0 -3,0a1.5,1.5 0 1,0 3,0M436.35,500.1a1.5,1.5 0 1,0 -3,0a1.5,1.5 0 1,0 3,0M443.21,500.6a1.5,1.5 0 1,0 -3,0a1.5,1.5 0 1,0 3,0M454.30,498.5a1.5,1.5 0 1,0 -3,0a1.5,1.5 0 1,0 3,0M445.32,503.8a1.5,1.5 0 1,0 -3,0a1.5,1.5 0 1,0 3,0M454.30,503.8a1.5,1.5 0 1,0 -3,0a1.5,1.5 0 1,0 3,0M457.47,504.8a1.5,1.5 0 1,0 -3,0a1.5,1.5 0 1,0 3,0M403.08,505.9a1.5,1.5 0 1,0 -3,0a1.5,1.5 0 1,0 3,0M405.72,502.2a1.5,1.5 0 1,0 -3,0a1.5,1.5 0 1,0 3,0M411.00,504.3a1.5,1.5 0 1,0 -3,0a1.5,1.5 0 1,0 3,0M414.70,502.7a1.5,1.5 0 1,0 -3,0a1.5,1.5 0 1,0 3,0M418.40,504.8a1.5,1.5 0 1,0 -3,0a1.5,1.5 0 1,0 3,0M417.34,508.0a1.5,1.5 0 1,0 -3,0a1.5,1.5 0 1,0 3,0M424.73,504.8a1.5,1.5 0 1,0 -3,0a1.5,1.5 0 1,0 3,0M430.01,504.8a1.5,1.5 0 1,0 -3,0a1.5,1.5 0 1,0 3,0M436.87,504.8a1.5,1.5 0 1,0 -3,0a1.5,1.5 0 1,0 3,0M443.74,507.0a1.5,1.5 0 1,0 -3,0a1.5,1.5 0 1,0 3,0M450.07,506.4a1.5,1.5 0 1,0 -3,0a1.5,1.5 0 1,0 3,0M453.24,508.0a1.5,1.5 0 1,0 -3,0a1.5,1.5 0 1,0 3,0M407.31,509.1a1.5,1.5 0 1,0 -3,0a1.5,1.5 0 1,0 3,0M410.48,513.3a1.5,1.5 0 1,0 -3,0a1.5,1.5 0 1,0 3,0M417.34,512.8a1.5,1.5 0 1,0 -3,0a1.5,1.5 0 1,0 3,0M424.20,511.7a1.5,1.5 0 1,0 -3,0a1.5,1.5 0 1,0 3,0M424.20,515.4a1.5,1.5 0 1,0 -3,0a1.5,1.5 0 1,0 3,0M428.43,512.8a1.5,1.5 0 1,0 -3,0a1.5,1.5 0 1,0 3,0M432.65,514.9a1.5,1.5 0 1,0 -3,0a1.5,1.5 0 1,0 3,0M438.99,513.3a1.5,1.5 0 1,0 -3,0a1.5,1.5 0 1,0 3,0M442.68,516.5a1.5,1.5 0 1,0 -3,0a1.5,1.5 0 1,0 3,0M448.49,512.2a1.5,1.5 0 1,0 -3,0a1.5,1.5 0 1,0 3,0M450.60,516.5a1.5,1.5 0 1,0 -3,0a1.5,1.5 0 1,0 3,0M455.88,518.0a1.5,1.5 0 1,0 -3,0a1.5,1.5 0 1,0 3,0M459.05,512.2a1.5,1.5 0 1,0 -3,0a1.5,1.5 0 1,0 3,0M459.05,515.4a1.5,1.5 0 1,0 -3,0a1.5,1.5 0 1,0 3,0M458.52,524.4a1.5,1.5 0 1,0 -3,0a1.5,1.5 0 1,0 3,0M460.11,509.1a1.5,1.5 0 1,0 -3,0a1.5,1.5 0 1,0 3,0M474.11,492.7a1.5,1.5 0 1,0 -3,0a1.5,1.5 0 1,0 3,0M465.65,501.1a1.5,1.5 0 1,0 -3,0a1.5,1.5 0 1,0 3,0M469.18,499.3a1.5,1.5 0 1,0 -3,0a1.5,1.5 0 1,0 3,0M471.29,503.2a1.5,1.5 0 1,0 -3,0a1.5,1.5 0 1,0 3,0M469.88,506.1a1.5,1.5 0 1,0 -3,0a1.5,1.5 0 1,0 3,0M479.04,501.1a1.5,1.5 0 1,0 -3,0a1.5,1.5 0 1,0 3,0M478.75,504.6a1.5,1.5 0 1,0 -3,0a1.5,1.5 0 1,0 3,0M477.63,507.2a1.5,1.5 0 1,0 -3,0a1.5,1.5 0 1,0 3,0M485.37,504.6a1.5,1.5 0 1,0 -3,0a1.5,1.5 0 1,0 3,0M490.30,508.2a1.5,1.5 0 1,0 -3,0a1.5,1.5 0 1,0 3,0M504.39,508.9a1.5,1.5 0 1,0 -3,0a1.5,1.5 0 1,0 3,0M510.73,505.4a1.5,1.5 0 1,0 -3,0a1.5,1.5 0 1,0 3,0M513.54,506.1a1.5,1.5 0 1,0 -3,0a1.5,1.5 0 1,0 3,0M457.91,502.5a1.5,1.5 0 1,0 -3,0a1.5,1.5 0 1,0 3,0M492.67,510.0a1.5,1.5 0 1,0 -3,0a1.5,1.5 0 1,0 3,0M490.59,513.5a1.5,1.5 0 1,0 -3,0a1.5,1.5 0 1,0 3,0M482.93,512.8a1.5,1.5 0 1,0 -3,0a1.5,1.5 0 1,0 3,0M486.41,516.3a1.5,1.5 0 1,0 -3,0a1.5,1.5 0 1,0 3,0M480.15,517.7a1.5,1.5 0 1,0 -3,0a1.5,1.5 0 1,0 3,0M475.98,514.9a1.5,1.5 0 1,0 -3,0a1.5,1.5 0 1,0 3,0M472.50,513.5a1.5,1.5 0 1,0 -3,0a1.5,1.5 0 1,0 3,0M471.11,517.7a1.5,1.5 0 1,0 -3,0a1.5,1.5 0 1,0 3,0M465.54,517.7a1.5,1.5 0 1,0 -3,0a1.5,1.5 0 1,0 3,0M466.93,523.3a1.5,1.5 0 1,0 -3,0a1.5,1.5 0 1,0 3,0M514.24,513.9a1.5,1.5 0 1,0 -3,0a1.5,1.5 0 1,0 3,0M504.50,517.7a1.5,1.5 0 1,0 -3,0a1.5,1.5 0 1,0 3,0M494.76,520.5a1.5,1.5 0 1,0 -3,0a1.5,1.5 0 1,0 3,0M498.24,519.8a1.5,1.5 0 1,0 -3,0a1.5,1.5 0 1,0 3,0M493.37,518.4a1.5,1.5 0 1,0 -3,0a1.5,1.5 0 1,0 3,0M486.41,524.7a1.5,1.5 0 1,0 -3,0a1.5,1.5 0 1,0 3,0M507.98,526.0a1.5,1.5 0 1,0 -3,0a1.5,1.5 0 1,0 3,0M514.93,527.4a1.5,1.5 0 1,0 -3,0a1.5,1.5 0 1,0 3,0M521.20,526.7a1.5,1.5 0 1,0 -3,0a1.5,1.5 0 1,0 3,0M549.12,516.9a1.5,1.5 0 1,0 -3,0a1.5,1.5 0 1,0 3,0M547.04,520.3a1.5,1.5 0 1,0 -3,0a1.5,1.5 0 1,0 3,0M538.10,529.0a1.5,1.5 0 1,0 -3,0a1.5,1.5 0 1,0 3,0M384.54,471.8a1.5,1.5 0 1,0 -3,0a1.5,1.5 0 1,0 3,0M369.81,392.8a1.5,1.5 0 1,0 -3,0a1.5,1.5 0 1,0 3,0M379.17,400.2a1.5,1.5 0 1,0 -3,0a1.5,1.5 0 1,0 3,0M383.18,401.5a1.5,1.5 0 1,0 -3,0a1.5,1.5 0 1,0 3,0M384.21,403.9a1.5,1.5 0 1,0 -3,0a1.5,1.5 0 1,0 3,0M385.85,411.2a1.5,1.5 0 1,0 -3,0a1.5,1.5 0 1,0 3,0M389.68,409.1a1.5,1.5 0 1,0 -3,0a1.5,1.5 0 1,0 3,0M377.88,415.1a1.5,1.5 0 1,0 -3,0a1.5,1.5 0 1,0 3,0M379.07,420.4a1.5,1.5 0 1,0 -3,0a1.5,1.5 0 1,0 3,0M373.22,424.1a1.5,1.5 0 1,0 -3,0a1.5,1.5 0 1,0 3,0M387.36,422.3a1.5,1.5 0 1,0 -3,0a1.5,1.5 0 1,0 3,0M376.11,427.5a1.5,1.5 0 1,0 -3,0a1.5,1.5 0 1,0 3,0M377.51,442.2a1.5,1.5 0 1,0 -3,0a1.5,1.5 0 1,0 3,0M375.78,447.2a1.5,1.5 0 1,0 -3,0a1.5,1.5 0 1,0 3,0M380.99,451.2a1.5,1.5 0 1,0 -3,0a1.5,1.5 0 1,0 3,0M385.54,457.1a1.5,1.5 0 1,0 -3,0a1.5,1.5 0 1,0 3,0M370.55,456.0a1.5,1.5 0 1,0 -3,0a1.5,1.5 0 1,0 3,0M366.82,456.8a1.5,1.5 0 1,0 -3,0a1.5,1.5 0 1,0 3,0M399.50,455.9a1.5,1.5 0 1,0 -3,0a1.5,1.5 0 1,0 3,0M399.60,454.5a1.5,1.5 0 1,0 -3,0a1.5,1.5 0 1,0 3,0M386.42,458.8a1.5,1.5 0 1,0 -3,0a1.5,1.5 0 1,0 3,0M383.53,466.7a1.5,1.5 0 1,0 -3,0a1.5,1.5 0 1,0 3,0M386.23,464.9a1.5,1.5 0 1,0 -3,0a1.5,1.5 0 1,0 3,0M393.74,460.3a1.5,1.5 0 1,0 -3,0a1.5,1.5 0 1,0 3,0M397.01,464.3a1.5,1.5 0 1,0 -3,0a1.5,1.5 0 1,0 3,0M396.76,464.0a1.5,1.5 0 1,0 -3,0a1.5,1.5 0 1,0 3,0M402.40,468.9a1.5,1.5 0 1,0 -3,0a1.5,1.5 0 1,0 3,0M387.76,469.1a1.5,1.5 0 1,0 -3,0a1.5,1.5 0 1,0 3,0M396.71,470.7a1.5,1.5 0 1,0 -3,0a1.5,1.5 0 1,0 3,0M416.47,457.2a1.5,1.5 0 1,0 -3,0a1.5,1.5 0 1,0 3,0M408.43,457.7a1.5,1.5 0 1,0 -3,0a1.5,1.5 0 1,0 3,0M409.35,455.2a1.5,1.5 0 1,0 -3,0a1.5,1.5 0 1,0 3,0M404.01,455.2a1.5,1.5 0 1,0 -3,0a1.5,1.5 0 1,0 3,0M405.83,465.2a1.5,1.5 0 1,0 -3,0a1.5,1.5 0 1,0 3,0M429.46,471.1a1.5,1.5 0 1,0 -3,0a1.5,1.5 0 1,0 3,0M404.05,470.7a1.5,1.5 0 1,0 -3,0a1.5,1.5 0 1,0 3,0M384.58,474.7a1.5,1.5 0 1,0 -3,0a1.5,1.5 0 1,0 3,0M387.28,471.2a1.5,1.5 0 1,0 -3,0a1.5,1.5 0 1,0 3,0M394.78,473.8a1.5,1.5 0 1,0 -3,0a1.5,1.5 0 1,0 3,0M400.41,470.8a1.5,1.5 0 1,0 -3,0a1.5,1.5 0 1,0 3,0M384.39,479.4a1.5,1.5 0 1,0 -3,0a1.5,1.5 0 1,0 3,0M388.43,477.1a1.5,1.5 0 1,0 -3,0a1.5,1.5 0 1,0 3,0M391.86,481.5a1.5,1.5 0 1,0 -3,0a1.5,1.5 0 1,0 3,0M393.41,480.8a1.5,1.5 0 1,0 -3,0a1.5,1.5 0 1,0 3,0M392.91,482.1a1.5,1.5 0 1,0 -3,0a1.5,1.5 0 1,0 3,0M395.05,486.7a1.5,1.5 0 1,0 -3,0a1.5,1.5 0 1,0 3,0M397.15,482.4a1.5,1.5 0 1,0 -3,0a1.5,1.5 0 1,0 3,0M398.56,481.0a1.5,1.5 0 1,0 -3,0a1.5,1.5 0 1,0 3,0M390.02,491.6a1.5,1.5 0 1,0 -3,0a1.5,1.5 0 1,0 3,0M394.56,492.7a1.5,1.5 0 1,0 -3,0a1.5,1.5 0 1,0 3,0M391.42,496.0a1.5,1.5 0 1,0 -3,0a1.5,1.5 0 1,0 3,0M393.85,500.6a1.5,1.5 0 1,0 -3,0a1.5,1.5 0 1,0 3,0M391.82,503.9a1.5,1.5 0 1,0 -3,0a1.5,1.5 0 1,0 3,0M412.20,473.2a1.5,1.5 0 1,0 -3,0a1.5,1.5 0 1,0 3,0M413.82,474.9a1.5,1.5 0 1,0 -3,0a1.5,1.5 0 1,0 3,0M421.04,472.4a1.5,1.5 0 1,0 -3,0a1.5,1.5 0 1,0 3,0M421.52,475.7a1.5,1.5 0 1,0 -3,0a1.5,1.5 0 1,0 3,0M429.45,469.8a1.5,1.5 0 1,0 -3,0a1.5,1.5 0 1,0 3,0M421.24,481.8a1.5,1.5 0 1,0 -3,0a1.5,1.5 0 1,0 3,0M426.90,483.0a1.5,1.5 0 1,0 -3,0a1.5,1.5 0 1,0 3,0M432.75,483.8a1.5,1.5 0 1,0 -3,0a1.5,1.5 0 1,0 3,0M436.69,485.0a1.5,1.5 0 1,0 -3,0a1.5,1.5 0 1,0 3,0M453.60,482.5a1.5,1.5 0 1,0 -3,0a1.5,1.5 0 1,0 3,0M454.47,483.7a1.5,1.5 0 1,0 -3,0a1.5,1.5 0 1,0 3,0M404.54,483.7a1.5,1.5 0 1,0 -3,0a1.5,1.5 0 1,0 3,0M412.17,482.4a1.5,1.5 0 1,0 -3,0a1.5,1.5 0 1,0 3,0M413.03,482.6a1.5,1.5 0 1,0 -3,0a1.5,1.5 0 1,0 3,0M418.01,485.2a1.5,1.5 0 1,0 -3,0a1.5,1.5 0 1,0 3,0M421.45,485.0a1.5,1.5 0 1,0 -3,0a1.5,1.5 0 1,0 3,0M427.85,488.2a1.5,1.5 0 1,0 -3,0a1.5,1.5 0 1,0 3,0M434.25,483.9a1.5,1.5 0 1,0 -3,0a1.5,1.5 0 1,0 3,0M440.36,487.6a1.5,1.5 0 1,0 -3,0a1.5,1.5 0 1,0 3,0M449.38,486.9a1.5,1.5 0 1,0 -3,0a1.5,1.5 0 1,0 3,0M452.42,488.8a1.5,1.5 0 1,0 -3,0a1.5,1.5 0 1,0 3,0M403.62,491.6a1.5,1.5 0 1,0 -3,0a1.5,1.5 0 1,0 3,0M412.05,492.5a1.5,1.5 0 1,0 -3,0a1.5,1.5 0 1,0 3,0M414.09,494.9a1.5,1.5 0 1,0 -3,0a1.5,1.5 0 1,0 3,0M416.70,492.2a1.5,1.5 0 1,0 -3,0a1.5,1.5 0 1,0 3,0M428.34,490.4a1.5,1.5 0 1,0 -3,0a1.5,1.5 0 1,0 3,0M429.66,493.2a1.5,1.5 0 1,0 -3,0a1.5,1.5 0 1,0 3,0M437.56,489.2a1.5,1.5 0 1,0 -3,0a1.5,1.5 0 1,0 3,0M458.40,493.6a1.5,1.5 0 1,0 -3,0a1.5,1.5 0 1,0 3,0M404.49,495.6a1.5,1.5 0 1,0 -3,0a1.5,1.5 0 1,0 3,0M428.55,502.1a1.5,1.5 0 1,0 -3,0a1.5,1.5 0 1,0 3,0M430.34,504.6a1.5,1.5 0 1,0 -3,0a1.5,1.5 0 1,0 3,0M434.31,498.1a1.5,1.5 0 1,0 -3,0a1.5,1.5 0 1,0 3,0M451.92,500.2a1.5,1.5 0 1,0 -3,0a1.5,1.5 0 1,0 3,0M456.02,504.7a1.5,1.5 0 1,0 -3,0a1.5,1.5 0 1,0 3,0M412.50,502.0a1.5,1.5 0 1,0 -3,0a1.5,1.5 0 1,0 3,0M419.47,502.9a1.5,1.5 0 1,0 -3,0a1.5,1.5 0 1,0 3,0M429.13,505.2a1.5,1.5 0 1,0 -3,0a1.5,1.5 0 1,0 3,0M442.14,505.7a1.5,1.5 0 1,0 -3,0a1.5,1.5 0 1,0 3,0M406.65,508.6a1.5,1.5 0 1,0 -3,0a1.5,1.5 0 1,0 3,0M416.93,510.7a1.5,1.5 0 1,0 -3,0a1.5,1.5 0 1,0 3,0M426.57,511.3a1.5,1.5 0 1,0 -3,0a1.5,1.5 0 1,0 3,0M456.84,519.3a1.5,1.5 0 1,0 -3,0a1.5,1.5 0 1,0 3,0M458.97,516.1a1.5,1.5 0 1,0 -3,0a1.5,1.5 0 1,0 3,0M463.63,502.4a1.5,1.5 0 1,0 -3,0a1.5,1.5 0 1,0 3,0M469.60,507.2a1.5,1.5 0 1,0 -3,0a1.5,1.5 0 1,0 3,0M477.59,503.1a1.5,1.5 0 1,0 -3,0a1.5,1.5 0 1,0 3,0M476.70,505.8a1.5,1.5 0 1,0 -3,0a1.5,1.5 0 1,0 3,0M483.96,512.4a1.5,1.5 0 1,0 -3,0a1.5,1.5 0 1,0 3,0M474.81,513.5a1.5,1.5 0 1,0 -3,0a1.5,1.5 0 1,0 3,0M471.01,517.1a1.5,1.5 0 1,0 -3,0a1.5,1.5 0 1,0 3,0M492.67,517.5a1.5,1.5 0 1,0 -3,0a1.5,1.5 0 1,0 3,0" fill="none" stroke="#000" stroke-width="0.9"/>
</g>
<line x1="326.50" y1="540.83" x2="326.50" y2="544.33" stroke="#404040" stroke-width="1"/>
<text x="326.50" y="553.8" font-size="8.7" text-anchor="middle">0</text>
<line x1="375.26" y1="540.83" x2="375.26" y2="544.33" stroke="#404040" stroke-width="1"/>
<text x="375.26" y="553.8" font-size="8.7" text-anchor="middle">2</text>
<line x1="424.02" y1="540.83" x2="424.02" y2="544.33" stroke="#404040" stroke-width="1"/>
<text x="424.02" y="553.8" font-size="8.7" text-anchor="middle">4</text>
<line x1="472.78" y1="540.83" x2="472.78" y2="544.33" stroke="#404040" stroke-width="1"/>
<text x="472.78" y="553.8" font-size="8.7" text-anchor="middle">6</text>
<line x1="521.54" y1="540.83" x2="521.54" y2="544.33" stroke="#404040" stroke-width="1"/>
<text x="521.54" y="553.8" font-size="8.7" text-anchor="middle">8</text>
<line x1="570.30" y1="540.83" x2="570.30" y2="544.33" stroke="#404040" stroke-width="1"/>
<text x="570.30" y="553.8" font-size="8.7" text-anchor="middle">10</text>
<line x1="322.7" y1="531.30" x2="326.5" y2="531.30" stroke="#404040" stroke-width="1"/>
<text transform="translate(318.0,531.30) rotate(-90)" font-size="8.7" text-anchor="middle">0.0</text>
<line x1="322.7" y1="498.30" x2="326.5" y2="498.30" stroke="#404040" stroke-width="1"/>
<text transform="translate(318.0,498.30) rotate(-90)" font-size="8.7" text-anchor="middle">0.5</text>
<line x1="322.7" y1="465.30" x2="326.5" y2="465.30" stroke="#404040" stroke-width="1"/>
<text transform="translate(318.0,465.30) rotate(-90)" font-size="8.7" text-anchor="middle">1.0</text>
<line x1="322.7" y1="432.30" x2="326.5" y2="432.30" stroke="#404040" stroke-width="1"/>
<text transform="translate(318.0,432.30) rotate(-90)" font-size="8.7" text-anchor="middle">1.5</text>
<line x1="322.7" y1="399.30" x2="326.5" y2="399.30" stroke="#404040" stroke-width="1"/>
<text transform="translate(318.0,399.30) rotate(-90)" font-size="8.7" text-anchor="middle">2.0</text>
<line x1="322.7" y1="366.30" x2="326.5" y2="366.30" stroke="#404040" stroke-width="1"/>
<text transform="translate(318.0,366.30) rotate(-90)" font-size="8.7" text-anchor="middle">2.5</text>
<line x1="322.7" y1="333.30" x2="326.5" y2="333.30" stroke="#404040" stroke-width="1"/>
<text transform="translate(318.0,333.30) rotate(-90)" font-size="8.7" text-anchor="middle">3.0</text>
<line x1="322.7" y1="300.30" x2="326.5" y2="300.30" stroke="#404040" stroke-width="1"/>
<text transform="translate(318.0,300.30) rotate(-90)" font-size="8.7" text-anchor="middle">3.5</text>
<text x="448.3" y="566.1" font-size="8.8" text-anchor="middle">Wind speed (m s<tspan font-size="6.0" dy="-3.6">−1</tspan><tspan dy="3.6">)</tspan></text>
<text transform="translate(301.5,415.5) rotate(-90)" font-size="8.7" text-anchor="middle">UHI (<tspan font-size="6.52" dy="-4.35">o</tspan><tspan dy="4.35">C)</tspan></text>
<text x="333.3" y="314.6" font-size="18" textLength="20" lengthAdjust="spacingAndGlyphs">(d)</text>
</svg></body></html>
